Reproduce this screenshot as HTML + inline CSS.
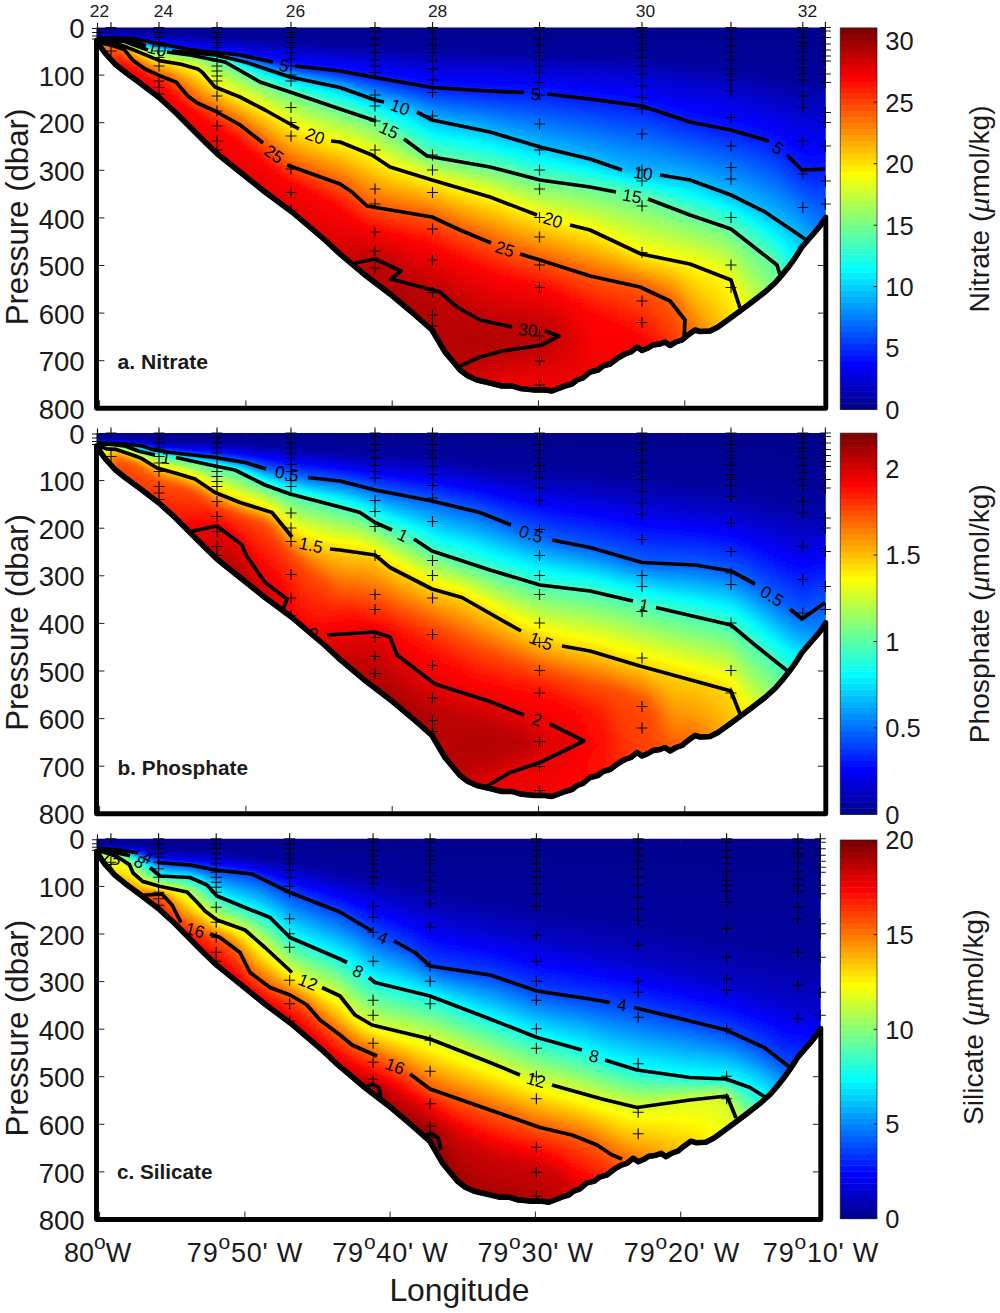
<!DOCTYPE html><html><head><meta charset="utf-8"><title>Nutrient sections</title><style>html,body{margin:0;padding:0;background:#fff}svg{display:block}</style></head><body><svg width="1000" height="1313" viewBox="0 0 1000 1313" font-family='"Liberation Sans", sans-serif' fill="#1a1a1a"><defs><filter id="bl" x="-3%" y="-3%" width="106%" height="106%"><feGaussianBlur stdDeviation="2.5 0"/></filter><linearGradient id="jet" x1="0" x2="0" y1="1" y2="0"><stop offset="0" stop-color="#00008f"/><stop offset=".109" stop-color="#0000ff"/><stop offset=".359" stop-color="#00ffff"/><stop offset=".609" stop-color="#ffff00"/><stop offset=".859" stop-color="#ff0000"/><stop offset="1" stop-color="#800000"/></linearGradient><linearGradient id="a0" gradientUnits="userSpaceOnUse" x1="0" x2="0" y1="27.5" y2="408.3"><stop offset="0" stop-color="#00008e"/><stop offset=".008" stop-color="#000096"/><stop offset=".013" stop-color="#0000a6"/><stop offset=".016" stop-color="#0000bb"/><stop offset=".018" stop-color="#0000e4"/><stop offset=".021" stop-color="#0026ff"/><stop offset=".024" stop-color="#0078ff"/><stop offset=".026" stop-color="#00d1ff"/><stop offset=".029" stop-color="#2effd1"/><stop offset=".032" stop-color="#88ff77"/><stop offset=".034" stop-color="#d2ff2d"/><stop offset=".037" stop-color="#ffff00"/><stop offset=".039" stop-color="#ffec00"/><stop offset=".042" stop-color="#ffe700"/><stop offset=".060" stop-color="#ffe700"/></linearGradient><linearGradient id="a1" gradientUnits="userSpaceOnUse" x1="0" x2="0" y1="27.5" y2="408.3"><stop offset="0" stop-color="#00008e"/><stop offset=".008" stop-color="#000096"/><stop offset=".013" stop-color="#0000a5"/><stop offset=".016" stop-color="#0000b9"/><stop offset=".018" stop-color="#0000de"/><stop offset=".021" stop-color="#0018ff"/><stop offset=".024" stop-color="#0061ff"/><stop offset=".026" stop-color="#00b4ff"/><stop offset=".029" stop-color="#12ffed"/><stop offset=".032" stop-color="#75ff8a"/><stop offset=".034" stop-color="#ccff33"/><stop offset=".037" stop-color="#fff800"/><stop offset=".039" stop-color="#ffde00"/><stop offset=".042" stop-color="#ffd600"/><stop offset=".060" stop-color="#ffd500"/></linearGradient><linearGradient id="a2" gradientUnits="userSpaceOnUse" x1="0" x2="0" y1="27.5" y2="408.3"><stop offset="0" stop-color="#00008e"/><stop offset=".008" stop-color="#000096"/><stop offset=".013" stop-color="#0000a4"/><stop offset=".016" stop-color="#0000b6"/><stop offset=".018" stop-color="#0000d3"/><stop offset=".021" stop-color="#0000fe"/><stop offset=".024" stop-color="#0036ff"/><stop offset=".026" stop-color="#007dff"/><stop offset=".029" stop-color="#00daff"/><stop offset=".032" stop-color="#4bffb4"/><stop offset=".034" stop-color="#b8ff47"/><stop offset=".037" stop-color="#fff700"/><stop offset=".039" stop-color="#ffcb00"/><stop offset=".042" stop-color="#ffb700"/><stop offset=".045" stop-color="#ffaf00"/><stop offset=".066" stop-color="#ffa800"/></linearGradient><linearGradient id="a3" gradientUnits="userSpaceOnUse" x1="0" x2="0" y1="27.5" y2="408.3"><stop offset="0" stop-color="#00008e"/><stop offset=".008" stop-color="#000096"/><stop offset=".013" stop-color="#0000a3"/><stop offset=".016" stop-color="#0000b2"/><stop offset=".018" stop-color="#0000c8"/><stop offset=".021" stop-color="#0000e6"/><stop offset=".024" stop-color="#000eff"/><stop offset=".026" stop-color="#0047ff"/><stop offset=".029" stop-color="#009fff"/><stop offset=".032" stop-color="#15ffea"/><stop offset=".034" stop-color="#8eff71"/><stop offset=".037" stop-color="#f0ff0f"/><stop offset=".039" stop-color="#ffcd00"/><stop offset=".042" stop-color="#ffa700"/><stop offset=".045" stop-color="#ff9100"/><stop offset=".050" stop-color="#ff7e00"/><stop offset=".068" stop-color="#ff6d00"/><stop offset=".089" stop-color="#ff6300"/></linearGradient><linearGradient id="a4" gradientUnits="userSpaceOnUse" x1="0" x2="0" y1="27.5" y2="408.3"><stop offset="0" stop-color="#00008e"/><stop offset=".008" stop-color="#000096"/><stop offset=".013" stop-color="#0000a2"/><stop offset=".018" stop-color="#0000c2"/><stop offset=".021" stop-color="#0000da"/><stop offset=".024" stop-color="#0000f9"/><stop offset=".026" stop-color="#0029ff"/><stop offset=".029" stop-color="#0077ff"/><stop offset=".032" stop-color="#00e2ff"/><stop offset=".034" stop-color="#59ffa6"/><stop offset=".037" stop-color="#beff41"/><stop offset=".039" stop-color="#fff500"/><stop offset=".042" stop-color="#ffc100"/><stop offset=".045" stop-color="#ff9c00"/><stop offset=".047" stop-color="#ff8200"/><stop offset=".050" stop-color="#ff7000"/><stop offset=".055" stop-color="#ff5b00"/><stop offset=".081" stop-color="#ff3600"/><stop offset=".108" stop-color="#ff2900"/></linearGradient><linearGradient id="a5" gradientUnits="userSpaceOnUse" x1="0" x2="0" y1="27.5" y2="408.3"><stop offset="0" stop-color="#00008e"/><stop offset=".008" stop-color="#000096"/><stop offset=".013" stop-color="#0000a1"/><stop offset=".018" stop-color="#0000bf"/><stop offset=".024" stop-color="#0000f1"/><stop offset=".026" stop-color="#001bff"/><stop offset=".029" stop-color="#005dff"/><stop offset=".032" stop-color="#00baff"/><stop offset=".034" stop-color="#23ffdc"/><stop offset=".037" stop-color="#80ff7f"/><stop offset=".039" stop-color="#c8ff37"/><stop offset=".042" stop-color="#fffe00"/><stop offset=".045" stop-color="#ffd200"/><stop offset=".050" stop-color="#ff8f00"/><stop offset=".055" stop-color="#ff6600"/><stop offset=".060" stop-color="#ff5100"/><stop offset=".076" stop-color="#ff3000"/><stop offset=".095" stop-color="#ff1400"/><stop offset=".108" stop-color="#ff0a00"/><stop offset=".123" stop-color="#ff0800"/></linearGradient><linearGradient id="a6" gradientUnits="userSpaceOnUse" x1="0" x2="0" y1="27.5" y2="408.3"><stop offset="0" stop-color="#00008e"/><stop offset=".013" stop-color="#0000a0"/><stop offset=".018" stop-color="#0000bc"/><stop offset=".024" stop-color="#0000eb"/><stop offset=".026" stop-color="#0010ff"/><stop offset=".029" stop-color="#0047ff"/><stop offset=".032" stop-color="#0093ff"/><stop offset=".034" stop-color="#00ebff"/><stop offset=".037" stop-color="#3dffc2"/><stop offset=".039" stop-color="#7fff80"/><stop offset=".042" stop-color="#b4ff4b"/><stop offset=".045" stop-color="#e1ff1e"/><stop offset=".047" stop-color="#fff500"/><stop offset=".053" stop-color="#ffb000"/><stop offset=".058" stop-color="#ff8200"/><stop offset=".066" stop-color="#ff5d00"/><stop offset=".076" stop-color="#ff3e00"/><stop offset=".092" stop-color="#ff1600"/><stop offset=".102" stop-color="#ff0600"/><stop offset=".110" stop-color="#fe0000"/><stop offset=".137" stop-color="#fa0000"/></linearGradient><linearGradient id="a7" gradientUnits="userSpaceOnUse" x1="0" x2="0" y1="27.5" y2="408.3"><stop offset="0" stop-color="#00008e"/><stop offset=".011" stop-color="#000099"/><stop offset=".016" stop-color="#0000a9"/><stop offset=".021" stop-color="#0000cc"/><stop offset=".026" stop-color="#0003ff"/><stop offset=".029" stop-color="#002fff"/><stop offset=".032" stop-color="#006aff"/><stop offset=".037" stop-color="#00f2ff"/><stop offset=".039" stop-color="#2fffd0"/><stop offset=".045" stop-color="#8eff71"/><stop offset=".053" stop-color="#fffe00"/><stop offset=".058" stop-color="#ffc500"/><stop offset=".066" stop-color="#ff8f00"/><stop offset=".087" stop-color="#ff3700"/><stop offset=".097" stop-color="#ff1500"/><stop offset=".110" stop-color="#fe0000"/><stop offset=".150" stop-color="#f70000"/></linearGradient><linearGradient id="a8" gradientUnits="userSpaceOnUse" x1="0" x2="0" y1="27.5" y2="408.3"><stop offset="0" stop-color="#00008e"/><stop offset=".011" stop-color="#000098"/><stop offset=".016" stop-color="#0000a6"/><stop offset=".021" stop-color="#0000c5"/><stop offset=".026" stop-color="#0000f4"/><stop offset=".029" stop-color="#0016ff"/><stop offset=".032" stop-color="#0040ff"/><stop offset=".039" stop-color="#00daff"/><stop offset=".042" stop-color="#0bfff4"/><stop offset=".047" stop-color="#61ff9e"/><stop offset=".053" stop-color="#adff52"/><stop offset=".058" stop-color="#edff12"/><stop offset=".060" stop-color="#fff700"/><stop offset=".066" stop-color="#ffcd00"/><stop offset=".074" stop-color="#ff9f00"/><stop offset=".095" stop-color="#ff3900"/><stop offset=".105" stop-color="#ff1300"/><stop offset=".116" stop-color="#ff0000"/><stop offset=".131" stop-color="#f80000"/><stop offset=".160" stop-color="#f60000"/></linearGradient><linearGradient id="a9" gradientUnits="userSpaceOnUse" x1="0" x2="0" y1="27.5" y2="408.3"><stop offset="0" stop-color="#00008e"/><stop offset=".011" stop-color="#000097"/><stop offset=".016" stop-color="#0000a2"/><stop offset=".021" stop-color="#0000bd"/><stop offset=".029" stop-color="#0000fd"/><stop offset=".032" stop-color="#001bff"/><stop offset=".034" stop-color="#003eff"/><stop offset=".045" stop-color="#00e3ff"/><stop offset=".047" stop-color="#0dfff2"/><stop offset=".055" stop-color="#82ff7d"/><stop offset=".060" stop-color="#c3ff3c"/><stop offset=".066" stop-color="#f6ff09"/><stop offset=".068" stop-color="#fff300"/><stop offset=".076" stop-color="#ffc200"/><stop offset=".100" stop-color="#ff4c00"/><stop offset=".108" stop-color="#ff2a00"/><stop offset=".116" stop-color="#ff1000"/><stop offset=".126" stop-color="#fe0000"/><stop offset=".171" stop-color="#f50000"/></linearGradient><linearGradient id="a10" gradientUnits="userSpaceOnUse" x1="0" x2="0" y1="27.5" y2="408.3"><stop offset="0" stop-color="#00008e"/><stop offset=".013" stop-color="#000099"/><stop offset=".018" stop-color="#0000a7"/><stop offset=".024" stop-color="#0000c3"/><stop offset=".032" stop-color="#0000fe"/><stop offset=".034" stop-color="#0017ff"/><stop offset=".039" stop-color="#0054ff"/><stop offset=".050" stop-color="#00eaff"/><stop offset=".053" stop-color="#14ffeb"/><stop offset=".058" stop-color="#65ff9a"/><stop offset=".063" stop-color="#a8ff57"/><stop offset=".068" stop-color="#d9ff26"/><stop offset=".074" stop-color="#fffd00"/><stop offset=".081" stop-color="#ffd000"/><stop offset=".113" stop-color="#ff3a00"/><stop offset=".121" stop-color="#ff1a00"/><stop offset=".126" stop-color="#ff0c00"/><stop offset=".134" stop-color="#ff0000"/><stop offset=".152" stop-color="#f70000"/><stop offset=".184" stop-color="#f40000"/></linearGradient><linearGradient id="a11" gradientUnits="userSpaceOnUse" x1="0" x2="0" y1="27.5" y2="408.3"><stop offset="0" stop-color="#00008e"/><stop offset=".013" stop-color="#000098"/><stop offset=".018" stop-color="#0000a2"/><stop offset=".026" stop-color="#0000c7"/><stop offset=".034" stop-color="#0000fc"/><stop offset=".039" stop-color="#002bff"/><stop offset=".045" stop-color="#0067ff"/><stop offset=".050" stop-color="#00aeff"/><stop offset=".055" stop-color="#02fffd"/><stop offset=".060" stop-color="#59ffa6"/><stop offset=".066" stop-color="#99ff66"/><stop offset=".071" stop-color="#c6ff39"/><stop offset=".079" stop-color="#fdff02"/><stop offset=".121" stop-color="#ff3c00"/><stop offset=".129" stop-color="#ff1d00"/><stop offset=".134" stop-color="#ff0f00"/><stop offset=".144" stop-color="#ff0000"/><stop offset=".165" stop-color="#f60000"/><stop offset=".197" stop-color="#f30000"/></linearGradient><linearGradient id="a12" gradientUnits="userSpaceOnUse" x1="0" x2="0" y1="27.5" y2="408.3"><stop offset="0" stop-color="#00008d"/><stop offset=".016" stop-color="#00009a"/><stop offset=".021" stop-color="#0000a6"/><stop offset=".029" stop-color="#0000cc"/><stop offset=".037" stop-color="#0000fc"/><stop offset=".042" stop-color="#0026ff"/><stop offset=".047" stop-color="#005eff"/><stop offset=".053" stop-color="#00a5ff"/><stop offset=".058" stop-color="#00fdff"/><stop offset=".060" stop-color="#2effd1"/><stop offset=".063" stop-color="#58ffa7"/><stop offset=".066" stop-color="#7aff85"/><stop offset=".068" stop-color="#93ff6c"/><stop offset=".076" stop-color="#cdff32"/><stop offset=".084" stop-color="#feff01"/><stop offset=".092" stop-color="#ffd900"/><stop offset=".129" stop-color="#ff3c00"/><stop offset=".142" stop-color="#ff1300"/><stop offset=".155" stop-color="#ff0000"/><stop offset=".176" stop-color="#f60000"/><stop offset=".207" stop-color="#f30000"/></linearGradient><linearGradient id="a13" gradientUnits="userSpaceOnUse" x1="0" x2="0" y1="27.5" y2="408.3"><stop offset="0" stop-color="#00008d"/><stop offset=".016" stop-color="#000099"/><stop offset=".021" stop-color="#0000a2"/><stop offset=".029" stop-color="#0000c4"/><stop offset=".039" stop-color="#0000fd"/><stop offset=".045" stop-color="#0024ff"/><stop offset=".050" stop-color="#005aff"/><stop offset=".055" stop-color="#00a1ff"/><stop offset=".060" stop-color="#01fffe"/><stop offset=".063" stop-color="#33ffcc"/><stop offset=".066" stop-color="#5dffa2"/><stop offset=".068" stop-color="#7cff83"/><stop offset=".074" stop-color="#a4ff5b"/><stop offset=".081" stop-color="#d8ff27"/><stop offset=".087" stop-color="#f7ff08"/><stop offset=".089" stop-color="#fff900"/><stop offset=".134" stop-color="#ff4600"/><stop offset=".142" stop-color="#ff2b00"/><stop offset=".152" stop-color="#ff1300"/><stop offset=".168" stop-color="#fe0000"/><stop offset=".189" stop-color="#f60000"/><stop offset=".221" stop-color="#f20000"/></linearGradient><linearGradient id="a14" gradientUnits="userSpaceOnUse" x1="0" x2="0" y1="27.5" y2="408.3"><stop offset="0" stop-color="#00008d"/><stop offset=".021" stop-color="#0000a0"/><stop offset=".026" stop-color="#0000b3"/><stop offset=".042" stop-color="#0000fe"/><stop offset=".047" stop-color="#0022ff"/><stop offset=".053" stop-color="#0057ff"/><stop offset=".058" stop-color="#00a1ff"/><stop offset=".060" stop-color="#00d2ff"/><stop offset=".063" stop-color="#09fff6"/><stop offset=".066" stop-color="#3cffc3"/><stop offset=".068" stop-color="#64ff9b"/><stop offset=".071" stop-color="#80ff7f"/><stop offset=".084" stop-color="#d6ff29"/><stop offset=".089" stop-color="#f5ff0a"/><stop offset=".092" stop-color="#fffb00"/><stop offset=".100" stop-color="#ffdb00"/><stop offset=".139" stop-color="#ff5000"/><stop offset=".152" stop-color="#ff2b00"/><stop offset=".163" stop-color="#ff1500"/><stop offset=".181" stop-color="#fe0000"/><stop offset=".205" stop-color="#f50000"/><stop offset=".236" stop-color="#f10000"/></linearGradient><linearGradient id="a15" gradientUnits="userSpaceOnUse" x1="0" x2="0" y1="27.5" y2="408.3"><stop offset="0" stop-color="#00008d"/><stop offset=".021" stop-color="#00009e"/><stop offset=".026" stop-color="#0000af"/><stop offset=".045" stop-color="#0000ff"/><stop offset=".050" stop-color="#0020ff"/><stop offset=".055" stop-color="#0056ff"/><stop offset=".058" stop-color="#007aff"/><stop offset=".060" stop-color="#00a7ff"/><stop offset=".063" stop-color="#00dcff"/><stop offset=".066" stop-color="#16ffe9"/><stop offset=".068" stop-color="#48ffb7"/><stop offset=".071" stop-color="#6cff93"/><stop offset=".074" stop-color="#83ff7c"/><stop offset=".087" stop-color="#d6ff29"/><stop offset=".095" stop-color="#fffd00"/><stop offset=".105" stop-color="#ffd700"/><stop offset=".142" stop-color="#ff6600"/><stop offset=".163" stop-color="#ff3100"/><stop offset=".179" stop-color="#ff1300"/><stop offset=".194" stop-color="#ff0000"/><stop offset=".215" stop-color="#f50000"/><stop offset=".249" stop-color="#f00000"/></linearGradient><linearGradient id="a16" gradientUnits="userSpaceOnUse" x1="0" x2="0" y1="27.5" y2="408.3"><stop offset="0" stop-color="#00008d"/><stop offset=".018" stop-color="#000099"/><stop offset=".024" stop-color="#0000a3"/><stop offset=".047" stop-color="#0001ff"/><stop offset=".053" stop-color="#0020ff"/><stop offset=".055" stop-color="#0038ff"/><stop offset=".058" stop-color="#0058ff"/><stop offset=".060" stop-color="#0081ff"/><stop offset=".066" stop-color="#00edff"/><stop offset=".068" stop-color="#26ffd9"/><stop offset=".071" stop-color="#52ffad"/><stop offset=".074" stop-color="#71ff8e"/><stop offset=".076" stop-color="#86ff79"/><stop offset=".089" stop-color="#d4ff2b"/><stop offset=".097" stop-color="#fdff02"/><stop offset=".108" stop-color="#ffde00"/><stop offset=".147" stop-color="#ff7700"/><stop offset=".179" stop-color="#ff2f00"/><stop offset=".197" stop-color="#ff0c00"/><stop offset=".207" stop-color="#fe0000"/><stop offset=".231" stop-color="#f40000"/><stop offset=".265" stop-color="#f00000"/></linearGradient><linearGradient id="a17" gradientUnits="userSpaceOnUse" x1="0" x2="0" y1="27.5" y2="408.3"><stop offset="0" stop-color="#00008d"/><stop offset=".018" stop-color="#000099"/><stop offset=".024" stop-color="#0000a1"/><stop offset=".050" stop-color="#0003ff"/><stop offset=".055" stop-color="#0021ff"/><stop offset=".058" stop-color="#003bff"/><stop offset=".060" stop-color="#0060ff"/><stop offset=".063" stop-color="#008fff"/><stop offset=".068" stop-color="#00ffff"/><stop offset=".071" stop-color="#33ffcc"/><stop offset=".074" stop-color="#58ffa7"/><stop offset=".076" stop-color="#73ff8c"/><stop offset=".081" stop-color="#95ff6a"/><stop offset=".092" stop-color="#cfff30"/><stop offset=".102" stop-color="#fffe00"/><stop offset=".121" stop-color="#ffce00"/><stop offset=".200" stop-color="#ff1e00"/><stop offset=".213" stop-color="#ff0600"/><stop offset=".218" stop-color="#ff0000"/><stop offset=".244" stop-color="#f40000"/><stop offset=".281" stop-color="#ef0000"/></linearGradient><linearGradient id="a18" gradientUnits="userSpaceOnUse" x1="0" x2="0" y1="27.5" y2="408.3"><stop offset="0" stop-color="#00008d"/><stop offset=".024" stop-color="#00009f"/><stop offset=".050" stop-color="#0000fa"/><stop offset=".053" stop-color="#0005ff"/><stop offset=".058" stop-color="#0025ff"/><stop offset=".060" stop-color="#0044ff"/><stop offset=".063" stop-color="#006eff"/><stop offset=".068" stop-color="#00d9ff"/><stop offset=".071" stop-color="#0efff1"/><stop offset=".074" stop-color="#39ffc6"/><stop offset=".076" stop-color="#5affa5"/><stop offset=".081" stop-color="#83ff7c"/><stop offset=".097" stop-color="#d3ff2c"/><stop offset=".108" stop-color="#fdff02"/><stop offset=".181" stop-color="#ff6500"/><stop offset=".213" stop-color="#ff1800"/><stop offset=".223" stop-color="#ff0600"/><stop offset=".228" stop-color="#ff0000"/><stop offset=".257" stop-color="#f30000"/><stop offset=".297" stop-color="#ee0000"/></linearGradient><linearGradient id="a19" gradientUnits="userSpaceOnUse" x1="0" x2="0" y1="27.5" y2="408.3"><stop offset="0" stop-color="#00008d"/><stop offset=".024" stop-color="#00009e"/><stop offset=".053" stop-color="#0000fd"/><stop offset=".055" stop-color="#0008ff"/><stop offset=".058" stop-color="#0016ff"/><stop offset=".060" stop-color="#002eff"/><stop offset=".063" stop-color="#0051ff"/><stop offset=".071" stop-color="#00e7ff"/><stop offset=".074" stop-color="#15ffea"/><stop offset=".076" stop-color="#3bffc4"/><stop offset=".079" stop-color="#58ffa7"/><stop offset=".084" stop-color="#7dff82"/><stop offset=".105" stop-color="#d8ff27"/><stop offset=".118" stop-color="#fffe00"/><stop offset=".189" stop-color="#ff6b00"/><stop offset=".221" stop-color="#ff1d00"/><stop offset=".234" stop-color="#ff0600"/><stop offset=".242" stop-color="#fd0000"/><stop offset=".276" stop-color="#f20000"/><stop offset=".312" stop-color="#ed0000"/></linearGradient><linearGradient id="a20" gradientUnits="userSpaceOnUse" x1="0" x2="0" y1="27.5" y2="408.3"><stop offset="0" stop-color="#00008d"/><stop offset=".021" stop-color="#00009a"/><stop offset=".026" stop-color="#0000a2"/><stop offset=".055" stop-color="#0002ff"/><stop offset=".060" stop-color="#001dff"/><stop offset=".063" stop-color="#0039ff"/><stop offset=".066" stop-color="#0062ff"/><stop offset=".074" stop-color="#00f1ff"/><stop offset=".076" stop-color="#19ffe6"/><stop offset=".081" stop-color="#54ffab"/><stop offset=".084" stop-color="#68ff97"/><stop offset=".089" stop-color="#81ff7e"/><stop offset=".113" stop-color="#d2ff2d"/><stop offset=".131" stop-color="#fffd00"/><stop offset=".197" stop-color="#ff6f00"/><stop offset=".228" stop-color="#ff2000"/><stop offset=".242" stop-color="#ff0900"/><stop offset=".252" stop-color="#fe0000"/><stop offset=".291" stop-color="#f10000"/><stop offset=".328" stop-color="#ec0000"/></linearGradient><linearGradient id="a21" gradientUnits="userSpaceOnUse" x1="0" x2="0" y1="27.5" y2="408.3"><stop offset="0" stop-color="#00008d"/><stop offset=".026" stop-color="#0000a0"/><stop offset=".055" stop-color="#0000fc"/><stop offset=".058" stop-color="#0006ff"/><stop offset=".060" stop-color="#0012ff"/><stop offset=".063" stop-color="#0026ff"/><stop offset=".066" stop-color="#0046ff"/><stop offset=".074" stop-color="#00ccff"/><stop offset=".076" stop-color="#00f4ff"/><stop offset=".079" stop-color="#18ffe7"/><stop offset=".084" stop-color="#4fffb0"/><stop offset=".087" stop-color="#61ff9e"/><stop offset=".092" stop-color="#78ff87"/><stop offset=".121" stop-color="#c9ff36"/><stop offset=".144" stop-color="#fffc00"/><stop offset=".234" stop-color="#ff2a00"/><stop offset=".252" stop-color="#ff0900"/><stop offset=".263" stop-color="#fe0000"/><stop offset=".305" stop-color="#f00000"/><stop offset=".344" stop-color="#ec0000"/></linearGradient><linearGradient id="a22" gradientUnits="userSpaceOnUse" x1="0" x2="0" y1="27.5" y2="408.3"><stop offset="0" stop-color="#00008d"/><stop offset=".026" stop-color="#00009e"/><stop offset=".058" stop-color="#0000ff"/><stop offset=".063" stop-color="#0018ff"/><stop offset=".066" stop-color="#002fff"/><stop offset=".068" stop-color="#0051ff"/><stop offset=".074" stop-color="#00a4ff"/><stop offset=".079" stop-color="#00f0ff"/><stop offset=".081" stop-color="#11ffee"/><stop offset=".087" stop-color="#46ffb9"/><stop offset=".089" stop-color="#58ffa7"/><stop offset=".095" stop-color="#6fff90"/><stop offset=".118" stop-color="#acff53"/><stop offset=".155" stop-color="#fffd00"/><stop offset=".234" stop-color="#ff3f00"/><stop offset=".249" stop-color="#ff1d00"/><stop offset=".263" stop-color="#ff0800"/><stop offset=".273" stop-color="#fe0000"/><stop offset=".320" stop-color="#ef0000"/><stop offset=".360" stop-color="#eb0000"/></linearGradient><linearGradient id="a23" gradientUnits="userSpaceOnUse" x1="0" x2="0" y1="27.5" y2="408.3"><stop offset="0" stop-color="#00008d"/><stop offset=".024" stop-color="#00009a"/><stop offset=".029" stop-color="#0000a2"/><stop offset=".060" stop-color="#0003ff"/><stop offset=".066" stop-color="#001dff"/><stop offset=".068" stop-color="#0035ff"/><stop offset=".079" stop-color="#00c4ff"/><stop offset=".081" stop-color="#00e6ff"/><stop offset=".084" stop-color="#06fff9"/><stop offset=".089" stop-color="#38ffc7"/><stop offset=".092" stop-color="#49ffb6"/><stop offset=".100" stop-color="#6cff93"/><stop offset=".113" stop-color="#8fff70"/><stop offset=".163" stop-color="#fffe00"/><stop offset=".239" stop-color="#ff4700"/><stop offset=".260" stop-color="#ff1c00"/><stop offset=".273" stop-color="#ff0800"/><stop offset=".284" stop-color="#fe0000"/><stop offset=".336" stop-color="#ee0000"/><stop offset=".373" stop-color="#ea0000"/></linearGradient><linearGradient id="a24" gradientUnits="userSpaceOnUse" x1="0" x2="0" y1="27.5" y2="408.3"><stop offset="0" stop-color="#00008d"/><stop offset=".029" stop-color="#00009f"/><stop offset=".060" stop-color="#0000fd"/><stop offset=".063" stop-color="#0006ff"/><stop offset=".068" stop-color="#0021ff"/><stop offset=".071" stop-color="#0039ff"/><stop offset=".084" stop-color="#00d8ff"/><stop offset=".087" stop-color="#00f3ff"/><stop offset=".089" stop-color="#0cfff3"/><stop offset=".097" stop-color="#42ffbd"/><stop offset=".108" stop-color="#6eff91"/><stop offset=".123" stop-color="#97ff68"/><stop offset=".171" stop-color="#fffc00"/><stop offset=".244" stop-color="#ff5000"/><stop offset=".268" stop-color="#ff2000"/><stop offset=".284" stop-color="#ff0800"/><stop offset=".294" stop-color="#fe0000"/><stop offset=".347" stop-color="#ed0000"/><stop offset=".383" stop-color="#e90000"/></linearGradient><linearGradient id="a25" gradientUnits="userSpaceOnUse" x1="0" x2="0" y1="27.5" y2="408.3"><stop offset="0" stop-color="#00008d"/><stop offset=".029" stop-color="#00009d"/><stop offset=".063" stop-color="#0000ff"/><stop offset=".068" stop-color="#0014ff"/><stop offset=".071" stop-color="#0024ff"/><stop offset=".076" stop-color="#0056ff"/><stop offset=".087" stop-color="#00c7ff"/><stop offset=".092" stop-color="#00f4ff"/><stop offset=".095" stop-color="#08fff7"/><stop offset=".105" stop-color="#46ffb9"/><stop offset=".116" stop-color="#6eff91"/><stop offset=".176" stop-color="#feff01"/><stop offset=".255" stop-color="#ff4e00"/><stop offset=".278" stop-color="#ff1f00"/><stop offset=".294" stop-color="#ff0800"/><stop offset=".305" stop-color="#fe0000"/><stop offset=".360" stop-color="#ec0000"/><stop offset=".397" stop-color="#e80000"/></linearGradient><linearGradient id="a26" gradientUnits="userSpaceOnUse" x1="0" x2="0" y1="27.5" y2="408.3"><stop offset="0" stop-color="#00008d"/><stop offset=".032" stop-color="#0000a0"/><stop offset=".066" stop-color="#0001ff"/><stop offset=".071" stop-color="#0015ff"/><stop offset=".074" stop-color="#0025ff"/><stop offset=".079" stop-color="#0051ff"/><stop offset=".089" stop-color="#00b7ff"/><stop offset=".095" stop-color="#00dfff"/><stop offset=".100" stop-color="#02fffd"/><stop offset=".110" stop-color="#3affc5"/><stop offset=".123" stop-color="#6cff93"/><stop offset=".184" stop-color="#ffff00"/><stop offset=".260" stop-color="#ff5900"/><stop offset=".289" stop-color="#ff2100"/><stop offset=".305" stop-color="#ff0a00"/><stop offset=".315" stop-color="#ff0000"/><stop offset=".370" stop-color="#ec0000"/><stop offset=".410" stop-color="#e80000"/></linearGradient><linearGradient id="a27" gradientUnits="userSpaceOnUse" x1="0" x2="0" y1="27.5" y2="408.3"><stop offset="0" stop-color="#00008d"/><stop offset=".032" stop-color="#00009e"/><stop offset=".068" stop-color="#0002ff"/><stop offset=".076" stop-color="#0023ff"/><stop offset=".081" stop-color="#004aff"/><stop offset=".095" stop-color="#00baff"/><stop offset=".105" stop-color="#00faff"/><stop offset=".108" stop-color="#09fff6"/><stop offset=".121" stop-color="#46ffb9"/><stop offset=".134" stop-color="#72ff8d"/><stop offset=".192" stop-color="#ffff00"/><stop offset=".276" stop-color="#ff5000"/><stop offset=".302" stop-color="#ff1f00"/><stop offset=".318" stop-color="#ff0900"/><stop offset=".328" stop-color="#fe0000"/><stop offset=".383" stop-color="#ec0000"/><stop offset=".423" stop-color="#e70000"/></linearGradient><linearGradient id="a28" gradientUnits="userSpaceOnUse" x1="0" x2="0" y1="27.5" y2="408.3"><stop offset="0" stop-color="#00008d"/><stop offset=".034" stop-color="#0000a0"/><stop offset=".071" stop-color="#0001ff"/><stop offset=".076" stop-color="#0013ff"/><stop offset=".081" stop-color="#002eff"/><stop offset=".100" stop-color="#00bbff"/><stop offset=".113" stop-color="#02fffd"/><stop offset=".129" stop-color="#46ffb9"/><stop offset=".142" stop-color="#71ff8e"/><stop offset=".200" stop-color="#feff01"/><stop offset=".297" stop-color="#ff3f00"/><stop offset=".318" stop-color="#ff1900"/><stop offset=".331" stop-color="#ff0800"/><stop offset=".341" stop-color="#fe0000"/><stop offset=".397" stop-color="#eb0000"/><stop offset=".436" stop-color="#e60000"/></linearGradient><linearGradient id="a29" gradientUnits="userSpaceOnUse" x1="0" x2="0" y1="27.5" y2="408.3"><stop offset="0" stop-color="#00008d"/><stop offset=".034" stop-color="#00009e"/><stop offset=".074" stop-color="#0001ff"/><stop offset=".079" stop-color="#0010ff"/><stop offset=".084" stop-color="#0028ff"/><stop offset=".100" stop-color="#009aff"/><stop offset=".108" stop-color="#00caff"/><stop offset=".118" stop-color="#00fbff"/><stop offset=".121" stop-color="#07fff8"/><stop offset=".137" stop-color="#48ffb7"/><stop offset=".150" stop-color="#73ff8c"/><stop offset=".207" stop-color="#feff01"/><stop offset=".318" stop-color="#ff2f00"/><stop offset=".344" stop-color="#ff0800"/><stop offset=".355" stop-color="#fe0000"/><stop offset=".410" stop-color="#ea0000"/><stop offset=".446" stop-color="#e50000"/></linearGradient><linearGradient id="a30" gradientUnits="userSpaceOnUse" x1="0" x2="0" y1="27.5" y2="408.3"><stop offset="0" stop-color="#00008d"/><stop offset=".037" stop-color="#0000a1"/><stop offset=".076" stop-color="#0000ff"/><stop offset=".087" stop-color="#0023ff"/><stop offset=".110" stop-color="#00bbff"/><stop offset=".121" stop-color="#00edff"/><stop offset=".126" stop-color="#04fffb"/><stop offset=".144" stop-color="#4fffb0"/><stop offset=".155" stop-color="#70ff8f"/><stop offset=".207" stop-color="#ecff13"/><stop offset=".218" stop-color="#fffc00"/><stop offset=".336" stop-color="#ff2600"/><stop offset=".357" stop-color="#ff0800"/><stop offset=".368" stop-color="#fe0000"/><stop offset=".423" stop-color="#e90000"/><stop offset=".460" stop-color="#e50000"/></linearGradient><linearGradient id="a31" gradientUnits="userSpaceOnUse" x1="0" x2="0" y1="27.5" y2="408.3"><stop offset="0" stop-color="#00008d"/><stop offset=".037" stop-color="#00009f"/><stop offset=".079" stop-color="#0000ff"/><stop offset=".087" stop-color="#0015ff"/><stop offset=".092" stop-color="#002bff"/><stop offset=".113" stop-color="#00aeff"/><stop offset=".123" stop-color="#00e1ff"/><stop offset=".131" stop-color="#03fffc"/><stop offset=".150" stop-color="#4effb1"/><stop offset=".160" stop-color="#6fff90"/><stop offset=".226" stop-color="#fffd00"/><stop offset=".355" stop-color="#ff1e00"/><stop offset=".373" stop-color="#ff0500"/><stop offset=".381" stop-color="#fe0000"/><stop offset=".436" stop-color="#e80000"/><stop offset=".473" stop-color="#e40000"/></linearGradient><linearGradient id="a32" gradientUnits="userSpaceOnUse" x1="0" x2="0" y1="27.5" y2="408.3"><stop offset="0" stop-color="#00008d"/><stop offset=".037" stop-color="#00009d"/><stop offset=".081" stop-color="#0000ff"/><stop offset=".089" stop-color="#0013ff"/><stop offset=".095" stop-color="#0027ff"/><stop offset=".118" stop-color="#00b0ff"/><stop offset=".129" stop-color="#00e1ff"/><stop offset=".137" stop-color="#03fffc"/><stop offset=".155" stop-color="#4dffb2"/><stop offset=".165" stop-color="#6eff91"/><stop offset=".234" stop-color="#ffff00"/><stop offset=".331" stop-color="#ff6100"/><stop offset=".370" stop-color="#ff1a00"/><stop offset=".386" stop-color="#ff0500"/><stop offset=".391" stop-color="#ff0000"/><stop offset=".449" stop-color="#e70000"/><stop offset=".483" stop-color="#e30000"/></linearGradient><linearGradient id="a33" gradientUnits="userSpaceOnUse" x1="0" x2="0" y1="27.5" y2="408.3"><stop offset="0" stop-color="#00008d"/><stop offset=".039" stop-color="#00009f"/><stop offset=".084" stop-color="#0000ff"/><stop offset=".092" stop-color="#0012ff"/><stop offset=".097" stop-color="#0025ff"/><stop offset=".123" stop-color="#00b2ff"/><stop offset=".137" stop-color="#00edff"/><stop offset=".142" stop-color="#04fffb"/><stop offset=".160" stop-color="#4effb1"/><stop offset=".171" stop-color="#6dff92"/><stop offset=".242" stop-color="#feff01"/><stop offset=".339" stop-color="#ff6800"/><stop offset=".383" stop-color="#ff1800"/><stop offset=".399" stop-color="#ff0200"/><stop offset=".460" stop-color="#e70000"/><stop offset=".494" stop-color="#e20000"/></linearGradient><linearGradient id="a34" gradientUnits="userSpaceOnUse" x1="0" x2="0" y1="27.5" y2="408.3"><stop offset="0" stop-color="#00008d"/><stop offset=".039" stop-color="#00009e"/><stop offset=".087" stop-color="#0000ff"/><stop offset=".100" stop-color="#0023ff"/><stop offset=".129" stop-color="#00b7ff"/><stop offset=".144" stop-color="#00faff"/><stop offset=".147" stop-color="#06fff9"/><stop offset=".165" stop-color="#4effb1"/><stop offset=".176" stop-color="#6dff92"/><stop offset=".239" stop-color="#e9ff16"/><stop offset=".252" stop-color="#fffd00"/><stop offset=".352" stop-color="#ff6300"/><stop offset=".394" stop-color="#ff1600"/><stop offset=".410" stop-color="#ff0100"/><stop offset=".470" stop-color="#e70000"/><stop offset=".507" stop-color="#e10000"/></linearGradient><linearGradient id="a35" gradientUnits="userSpaceOnUse" x1="0" x2="0" y1="27.5" y2="408.3"><stop offset="0" stop-color="#00008d"/><stop offset=".042" stop-color="#0000a0"/><stop offset=".089" stop-color="#0001ff"/><stop offset=".102" stop-color="#0023ff"/><stop offset=".134" stop-color="#00bdff"/><stop offset=".150" stop-color="#00fdff"/><stop offset=".152" stop-color="#09fff6"/><stop offset=".171" stop-color="#4fffb0"/><stop offset=".181" stop-color="#6cff93"/><stop offset=".260" stop-color="#fffd00"/><stop offset=".360" stop-color="#ff6300"/><stop offset=".402" stop-color="#ff1700"/><stop offset=".418" stop-color="#ff0100"/><stop offset=".483" stop-color="#e60000"/><stop offset=".520" stop-color="#e10000"/></linearGradient><linearGradient id="a36" gradientUnits="userSpaceOnUse" x1="0" x2="0" y1="27.5" y2="408.3"><stop offset="0" stop-color="#00008d"/><stop offset=".042" stop-color="#00009e"/><stop offset=".066" stop-color="#0000d0"/><stop offset=".092" stop-color="#0003ff"/><stop offset=".100" stop-color="#0013ff"/><stop offset=".105" stop-color="#0024ff"/><stop offset=".137" stop-color="#00baff"/><stop offset=".155" stop-color="#02fffd"/><stop offset=".176" stop-color="#4fffb0"/><stop offset=".186" stop-color="#6cff93"/><stop offset=".265" stop-color="#feff01"/><stop offset=".368" stop-color="#ff6000"/><stop offset=".412" stop-color="#ff1200"/><stop offset=".425" stop-color="#ff0200"/><stop offset=".494" stop-color="#e50000"/><stop offset=".533" stop-color="#e00000"/></linearGradient><linearGradient id="a37" gradientUnits="userSpaceOnUse" x1="0" x2="0" y1="27.5" y2="408.3"><stop offset="0" stop-color="#00008d"/><stop offset=".042" stop-color="#00009d"/><stop offset=".092" stop-color="#0000ff"/><stop offset=".102" stop-color="#0015ff"/><stop offset=".108" stop-color="#0027ff"/><stop offset=".139" stop-color="#00b7ff"/><stop offset=".158" stop-color="#00fcff"/><stop offset=".160" stop-color="#06fff9"/><stop offset=".181" stop-color="#50ffaf"/><stop offset=".192" stop-color="#6bff94"/><stop offset=".273" stop-color="#fffd00"/><stop offset=".418" stop-color="#ff1600"/><stop offset=".433" stop-color="#ff0200"/><stop offset=".507" stop-color="#e50000"/><stop offset=".546" stop-color="#df0000"/></linearGradient><linearGradient id="a38" gradientUnits="userSpaceOnUse" x1="0" x2="0" y1="27.5" y2="408.3"><stop offset="0" stop-color="#00008d"/><stop offset=".045" stop-color="#0000a0"/><stop offset=".095" stop-color="#0002ff"/><stop offset=".108" stop-color="#001fff"/><stop offset=".142" stop-color="#00b4ff"/><stop offset=".163" stop-color="#01fffe"/><stop offset=".184" stop-color="#48ffb7"/><stop offset=".197" stop-color="#6bff94"/><stop offset=".278" stop-color="#ffff00"/><stop offset=".423" stop-color="#ff1900"/><stop offset=".441" stop-color="#ff0200"/><stop offset=".520" stop-color="#e40000"/><stop offset=".559" stop-color="#de0000"/></linearGradient><linearGradient id="a39" gradientUnits="userSpaceOnUse" x1="0" x2="0" y1="27.5" y2="408.3"><stop offset="0" stop-color="#00008d"/><stop offset=".045" stop-color="#00009e"/><stop offset=".071" stop-color="#0000d2"/><stop offset=".097" stop-color="#0003ff"/><stop offset=".110" stop-color="#0022ff"/><stop offset=".147" stop-color="#00bcff"/><stop offset=".165" stop-color="#00fbff"/><stop offset=".168" stop-color="#04fffb"/><stop offset=".189" stop-color="#49ffb6"/><stop offset=".202" stop-color="#6bff94"/><stop offset=".284" stop-color="#feff01"/><stop offset=".425" stop-color="#ff2100"/><stop offset=".449" stop-color="#ff0300"/><stop offset=".533" stop-color="#e30000"/><stop offset=".572" stop-color="#dd0000"/></linearGradient><linearGradient id="a40" gradientUnits="userSpaceOnUse" x1="0" x2="0" y1="27.5" y2="408.3"><stop offset="0" stop-color="#00008d"/><stop offset=".045" stop-color="#00009d"/><stop offset=".097" stop-color="#0001ff"/><stop offset=".108" stop-color="#0015ff"/><stop offset=".113" stop-color="#0025ff"/><stop offset=".150" stop-color="#00baff"/><stop offset=".171" stop-color="#00feff"/><stop offset=".173" stop-color="#08fff7"/><stop offset=".194" stop-color="#49ffb6"/><stop offset=".207" stop-color="#6bff94"/><stop offset=".289" stop-color="#feff01"/><stop offset=".404" stop-color="#ff4b00"/><stop offset=".441" stop-color="#ff1500"/><stop offset=".457" stop-color="#ff0300"/><stop offset=".546" stop-color="#e10000"/><stop offset=".586" stop-color="#db0000"/></linearGradient><linearGradient id="a41" gradientUnits="userSpaceOnUse" x1="0" x2="0" y1="27.5" y2="408.3"><stop offset="0" stop-color="#00008d"/><stop offset=".047" stop-color="#00009f"/><stop offset=".100" stop-color="#0002ff"/><stop offset=".113" stop-color="#001eff"/><stop offset=".152" stop-color="#00b7ff"/><stop offset=".176" stop-color="#02fffd"/><stop offset=".210" stop-color="#65ff9a"/><stop offset=".294" stop-color="#ffff00"/><stop offset=".404" stop-color="#ff5400"/><stop offset=".449" stop-color="#ff1500"/><stop offset=".465" stop-color="#ff0300"/><stop offset=".562" stop-color="#dd0000"/><stop offset=".601" stop-color="#d70000"/></linearGradient><linearGradient id="a42" gradientUnits="userSpaceOnUse" x1="0" x2="0" y1="27.5" y2="408.3"><stop offset="0" stop-color="#00008d"/><stop offset=".047" stop-color="#00009e"/><stop offset=".100" stop-color="#0000fe"/><stop offset=".102" stop-color="#0004ff"/><stop offset=".116" stop-color="#0020ff"/><stop offset=".155" stop-color="#00b2ff"/><stop offset=".179" stop-color="#00fbff"/><stop offset=".181" stop-color="#04fffb"/><stop offset=".205" stop-color="#4affb5"/><stop offset=".218" stop-color="#6aff95"/><stop offset=".299" stop-color="#fffd00"/><stop offset=".410" stop-color="#ff5600"/><stop offset=".457" stop-color="#ff1600"/><stop offset=".475" stop-color="#ff0200"/><stop offset=".578" stop-color="#d70000"/><stop offset=".617" stop-color="#d10000"/></linearGradient><linearGradient id="a43" gradientUnits="userSpaceOnUse" x1="0" x2="0" y1="27.5" y2="408.3"><stop offset="0" stop-color="#00008d"/><stop offset=".047" stop-color="#00009d"/><stop offset=".102" stop-color="#0000ff"/><stop offset=".118" stop-color="#0020ff"/><stop offset=".160" stop-color="#00b5ff"/><stop offset=".184" stop-color="#00fcff"/><stop offset=".186" stop-color="#05fffa"/><stop offset=".210" stop-color="#4affb5"/><stop offset=".223" stop-color="#6aff95"/><stop offset=".305" stop-color="#fffc00"/><stop offset=".420" stop-color="#ff5400"/><stop offset=".467" stop-color="#ff1500"/><stop offset=".488" stop-color="#ff0000"/><stop offset=".591" stop-color="#d00000"/><stop offset=".630" stop-color="#c90000"/></linearGradient><linearGradient id="a44" gradientUnits="userSpaceOnUse" x1="0" x2="0" y1="27.5" y2="408.3"><stop offset="0" stop-color="#00008d"/><stop offset=".050" stop-color="#00009f"/><stop offset=".105" stop-color="#0001ff"/><stop offset=".121" stop-color="#0020ff"/><stop offset=".165" stop-color="#00b5ff"/><stop offset=".189" stop-color="#00fcff"/><stop offset=".192" stop-color="#05fffa"/><stop offset=".215" stop-color="#4affb5"/><stop offset=".228" stop-color="#6aff95"/><stop offset=".310" stop-color="#fffd00"/><stop offset=".425" stop-color="#ff5b00"/><stop offset=".478" stop-color="#ff1600"/><stop offset=".499" stop-color="#ff0000"/><stop offset=".607" stop-color="#c70000"/><stop offset=".643" stop-color="#c20000"/></linearGradient><linearGradient id="a45" gradientUnits="userSpaceOnUse" x1="0" x2="0" y1="27.5" y2="408.3"><stop offset="0" stop-color="#00008d"/><stop offset=".050" stop-color="#00009e"/><stop offset=".108" stop-color="#0001ff"/><stop offset=".126" stop-color="#0026ff"/><stop offset=".171" stop-color="#00b5ff"/><stop offset=".194" stop-color="#00fbff"/><stop offset=".197" stop-color="#04fffb"/><stop offset=".221" stop-color="#4affb5"/><stop offset=".234" stop-color="#6aff95"/><stop offset=".315" stop-color="#ffff00"/><stop offset=".486" stop-color="#ff1b00"/><stop offset=".509" stop-color="#ff0000"/><stop offset=".612" stop-color="#c10000"/><stop offset=".657" stop-color="#bc0000"/></linearGradient><linearGradient id="a46" gradientUnits="userSpaceOnUse" x1="0" x2="0" y1="27.5" y2="408.3"><stop offset="0" stop-color="#00008d"/><stop offset=".050" stop-color="#00009d"/><stop offset=".110" stop-color="#0001ff"/><stop offset=".129" stop-color="#0024ff"/><stop offset=".176" stop-color="#00b5ff"/><stop offset=".202" stop-color="#04fffb"/><stop offset=".226" stop-color="#4affb5"/><stop offset=".239" stop-color="#6aff95"/><stop offset=".323" stop-color="#fffc00"/><stop offset=".517" stop-color="#ff0100"/><stop offset=".612" stop-color="#be0000"/><stop offset=".670" stop-color="#b80000"/></linearGradient><linearGradient id="a47" gradientUnits="userSpaceOnUse" x1="0" x2="0" y1="27.5" y2="408.3"><stop offset="0" stop-color="#00008d"/><stop offset=".050" stop-color="#00009c"/><stop offset=".113" stop-color="#0002ff"/><stop offset=".131" stop-color="#0023ff"/><stop offset=".207" stop-color="#03fffc"/><stop offset=".231" stop-color="#49ffb6"/><stop offset=".244" stop-color="#69ff96"/><stop offset=".328" stop-color="#feff01"/><stop offset=".465" stop-color="#ff5400"/><stop offset=".525" stop-color="#ff0000"/><stop offset=".612" stop-color="#bc0000"/><stop offset=".683" stop-color="#b40000"/></linearGradient><linearGradient id="a48" gradientUnits="userSpaceOnUse" x1="0" x2="0" y1="27.5" y2="408.3"><stop offset="0" stop-color="#00008d"/><stop offset=".053" stop-color="#00009e"/><stop offset=".079" stop-color="#0000cb"/><stop offset=".116" stop-color="#0002ff"/><stop offset=".129" stop-color="#0016ff"/><stop offset=".137" stop-color="#0029ff"/><stop offset=".213" stop-color="#03fffc"/><stop offset=".236" stop-color="#47ffb8"/><stop offset=".249" stop-color="#66ff99"/><stop offset=".323" stop-color="#e8ff17"/><stop offset=".339" stop-color="#fffd00"/><stop offset=".467" stop-color="#ff5800"/><stop offset=".530" stop-color="#ff0000"/><stop offset=".612" stop-color="#bc0000"/><stop offset=".693" stop-color="#b10000"/></linearGradient><linearGradient id="a49" gradientUnits="userSpaceOnUse" x1="0" x2="0" y1="27.5" y2="408.3"><stop offset="0" stop-color="#00008d"/><stop offset=".053" stop-color="#00009d"/><stop offset=".079" stop-color="#0000c8"/><stop offset=".118" stop-color="#0002ff"/><stop offset=".131" stop-color="#0016ff"/><stop offset=".139" stop-color="#0028ff"/><stop offset=".218" stop-color="#01fffe"/><stop offset=".242" stop-color="#42ffbd"/><stop offset=".257" stop-color="#65ff9a"/><stop offset=".347" stop-color="#ffff00"/><stop offset=".533" stop-color="#ff0200"/><stop offset=".617" stop-color="#bc0000"/><stop offset=".706" stop-color="#ae0000"/></linearGradient><linearGradient id="a50" gradientUnits="userSpaceOnUse" x1="0" x2="0" y1="27.5" y2="408.3"><stop offset="0" stop-color="#00008d"/><stop offset=".055" stop-color="#00009e"/><stop offset=".081" stop-color="#0000ca"/><stop offset=".121" stop-color="#0002ff"/><stop offset=".139" stop-color="#0020ff"/><stop offset=".205" stop-color="#00cfff"/><stop offset=".223" stop-color="#00feff"/><stop offset=".226" stop-color="#05fffa"/><stop offset=".252" stop-color="#47ffb8"/><stop offset=".268" stop-color="#68ff97"/><stop offset=".357" stop-color="#fffd00"/><stop offset=".538" stop-color="#ff0100"/><stop offset=".622" stop-color="#bd0000"/><stop offset=".717" stop-color="#ab0000"/></linearGradient><linearGradient id="a51" gradientUnits="userSpaceOnUse" x1="0" x2="0" y1="27.5" y2="408.3"><stop offset="0" stop-color="#00008d"/><stop offset=".055" stop-color="#00009d"/><stop offset=".084" stop-color="#0000cb"/><stop offset=".123" stop-color="#0002ff"/><stop offset=".142" stop-color="#0020ff"/><stop offset=".202" stop-color="#00bcff"/><stop offset=".231" stop-color="#01fffe"/><stop offset=".276" stop-color="#64ff9b"/><stop offset=".365" stop-color="#fffd00"/><stop offset=".481" stop-color="#ff5300"/><stop offset=".544" stop-color="#ff0000"/><stop offset=".630" stop-color="#be0000"/><stop offset=".730" stop-color="#a90000"/></linearGradient><linearGradient id="a52" gradientUnits="userSpaceOnUse" x1="0" x2="0" y1="27.5" y2="408.3"><stop offset="0" stop-color="#00008d"/><stop offset=".055" stop-color="#00009c"/><stop offset=".087" stop-color="#0000cc"/><stop offset=".126" stop-color="#0003ff"/><stop offset=".144" stop-color="#001fff"/><stop offset=".207" stop-color="#00bdff"/><stop offset=".239" stop-color="#03fffc"/><stop offset=".281" stop-color="#5bffa4"/><stop offset=".370" stop-color="#fffe00"/><stop offset=".483" stop-color="#ff5400"/><stop offset=".546" stop-color="#ff0200"/><stop offset=".636" stop-color="#c20000"/><stop offset=".712" stop-color="#aa0000"/><stop offset=".743" stop-color="#a70000"/></linearGradient><linearGradient id="a53" gradientUnits="userSpaceOnUse" x1="0" x2="0" y1="27.5" y2="408.3"><stop offset="0" stop-color="#00008d"/><stop offset=".058" stop-color="#00009e"/><stop offset=".084" stop-color="#0000c6"/><stop offset=".126" stop-color="#0000fe"/><stop offset=".147" stop-color="#001fff"/><stop offset=".213" stop-color="#00beff"/><stop offset=".244" stop-color="#00feff"/><stop offset=".247" stop-color="#04fffb"/><stop offset=".376" stop-color="#ffff00"/><stop offset=".486" stop-color="#ff5400"/><stop offset=".551" stop-color="#ff0100"/><stop offset=".641" stop-color="#c70000"/><stop offset=".714" stop-color="#ac0000"/><stop offset=".756" stop-color="#a70000"/></linearGradient><linearGradient id="a54" gradientUnits="userSpaceOnUse" x1="0" x2="0" y1="27.5" y2="408.3"><stop offset="0" stop-color="#00008d"/><stop offset=".058" stop-color="#00009d"/><stop offset=".129" stop-color="#0000ff"/><stop offset=".150" stop-color="#001eff"/><stop offset=".218" stop-color="#00beff"/><stop offset=".252" stop-color="#00ffff"/><stop offset=".255" stop-color="#05fffa"/><stop offset=".318" stop-color="#7aff85"/><stop offset=".381" stop-color="#ffff00"/><stop offset=".488" stop-color="#ff5400"/><stop offset=".557" stop-color="#ff0000"/><stop offset=".675" stop-color="#bb0000"/><stop offset=".733" stop-color="#ac0000"/><stop offset=".769" stop-color="#a90000"/></linearGradient><linearGradient id="a55" gradientUnits="userSpaceOnUse" x1="0" x2="0" y1="27.5" y2="408.3"><stop offset="0" stop-color="#00008d"/><stop offset=".060" stop-color="#00009e"/><stop offset=".089" stop-color="#0000c9"/><stop offset=".131" stop-color="#0000ff"/><stop offset=".152" stop-color="#001eff"/><stop offset=".221" stop-color="#00b7ff"/><stop offset=".260" stop-color="#00feff"/><stop offset=".263" stop-color="#04fffb"/><stop offset=".323" stop-color="#70ff8f"/><stop offset=".386" stop-color="#ffff00"/><stop offset=".491" stop-color="#ff5400"/><stop offset=".562" stop-color="#ff0000"/><stop offset=".680" stop-color="#bb0000"/><stop offset=".783" stop-color="#ab0000"/></linearGradient><linearGradient id="a56" gradientUnits="userSpaceOnUse" x1="0" x2="0" y1="27.5" y2="408.3"><stop offset="0" stop-color="#00008d"/><stop offset=".060" stop-color="#00009d"/><stop offset=".134" stop-color="#0000ff"/><stop offset=".155" stop-color="#001dff"/><stop offset=".226" stop-color="#00b4ff"/><stop offset=".270" stop-color="#03fffc"/><stop offset=".331" stop-color="#6cff93"/><stop offset=".391" stop-color="#fffe00"/><stop offset=".494" stop-color="#ff5500"/><stop offset=".565" stop-color="#ff0100"/><stop offset=".683" stop-color="#bb0000"/><stop offset=".798" stop-color="#ad0000"/></linearGradient><linearGradient id="a57" gradientUnits="userSpaceOnUse" x1="0" x2="0" y1="27.5" y2="408.3"><stop offset="0" stop-color="#00008d"/><stop offset=".063" stop-color="#00009e"/><stop offset=".092" stop-color="#0000c8"/><stop offset=".137" stop-color="#0001ff"/><stop offset=".158" stop-color="#001dff"/><stop offset=".234" stop-color="#00b6ff"/><stop offset=".278" stop-color="#03fffc"/><stop offset=".336" stop-color="#66ff99"/><stop offset=".397" stop-color="#fffd00"/><stop offset=".496" stop-color="#ff5600"/><stop offset=".570" stop-color="#ff0100"/><stop offset=".688" stop-color="#bb0000"/><stop offset=".811" stop-color="#af0000"/></linearGradient><linearGradient id="a58" gradientUnits="userSpaceOnUse" x1="0" x2="0" y1="27.5" y2="408.3"><stop offset="0" stop-color="#00008d"/><stop offset=".063" stop-color="#00009d"/><stop offset=".095" stop-color="#0000ca"/><stop offset=".139" stop-color="#0002ff"/><stop offset=".160" stop-color="#001eff"/><stop offset=".239" stop-color="#00b5ff"/><stop offset=".284" stop-color="#02fffd"/><stop offset=".341" stop-color="#66ff99"/><stop offset=".394" stop-color="#f0ff0f"/><stop offset=".402" stop-color="#fffc00"/><stop offset=".499" stop-color="#ff5a00"/><stop offset=".578" stop-color="#ff0000"/><stop offset=".693" stop-color="#bc0000"/><stop offset=".830" stop-color="#b10000"/></linearGradient><linearGradient id="a59" gradientUnits="userSpaceOnUse" x1="0" x2="0" y1="27.5" y2="408.3"><stop offset="0" stop-color="#00008d"/><stop offset=".063" stop-color="#00009d"/><stop offset=".095" stop-color="#0000c9"/><stop offset=".139" stop-color="#0000ff"/><stop offset=".160" stop-color="#001bff"/><stop offset=".247" stop-color="#00bcff"/><stop offset=".286" stop-color="#00ffff"/><stop offset=".289" stop-color="#04fffb"/><stop offset=".344" stop-color="#64ff9b"/><stop offset=".399" stop-color="#f2ff0d"/><stop offset=".404" stop-color="#feff01"/><stop offset=".407" stop-color="#fffa00"/><stop offset=".507" stop-color="#ff5700"/><stop offset=".586" stop-color="#ff0000"/><stop offset=".701" stop-color="#bd0000"/><stop offset=".856" stop-color="#b40000"/></linearGradient><linearGradient id="a60" gradientUnits="userSpaceOnUse" x1="0" x2="0" y1="27.5" y2="408.3"><stop offset="0" stop-color="#00008d"/><stop offset=".063" stop-color="#00009d"/><stop offset=".095" stop-color="#0000c9"/><stop offset=".139" stop-color="#0000fe"/><stop offset=".163" stop-color="#001eff"/><stop offset=".249" stop-color="#00baff"/><stop offset=".291" stop-color="#03fffc"/><stop offset=".347" stop-color="#64ff9b"/><stop offset=".410" stop-color="#fffe00"/><stop offset=".512" stop-color="#ff5a00"/><stop offset=".593" stop-color="#ff0000"/><stop offset=".691" stop-color="#c60000"/><stop offset=".714" stop-color="#bd0000"/><stop offset=".882" stop-color="#b60000"/></linearGradient><linearGradient id="a61" gradientUnits="userSpaceOnUse" x1="0" x2="0" y1="27.5" y2="408.3"><stop offset="0" stop-color="#00008d"/><stop offset=".063" stop-color="#00009c"/><stop offset=".095" stop-color="#0000c8"/><stop offset=".142" stop-color="#0001ff"/><stop offset=".163" stop-color="#001cff"/><stop offset=".294" stop-color="#03fffc"/><stop offset=".349" stop-color="#63ff9c"/><stop offset=".415" stop-color="#fffd00"/><stop offset=".520" stop-color="#ff5900"/><stop offset=".601" stop-color="#ff0000"/><stop offset=".699" stop-color="#c80000"/><stop offset=".727" stop-color="#bd0000"/><stop offset=".814" stop-color="#b70000"/><stop offset=".901" stop-color="#b80000"/></linearGradient><linearGradient id="a62" gradientUnits="userSpaceOnUse" x1="0" x2="0" y1="27.5" y2="408.3"><stop offset="0" stop-color="#00008d"/><stop offset=".066" stop-color="#00009e"/><stop offset=".095" stop-color="#0000c7"/><stop offset=".142" stop-color="#0000ff"/><stop offset=".165" stop-color="#001fff"/><stop offset=".297" stop-color="#02fffd"/><stop offset=".352" stop-color="#63ff9c"/><stop offset=".412" stop-color="#f2ff0d"/><stop offset=".420" stop-color="#fffb00"/><stop offset=".528" stop-color="#ff5800"/><stop offset=".609" stop-color="#ff0000"/><stop offset=".712" stop-color="#c70000"/><stop offset=".741" stop-color="#bc0000"/><stop offset=".814" stop-color="#b50000"/><stop offset=".919" stop-color="#bd0000"/></linearGradient><linearGradient id="a63" gradientUnits="userSpaceOnUse" x1="0" x2="0" y1="27.5" y2="408.3"><stop offset="0" stop-color="#00008d"/><stop offset=".066" stop-color="#00009e"/><stop offset=".095" stop-color="#0000c7"/><stop offset=".142" stop-color="#0000ff"/><stop offset=".165" stop-color="#001dff"/><stop offset=".299" stop-color="#01fffe"/><stop offset=".355" stop-color="#63ff9c"/><stop offset=".423" stop-color="#ffff00"/><stop offset=".533" stop-color="#ff5a00"/><stop offset=".617" stop-color="#ff0000"/><stop offset=".725" stop-color="#c50000"/><stop offset=".756" stop-color="#ba0000"/><stop offset=".817" stop-color="#b30000"/><stop offset=".932" stop-color="#c50000"/></linearGradient><linearGradient id="a64" gradientUnits="userSpaceOnUse" x1="0" x2="0" y1="27.5" y2="408.3"><stop offset="0" stop-color="#00008d"/><stop offset=".066" stop-color="#00009e"/><stop offset=".097" stop-color="#0000c9"/><stop offset=".144" stop-color="#0002ff"/><stop offset=".168" stop-color="#001fff"/><stop offset=".302" stop-color="#00ffff"/><stop offset=".357" stop-color="#62ff9d"/><stop offset=".428" stop-color="#fffe00"/><stop offset=".541" stop-color="#ff5800"/><stop offset=".625" stop-color="#fe0000"/><stop offset=".741" stop-color="#c20000"/><stop offset=".775" stop-color="#b80000"/><stop offset=".819" stop-color="#b20000"/><stop offset=".872" stop-color="#bb0000"/><stop offset=".919" stop-color="#cc0000"/><stop offset=".943" stop-color="#ce0000"/></linearGradient><linearGradient id="a65" gradientUnits="userSpaceOnUse" x1="0" x2="0" y1="27.5" y2="408.3"><stop offset="0" stop-color="#00008d"/><stop offset=".066" stop-color="#00009d"/><stop offset=".097" stop-color="#0000c9"/><stop offset=".144" stop-color="#0001ff"/><stop offset=".168" stop-color="#001eff"/><stop offset=".265" stop-color="#00baff"/><stop offset=".305" stop-color="#00ffff"/><stop offset=".307" stop-color="#04fffb"/><stop offset=".360" stop-color="#62ff9d"/><stop offset=".433" stop-color="#fffc00"/><stop offset=".546" stop-color="#ff5a00"/><stop offset=".630" stop-color="#ff0000"/><stop offset=".756" stop-color="#be0000"/><stop offset=".811" stop-color="#b30000"/><stop offset=".864" stop-color="#ba0000"/><stop offset=".922" stop-color="#d40000"/><stop offset=".951" stop-color="#d60000"/></linearGradient><linearGradient id="a66" gradientUnits="userSpaceOnUse" x1="0" x2="0" y1="27.5" y2="408.3"><stop offset="0" stop-color="#00008d"/><stop offset=".066" stop-color="#00009d"/><stop offset=".097" stop-color="#0000c8"/><stop offset=".144" stop-color="#0000ff"/><stop offset=".171" stop-color="#0020ff"/><stop offset=".310" stop-color="#03fffc"/><stop offset=".362" stop-color="#61ff9e"/><stop offset=".431" stop-color="#f3ff0c"/><stop offset=".439" stop-color="#fffb00"/><stop offset=".554" stop-color="#ff5800"/><stop offset=".638" stop-color="#fe0000"/><stop offset=".764" stop-color="#bd0000"/><stop offset=".814" stop-color="#b40000"/><stop offset=".864" stop-color="#bc0000"/><stop offset=".927" stop-color="#db0000"/><stop offset=".953" stop-color="#dc0000"/></linearGradient><linearGradient id="a67" gradientUnits="userSpaceOnUse" x1="0" x2="0" y1="27.5" y2="408.3"><stop offset="0" stop-color="#00008d"/><stop offset=".066" stop-color="#00009d"/><stop offset=".097" stop-color="#0000c8"/><stop offset=".147" stop-color="#0002ff"/><stop offset=".171" stop-color="#001fff"/><stop offset=".263" stop-color="#00abff"/><stop offset=".312" stop-color="#02fffd"/><stop offset=".365" stop-color="#60ff9f"/><stop offset=".441" stop-color="#feff01"/><stop offset=".559" stop-color="#ff5900"/><stop offset=".643" stop-color="#ff0000"/><stop offset=".769" stop-color="#bd0000"/><stop offset=".814" stop-color="#b40000"/><stop offset=".859" stop-color="#bc0000"/><stop offset=".927" stop-color="#df0000"/><stop offset=".959" stop-color="#e10000"/></linearGradient><linearGradient id="a68" gradientUnits="userSpaceOnUse" x1="0" x2="0" y1="27.5" y2="408.3"><stop offset="0" stop-color="#00008d"/><stop offset=".066" stop-color="#00009d"/><stop offset=".097" stop-color="#0000c7"/><stop offset=".147" stop-color="#0001ff"/><stop offset=".171" stop-color="#001eff"/><stop offset=".268" stop-color="#00adff"/><stop offset=".315" stop-color="#00ffff"/><stop offset=".318" stop-color="#04fffb"/><stop offset=".368" stop-color="#5effa1"/><stop offset=".441" stop-color="#f4ff0b"/><stop offset=".449" stop-color="#fffb00"/><stop offset=".567" stop-color="#ff5700"/><stop offset=".649" stop-color="#ff0000"/><stop offset=".772" stop-color="#bd0000"/><stop offset=".814" stop-color="#b50000"/><stop offset=".856" stop-color="#bc0000"/><stop offset=".927" stop-color="#e20000"/><stop offset=".961" stop-color="#e40000"/></linearGradient><linearGradient id="a69" gradientUnits="userSpaceOnUse" x1="0" x2="0" y1="27.5" y2="408.3"><stop offset="0" stop-color="#00008d"/><stop offset=".066" stop-color="#00009d"/><stop offset=".097" stop-color="#0000c7"/><stop offset=".147" stop-color="#0001ff"/><stop offset=".171" stop-color="#001cff"/><stop offset=".276" stop-color="#00b3ff"/><stop offset=".320" stop-color="#01fffe"/><stop offset=".370" stop-color="#5cffa3"/><stop offset=".444" stop-color="#eeff11"/><stop offset=".454" stop-color="#fffc00"/><stop offset=".572" stop-color="#ff5800"/><stop offset=".654" stop-color="#ff0000"/><stop offset=".775" stop-color="#be0000"/><stop offset=".814" stop-color="#b60000"/><stop offset=".853" stop-color="#bd0000"/><stop offset=".922" stop-color="#e30000"/><stop offset=".966" stop-color="#e70000"/></linearGradient><linearGradient id="a70" gradientUnits="userSpaceOnUse" x1="0" x2="0" y1="27.5" y2="408.3"><stop offset="0" stop-color="#00008d"/><stop offset=".066" stop-color="#00009c"/><stop offset=".097" stop-color="#0000c6"/><stop offset=".147" stop-color="#0000ff"/><stop offset=".171" stop-color="#001bff"/><stop offset=".281" stop-color="#00b4ff"/><stop offset=".326" stop-color="#03fffc"/><stop offset=".460" stop-color="#fffd00"/><stop offset=".578" stop-color="#ff5900"/><stop offset=".659" stop-color="#ff0000"/><stop offset=".780" stop-color="#bd0000"/><stop offset=".814" stop-color="#b60000"/><stop offset=".848" stop-color="#bc0000"/><stop offset=".919" stop-color="#e30000"/><stop offset=".966" stop-color="#ea0000"/></linearGradient><linearGradient id="a71" gradientUnits="userSpaceOnUse" x1="0" x2="0" y1="27.5" y2="408.3"><stop offset="0" stop-color="#00008d"/><stop offset=".068" stop-color="#00009e"/><stop offset=".097" stop-color="#0000c6"/><stop offset=".147" stop-color="#0000fe"/><stop offset=".173" stop-color="#001eff"/><stop offset=".284" stop-color="#00b1ff"/><stop offset=".328" stop-color="#00ffff"/><stop offset=".331" stop-color="#04fffb"/><stop offset=".465" stop-color="#fffe00"/><stop offset=".586" stop-color="#ff5700"/><stop offset=".664" stop-color="#ff0000"/><stop offset=".783" stop-color="#bd0000"/><stop offset=".814" stop-color="#b70000"/><stop offset=".846" stop-color="#bc0000"/><stop offset=".914" stop-color="#e30000"/><stop offset=".966" stop-color="#ec0000"/></linearGradient><linearGradient id="a72" gradientUnits="userSpaceOnUse" x1="0" x2="0" y1="27.5" y2="408.3"><stop offset="0" stop-color="#00008d"/><stop offset=".068" stop-color="#00009e"/><stop offset=".100" stop-color="#0000c8"/><stop offset=".150" stop-color="#0001ff"/><stop offset=".291" stop-color="#00b6ff"/><stop offset=".334" stop-color="#01fffe"/><stop offset=".470" stop-color="#feff01"/><stop offset=".591" stop-color="#ff5700"/><stop offset=".667" stop-color="#ff0100"/><stop offset=".785" stop-color="#bd0000"/><stop offset=".814" stop-color="#b70000"/><stop offset=".846" stop-color="#bd0000"/><stop offset=".911" stop-color="#e30000"/><stop offset=".945" stop-color="#ee0000"/><stop offset=".972" stop-color="#ee0000"/></linearGradient><linearGradient id="a73" gradientUnits="userSpaceOnUse" x1="0" x2="0" y1="27.5" y2="408.3"><stop offset="0" stop-color="#00008d"/><stop offset=".068" stop-color="#00009d"/><stop offset=".100" stop-color="#0000c8"/><stop offset=".150" stop-color="#0001ff"/><stop offset=".294" stop-color="#00b3ff"/><stop offset=".339" stop-color="#03fffc"/><stop offset=".465" stop-color="#ebff14"/><stop offset=".478" stop-color="#fffc00"/><stop offset=".596" stop-color="#ff5700"/><stop offset=".672" stop-color="#ff0000"/><stop offset=".788" stop-color="#bd0000"/><stop offset=".814" stop-color="#b70000"/><stop offset=".843" stop-color="#bd0000"/><stop offset=".906" stop-color="#e30000"/><stop offset=".948" stop-color="#ef0000"/><stop offset=".974" stop-color="#f00000"/></linearGradient><linearGradient id="a74" gradientUnits="userSpaceOnUse" x1="0" x2="0" y1="27.5" y2="408.3"><stop offset="0" stop-color="#00008d"/><stop offset=".068" stop-color="#00009d"/><stop offset=".100" stop-color="#0000c7"/><stop offset=".150" stop-color="#0000ff"/><stop offset=".299" stop-color="#00b4ff"/><stop offset=".341" stop-color="#00feff"/><stop offset=".344" stop-color="#04fffb"/><stop offset=".402" stop-color="#70ff8f"/><stop offset=".483" stop-color="#fffd00"/><stop offset=".601" stop-color="#ff5700"/><stop offset=".678" stop-color="#fe0000"/><stop offset=".788" stop-color="#be0000"/><stop offset=".814" stop-color="#b80000"/><stop offset=".840" stop-color="#bd0000"/><stop offset=".903" stop-color="#e30000"/><stop offset=".948" stop-color="#f00000"/><stop offset=".977" stop-color="#f00000"/></linearGradient><linearGradient id="a75" gradientUnits="userSpaceOnUse" x1="0" x2="0" y1="27.5" y2="408.3"><stop offset="0" stop-color="#00008d"/><stop offset=".068" stop-color="#00009d"/><stop offset=".100" stop-color="#0000c7"/><stop offset=".152" stop-color="#0002ff"/><stop offset=".305" stop-color="#00b6ff"/><stop offset=".347" stop-color="#01fffe"/><stop offset=".402" stop-color="#69ff96"/><stop offset=".488" stop-color="#fffe00"/><stop offset=".607" stop-color="#ff5600"/><stop offset=".680" stop-color="#ff0100"/><stop offset=".790" stop-color="#bd0000"/><stop offset=".814" stop-color="#b80000"/><stop offset=".838" stop-color="#bd0000"/><stop offset=".901" stop-color="#e30000"/><stop offset=".951" stop-color="#f00000"/><stop offset=".977" stop-color="#f10000"/></linearGradient><linearGradient id="a76" gradientUnits="userSpaceOnUse" x1="0" x2="0" y1="27.5" y2="408.3"><stop offset="0" stop-color="#00008d"/><stop offset=".068" stop-color="#00009d"/><stop offset=".102" stop-color="#0000c9"/><stop offset=".152" stop-color="#0000ff"/><stop offset=".310" stop-color="#00b7ff"/><stop offset=".349" stop-color="#00feff"/><stop offset=".352" stop-color="#04fffb"/><stop offset=".404" stop-color="#68ff97"/><stop offset=".494" stop-color="#fffd00"/><stop offset=".612" stop-color="#ff5600"/><stop offset=".685" stop-color="#ff0000"/><stop offset=".790" stop-color="#bf0000"/><stop offset=".811" stop-color="#b90000"/><stop offset=".835" stop-color="#be0000"/><stop offset=".895" stop-color="#e20000"/><stop offset=".951" stop-color="#f10000"/><stop offset=".977" stop-color="#f10000"/></linearGradient><linearGradient id="a77" gradientUnits="userSpaceOnUse" x1="0" x2="0" y1="27.5" y2="408.3"><stop offset="0" stop-color="#00008d"/><stop offset=".071" stop-color="#00009e"/><stop offset=".102" stop-color="#0000c8"/><stop offset=".152" stop-color="#0000fe"/><stop offset=".312" stop-color="#00b5ff"/><stop offset=".355" stop-color="#02fffd"/><stop offset=".407" stop-color="#68ff97"/><stop offset=".499" stop-color="#fffd00"/><stop offset=".617" stop-color="#ff5500"/><stop offset=".691" stop-color="#ff0000"/><stop offset=".793" stop-color="#c10000"/><stop offset=".811" stop-color="#bb0000"/><stop offset=".832" stop-color="#c10000"/><stop offset=".893" stop-color="#e30000"/><stop offset=".951" stop-color="#f10000"/><stop offset=".977" stop-color="#f20000"/></linearGradient><linearGradient id="a78" gradientUnits="userSpaceOnUse" x1="0" x2="0" y1="27.5" y2="408.3"><stop offset="0" stop-color="#00008d"/><stop offset=".071" stop-color="#00009d"/><stop offset=".102" stop-color="#0000c6"/><stop offset=".155" stop-color="#0000ff"/><stop offset=".318" stop-color="#00b7ff"/><stop offset=".357" stop-color="#01fffe"/><stop offset=".407" stop-color="#63ff9c"/><stop offset=".502" stop-color="#feff01"/><stop offset=".622" stop-color="#ff5500"/><stop offset=".696" stop-color="#ff0100"/><stop offset=".783" stop-color="#ce0000"/><stop offset=".811" stop-color="#c20000"/><stop offset=".890" stop-color="#e30000"/><stop offset=".948" stop-color="#f10000"/><stop offset=".977" stop-color="#f20000"/></linearGradient><linearGradient id="a79" gradientUnits="userSpaceOnUse" x1="0" x2="0" y1="27.5" y2="408.3"><stop offset="0" stop-color="#00008d"/><stop offset=".071" stop-color="#00009d"/><stop offset=".105" stop-color="#0000c8"/><stop offset=".158" stop-color="#0002ff"/><stop offset=".320" stop-color="#00b6ff"/><stop offset=".331" stop-color="#00c5ff"/><stop offset=".360" stop-color="#00ffff"/><stop offset=".410" stop-color="#64ff9b"/><stop offset=".507" stop-color="#ffff00"/><stop offset=".628" stop-color="#ff5500"/><stop offset=".704" stop-color="#ff0000"/><stop offset=".777" stop-color="#d90000"/><stop offset=".811" stop-color="#ce0000"/><stop offset=".935" stop-color="#f00000"/><stop offset=".972" stop-color="#f20000"/></linearGradient><linearGradient id="a80" gradientUnits="userSpaceOnUse" x1="0" x2="0" y1="27.5" y2="408.3"><stop offset="0" stop-color="#00008d"/><stop offset=".071" stop-color="#00009c"/><stop offset=".105" stop-color="#0000c7"/><stop offset=".158" stop-color="#0000ff"/><stop offset=".326" stop-color="#00b8ff"/><stop offset=".362" stop-color="#00feff"/><stop offset=".365" stop-color="#04fffb"/><stop offset=".412" stop-color="#65ff9a"/><stop offset=".512" stop-color="#fffe00"/><stop offset=".633" stop-color="#ff5500"/><stop offset=".712" stop-color="#ff0100"/><stop offset=".783" stop-color="#e00000"/><stop offset=".819" stop-color="#d80000"/><stop offset=".935" stop-color="#f10000"/><stop offset=".966" stop-color="#f30000"/></linearGradient><linearGradient id="a81" gradientUnits="userSpaceOnUse" x1="0" x2="0" y1="27.5" y2="408.3"><stop offset="0" stop-color="#00008d"/><stop offset=".074" stop-color="#00009e"/><stop offset=".108" stop-color="#0000c9"/><stop offset=".160" stop-color="#0001ff"/><stop offset=".328" stop-color="#00b6ff"/><stop offset=".368" stop-color="#03fffc"/><stop offset=".415" stop-color="#65ff9a"/><stop offset=".517" stop-color="#fffc00"/><stop offset=".638" stop-color="#ff5400"/><stop offset=".722" stop-color="#ff0000"/><stop offset=".785" stop-color="#e50000"/><stop offset=".822" stop-color="#de0000"/><stop offset=".961" stop-color="#f30000"/></linearGradient><linearGradient id="a82" gradientUnits="userSpaceOnUse" x1="0" x2="0" y1="27.5" y2="408.3"><stop offset="0" stop-color="#00008d"/><stop offset=".074" stop-color="#00009d"/><stop offset=".108" stop-color="#0000c7"/><stop offset=".160" stop-color="#0000fe"/><stop offset=".334" stop-color="#00b8ff"/><stop offset=".370" stop-color="#02fffd"/><stop offset=".418" stop-color="#66ff99"/><stop offset=".520" stop-color="#ffff00"/><stop offset=".643" stop-color="#ff5400"/><stop offset=".730" stop-color="#ff0100"/><stop offset=".822" stop-color="#e50000"/><stop offset=".948" stop-color="#f30000"/></linearGradient><linearGradient id="a83" gradientUnits="userSpaceOnUse" x1="0" x2="0" y1="27.5" y2="408.3"><stop offset="0" stop-color="#00008d"/><stop offset=".074" stop-color="#00009d"/><stop offset=".108" stop-color="#0000c6"/><stop offset=".163" stop-color="#0000ff"/><stop offset=".336" stop-color="#00b7ff"/><stop offset=".347" stop-color="#00c7ff"/><stop offset=".373" stop-color="#01fffe"/><stop offset=".420" stop-color="#66ff99"/><stop offset=".525" stop-color="#fffd00"/><stop offset=".649" stop-color="#ff5400"/><stop offset=".741" stop-color="#ff0100"/><stop offset=".819" stop-color="#ee0000"/><stop offset=".943" stop-color="#f30000"/></linearGradient><linearGradient id="a84" gradientUnits="userSpaceOnUse" x1="0" x2="0" y1="27.5" y2="408.3"><stop offset="0" stop-color="#00008d"/><stop offset=".076" stop-color="#00009e"/><stop offset=".110" stop-color="#0000c8"/><stop offset=".165" stop-color="#0001ff"/><stop offset=".339" stop-color="#00b5ff"/><stop offset=".349" stop-color="#00c4ff"/><stop offset=".376" stop-color="#00fdff"/><stop offset=".378" stop-color="#04fffb"/><stop offset=".423" stop-color="#66ff99"/><stop offset=".530" stop-color="#fffd00"/><stop offset=".651" stop-color="#ff5600"/><stop offset=".743" stop-color="#ff0500"/><stop offset=".754" stop-color="#ff0000"/><stop offset=".819" stop-color="#f60000"/><stop offset=".930" stop-color="#f30000"/></linearGradient><linearGradient id="a85" gradientUnits="userSpaceOnUse" x1="0" x2="0" y1="27.5" y2="408.3"><stop offset="0" stop-color="#00008d"/><stop offset=".076" stop-color="#00009d"/><stop offset=".110" stop-color="#0000c7"/><stop offset=".165" stop-color="#0000fe"/><stop offset=".344" stop-color="#00b6ff"/><stop offset=".357" stop-color="#00cbff"/><stop offset=".381" stop-color="#01fffe"/><stop offset=".425" stop-color="#66ff99"/><stop offset=".536" stop-color="#fffe00"/><stop offset=".657" stop-color="#ff5500"/><stop offset=".748" stop-color="#ff0800"/><stop offset=".764" stop-color="#ff0000"/><stop offset=".924" stop-color="#f30000"/></linearGradient><linearGradient id="a86" gradientUnits="userSpaceOnUse" x1="0" x2="0" y1="27.5" y2="408.3"><stop offset="0" stop-color="#00008d"/><stop offset=".076" stop-color="#00009d"/><stop offset=".113" stop-color="#0000c8"/><stop offset=".168" stop-color="#0000ff"/><stop offset=".349" stop-color="#00b6ff"/><stop offset=".360" stop-color="#00c6ff"/><stop offset=".386" stop-color="#03fffc"/><stop offset=".428" stop-color="#65ff9a"/><stop offset=".544" stop-color="#fffd00"/><stop offset=".659" stop-color="#ff5600"/><stop offset=".754" stop-color="#ff0900"/><stop offset=".772" stop-color="#ff0000"/><stop offset=".914" stop-color="#f30000"/></linearGradient><linearGradient id="a87" gradientUnits="userSpaceOnUse" x1="0" x2="0" y1="27.5" y2="408.3"><stop offset="0" stop-color="#00008d"/><stop offset=".076" stop-color="#00009c"/><stop offset=".113" stop-color="#0000c7"/><stop offset=".171" stop-color="#0001ff"/><stop offset=".355" stop-color="#00b6ff"/><stop offset=".368" stop-color="#00cbff"/><stop offset=".389" stop-color="#00feff"/><stop offset=".391" stop-color="#06fff9"/><stop offset=".423" stop-color="#54ffab"/><stop offset=".433" stop-color="#68ff97"/><stop offset=".549" stop-color="#ffff00"/><stop offset=".664" stop-color="#ff5400"/><stop offset=".759" stop-color="#ff0a00"/><stop offset=".780" stop-color="#ff0000"/><stop offset=".909" stop-color="#f30000"/></linearGradient><linearGradient id="a88" gradientUnits="userSpaceOnUse" x1="0" x2="0" y1="27.5" y2="408.3"><stop offset="0" stop-color="#00008d"/><stop offset=".079" stop-color="#00009e"/><stop offset=".113" stop-color="#0000c6"/><stop offset=".171" stop-color="#0000fe"/><stop offset=".360" stop-color="#00b6ff"/><stop offset=".373" stop-color="#00ccff"/><stop offset=".394" stop-color="#01fffe"/><stop offset=".425" stop-color="#52ffad"/><stop offset=".436" stop-color="#67ff98"/><stop offset=".557" stop-color="#fffe00"/><stop offset=".667" stop-color="#ff5500"/><stop offset=".759" stop-color="#ff0f00"/><stop offset=".785" stop-color="#ff0000"/><stop offset=".901" stop-color="#f30000"/></linearGradient><linearGradient id="a89" gradientUnits="userSpaceOnUse" x1="0" x2="0" y1="27.5" y2="408.3"><stop offset="0" stop-color="#00008d"/><stop offset=".079" stop-color="#00009d"/><stop offset=".116" stop-color="#0000c8"/><stop offset=".173" stop-color="#0000ff"/><stop offset=".365" stop-color="#00b7ff"/><stop offset=".376" stop-color="#00c8ff"/><stop offset=".397" stop-color="#00fdff"/><stop offset=".399" stop-color="#05fffa"/><stop offset=".428" stop-color="#50ffaf"/><stop offset=".439" stop-color="#66ff99"/><stop offset=".565" stop-color="#fffd00"/><stop offset=".664" stop-color="#ff5e00"/><stop offset=".678" stop-color="#ff4f00"/><stop offset=".788" stop-color="#ff0100"/><stop offset=".890" stop-color="#f40000"/></linearGradient><linearGradient id="a90" gradientUnits="userSpaceOnUse" x1="0" x2="0" y1="27.5" y2="408.3"><stop offset="0" stop-color="#00008d"/><stop offset=".079" stop-color="#00009d"/><stop offset=".116" stop-color="#0000c6"/><stop offset=".176" stop-color="#0001ff"/><stop offset=".370" stop-color="#00b9ff"/><stop offset=".378" stop-color="#00c5ff"/><stop offset=".402" stop-color="#03fffc"/><stop offset=".431" stop-color="#4effb1"/><stop offset=".441" stop-color="#64ff9b"/><stop offset=".570" stop-color="#feff01"/><stop offset=".588" stop-color="#ffe500"/><stop offset=".667" stop-color="#ff6000"/><stop offset=".680" stop-color="#ff5000"/><stop offset=".793" stop-color="#ff0200"/><stop offset=".880" stop-color="#f60000"/></linearGradient><linearGradient id="a91" gradientUnits="userSpaceOnUse" x1="0" x2="0" y1="27.5" y2="408.3"><stop offset="0" stop-color="#00008d"/><stop offset=".081" stop-color="#00009e"/><stop offset=".118" stop-color="#0000c8"/><stop offset=".179" stop-color="#0001ff"/><stop offset=".373" stop-color="#00b8ff"/><stop offset=".381" stop-color="#00c5ff"/><stop offset=".404" stop-color="#02fffd"/><stop offset=".436" stop-color="#53ffac"/><stop offset=".446" stop-color="#67ff98"/><stop offset=".578" stop-color="#ffff00"/><stop offset=".596" stop-color="#ffe300"/><stop offset=".670" stop-color="#ff6200"/><stop offset=".683" stop-color="#ff5100"/><stop offset=".798" stop-color="#ff0300"/><stop offset=".874" stop-color="#f80000"/></linearGradient><linearGradient id="a92" gradientUnits="userSpaceOnUse" x1="0" x2="0" y1="27.5" y2="408.3"><stop offset="0" stop-color="#00008d"/><stop offset=".081" stop-color="#00009d"/><stop offset=".118" stop-color="#0000c6"/><stop offset=".179" stop-color="#0000fe"/><stop offset=".376" stop-color="#00b9ff"/><stop offset=".383" stop-color="#00c6ff"/><stop offset=".407" stop-color="#02fffd"/><stop offset=".439" stop-color="#51ffae"/><stop offset=".449" stop-color="#65ff9a"/><stop offset=".583" stop-color="#feff01"/><stop offset=".599" stop-color="#ffe900"/><stop offset=".675" stop-color="#ff6100"/><stop offset=".688" stop-color="#ff5100"/><stop offset=".804" stop-color="#ff0500"/><stop offset=".819" stop-color="#ff0000"/><stop offset=".867" stop-color="#fb0000"/></linearGradient><linearGradient id="a93" gradientUnits="userSpaceOnUse" x1="0" x2="0" y1="27.5" y2="408.3"><stop offset="0" stop-color="#00008d"/><stop offset=".081" stop-color="#00009c"/><stop offset=".121" stop-color="#0000c7"/><stop offset=".184" stop-color="#0001ff"/><stop offset=".378" stop-color="#00b9ff"/><stop offset=".386" stop-color="#00c7ff"/><stop offset=".410" stop-color="#02fffd"/><stop offset=".441" stop-color="#4fffb0"/><stop offset=".452" stop-color="#63ff9c"/><stop offset=".588" stop-color="#feff01"/><stop offset=".601" stop-color="#ffee00"/><stop offset=".678" stop-color="#ff6600"/><stop offset=".693" stop-color="#ff5200"/><stop offset=".811" stop-color="#ff0800"/><stop offset=".838" stop-color="#ff0000"/><stop offset=".869" stop-color="#fe0000"/></linearGradient><linearGradient id="a94" gradientUnits="userSpaceOnUse" x1="0" x2="0" y1="27.5" y2="408.3"><stop offset="0" stop-color="#00008d"/><stop offset=".084" stop-color="#00009d"/><stop offset=".123" stop-color="#0000c7"/><stop offset=".186" stop-color="#0000ff"/><stop offset=".378" stop-color="#00b7ff"/><stop offset=".389" stop-color="#00c8ff"/><stop offset=".412" stop-color="#01fffe"/><stop offset=".446" stop-color="#51ffae"/><stop offset=".457" stop-color="#64ff9b"/><stop offset=".593" stop-color="#ffff00"/><stop offset=".683" stop-color="#ff6800"/><stop offset=".699" stop-color="#ff5300"/><stop offset=".822" stop-color="#ff0c00"/><stop offset=".861" stop-color="#ff0600"/></linearGradient><linearGradient id="a95" gradientUnits="userSpaceOnUse" x1="0" x2="0" y1="27.5" y2="408.3"><stop offset="0" stop-color="#00008d"/><stop offset=".087" stop-color="#00009e"/><stop offset=".126" stop-color="#0000c7"/><stop offset=".192" stop-color="#0001ff"/><stop offset=".381" stop-color="#00b7ff"/><stop offset=".391" stop-color="#00c8ff"/><stop offset=".415" stop-color="#00feff"/><stop offset=".418" stop-color="#05fffa"/><stop offset=".452" stop-color="#51ffae"/><stop offset=".465" stop-color="#67ff98"/><stop offset=".596" stop-color="#feff01"/><stop offset=".609" stop-color="#ffed00"/><stop offset=".691" stop-color="#ff6600"/><stop offset=".706" stop-color="#ff5300"/><stop offset=".827" stop-color="#ff1400"/><stop offset=".856" stop-color="#ff1200"/></linearGradient><linearGradient id="a96" gradientUnits="userSpaceOnUse" x1="0" x2="0" y1="27.5" y2="408.3"><stop offset="0" stop-color="#00008d"/><stop offset=".087" stop-color="#00009c"/><stop offset=".129" stop-color="#0000c7"/><stop offset=".194" stop-color="#0000ff"/><stop offset=".231" stop-color="#001fff"/><stop offset=".383" stop-color="#00b8ff"/><stop offset=".391" stop-color="#00c3ff"/><stop offset=".420" stop-color="#02fffd"/><stop offset=".454" stop-color="#4bffb4"/><stop offset=".470" stop-color="#67ff98"/><stop offset=".601" stop-color="#fffe00"/><stop offset=".696" stop-color="#ff6a00"/><stop offset=".712" stop-color="#ff5600"/><stop offset=".825" stop-color="#ff2200"/><stop offset=".853" stop-color="#ff1f00"/></linearGradient><linearGradient id="a97" gradientUnits="userSpaceOnUse" x1="0" x2="0" y1="27.5" y2="408.3"><stop offset="0" stop-color="#00008d"/><stop offset=".089" stop-color="#00009d"/><stop offset=".131" stop-color="#0000c7"/><stop offset=".200" stop-color="#0000ff"/><stop offset=".236" stop-color="#001fff"/><stop offset=".386" stop-color="#00b8ff"/><stop offset=".397" stop-color="#00c8ff"/><stop offset=".423" stop-color="#00feff"/><stop offset=".425" stop-color="#05fffa"/><stop offset=".462" stop-color="#50ffaf"/><stop offset=".475" stop-color="#66ff99"/><stop offset=".604" stop-color="#ffff00"/><stop offset=".701" stop-color="#ff6f00"/><stop offset=".720" stop-color="#ff5a00"/><stop offset=".748" stop-color="#ff4a00"/><stop offset=".822" stop-color="#ff3000"/><stop offset=".856" stop-color="#ff2e00"/></linearGradient><linearGradient id="a98" gradientUnits="userSpaceOnUse" x1="0" x2="0" y1="27.5" y2="408.3"><stop offset="0" stop-color="#00008d"/><stop offset=".092" stop-color="#00009d"/><stop offset=".134" stop-color="#0000c7"/><stop offset=".205" stop-color="#0001ff"/><stop offset=".242" stop-color="#0020ff"/><stop offset=".389" stop-color="#00b7ff"/><stop offset=".428" stop-color="#02fffd"/><stop offset=".481" stop-color="#65ff9a"/><stop offset=".607" stop-color="#feff01"/><stop offset=".709" stop-color="#ff7600"/><stop offset=".733" stop-color="#ff5e00"/><stop offset=".780" stop-color="#ff4900"/><stop offset=".825" stop-color="#ff3e00"/><stop offset=".853" stop-color="#ff3d00"/></linearGradient><linearGradient id="a99" gradientUnits="userSpaceOnUse" x1="0" x2="0" y1="27.5" y2="408.3"><stop offset="0" stop-color="#00008d"/><stop offset=".092" stop-color="#00009c"/><stop offset=".137" stop-color="#0000c7"/><stop offset=".210" stop-color="#0001ff"/><stop offset=".247" stop-color="#0020ff"/><stop offset=".391" stop-color="#00b7ff"/><stop offset=".431" stop-color="#00feff"/><stop offset=".433" stop-color="#04fffb"/><stop offset=".486" stop-color="#64ff9b"/><stop offset=".612" stop-color="#fffd00"/><stop offset=".714" stop-color="#ff8500"/><stop offset=".746" stop-color="#ff6700"/><stop offset=".801" stop-color="#ff5000"/><stop offset=".846" stop-color="#ff4c00"/></linearGradient><linearGradient id="a100" gradientUnits="userSpaceOnUse" x1="0" x2="0" y1="27.5" y2="408.3"><stop offset="0" stop-color="#00008d"/><stop offset=".095" stop-color="#00009d"/><stop offset=".139" stop-color="#0000c7"/><stop offset=".213" stop-color="#0000ff"/><stop offset=".249" stop-color="#001eff"/><stop offset=".394" stop-color="#00b7ff"/><stop offset=".436" stop-color="#01fffe"/><stop offset=".491" stop-color="#63ff9c"/><stop offset=".614" stop-color="#ffff00"/><stop offset=".754" stop-color="#ff7800"/><stop offset=".798" stop-color="#ff6000"/><stop offset=".835" stop-color="#ff5c00"/></linearGradient><linearGradient id="a101" gradientUnits="userSpaceOnUse" x1="0" x2="0" y1="27.5" y2="408.3"><stop offset="0" stop-color="#00008d"/><stop offset=".097" stop-color="#00009d"/><stop offset=".142" stop-color="#0000c7"/><stop offset=".218" stop-color="#0001ff"/><stop offset=".255" stop-color="#001fff"/><stop offset=".397" stop-color="#00b5ff"/><stop offset=".441" stop-color="#01fffe"/><stop offset=".499" stop-color="#67ff98"/><stop offset=".620" stop-color="#fffe00"/><stop offset=".764" stop-color="#ff8500"/><stop offset=".798" stop-color="#ff6f00"/><stop offset=".825" stop-color="#ff6d00"/></linearGradient><linearGradient id="a102" gradientUnits="userSpaceOnUse" x1="0" x2="0" y1="27.5" y2="408.3"><stop offset="0" stop-color="#00008d"/><stop offset=".100" stop-color="#00009d"/><stop offset=".144" stop-color="#0000c7"/><stop offset=".221" stop-color="#0001ff"/><stop offset=".257" stop-color="#001eff"/><stop offset=".399" stop-color="#00b3ff"/><stop offset=".415" stop-color="#00c8ff"/><stop offset=".444" stop-color="#00fbff"/><stop offset=".504" stop-color="#66ff99"/><stop offset=".625" stop-color="#ffff00"/><stop offset=".790" stop-color="#ff8400"/><stop offset=".822" stop-color="#ff7e00"/></linearGradient><linearGradient id="a103" gradientUnits="userSpaceOnUse" x1="0" x2="0" y1="27.5" y2="408.3"><stop offset="0" stop-color="#00008d"/><stop offset=".100" stop-color="#00009c"/><stop offset=".147" stop-color="#0000c7"/><stop offset=".223" stop-color="#0000ff"/><stop offset=".260" stop-color="#001dff"/><stop offset=".404" stop-color="#00b2ff"/><stop offset=".420" stop-color="#00c8ff"/><stop offset=".449" stop-color="#00fbff"/><stop offset=".452" stop-color="#01fffe"/><stop offset=".509" stop-color="#66ff99"/><stop offset=".630" stop-color="#feff01"/><stop offset=".790" stop-color="#ff9400"/><stop offset=".822" stop-color="#ff9000"/></linearGradient><linearGradient id="a104" gradientUnits="userSpaceOnUse" x1="0" x2="0" y1="27.5" y2="408.3"><stop offset="0" stop-color="#00008d"/><stop offset=".102" stop-color="#00009d"/><stop offset=".150" stop-color="#0000c7"/><stop offset=".226" stop-color="#0000ff"/><stop offset=".263" stop-color="#001cff"/><stop offset=".412" stop-color="#00b5ff"/><stop offset=".428" stop-color="#00cbff"/><stop offset=".457" stop-color="#00ffff"/><stop offset=".515" stop-color="#66ff99"/><stop offset=".636" stop-color="#fdff02"/><stop offset=".785" stop-color="#ffa700"/><stop offset=".822" stop-color="#ffa200"/></linearGradient><linearGradient id="a105" gradientUnits="userSpaceOnUse" x1="0" x2="0" y1="27.5" y2="408.3"><stop offset="0" stop-color="#00008d"/><stop offset=".105" stop-color="#00009d"/><stop offset=".152" stop-color="#0000c7"/><stop offset=".228" stop-color="#0000ff"/><stop offset=".265" stop-color="#001cff"/><stop offset=".418" stop-color="#00b5ff"/><stop offset=".433" stop-color="#00caff"/><stop offset=".462" stop-color="#00feff"/><stop offset=".520" stop-color="#66ff99"/><stop offset=".643" stop-color="#ffff00"/><stop offset=".662" stop-color="#fff100"/><stop offset=".775" stop-color="#ffba00"/><stop offset=".814" stop-color="#ffb300"/></linearGradient><linearGradient id="a106" gradientUnits="userSpaceOnUse" x1="0" x2="0" y1="27.5" y2="408.3"><stop offset="0" stop-color="#00008d"/><stop offset=".105" stop-color="#00009c"/><stop offset=".155" stop-color="#0000c7"/><stop offset=".231" stop-color="#0000ff"/><stop offset=".268" stop-color="#001bff"/><stop offset=".423" stop-color="#00b4ff"/><stop offset=".439" stop-color="#00c9ff"/><stop offset=".467" stop-color="#00fdff"/><stop offset=".525" stop-color="#65ff9a"/><stop offset=".651" stop-color="#feff01"/><stop offset=".762" stop-color="#ffcd00"/><stop offset=".804" stop-color="#ffc500"/></linearGradient><linearGradient id="a107" gradientUnits="userSpaceOnUse" x1="0" x2="0" y1="27.5" y2="408.3"><stop offset="0" stop-color="#00008d"/><stop offset=".108" stop-color="#00009d"/><stop offset=".158" stop-color="#0000c6"/><stop offset=".236" stop-color="#0001ff"/><stop offset=".273" stop-color="#001dff"/><stop offset=".428" stop-color="#00b3ff"/><stop offset=".444" stop-color="#00c8ff"/><stop offset=".473" stop-color="#00fbff"/><stop offset=".475" stop-color="#01fffe"/><stop offset=".536" stop-color="#69ff96"/><stop offset=".659" stop-color="#f8ff07"/><stop offset=".672" stop-color="#fffe00"/><stop offset=".743" stop-color="#ffdf00"/><stop offset=".790" stop-color="#ffd700"/></linearGradient><linearGradient id="a108" gradientUnits="userSpaceOnUse" x1="0" x2="0" y1="27.5" y2="408.3"><stop offset="0" stop-color="#00008d"/><stop offset=".110" stop-color="#00009d"/><stop offset=".239" stop-color="#0000ff"/><stop offset=".278" stop-color="#001eff"/><stop offset=".433" stop-color="#00b2ff"/><stop offset=".452" stop-color="#00caff"/><stop offset=".481" stop-color="#00fcff"/><stop offset=".546" stop-color="#6aff95"/><stop offset=".662" stop-color="#e4ff1b"/><stop offset=".701" stop-color="#feff01"/><stop offset=".741" stop-color="#ffee00"/><stop offset=".780" stop-color="#ffe900"/></linearGradient><linearGradient id="a109" gradientUnits="userSpaceOnUse" x1="0" x2="0" y1="27.5" y2="408.3"><stop offset="0" stop-color="#00008d"/><stop offset=".113" stop-color="#00009d"/><stop offset=".244" stop-color="#0001ff"/><stop offset=".281" stop-color="#001dff"/><stop offset=".441" stop-color="#00b3ff"/><stop offset=".460" stop-color="#00caff"/><stop offset=".491" stop-color="#00ffff"/><stop offset=".533" stop-color="#47ffb8"/><stop offset=".554" stop-color="#65ff9a"/><stop offset=".651" stop-color="#c1ff3e"/><stop offset=".725" stop-color="#f9ff06"/><stop offset=".743" stop-color="#ffff00"/><stop offset=".769" stop-color="#fffd00"/></linearGradient><linearGradient id="a110" gradientUnits="userSpaceOnUse" x1="0" x2="0" y1="27.5" y2="408.3"><stop offset="0" stop-color="#00008d"/><stop offset=".118" stop-color="#00009d"/><stop offset=".249" stop-color="#0001ff"/><stop offset=".286" stop-color="#001dff"/><stop offset=".449" stop-color="#00b3ff"/><stop offset=".467" stop-color="#00caff"/><stop offset=".499" stop-color="#00fcff"/><stop offset=".551" stop-color="#52ffad"/><stop offset=".580" stop-color="#72ff8d"/><stop offset=".712" stop-color="#ddff22"/><stop offset=".733" stop-color="#e8ff17"/><stop offset=".756" stop-color="#eaff15"/></linearGradient><linearGradient id="a111" gradientUnits="userSpaceOnUse" x1="0" x2="0" y1="27.5" y2="408.3"><stop offset="0" stop-color="#00008d"/><stop offset=".121" stop-color="#00009d"/><stop offset=".252" stop-color="#0000ff"/><stop offset=".291" stop-color="#001eff"/><stop offset=".457" stop-color="#00b3ff"/><stop offset=".475" stop-color="#00c9ff"/><stop offset=".509" stop-color="#00feff"/><stop offset=".562" stop-color="#4fffb0"/><stop offset=".588" stop-color="#6dff92"/><stop offset=".706" stop-color="#c7ff38"/><stop offset=".725" stop-color="#d0ff2f"/><stop offset=".746" stop-color="#d2ff2d"/></linearGradient><linearGradient id="a112" gradientUnits="userSpaceOnUse" x1="0" x2="0" y1="27.5" y2="408.3"><stop offset="0" stop-color="#00008d"/><stop offset=".123" stop-color="#00009d"/><stop offset=".257" stop-color="#0000ff"/><stop offset=".297" stop-color="#001eff"/><stop offset=".465" stop-color="#00b3ff"/><stop offset=".483" stop-color="#00c8ff"/><stop offset=".520" stop-color="#00ffff"/><stop offset=".572" stop-color="#4effb1"/><stop offset=".599" stop-color="#6bff94"/><stop offset=".696" stop-color="#b0ff4f"/><stop offset=".733" stop-color="#baff45"/></linearGradient><linearGradient id="a113" gradientUnits="userSpaceOnUse" x1="0" x2="0" y1="27.5" y2="408.3"><stop offset="0" stop-color="#00008d"/><stop offset=".129" stop-color="#00009e"/><stop offset=".263" stop-color="#0000ff"/><stop offset=".305" stop-color="#0020ff"/><stop offset=".473" stop-color="#00b2ff"/><stop offset=".494" stop-color="#00caff"/><stop offset=".530" stop-color="#00ffff"/><stop offset=".583" stop-color="#4bffb4"/><stop offset=".609" stop-color="#68ff97"/><stop offset=".683" stop-color="#97ff68"/><stop offset=".720" stop-color="#a1ff5e"/></linearGradient><linearGradient id="a114" gradientUnits="userSpaceOnUse" x1="0" x2="0" y1="27.5" y2="408.3"><stop offset="0" stop-color="#00008d"/><stop offset=".131" stop-color="#00009d"/><stop offset=".270" stop-color="#0001ff"/><stop offset=".320" stop-color="#0027ff"/><stop offset=".481" stop-color="#00b1ff"/><stop offset=".502" stop-color="#00c8ff"/><stop offset=".541" stop-color="#00feff"/><stop offset=".596" stop-color="#4affb5"/><stop offset=".617" stop-color="#61ff9e"/><stop offset=".670" stop-color="#7fff80"/><stop offset=".706" stop-color="#88ff77"/></linearGradient><linearGradient id="a115" gradientUnits="userSpaceOnUse" x1="0" x2="0" y1="27.5" y2="408.3"><stop offset="0" stop-color="#00008d"/><stop offset=".134" stop-color="#00009d"/><stop offset=".278" stop-color="#0001ff"/><stop offset=".331" stop-color="#0027ff"/><stop offset=".488" stop-color="#00afff"/><stop offset=".554" stop-color="#00feff"/><stop offset=".607" stop-color="#42ffbd"/><stop offset=".625" stop-color="#54ffab"/><stop offset=".654" stop-color="#65ff9a"/><stop offset=".691" stop-color="#6cff93"/></linearGradient><linearGradient id="a116" gradientUnits="userSpaceOnUse" x1="0" x2="0" y1="27.5" y2="408.3"><stop offset="0" stop-color="#00008d"/><stop offset=".137" stop-color="#00009d"/><stop offset=".286" stop-color="#0000ff"/><stop offset=".341" stop-color="#0026ff"/><stop offset=".494" stop-color="#00a9ff"/><stop offset=".570" stop-color="#00feff"/><stop offset=".628" stop-color="#3effc1"/><stop offset=".649" stop-color="#49ffb6"/><stop offset=".672" stop-color="#4cffb3"/></linearGradient><linearGradient id="a117" gradientUnits="userSpaceOnUse" x1="0" x2="0" y1="27.5" y2="408.3"><stop offset="0" stop-color="#00008d"/><stop offset=".139" stop-color="#00009d"/><stop offset=".299" stop-color="#0001ff"/><stop offset=".341" stop-color="#001cff"/><stop offset=".378" stop-color="#003aff"/><stop offset=".512" stop-color="#00b0ff"/><stop offset=".588" stop-color="#00ffff"/><stop offset=".622" stop-color="#1effe1"/><stop offset=".654" stop-color="#28ffd7"/></linearGradient><linearGradient id="a118" gradientUnits="userSpaceOnUse" x1="0" x2="0" y1="27.5" y2="408.3"><stop offset="0" stop-color="#00008d"/><stop offset=".144" stop-color="#00009d"/><stop offset=".210" stop-color="#0000c8"/><stop offset=".310" stop-color="#0001ff"/><stop offset=".373" stop-color="#002aff"/><stop offset=".586" stop-color="#00e9ff"/><stop offset=".612" stop-color="#00faff"/><stop offset=".633" stop-color="#01fffe"/></linearGradient><linearGradient id="a119" gradientUnits="userSpaceOnUse" x1="0" x2="0" y1="27.5" y2="408.3"><stop offset="0" stop-color="#00008d"/><stop offset=".147" stop-color="#00009d"/><stop offset=".210" stop-color="#0000c6"/><stop offset=".318" stop-color="#0000ff"/><stop offset=".373" stop-color="#0020ff"/><stop offset=".557" stop-color="#00c1ff"/><stop offset=".607" stop-color="#00d9ff"/></linearGradient><linearGradient id="a120" gradientUnits="userSpaceOnUse" x1="0" x2="0" y1="27.5" y2="408.3"><stop offset="0" stop-color="#00008d"/><stop offset=".147" stop-color="#00009d"/><stop offset=".213" stop-color="#0000c6"/><stop offset=".323" stop-color="#0000ff"/><stop offset=".376" stop-color="#001dff"/><stop offset=".546" stop-color="#00a9ff"/><stop offset=".588" stop-color="#00b7ff"/></linearGradient><linearGradient id="a121" gradientUnits="userSpaceOnUse" x1="0" x2="0" y1="27.5" y2="408.3"><stop offset="0" stop-color="#00008d"/><stop offset=".147" stop-color="#00009c"/><stop offset=".213" stop-color="#0000c6"/><stop offset=".326" stop-color="#0000ff"/><stop offset=".376" stop-color="#001bff"/><stop offset=".525" stop-color="#0089ff"/><stop offset=".549" stop-color="#0095ff"/><stop offset=".570" stop-color="#0099ff"/></linearGradient><linearGradient id="a122" gradientUnits="userSpaceOnUse" x1="0" x2="0" y1="27.5" y2="408.3"><stop offset="0" stop-color="#00008d"/><stop offset=".147" stop-color="#00009c"/><stop offset=".213" stop-color="#0000c6"/><stop offset=".323" stop-color="#0000fe"/><stop offset=".376" stop-color="#001bff"/><stop offset=".504" stop-color="#006fff"/><stop offset=".551" stop-color="#007fff"/></linearGradient><linearGradient id="a123" gradientUnits="userSpaceOnUse" x1="0" x2="0" y1="27.5" y2="408.3"><stop offset="0" stop-color="#00008d"/><stop offset=".147" stop-color="#00009c"/><stop offset=".213" stop-color="#0000c6"/><stop offset=".323" stop-color="#0000ff"/><stop offset=".499" stop-color="#0063ff"/><stop offset=".528" stop-color="#006bff"/></linearGradient><linearGradient id="a124" gradientUnits="userSpaceOnUse" x1="0" x2="0" y1="27.5" y2="408.3"><stop offset="0" stop-color="#00008d"/><stop offset=".147" stop-color="#00009c"/><stop offset=".213" stop-color="#0000c6"/><stop offset=".323" stop-color="#0000ff"/><stop offset=".496" stop-color="#005dff"/><stop offset=".525" stop-color="#0061ff"/></linearGradient><linearGradient id="a125" gradientUnits="userSpaceOnUse" x1="0" x2="0" y1="27.5" y2="408.3"><stop offset="0" stop-color="#00008d"/><stop offset=".147" stop-color="#00009c"/><stop offset=".213" stop-color="#0000c6"/><stop offset=".323" stop-color="#0000ff"/><stop offset=".496" stop-color="#005bff"/><stop offset=".525" stop-color="#005eff"/></linearGradient><clipPath id="cpa"><polygon points="96.5,27.5 825.8,27.5 825.8,217.5 820,226 815,232 808,240 802,247 795,258 790,265 782,275 775,283 765,292 752,302 740,311 725,322 718,327 710,331 700,331.5 695,330 688,335 682,340 676,342 670,345.5 665,342 660,344 653,345 648,348 642,350.5 637,347 631,352 625,354 618,358 610,364 603,366 598,370 590,372 583,378 577,380 572,384 565,386 560,388 552,391 545,390 535,390 520,388.5 512,386 502,386 490,383 477,380 468,376 460,370 445,352 432,330 415,315 390,294 365,275 340,254 325,240 292,212 265,192 240,172 217.5,154 205,142 190,127 175,112 159,97.5 140,83 125,72 115,64 105,53 100,46 96.5,40"/></clipPath><linearGradient id="b0" gradientUnits="userSpaceOnUse" x1="0" x2="0" y1="433" y2="813.8"><stop offset="0" stop-color="#00008e"/><stop offset=".011" stop-color="#00009f"/><stop offset=".013" stop-color="#0000ad"/><stop offset=".016" stop-color="#0000c5"/><stop offset=".018" stop-color="#0000eb"/><stop offset=".021" stop-color="#001eff"/><stop offset=".029" stop-color="#00ccff"/><stop offset=".032" stop-color="#05fffa"/><stop offset=".034" stop-color="#32ffcd"/><stop offset=".037" stop-color="#4effb1"/><stop offset=".039" stop-color="#5affa5"/><stop offset=".060" stop-color="#5fffa0"/></linearGradient><linearGradient id="b1" gradientUnits="userSpaceOnUse" x1="0" x2="0" y1="433" y2="813.8"><stop offset="0" stop-color="#00008e"/><stop offset=".011" stop-color="#00009f"/><stop offset=".013" stop-color="#0000ac"/><stop offset=".016" stop-color="#0000c4"/><stop offset=".018" stop-color="#0000e9"/><stop offset=".021" stop-color="#0019ff"/><stop offset=".024" stop-color="#0050ff"/><stop offset=".029" stop-color="#00d0ff"/><stop offset=".032" stop-color="#0ffff0"/><stop offset=".034" stop-color="#41ffbe"/><stop offset=".037" stop-color="#61ff9e"/><stop offset=".039" stop-color="#72ff8d"/><stop offset=".045" stop-color="#7bff84"/><stop offset=".060" stop-color="#7cff83"/></linearGradient><linearGradient id="b2" gradientUnits="userSpaceOnUse" x1="0" x2="0" y1="433" y2="813.8"><stop offset="0" stop-color="#00008e"/><stop offset=".008" stop-color="#000098"/><stop offset=".013" stop-color="#0000ab"/><stop offset=".016" stop-color="#0000c2"/><stop offset=".018" stop-color="#0000e3"/><stop offset=".021" stop-color="#0010ff"/><stop offset=".024" stop-color="#0046ff"/><stop offset=".026" stop-color="#008aff"/><stop offset=".029" stop-color="#00d9ff"/><stop offset=".032" stop-color="#26ffd9"/><stop offset=".034" stop-color="#62ff9d"/><stop offset=".037" stop-color="#8bff74"/><stop offset=".039" stop-color="#a5ff5a"/><stop offset=".042" stop-color="#b2ff4d"/><stop offset=".045" stop-color="#b8ff47"/><stop offset=".066" stop-color="#c6ff39"/></linearGradient><linearGradient id="b3" gradientUnits="userSpaceOnUse" x1="0" x2="0" y1="433" y2="813.8"><stop offset="0" stop-color="#00008e"/><stop offset=".008" stop-color="#000097"/><stop offset=".013" stop-color="#0000aa"/><stop offset=".016" stop-color="#0000bf"/><stop offset=".021" stop-color="#0007ff"/><stop offset=".024" stop-color="#003bff"/><stop offset=".026" stop-color="#0085ff"/><stop offset=".029" stop-color="#00e0ff"/><stop offset=".032" stop-color="#3affc5"/><stop offset=".034" stop-color="#7fff80"/><stop offset=".037" stop-color="#b2ff4d"/><stop offset=".039" stop-color="#d6ff29"/><stop offset=".042" stop-color="#edff12"/><stop offset=".045" stop-color="#fbff04"/><stop offset=".047" stop-color="#fffc00"/><stop offset=".068" stop-color="#ffd300"/><stop offset=".089" stop-color="#ffcd00"/></linearGradient><linearGradient id="b4" gradientUnits="userSpaceOnUse" x1="0" x2="0" y1="433" y2="813.8"><stop offset="0" stop-color="#00008e"/><stop offset=".008" stop-color="#000097"/><stop offset=".013" stop-color="#0000a8"/><stop offset=".016" stop-color="#0000bc"/><stop offset=".018" stop-color="#0000d8"/><stop offset=".021" stop-color="#0000fe"/><stop offset=".024" stop-color="#0031ff"/><stop offset=".026" stop-color="#0079ff"/><stop offset=".029" stop-color="#00d6ff"/><stop offset=".032" stop-color="#34ffcb"/><stop offset=".034" stop-color="#7eff81"/><stop offset=".037" stop-color="#b6ff49"/><stop offset=".039" stop-color="#e2ff1d"/><stop offset=".042" stop-color="#fffb00"/><stop offset=".045" stop-color="#ffe400"/><stop offset=".050" stop-color="#ffc900"/><stop offset=".068" stop-color="#ff8600"/><stop offset=".079" stop-color="#ff7b00"/><stop offset=".108" stop-color="#ff7900"/></linearGradient><linearGradient id="b5" gradientUnits="userSpaceOnUse" x1="0" x2="0" y1="433" y2="813.8"><stop offset="0" stop-color="#00008e"/><stop offset=".008" stop-color="#000097"/><stop offset=".013" stop-color="#0000a7"/><stop offset=".016" stop-color="#0000b8"/><stop offset=".018" stop-color="#0000d3"/><stop offset=".021" stop-color="#0000f6"/><stop offset=".024" stop-color="#0026ff"/><stop offset=".026" stop-color="#0066ff"/><stop offset=".029" stop-color="#00baff"/><stop offset=".032" stop-color="#14ffeb"/><stop offset=".034" stop-color="#5effa1"/><stop offset=".037" stop-color="#98ff67"/><stop offset=".039" stop-color="#c7ff38"/><stop offset=".042" stop-color="#efff10"/><stop offset=".045" stop-color="#fff000"/><stop offset=".050" stop-color="#ffc600"/><stop offset=".058" stop-color="#ff9a00"/><stop offset=".068" stop-color="#ff6a00"/><stop offset=".074" stop-color="#ff5c00"/><stop offset=".084" stop-color="#ff5400"/><stop offset=".123" stop-color="#ff5100"/></linearGradient><linearGradient id="b6" gradientUnits="userSpaceOnUse" x1="0" x2="0" y1="433" y2="813.8"><stop offset="0" stop-color="#00008e"/><stop offset=".008" stop-color="#000096"/><stop offset=".013" stop-color="#0000a4"/><stop offset=".016" stop-color="#0000b4"/><stop offset=".018" stop-color="#0000cc"/><stop offset=".021" stop-color="#0000ec"/><stop offset=".024" stop-color="#0016ff"/><stop offset=".026" stop-color="#004bff"/><stop offset=".029" stop-color="#0091ff"/><stop offset=".032" stop-color="#00dfff"/><stop offset=".034" stop-color="#28ffd7"/><stop offset=".037" stop-color="#63ff9c"/><stop offset=".039" stop-color="#94ff6b"/><stop offset=".045" stop-color="#e1ff1e"/><stop offset=".047" stop-color="#fffe00"/><stop offset=".053" stop-color="#ffce00"/><stop offset=".060" stop-color="#ff9b00"/><stop offset=".068" stop-color="#ff7200"/><stop offset=".076" stop-color="#ff5700"/><stop offset=".089" stop-color="#ff4900"/><stop offset=".137" stop-color="#ff4300"/></linearGradient><linearGradient id="b7" gradientUnits="userSpaceOnUse" x1="0" x2="0" y1="433" y2="813.8"><stop offset="0" stop-color="#00008e"/><stop offset=".011" stop-color="#00009a"/><stop offset=".016" stop-color="#0000ad"/><stop offset=".018" stop-color="#0000c1"/><stop offset=".021" stop-color="#0000dc"/><stop offset=".024" stop-color="#0000ff"/><stop offset=".026" stop-color="#002cff"/><stop offset=".029" stop-color="#0063ff"/><stop offset=".034" stop-color="#00e3ff"/><stop offset=".037" stop-color="#1dffe2"/><stop offset=".039" stop-color="#4effb1"/><stop offset=".045" stop-color="#a0ff5f"/><stop offset=".050" stop-color="#e4ff1b"/><stop offset=".053" stop-color="#fffd00"/><stop offset=".058" stop-color="#ffcd00"/><stop offset=".066" stop-color="#ff9a00"/><stop offset=".076" stop-color="#ff6900"/><stop offset=".084" stop-color="#ff5300"/><stop offset=".100" stop-color="#ff4500"/><stop offset=".150" stop-color="#ff3e00"/></linearGradient><linearGradient id="b8" gradientUnits="userSpaceOnUse" x1="0" x2="0" y1="433" y2="813.8"><stop offset="0" stop-color="#00008e"/><stop offset=".011" stop-color="#000098"/><stop offset=".016" stop-color="#0000a6"/><stop offset=".021" stop-color="#0000ca"/><stop offset=".024" stop-color="#0000e6"/><stop offset=".026" stop-color="#000bff"/><stop offset=".029" stop-color="#0037ff"/><stop offset=".037" stop-color="#00d1ff"/><stop offset=".039" stop-color="#01fffe"/><stop offset=".045" stop-color="#55ffaa"/><stop offset=".050" stop-color="#a0ff5f"/><stop offset=".058" stop-color="#feff01"/><stop offset=".066" stop-color="#ffbf00"/><stop offset=".074" stop-color="#ff9200"/><stop offset=".084" stop-color="#ff6600"/><stop offset=".092" stop-color="#ff5200"/><stop offset=".113" stop-color="#ff4200"/><stop offset=".160" stop-color="#ff3a00"/></linearGradient><linearGradient id="b9" gradientUnits="userSpaceOnUse" x1="0" x2="0" y1="433" y2="813.8"><stop offset="0" stop-color="#00008e"/><stop offset=".016" stop-color="#0000a0"/><stop offset=".021" stop-color="#0000b9"/><stop offset=".024" stop-color="#0000cf"/><stop offset=".026" stop-color="#0000ed"/><stop offset=".029" stop-color="#0011ff"/><stop offset=".042" stop-color="#00e2ff"/><stop offset=".045" stop-color="#0cfff3"/><stop offset=".053" stop-color="#7fff80"/><stop offset=".058" stop-color="#c1ff3e"/><stop offset=".063" stop-color="#f7ff08"/><stop offset=".066" stop-color="#fff000"/><stop offset=".074" stop-color="#ffba00"/><stop offset=".081" stop-color="#ff9100"/><stop offset=".092" stop-color="#ff6800"/><stop offset=".100" stop-color="#ff5500"/><stop offset=".108" stop-color="#ff4a00"/><stop offset=".121" stop-color="#ff4100"/><stop offset=".171" stop-color="#ff3700"/></linearGradient><linearGradient id="b10" gradientUnits="userSpaceOnUse" x1="0" x2="0" y1="433" y2="813.8"><stop offset="0" stop-color="#00008e"/><stop offset=".013" stop-color="#000098"/><stop offset=".018" stop-color="#0000a3"/><stop offset=".024" stop-color="#0000be"/><stop offset=".029" stop-color="#0000ef"/><stop offset=".032" stop-color="#0010ff"/><stop offset=".039" stop-color="#007bff"/><stop offset=".047" stop-color="#00efff"/><stop offset=".050" stop-color="#19ffe6"/><stop offset=".055" stop-color="#64ff9b"/><stop offset=".060" stop-color="#a2ff5d"/><stop offset=".066" stop-color="#d4ff2b"/><stop offset=".071" stop-color="#ffff00"/><stop offset=".079" stop-color="#ffcb00"/><stop offset=".089" stop-color="#ff9500"/><stop offset=".100" stop-color="#ff6e00"/><stop offset=".110" stop-color="#ff5400"/><stop offset=".121" stop-color="#ff4600"/><stop offset=".134" stop-color="#ff3e00"/><stop offset=".184" stop-color="#ff3200"/></linearGradient><linearGradient id="b11" gradientUnits="userSpaceOnUse" x1="0" x2="0" y1="433" y2="813.8"><stop offset="0" stop-color="#00008d"/><stop offset=".016" stop-color="#00009a"/><stop offset=".021" stop-color="#0000a6"/><stop offset=".026" stop-color="#0000c1"/><stop offset=".032" stop-color="#0000ee"/><stop offset=".034" stop-color="#000bff"/><stop offset=".042" stop-color="#0068ff"/><stop offset=".050" stop-color="#00dcff"/><stop offset=".053" stop-color="#07fff8"/><stop offset=".058" stop-color="#52ffad"/><stop offset=".063" stop-color="#89ff76"/><stop offset=".074" stop-color="#deff21"/><stop offset=".079" stop-color="#fffc00"/><stop offset=".087" stop-color="#ffcc00"/><stop offset=".097" stop-color="#ff9a00"/><stop offset=".110" stop-color="#ff6b00"/><stop offset=".121" stop-color="#ff5200"/><stop offset=".131" stop-color="#ff4400"/><stop offset=".150" stop-color="#ff3900"/><stop offset=".197" stop-color="#ff2d00"/></linearGradient><linearGradient id="b12" gradientUnits="userSpaceOnUse" x1="0" x2="0" y1="433" y2="813.8"><stop offset="0" stop-color="#00008d"/><stop offset=".016" stop-color="#000098"/><stop offset=".021" stop-color="#0000a1"/><stop offset=".029" stop-color="#0000c5"/><stop offset=".034" stop-color="#0000ef"/><stop offset=".037" stop-color="#0009ff"/><stop offset=".042" stop-color="#0040ff"/><stop offset=".047" stop-color="#0082ff"/><stop offset=".055" stop-color="#01fffe"/><stop offset=".060" stop-color="#4bffb4"/><stop offset=".066" stop-color="#7bff84"/><stop offset=".084" stop-color="#faff05"/><stop offset=".087" stop-color="#fff400"/><stop offset=".097" stop-color="#ffbb00"/><stop offset=".108" stop-color="#ff9100"/><stop offset=".121" stop-color="#ff6400"/><stop offset=".131" stop-color="#ff4b00"/><stop offset=".139" stop-color="#ff4200"/><stop offset=".173" stop-color="#ff2e00"/><stop offset=".207" stop-color="#ff2600"/></linearGradient><linearGradient id="b13" gradientUnits="userSpaceOnUse" x1="0" x2="0" y1="433" y2="813.8"><stop offset="0" stop-color="#00008d"/><stop offset=".018" stop-color="#00009a"/><stop offset=".024" stop-color="#0000a6"/><stop offset=".032" stop-color="#0000cc"/><stop offset=".037" stop-color="#0000f6"/><stop offset=".039" stop-color="#000eff"/><stop offset=".047" stop-color="#005dff"/><stop offset=".050" stop-color="#0080ff"/><stop offset=".058" stop-color="#04fffb"/><stop offset=".060" stop-color="#2cffd3"/><stop offset=".063" stop-color="#4bffb4"/><stop offset=".066" stop-color="#63ff9c"/><stop offset=".089" stop-color="#fbff04"/><stop offset=".100" stop-color="#ffca00"/><stop offset=".110" stop-color="#ff9f00"/><stop offset=".126" stop-color="#ff6500"/><stop offset=".137" stop-color="#ff4a00"/><stop offset=".184" stop-color="#ff2800"/><stop offset=".221" stop-color="#ff1e00"/></linearGradient><linearGradient id="b14" gradientUnits="userSpaceOnUse" x1="0" x2="0" y1="433" y2="813.8"><stop offset="0" stop-color="#00008d"/><stop offset=".018" stop-color="#00009a"/><stop offset=".024" stop-color="#0000a4"/><stop offset=".032" stop-color="#0000c7"/><stop offset=".039" stop-color="#0002ff"/><stop offset=".045" stop-color="#002dff"/><stop offset=".050" stop-color="#0061ff"/><stop offset=".053" stop-color="#0085ff"/><stop offset=".058" stop-color="#00dfff"/><stop offset=".060" stop-color="#0cfff3"/><stop offset=".063" stop-color="#31ffce"/><stop offset=".068" stop-color="#63ff9c"/><stop offset=".095" stop-color="#fffd00"/><stop offset=".105" stop-color="#ffc800"/><stop offset=".123" stop-color="#ff7f00"/><stop offset=".134" stop-color="#ff5900"/><stop offset=".142" stop-color="#ff4700"/><stop offset=".200" stop-color="#ff2000"/><stop offset=".236" stop-color="#ff1600"/></linearGradient><linearGradient id="b15" gradientUnits="userSpaceOnUse" x1="0" x2="0" y1="433" y2="813.8"><stop offset="0" stop-color="#00008d"/><stop offset=".018" stop-color="#00009a"/><stop offset=".024" stop-color="#0000a3"/><stop offset=".032" stop-color="#0000c4"/><stop offset=".039" stop-color="#0000f9"/><stop offset=".042" stop-color="#000dff"/><stop offset=".050" stop-color="#004cff"/><stop offset=".053" stop-color="#0069ff"/><stop offset=".055" stop-color="#008eff"/><stop offset=".060" stop-color="#00e7ff"/><stop offset=".063" stop-color="#12ffed"/><stop offset=".066" stop-color="#34ffcb"/><stop offset=".071" stop-color="#62ff9d"/><stop offset=".097" stop-color="#f9ff06"/><stop offset=".100" stop-color="#fff700"/><stop offset=".110" stop-color="#ffc500"/><stop offset=".131" stop-color="#ff7000"/><stop offset=".139" stop-color="#ff5500"/><stop offset=".144" stop-color="#ff4900"/><stop offset=".210" stop-color="#ff1a00"/><stop offset=".249" stop-color="#ff0e00"/></linearGradient><linearGradient id="b16" gradientUnits="userSpaceOnUse" x1="0" x2="0" y1="433" y2="813.8"><stop offset="0" stop-color="#00008d"/><stop offset=".018" stop-color="#000099"/><stop offset=".024" stop-color="#0000a3"/><stop offset=".032" stop-color="#0000c2"/><stop offset=".039" stop-color="#0000f3"/><stop offset=".042" stop-color="#0006ff"/><stop offset=".053" stop-color="#0054ff"/><stop offset=".055" stop-color="#0072ff"/><stop offset=".058" stop-color="#0097ff"/><stop offset=".063" stop-color="#00ebff"/><stop offset=".066" stop-color="#12ffed"/><stop offset=".068" stop-color="#31ffce"/><stop offset=".074" stop-color="#5effa1"/><stop offset=".102" stop-color="#fdff02"/><stop offset=".116" stop-color="#ffc200"/><stop offset=".137" stop-color="#ff6c00"/><stop offset=".144" stop-color="#ff5100"/><stop offset=".150" stop-color="#ff4700"/><stop offset=".226" stop-color="#ff0f00"/><stop offset=".265" stop-color="#ff0200"/></linearGradient><linearGradient id="b17" gradientUnits="userSpaceOnUse" x1="0" x2="0" y1="433" y2="813.8"><stop offset="0" stop-color="#00008d"/><stop offset=".018" stop-color="#000099"/><stop offset=".024" stop-color="#0000a2"/><stop offset=".032" stop-color="#0000c1"/><stop offset=".042" stop-color="#0000ff"/><stop offset=".050" stop-color="#0032ff"/><stop offset=".055" stop-color="#005dff"/><stop offset=".058" stop-color="#007aff"/><stop offset=".066" stop-color="#00eaff"/><stop offset=".068" stop-color="#0efff1"/><stop offset=".074" stop-color="#45ffba"/><stop offset=".079" stop-color="#69ff96"/><stop offset=".108" stop-color="#fffe00"/><stop offset=".118" stop-color="#ffcc00"/><stop offset=".142" stop-color="#ff6900"/><stop offset=".147" stop-color="#ff5700"/><stop offset=".155" stop-color="#ff4700"/><stop offset=".242" stop-color="#ff0000"/><stop offset=".257" stop-color="#f70000"/><stop offset=".281" stop-color="#f40000"/></linearGradient><linearGradient id="b18" gradientUnits="userSpaceOnUse" x1="0" x2="0" y1="433" y2="813.8"><stop offset="0" stop-color="#00008d"/><stop offset=".018" stop-color="#000099"/><stop offset=".024" stop-color="#0000a1"/><stop offset=".032" stop-color="#0000bf"/><stop offset=".042" stop-color="#0000fa"/><stop offset=".045" stop-color="#000aff"/><stop offset=".053" stop-color="#003aff"/><stop offset=".058" stop-color="#0064ff"/><stop offset=".060" stop-color="#0081ff"/><stop offset=".068" stop-color="#00e9ff"/><stop offset=".071" stop-color="#0afff5"/><stop offset=".076" stop-color="#3fffc0"/><stop offset=".081" stop-color="#63ff9c"/><stop offset=".113" stop-color="#feff01"/><stop offset=".147" stop-color="#ff6d00"/><stop offset=".155" stop-color="#ff5500"/><stop offset=".165" stop-color="#ff4200"/><stop offset=".236" stop-color="#ff0000"/><stop offset=".260" stop-color="#ed0000"/><stop offset=".297" stop-color="#e70000"/></linearGradient><linearGradient id="b19" gradientUnits="userSpaceOnUse" x1="0" x2="0" y1="433" y2="813.8"><stop offset="0" stop-color="#00008d"/><stop offset=".018" stop-color="#000099"/><stop offset=".024" stop-color="#0000a1"/><stop offset=".032" stop-color="#0000be"/><stop offset=".042" stop-color="#0000f5"/><stop offset=".045" stop-color="#0005ff"/><stop offset=".058" stop-color="#0054ff"/><stop offset=".063" stop-color="#0087ff"/><stop offset=".071" stop-color="#00e7ff"/><stop offset=".074" stop-color="#07fff8"/><stop offset=".079" stop-color="#3affc5"/><stop offset=".084" stop-color="#5dffa2"/><stop offset=".121" stop-color="#fffd00"/><stop offset=".155" stop-color="#ff7000"/><stop offset=".165" stop-color="#ff5200"/><stop offset=".179" stop-color="#ff3b00"/><stop offset=".234" stop-color="#ff0000"/><stop offset=".260" stop-color="#e90000"/><stop offset=".313" stop-color="#db0000"/></linearGradient><linearGradient id="b20" gradientUnits="userSpaceOnUse" x1="0" x2="0" y1="433" y2="813.8"><stop offset="0" stop-color="#00008d"/><stop offset=".024" stop-color="#0000a0"/><stop offset=".032" stop-color="#0000bc"/><stop offset=".045" stop-color="#0000ff"/><stop offset=".055" stop-color="#0038ff"/><stop offset=".060" stop-color="#005aff"/><stop offset=".066" stop-color="#008cff"/><stop offset=".076" stop-color="#03fffc"/><stop offset=".081" stop-color="#34ffcb"/><stop offset=".087" stop-color="#56ffa9"/><stop offset=".129" stop-color="#ffff00"/><stop offset=".168" stop-color="#ff6500"/><stop offset=".179" stop-color="#ff4900"/><stop offset=".194" stop-color="#ff3000"/><stop offset=".234" stop-color="#fe0000"/><stop offset=".260" stop-color="#e60000"/><stop offset=".299" stop-color="#d60000"/><stop offset=".328" stop-color="#d20000"/></linearGradient><linearGradient id="b21" gradientUnits="userSpaceOnUse" x1="0" x2="0" y1="433" y2="813.8"><stop offset="0" stop-color="#00008d"/><stop offset=".024" stop-color="#00009f"/><stop offset=".032" stop-color="#0000ba"/><stop offset=".045" stop-color="#0000fa"/><stop offset=".047" stop-color="#0008ff"/><stop offset=".058" stop-color="#003eff"/><stop offset=".063" stop-color="#005fff"/><stop offset=".068" stop-color="#008fff"/><stop offset=".079" stop-color="#00feff"/><stop offset=".081" stop-color="#19ffe6"/><stop offset=".087" stop-color="#41ffbe"/><stop offset=".092" stop-color="#5cffa3"/><stop offset=".137" stop-color="#fdff02"/><stop offset=".139" stop-color="#fff800"/><stop offset=".173" stop-color="#ff7200"/><stop offset=".184" stop-color="#ff5000"/><stop offset=".197" stop-color="#ff3500"/><stop offset=".234" stop-color="#ff0100"/><stop offset=".249" stop-color="#ec0000"/><stop offset=".270" stop-color="#e10000"/><stop offset=".313" stop-color="#ce0000"/><stop offset=".344" stop-color="#c80000"/></linearGradient><linearGradient id="b22" gradientUnits="userSpaceOnUse" x1="0" x2="0" y1="433" y2="813.8"><stop offset="0" stop-color="#00008d"/><stop offset=".024" stop-color="#00009e"/><stop offset=".032" stop-color="#0000b7"/><stop offset=".047" stop-color="#0001ff"/><stop offset=".060" stop-color="#0041ff"/><stop offset=".066" stop-color="#0062ff"/><stop offset=".071" stop-color="#0090ff"/><stop offset=".081" stop-color="#00faff"/><stop offset=".084" stop-color="#14ffeb"/><stop offset=".089" stop-color="#3dffc2"/><stop offset=".095" stop-color="#57ffa8"/><stop offset=".144" stop-color="#feff01"/><stop offset=".158" stop-color="#ffd300"/><stop offset=".181" stop-color="#ff7200"/><stop offset=".192" stop-color="#ff4e00"/><stop offset=".205" stop-color="#ff3300"/><stop offset=".239" stop-color="#ff0000"/><stop offset=".257" stop-color="#ea0000"/><stop offset=".299" stop-color="#d20000"/><stop offset=".334" stop-color="#c30000"/><stop offset=".360" stop-color="#bf0000"/></linearGradient><linearGradient id="b23" gradientUnits="userSpaceOnUse" x1="0" x2="0" y1="433" y2="813.8"><stop offset="0" stop-color="#00008d"/><stop offset=".021" stop-color="#00009a"/><stop offset=".026" stop-color="#0000a2"/><stop offset=".034" stop-color="#0000bd"/><stop offset=".047" stop-color="#0000f8"/><stop offset=".050" stop-color="#0005ff"/><stop offset=".063" stop-color="#0043ff"/><stop offset=".068" stop-color="#0064ff"/><stop offset=".074" stop-color="#0090ff"/><stop offset=".084" stop-color="#00f6ff"/><stop offset=".087" stop-color="#10ffef"/><stop offset=".092" stop-color="#38ffc7"/><stop offset=".100" stop-color="#5cffa3"/><stop offset=".152" stop-color="#fffc00"/><stop offset=".165" stop-color="#ffd000"/><stop offset=".189" stop-color="#ff6f00"/><stop offset=".200" stop-color="#ff4c00"/><stop offset=".213" stop-color="#ff3100"/><stop offset=".244" stop-color="#ff0300"/><stop offset=".273" stop-color="#e50000"/><stop offset=".326" stop-color="#c50000"/><stop offset=".349" stop-color="#ba0000"/><stop offset=".373" stop-color="#b60000"/></linearGradient><linearGradient id="b24" gradientUnits="userSpaceOnUse" x1="0" x2="0" y1="433" y2="813.8"><stop offset="0" stop-color="#00008d"/><stop offset=".026" stop-color="#00009f"/><stop offset=".037" stop-color="#0000c1"/><stop offset=".050" stop-color="#0000fb"/><stop offset=".053" stop-color="#0008ff"/><stop offset=".063" stop-color="#0037ff"/><stop offset=".071" stop-color="#0064ff"/><stop offset=".076" stop-color="#008eff"/><stop offset=".087" stop-color="#00f0ff"/><stop offset=".089" stop-color="#09fff6"/><stop offset=".095" stop-color="#31ffce"/><stop offset=".102" stop-color="#56ffa9"/><stop offset=".158" stop-color="#ffff00"/><stop offset=".171" stop-color="#ffd500"/><stop offset=".197" stop-color="#ff6a00"/><stop offset=".207" stop-color="#ff4900"/><stop offset=".221" stop-color="#ff3100"/><stop offset=".255" stop-color="#ff0200"/><stop offset=".284" stop-color="#e40000"/><stop offset=".341" stop-color="#bd0000"/><stop offset=".362" stop-color="#b30000"/><stop offset=".383" stop-color="#b00000"/></linearGradient><linearGradient id="b25" gradientUnits="userSpaceOnUse" x1="0" x2="0" y1="433" y2="813.8"><stop offset="0" stop-color="#00008d"/><stop offset=".021" stop-color="#000098"/><stop offset=".029" stop-color="#0000a2"/><stop offset=".039" stop-color="#0000c5"/><stop offset=".053" stop-color="#0000fd"/><stop offset=".071" stop-color="#0052ff"/><stop offset=".076" stop-color="#0076ff"/><stop offset=".092" stop-color="#00fbff"/><stop offset=".095" stop-color="#10ffef"/><stop offset=".102" stop-color="#3effc1"/><stop offset=".110" stop-color="#5effa1"/><stop offset=".163" stop-color="#fcff03"/><stop offset=".165" stop-color="#fffa00"/><stop offset=".179" stop-color="#ffcf00"/><stop offset=".202" stop-color="#ff6f00"/><stop offset=".213" stop-color="#ff4d00"/><stop offset=".226" stop-color="#ff3500"/><stop offset=".268" stop-color="#ff0000"/><stop offset=".294" stop-color="#e60000"/><stop offset=".355" stop-color="#bb0000"/><stop offset=".376" stop-color="#b10000"/><stop offset=".397" stop-color="#ae0000"/></linearGradient><linearGradient id="b26" gradientUnits="userSpaceOnUse" x1="0" x2="0" y1="433" y2="813.8"><stop offset="0" stop-color="#00008d"/><stop offset=".029" stop-color="#0000a0"/><stop offset=".039" stop-color="#0000bf"/><stop offset=".055" stop-color="#0000ff"/><stop offset=".074" stop-color="#0051ff"/><stop offset=".081" stop-color="#0084ff"/><stop offset=".097" stop-color="#00faff"/><stop offset=".100" stop-color="#0cfff3"/><stop offset=".108" stop-color="#38ffc7"/><stop offset=".118" stop-color="#62ff9d"/><stop offset=".171" stop-color="#fffc00"/><stop offset=".186" stop-color="#ffc700"/><stop offset=".210" stop-color="#ff6800"/><stop offset=".221" stop-color="#ff4800"/><stop offset=".231" stop-color="#ff3800"/><stop offset=".273" stop-color="#ff0a00"/><stop offset=".284" stop-color="#fe0000"/><stop offset=".373" stop-color="#bc0000"/><stop offset=".410" stop-color="#b20000"/></linearGradient><linearGradient id="b27" gradientUnits="userSpaceOnUse" x1="0" x2="0" y1="433" y2="813.8"><stop offset="0" stop-color="#00008d"/><stop offset=".024" stop-color="#000099"/><stop offset=".032" stop-color="#0000a2"/><stop offset=".042" stop-color="#0000c2"/><stop offset=".058" stop-color="#0001ff"/><stop offset=".079" stop-color="#005aff"/><stop offset=".105" stop-color="#03fffc"/><stop offset=".113" stop-color="#2effd1"/><stop offset=".123" stop-color="#5affa5"/><stop offset=".176" stop-color="#fffe00"/><stop offset=".192" stop-color="#ffc800"/><stop offset=".218" stop-color="#ff6000"/><stop offset=".226" stop-color="#ff4a00"/><stop offset=".236" stop-color="#ff3b00"/><stop offset=".302" stop-color="#ff0000"/><stop offset=".383" stop-color="#c40000"/><stop offset=".423" stop-color="#ba0000"/></linearGradient><linearGradient id="b28" gradientUnits="userSpaceOnUse" x1="0" x2="0" y1="433" y2="813.8"><stop offset="0" stop-color="#00008d"/><stop offset=".032" stop-color="#0000a0"/><stop offset=".042" stop-color="#0000bd"/><stop offset=".060" stop-color="#0000ff"/><stop offset=".084" stop-color="#005eff"/><stop offset=".110" stop-color="#00f9ff"/><stop offset=".113" stop-color="#09fff6"/><stop offset=".121" stop-color="#31ffce"/><stop offset=".131" stop-color="#5cffa3"/><stop offset=".181" stop-color="#ffff00"/><stop offset=".194" stop-color="#ffd100"/><stop offset=".223" stop-color="#ff6000"/><stop offset=".231" stop-color="#ff4b00"/><stop offset=".239" stop-color="#ff4000"/><stop offset=".323" stop-color="#fe0000"/><stop offset=".399" stop-color="#cb0000"/><stop offset=".436" stop-color="#c20000"/></linearGradient><linearGradient id="b29" gradientUnits="userSpaceOnUse" x1="0" x2="0" y1="433" y2="813.8"><stop offset="0" stop-color="#00008d"/><stop offset=".026" stop-color="#000099"/><stop offset=".034" stop-color="#0000a2"/><stop offset=".045" stop-color="#0000c0"/><stop offset=".063" stop-color="#0000ff"/><stop offset=".089" stop-color="#0061ff"/><stop offset=".118" stop-color="#00ffff"/><stop offset=".129" stop-color="#35ffca"/><stop offset=".139" stop-color="#5fffa0"/><stop offset=".186" stop-color="#feff01"/><stop offset=".200" stop-color="#ffd100"/><stop offset=".228" stop-color="#ff6200"/><stop offset=".236" stop-color="#ff4d00"/><stop offset=".244" stop-color="#ff4300"/><stop offset=".341" stop-color="#ff0000"/><stop offset=".410" stop-color="#d30000"/><stop offset=".446" stop-color="#cb0000"/></linearGradient><linearGradient id="b30" gradientUnits="userSpaceOnUse" x1="0" x2="0" y1="433" y2="813.8"><stop offset="0" stop-color="#00008d"/><stop offset=".034" stop-color="#0000a0"/><stop offset=".047" stop-color="#0000c3"/><stop offset=".066" stop-color="#0000fe"/><stop offset=".084" stop-color="#003cff"/><stop offset=".095" stop-color="#0064ff"/><stop offset=".123" stop-color="#00fbff"/><stop offset=".126" stop-color="#09fff6"/><stop offset=".137" stop-color="#3bffc4"/><stop offset=".147" stop-color="#64ff9b"/><stop offset=".192" stop-color="#fbff04"/><stop offset=".194" stop-color="#fffa00"/><stop offset=".236" stop-color="#ff6100"/><stop offset=".244" stop-color="#ff5000"/><stop offset=".257" stop-color="#ff4200"/><stop offset=".357" stop-color="#ff0000"/><stop offset=".420" stop-color="#da0000"/><stop offset=".460" stop-color="#d40000"/></linearGradient><linearGradient id="b31" gradientUnits="userSpaceOnUse" x1="0" x2="0" y1="433" y2="813.8"><stop offset="0" stop-color="#00008d"/><stop offset=".034" stop-color="#00009e"/><stop offset=".047" stop-color="#0000be"/><stop offset=".068" stop-color="#0000fe"/><stop offset=".097" stop-color="#005eff"/><stop offset=".129" stop-color="#00f9ff"/><stop offset=".131" stop-color="#07fff8"/><stop offset=".142" stop-color="#39ffc6"/><stop offset=".152" stop-color="#61ff9e"/><stop offset=".202" stop-color="#fffb00"/><stop offset=".242" stop-color="#ff7500"/><stop offset=".257" stop-color="#ff5500"/><stop offset=".276" stop-color="#ff3f00"/><stop offset=".373" stop-color="#ff0000"/><stop offset=".428" stop-color="#e10000"/><stop offset=".473" stop-color="#dd0000"/></linearGradient><linearGradient id="b32" gradientUnits="userSpaceOnUse" x1="0" x2="0" y1="433" y2="813.8"><stop offset="0" stop-color="#00008d"/><stop offset=".037" stop-color="#0000a0"/><stop offset=".050" stop-color="#0000c1"/><stop offset=".071" stop-color="#0000ff"/><stop offset=".100" stop-color="#005aff"/><stop offset=".134" stop-color="#00faff"/><stop offset=".137" stop-color="#08fff7"/><stop offset=".147" stop-color="#37ffc8"/><stop offset=".158" stop-color="#5effa1"/><stop offset=".213" stop-color="#ffff00"/><stop offset=".244" stop-color="#ff9e00"/><stop offset=".260" stop-color="#ff7500"/><stop offset=".278" stop-color="#ff5200"/><stop offset=".297" stop-color="#ff3c00"/><stop offset=".389" stop-color="#ff0100"/><stop offset=".433" stop-color="#e90000"/><stop offset=".483" stop-color="#e50000"/></linearGradient><linearGradient id="b33" gradientUnits="userSpaceOnUse" x1="0" x2="0" y1="433" y2="813.8"><stop offset="0" stop-color="#00008d"/><stop offset=".037" stop-color="#00009e"/><stop offset=".050" stop-color="#0000bc"/><stop offset=".074" stop-color="#0001ff"/><stop offset=".102" stop-color="#0058ff"/><stop offset=".139" stop-color="#00fcff"/><stop offset=".142" stop-color="#09fff6"/><stop offset=".152" stop-color="#37ffc8"/><stop offset=".163" stop-color="#5affa5"/><stop offset=".228" stop-color="#fffc00"/><stop offset=".281" stop-color="#ff7100"/><stop offset=".297" stop-color="#ff5200"/><stop offset=".315" stop-color="#ff3b00"/><stop offset=".412" stop-color="#ff0000"/><stop offset=".441" stop-color="#f30000"/><stop offset=".494" stop-color="#ed0000"/></linearGradient><linearGradient id="b34" gradientUnits="userSpaceOnUse" x1="0" x2="0" y1="433" y2="813.8"><stop offset="0" stop-color="#00008d"/><stop offset=".039" stop-color="#0000a0"/><stop offset=".076" stop-color="#0002ff"/><stop offset=".108" stop-color="#005fff"/><stop offset=".144" stop-color="#00ffff"/><stop offset=".158" stop-color="#37ffc8"/><stop offset=".165" stop-color="#50ffaf"/><stop offset=".242" stop-color="#ffff00"/><stop offset=".297" stop-color="#ff7300"/><stop offset=".313" stop-color="#ff5400"/><stop offset=".326" stop-color="#ff4300"/><stop offset=".352" stop-color="#ff3000"/><stop offset=".436" stop-color="#ff0500"/><stop offset=".452" stop-color="#fe0000"/><stop offset=".507" stop-color="#f30000"/></linearGradient><linearGradient id="b35" gradientUnits="userSpaceOnUse" x1="0" x2="0" y1="433" y2="813.8"><stop offset="0" stop-color="#00008d"/><stop offset=".039" stop-color="#00009e"/><stop offset=".053" stop-color="#0000bb"/><stop offset=".079" stop-color="#0003ff"/><stop offset=".110" stop-color="#005dff"/><stop offset=".147" stop-color="#00f8ff"/><stop offset=".150" stop-color="#05fffa"/><stop offset=".163" stop-color="#3affc5"/><stop offset=".171" stop-color="#51ffae"/><stop offset=".252" stop-color="#feff01"/><stop offset=".313" stop-color="#ff7000"/><stop offset=".326" stop-color="#ff5800"/><stop offset=".339" stop-color="#ff4800"/><stop offset=".373" stop-color="#ff3100"/><stop offset=".478" stop-color="#ff0100"/><stop offset=".520" stop-color="#f70000"/></linearGradient><linearGradient id="b36" gradientUnits="userSpaceOnUse" x1="0" x2="0" y1="433" y2="813.8"><stop offset="0" stop-color="#00008d"/><stop offset=".042" stop-color="#0000a0"/><stop offset=".058" stop-color="#0000c4"/><stop offset=".079" stop-color="#0000fc"/><stop offset=".081" stop-color="#0004ff"/><stop offset=".113" stop-color="#005cff"/><stop offset=".152" stop-color="#00feff"/><stop offset=".155" stop-color="#0afff5"/><stop offset=".165" stop-color="#34ffcb"/><stop offset=".176" stop-color="#52ffad"/><stop offset=".260" stop-color="#fffe00"/><stop offset=".323" stop-color="#ff7500"/><stop offset=".339" stop-color="#ff5b00"/><stop offset=".355" stop-color="#ff4900"/><stop offset=".381" stop-color="#ff3700"/><stop offset=".494" stop-color="#ff0100"/><stop offset=".533" stop-color="#f80000"/></linearGradient><linearGradient id="b37" gradientUnits="userSpaceOnUse" x1="0" x2="0" y1="433" y2="813.8"><stop offset="0" stop-color="#00008d"/><stop offset=".042" stop-color="#00009e"/><stop offset=".058" stop-color="#0000c0"/><stop offset=".081" stop-color="#0000fd"/><stop offset=".116" stop-color="#005bff"/><stop offset=".155" stop-color="#00faff"/><stop offset=".158" stop-color="#06fff9"/><stop offset=".171" stop-color="#39ffc6"/><stop offset=".179" stop-color="#4fffb0"/><stop offset=".265" stop-color="#ffff00"/><stop offset=".334" stop-color="#ff7900"/><stop offset=".352" stop-color="#ff5c00"/><stop offset=".370" stop-color="#ff4800"/><stop offset=".502" stop-color="#ff0100"/><stop offset=".546" stop-color="#f50000"/></linearGradient><linearGradient id="b38" gradientUnits="userSpaceOnUse" x1="0" x2="0" y1="433" y2="813.8"><stop offset="0" stop-color="#00008d"/><stop offset=".045" stop-color="#0000a0"/><stop offset=".060" stop-color="#0000c2"/><stop offset=".084" stop-color="#0000ff"/><stop offset=".118" stop-color="#005cff"/><stop offset=".160" stop-color="#02fffd"/><stop offset=".173" stop-color="#34ffcb"/><stop offset=".184" stop-color="#51ffae"/><stop offset=".270" stop-color="#fffe00"/><stop offset=".297" stop-color="#ffca00"/><stop offset=".339" stop-color="#ff8300"/><stop offset=".362" stop-color="#ff5f00"/><stop offset=".381" stop-color="#ff4900"/><stop offset=".507" stop-color="#ff0000"/><stop offset=".533" stop-color="#f30000"/><stop offset=".559" stop-color="#ef0000"/></linearGradient><linearGradient id="b39" gradientUnits="userSpaceOnUse" x1="0" x2="0" y1="433" y2="813.8"><stop offset="0" stop-color="#00008d"/><stop offset=".045" stop-color="#00009f"/><stop offset=".063" stop-color="#0000c4"/><stop offset=".087" stop-color="#0003ff"/><stop offset=".121" stop-color="#005fff"/><stop offset=".163" stop-color="#00feff"/><stop offset=".165" stop-color="#09fff6"/><stop offset=".179" stop-color="#39ffc6"/><stop offset=".186" stop-color="#4effb1"/><stop offset=".276" stop-color="#fffd00"/><stop offset=".310" stop-color="#ffbe00"/><stop offset=".370" stop-color="#ff6300"/><stop offset=".394" stop-color="#ff4800"/><stop offset=".507" stop-color="#ff0100"/><stop offset=".544" stop-color="#ec0000"/><stop offset=".572" stop-color="#e80000"/></linearGradient><linearGradient id="b40" gradientUnits="userSpaceOnUse" x1="0" x2="0" y1="433" y2="813.8"><stop offset="0" stop-color="#00008d"/><stop offset=".047" stop-color="#0000a1"/><stop offset=".066" stop-color="#0000c7"/><stop offset=".087" stop-color="#0000fd"/><stop offset=".121" stop-color="#0059ff"/><stop offset=".165" stop-color="#00fbff"/><stop offset=".168" stop-color="#06fff9"/><stop offset=".181" stop-color="#34ffcb"/><stop offset=".192" stop-color="#50ffaf"/><stop offset=".278" stop-color="#feff01"/><stop offset=".310" stop-color="#ffc600"/><stop offset=".381" stop-color="#ff6300"/><stop offset=".407" stop-color="#ff4600"/><stop offset=".507" stop-color="#ff0000"/><stop offset=".551" stop-color="#e50000"/><stop offset=".586" stop-color="#de0000"/></linearGradient><linearGradient id="b41" gradientUnits="userSpaceOnUse" x1="0" x2="0" y1="433" y2="813.8"><stop offset="0" stop-color="#00008d"/><stop offset=".047" stop-color="#00009f"/><stop offset=".066" stop-color="#0000c3"/><stop offset=".089" stop-color="#0000ff"/><stop offset=".123" stop-color="#005bff"/><stop offset=".171" stop-color="#02fffd"/><stop offset=".184" stop-color="#30ffcf"/><stop offset=".194" stop-color="#4dffb2"/><stop offset=".284" stop-color="#fffd00"/><stop offset=".310" stop-color="#ffcc00"/><stop offset=".394" stop-color="#ff5f00"/><stop offset=".473" stop-color="#ff1800"/><stop offset=".504" stop-color="#ff0000"/><stop offset=".559" stop-color="#de0000"/><stop offset=".601" stop-color="#d40000"/></linearGradient><linearGradient id="b42" gradientUnits="userSpaceOnUse" x1="0" x2="0" y1="433" y2="813.8"><stop offset="0" stop-color="#00008d"/><stop offset=".047" stop-color="#00009d"/><stop offset=".068" stop-color="#0000c5"/><stop offset=".092" stop-color="#0002ff"/><stop offset=".126" stop-color="#005cff"/><stop offset=".173" stop-color="#00feff"/><stop offset=".176" stop-color="#08fff7"/><stop offset=".189" stop-color="#34ffcb"/><stop offset=".200" stop-color="#50ffaf"/><stop offset=".286" stop-color="#fffd00"/><stop offset=".305" stop-color="#ffd800"/><stop offset=".315" stop-color="#ffc900"/><stop offset=".410" stop-color="#ff5700"/><stop offset=".481" stop-color="#ff0f00"/><stop offset=".502" stop-color="#ff0000"/><stop offset=".572" stop-color="#d40000"/><stop offset=".617" stop-color="#c90000"/></linearGradient><linearGradient id="b43" gradientUnits="userSpaceOnUse" x1="0" x2="0" y1="433" y2="813.8"><stop offset="0" stop-color="#00008d"/><stop offset=".050" stop-color="#00009f"/><stop offset=".068" stop-color="#0000c1"/><stop offset=".095" stop-color="#0003ff"/><stop offset=".131" stop-color="#0063ff"/><stop offset=".179" stop-color="#03fffc"/><stop offset=".202" stop-color="#4cffb3"/><stop offset=".289" stop-color="#fffd00"/><stop offset=".315" stop-color="#ffcc00"/><stop offset=".483" stop-color="#ff0b00"/><stop offset=".499" stop-color="#ff0000"/><stop offset=".588" stop-color="#ca0000"/><stop offset=".630" stop-color="#c10000"/></linearGradient><linearGradient id="b44" gradientUnits="userSpaceOnUse" x1="0" x2="0" y1="433" y2="813.8"><stop offset="0" stop-color="#00008d"/><stop offset=".050" stop-color="#00009e"/><stop offset=".071" stop-color="#0000c3"/><stop offset=".097" stop-color="#0004ff"/><stop offset=".134" stop-color="#0060ff"/><stop offset=".181" stop-color="#00fdff"/><stop offset=".184" stop-color="#06fff9"/><stop offset=".207" stop-color="#4effb1"/><stop offset=".291" stop-color="#fffd00"/><stop offset=".318" stop-color="#ffcc00"/><stop offset=".475" stop-color="#ff1200"/><stop offset=".488" stop-color="#ff0700"/><stop offset=".499" stop-color="#fe0000"/><stop offset=".604" stop-color="#c10000"/><stop offset=".643" stop-color="#ba0000"/></linearGradient><linearGradient id="b45" gradientUnits="userSpaceOnUse" x1="0" x2="0" y1="433" y2="813.8"><stop offset="0" stop-color="#00008d"/><stop offset=".053" stop-color="#00009f"/><stop offset=".074" stop-color="#0000c5"/><stop offset=".097" stop-color="#0000fc"/><stop offset=".137" stop-color="#005cff"/><stop offset=".186" stop-color="#00feff"/><stop offset=".189" stop-color="#07fff8"/><stop offset=".213" stop-color="#4dffb2"/><stop offset=".294" stop-color="#fffe00"/><stop offset=".310" stop-color="#ffdc00"/><stop offset=".320" stop-color="#ffcb00"/><stop offset=".478" stop-color="#ff1200"/><stop offset=".499" stop-color="#ff0000"/><stop offset=".528" stop-color="#ea0000"/><stop offset=".609" stop-color="#bf0000"/><stop offset=".657" stop-color="#b60000"/></linearGradient><linearGradient id="b46" gradientUnits="userSpaceOnUse" x1="0" x2="0" y1="433" y2="813.8"><stop offset="0" stop-color="#00008d"/><stop offset=".053" stop-color="#00009e"/><stop offset=".074" stop-color="#0000c2"/><stop offset=".100" stop-color="#0000fc"/><stop offset=".139" stop-color="#0058ff"/><stop offset=".192" stop-color="#00fcff"/><stop offset=".194" stop-color="#05fffa"/><stop offset=".218" stop-color="#48ffb7"/><stop offset=".297" stop-color="#feff01"/><stop offset=".313" stop-color="#ffdc00"/><stop offset=".323" stop-color="#ffcb00"/><stop offset=".481" stop-color="#ff1300"/><stop offset=".499" stop-color="#ff0200"/><stop offset=".528" stop-color="#e90000"/><stop offset=".614" stop-color="#be0000"/><stop offset=".670" stop-color="#b20000"/></linearGradient><linearGradient id="b47" gradientUnits="userSpaceOnUse" x1="0" x2="0" y1="433" y2="813.8"><stop offset="0" stop-color="#00008d"/><stop offset=".055" stop-color="#00009f"/><stop offset=".076" stop-color="#0000c4"/><stop offset=".102" stop-color="#0000fd"/><stop offset=".144" stop-color="#005cff"/><stop offset=".200" stop-color="#00feff"/><stop offset=".202" stop-color="#07fff8"/><stop offset=".226" stop-color="#47ffb8"/><stop offset=".302" stop-color="#fffd00"/><stop offset=".318" stop-color="#ffd900"/><stop offset=".328" stop-color="#ffc900"/><stop offset=".502" stop-color="#ff0100"/><stop offset=".528" stop-color="#e90000"/><stop offset=".617" stop-color="#be0000"/><stop offset=".654" stop-color="#b20000"/><stop offset=".683" stop-color="#af0000"/></linearGradient><linearGradient id="b48" gradientUnits="userSpaceOnUse" x1="0" x2="0" y1="433" y2="813.8"><stop offset="0" stop-color="#00008d"/><stop offset=".055" stop-color="#00009e"/><stop offset=".079" stop-color="#0000c6"/><stop offset=".105" stop-color="#0000fd"/><stop offset=".147" stop-color="#0059ff"/><stop offset=".207" stop-color="#00ffff"/><stop offset=".210" stop-color="#07fff8"/><stop offset=".307" stop-color="#ffff00"/><stop offset=".323" stop-color="#ffdb00"/><stop offset=".341" stop-color="#ffc000"/><stop offset=".507" stop-color="#fe0000"/><stop offset=".530" stop-color="#e90000"/><stop offset=".620" stop-color="#bf0000"/><stop offset=".662" stop-color="#af0000"/><stop offset=".693" stop-color="#ab0000"/></linearGradient><linearGradient id="b49" gradientUnits="userSpaceOnUse" x1="0" x2="0" y1="433" y2="813.8"><stop offset="0" stop-color="#00008d"/><stop offset=".055" stop-color="#00009d"/><stop offset=".079" stop-color="#0000c3"/><stop offset=".108" stop-color="#0000fe"/><stop offset=".152" stop-color="#005dff"/><stop offset=".215" stop-color="#02fffd"/><stop offset=".315" stop-color="#feff01"/><stop offset=".318" stop-color="#fffa00"/><stop offset=".334" stop-color="#ffda00"/><stop offset=".355" stop-color="#ffbb00"/><stop offset=".452" stop-color="#ff4200"/><stop offset=".509" stop-color="#ff0100"/><stop offset=".533" stop-color="#ea0000"/><stop offset=".620" stop-color="#c20000"/><stop offset=".675" stop-color="#ac0000"/><stop offset=".706" stop-color="#a80000"/></linearGradient><linearGradient id="b50" gradientUnits="userSpaceOnUse" x1="0" x2="0" y1="433" y2="813.8"><stop offset="0" stop-color="#00008d"/><stop offset=".058" stop-color="#00009f"/><stop offset=".081" stop-color="#0000c5"/><stop offset=".110" stop-color="#0000ff"/><stop offset=".155" stop-color="#005bff"/><stop offset=".221" stop-color="#00ffff"/><stop offset=".223" stop-color="#06fff9"/><stop offset=".318" stop-color="#ecff13"/><stop offset=".326" stop-color="#feff01"/><stop offset=".328" stop-color="#fffa00"/><stop offset=".347" stop-color="#ffd500"/><stop offset=".368" stop-color="#ffb600"/><stop offset=".454" stop-color="#ff4600"/><stop offset=".517" stop-color="#ff0000"/><stop offset=".533" stop-color="#f00000"/><stop offset=".565" stop-color="#e00000"/><stop offset=".683" stop-color="#ab0000"/><stop offset=".717" stop-color="#a40000"/></linearGradient><linearGradient id="b51" gradientUnits="userSpaceOnUse" x1="0" x2="0" y1="433" y2="813.8"><stop offset="0" stop-color="#00008d"/><stop offset=".058" stop-color="#00009e"/><stop offset=".081" stop-color="#0000c3"/><stop offset=".113" stop-color="#0001ff"/><stop offset=".158" stop-color="#005aff"/><stop offset=".226" stop-color="#00fdff"/><stop offset=".228" stop-color="#05fffa"/><stop offset=".336" stop-color="#ffff00"/><stop offset=".357" stop-color="#ffd400"/><stop offset=".381" stop-color="#ffb100"/><stop offset=".460" stop-color="#ff4900"/><stop offset=".525" stop-color="#ff0100"/><stop offset=".693" stop-color="#aa0000"/><stop offset=".730" stop-color="#a10000"/></linearGradient><linearGradient id="b52" gradientUnits="userSpaceOnUse" x1="0" x2="0" y1="433" y2="813.8"><stop offset="0" stop-color="#00008d"/><stop offset=".060" stop-color="#00009f"/><stop offset=".084" stop-color="#0000c5"/><stop offset=".116" stop-color="#0002ff"/><stop offset=".163" stop-color="#005fff"/><stop offset=".231" stop-color="#00fdff"/><stop offset=".234" stop-color="#04fffb"/><stop offset=".341" stop-color="#f8ff07"/><stop offset=".347" stop-color="#fffb00"/><stop offset=".376" stop-color="#ffc500"/><stop offset=".460" stop-color="#ff5200"/><stop offset=".515" stop-color="#ff1400"/><stop offset=".536" stop-color="#ff0200"/><stop offset=".709" stop-color="#a70000"/><stop offset=".743" stop-color="#a00000"/></linearGradient><linearGradient id="b53" gradientUnits="userSpaceOnUse" x1="0" x2="0" y1="433" y2="813.8"><stop offset="0" stop-color="#00008d"/><stop offset=".060" stop-color="#00009e"/><stop offset=".084" stop-color="#0000c2"/><stop offset=".116" stop-color="#0000fd"/><stop offset=".165" stop-color="#005eff"/><stop offset=".239" stop-color="#03fffc"/><stop offset=".352" stop-color="#fdff02"/><stop offset=".355" stop-color="#fffb00"/><stop offset=".383" stop-color="#ffc500"/><stop offset=".465" stop-color="#ff5500"/><stop offset=".515" stop-color="#ff1d00"/><stop offset=".538" stop-color="#ff0800"/><stop offset=".554" stop-color="#ff0000"/><stop offset=".720" stop-color="#a70000"/><stop offset=".756" stop-color="#a00000"/></linearGradient><linearGradient id="b54" gradientUnits="userSpaceOnUse" x1="0" x2="0" y1="433" y2="813.8"><stop offset="0" stop-color="#00008d"/><stop offset=".060" stop-color="#00009d"/><stop offset=".087" stop-color="#0000c4"/><stop offset=".118" stop-color="#0000ff"/><stop offset=".168" stop-color="#005dff"/><stop offset=".244" stop-color="#01fffe"/><stop offset=".362" stop-color="#fffb00"/><stop offset=".391" stop-color="#ffc500"/><stop offset=".475" stop-color="#ff5000"/><stop offset=".523" stop-color="#ff1d00"/><stop offset=".546" stop-color="#ff0a00"/><stop offset=".565" stop-color="#ff0000"/><stop offset=".599" stop-color="#ef0000"/><stop offset=".727" stop-color="#aa0000"/><stop offset=".769" stop-color="#a20000"/></linearGradient><linearGradient id="b55" gradientUnits="userSpaceOnUse" x1="0" x2="0" y1="433" y2="813.8"><stop offset="0" stop-color="#00008d"/><stop offset=".063" stop-color="#00009f"/><stop offset=".087" stop-color="#0000c2"/><stop offset=".121" stop-color="#0001ff"/><stop offset=".171" stop-color="#005cff"/><stop offset=".249" stop-color="#00fdff"/><stop offset=".252" stop-color="#04fffb"/><stop offset=".370" stop-color="#fffc00"/><stop offset=".399" stop-color="#ffc500"/><stop offset=".481" stop-color="#ff5300"/><stop offset=".528" stop-color="#ff2000"/><stop offset=".554" stop-color="#ff0a00"/><stop offset=".575" stop-color="#ff0000"/><stop offset=".609" stop-color="#f00000"/><stop offset=".727" stop-color="#b10000"/><stop offset=".783" stop-color="#a50000"/></linearGradient><linearGradient id="b56" gradientUnits="userSpaceOnUse" x1="0" x2="0" y1="433" y2="813.8"><stop offset="0" stop-color="#00008d"/><stop offset=".063" stop-color="#00009e"/><stop offset=".089" stop-color="#0000c4"/><stop offset=".123" stop-color="#0002ff"/><stop offset=".173" stop-color="#005bff"/><stop offset=".257" stop-color="#00feff"/><stop offset=".260" stop-color="#04fffb"/><stop offset=".302" stop-color="#58ffa7"/><stop offset=".378" stop-color="#fffd00"/><stop offset=".407" stop-color="#ffc500"/><stop offset=".488" stop-color="#ff5200"/><stop offset=".533" stop-color="#ff2300"/><stop offset=".562" stop-color="#ff0b00"/><stop offset=".586" stop-color="#ff0000"/><stop offset=".622" stop-color="#ef0000"/><stop offset=".725" stop-color="#b70000"/><stop offset=".764" stop-color="#ab0000"/><stop offset=".798" stop-color="#a90000"/></linearGradient><linearGradient id="b57" gradientUnits="userSpaceOnUse" x1="0" x2="0" y1="433" y2="813.8"><stop offset="0" stop-color="#00008d"/><stop offset=".063" stop-color="#00009d"/><stop offset=".089" stop-color="#0000c2"/><stop offset=".126" stop-color="#0002ff"/><stop offset=".265" stop-color="#00ffff"/><stop offset=".268" stop-color="#05fffa"/><stop offset=".310" stop-color="#55ffaa"/><stop offset=".386" stop-color="#fffd00"/><stop offset=".412" stop-color="#ffc800"/><stop offset=".496" stop-color="#ff5200"/><stop offset=".541" stop-color="#ff2300"/><stop offset=".570" stop-color="#ff0b00"/><stop offset=".596" stop-color="#fe0000"/><stop offset=".636" stop-color="#ee0000"/><stop offset=".727" stop-color="#ba0000"/><stop offset=".811" stop-color="#ac0000"/></linearGradient><linearGradient id="b58" gradientUnits="userSpaceOnUse" x1="0" x2="0" y1="433" y2="813.8"><stop offset="0" stop-color="#00008d"/><stop offset=".066" stop-color="#00009e"/><stop offset=".092" stop-color="#0000c3"/><stop offset=".129" stop-color="#0002ff"/><stop offset=".273" stop-color="#02fffd"/><stop offset=".315" stop-color="#4fffb0"/><stop offset=".391" stop-color="#feff01"/><stop offset=".418" stop-color="#ffca00"/><stop offset=".502" stop-color="#ff5400"/><stop offset=".530" stop-color="#ff3500"/><stop offset=".578" stop-color="#ff0c00"/><stop offset=".604" stop-color="#ff0000"/><stop offset=".646" stop-color="#ee0000"/><stop offset=".733" stop-color="#bb0000"/><stop offset=".830" stop-color="#b00000"/></linearGradient><linearGradient id="b59" gradientUnits="userSpaceOnUse" x1="0" x2="0" y1="433" y2="813.8"><stop offset="0" stop-color="#00008d"/><stop offset=".068" stop-color="#00009f"/><stop offset=".095" stop-color="#0000c3"/><stop offset=".131" stop-color="#0002ff"/><stop offset=".278" stop-color="#01fffe"/><stop offset=".320" stop-color="#4dffb2"/><stop offset=".397" stop-color="#feff01"/><stop offset=".399" stop-color="#fffa00"/><stop offset=".423" stop-color="#ffca00"/><stop offset=".509" stop-color="#ff5300"/><stop offset=".559" stop-color="#ff2100"/><stop offset=".588" stop-color="#ff0b00"/><stop offset=".612" stop-color="#ff0000"/><stop offset=".657" stop-color="#ed0000"/><stop offset=".735" stop-color="#bd0000"/><stop offset=".856" stop-color="#b30000"/></linearGradient><linearGradient id="b60" gradientUnits="userSpaceOnUse" x1="0" x2="0" y1="433" y2="813.8"><stop offset="0" stop-color="#00008d"/><stop offset=".068" stop-color="#00009d"/><stop offset=".097" stop-color="#0000c3"/><stop offset=".134" stop-color="#0001ff"/><stop offset=".284" stop-color="#01fffe"/><stop offset=".326" stop-color="#4cffb3"/><stop offset=".402" stop-color="#ffff00"/><stop offset=".428" stop-color="#ffc900"/><stop offset=".517" stop-color="#ff5300"/><stop offset=".570" stop-color="#ff1f00"/><stop offset=".599" stop-color="#ff0a00"/><stop offset=".622" stop-color="#fe0000"/><stop offset=".662" stop-color="#ee0000"/><stop offset=".741" stop-color="#bd0000"/><stop offset=".882" stop-color="#b60000"/></linearGradient><linearGradient id="b61" gradientUnits="userSpaceOnUse" x1="0" x2="0" y1="433" y2="813.8"><stop offset="0" stop-color="#00008d"/><stop offset=".071" stop-color="#00009e"/><stop offset=".100" stop-color="#0000c4"/><stop offset=".137" stop-color="#0001ff"/><stop offset=".289" stop-color="#02fffd"/><stop offset=".331" stop-color="#4dffb2"/><stop offset=".407" stop-color="#fffe00"/><stop offset=".431" stop-color="#ffcd00"/><stop offset=".525" stop-color="#ff5200"/><stop offset=".580" stop-color="#ff1e00"/><stop offset=".609" stop-color="#ff0900"/><stop offset=".628" stop-color="#ff0000"/><stop offset=".667" stop-color="#ee0000"/><stop offset=".746" stop-color="#bd0000"/><stop offset=".825" stop-color="#b70000"/><stop offset=".901" stop-color="#ba0000"/></linearGradient><linearGradient id="b62" gradientUnits="userSpaceOnUse" x1="0" x2="0" y1="433" y2="813.8"><stop offset="0" stop-color="#00008d"/><stop offset=".074" stop-color="#00009e"/><stop offset=".102" stop-color="#0000c4"/><stop offset=".139" stop-color="#0000ff"/><stop offset=".294" stop-color="#03fffc"/><stop offset=".336" stop-color="#4dffb2"/><stop offset=".412" stop-color="#fffe00"/><stop offset=".428" stop-color="#ffda00"/><stop offset=".439" stop-color="#ffc900"/><stop offset=".533" stop-color="#ff5200"/><stop offset=".593" stop-color="#ff1a00"/><stop offset=".622" stop-color="#ff0600"/><stop offset=".636" stop-color="#ff0000"/><stop offset=".672" stop-color="#ee0000"/><stop offset=".754" stop-color="#bd0000"/><stop offset=".825" stop-color="#b40000"/><stop offset=".919" stop-color="#c00000"/></linearGradient><linearGradient id="b63" gradientUnits="userSpaceOnUse" x1="0" x2="0" y1="433" y2="813.8"><stop offset="0" stop-color="#00008d"/><stop offset=".074" stop-color="#00009d"/><stop offset=".105" stop-color="#0000c4"/><stop offset=".142" stop-color="#0000fe"/><stop offset=".297" stop-color="#00feff"/><stop offset=".299" stop-color="#04fffb"/><stop offset=".339" stop-color="#48ffb7"/><stop offset=".418" stop-color="#feff01"/><stop offset=".420" stop-color="#fffa00"/><stop offset=".433" stop-color="#ffdd00"/><stop offset=".446" stop-color="#ffc800"/><stop offset=".544" stop-color="#ff4e00"/><stop offset=".607" stop-color="#ff1600"/><stop offset=".641" stop-color="#ff0100"/><stop offset=".683" stop-color="#eb0000"/><stop offset=".751" stop-color="#bf0000"/><stop offset=".814" stop-color="#b10000"/><stop offset=".932" stop-color="#c80000"/></linearGradient><linearGradient id="b64" gradientUnits="userSpaceOnUse" x1="0" x2="0" y1="433" y2="813.8"><stop offset="0" stop-color="#00008d"/><stop offset=".076" stop-color="#00009e"/><stop offset=".108" stop-color="#0000c4"/><stop offset=".144" stop-color="#0000fd"/><stop offset=".302" stop-color="#00ffff"/><stop offset=".344" stop-color="#48ffb7"/><stop offset=".425" stop-color="#ffff00"/><stop offset=".454" stop-color="#ffc800"/><stop offset=".551" stop-color="#ff4e00"/><stop offset=".614" stop-color="#ff1600"/><stop offset=".649" stop-color="#ff0100"/><stop offset=".759" stop-color="#be0000"/><stop offset=".817" stop-color="#ae0000"/><stop offset=".872" stop-color="#bb0000"/><stop offset=".919" stop-color="#cf0000"/><stop offset=".943" stop-color="#d10000"/></linearGradient><linearGradient id="b65" gradientUnits="userSpaceOnUse" x1="0" x2="0" y1="433" y2="813.8"><stop offset="0" stop-color="#00008d"/><stop offset=".079" stop-color="#00009e"/><stop offset=".110" stop-color="#0000c4"/><stop offset=".150" stop-color="#0002ff"/><stop offset=".307" stop-color="#01fffe"/><stop offset=".349" stop-color="#48ffb7"/><stop offset=".433" stop-color="#ffff00"/><stop offset=".465" stop-color="#ffc600"/><stop offset=".559" stop-color="#ff4d00"/><stop offset=".622" stop-color="#ff1600"/><stop offset=".657" stop-color="#ff0000"/><stop offset=".762" stop-color="#be0000"/><stop offset=".817" stop-color="#af0000"/><stop offset=".867" stop-color="#bb0000"/><stop offset=".924" stop-color="#d90000"/><stop offset=".951" stop-color="#da0000"/></linearGradient><linearGradient id="b66" gradientUnits="userSpaceOnUse" x1="0" x2="0" y1="433" y2="813.8"><stop offset="0" stop-color="#00008d"/><stop offset=".081" stop-color="#00009f"/><stop offset=".113" stop-color="#0000c4"/><stop offset=".152" stop-color="#0000ff"/><stop offset=".215" stop-color="#0061ff"/><stop offset=".313" stop-color="#01fffe"/><stop offset=".355" stop-color="#48ffb7"/><stop offset=".441" stop-color="#feff01"/><stop offset=".473" stop-color="#ffc700"/><stop offset=".567" stop-color="#ff4c00"/><stop offset=".633" stop-color="#ff1300"/><stop offset=".662" stop-color="#ff0000"/><stop offset=".767" stop-color="#be0000"/><stop offset=".814" stop-color="#b10000"/><stop offset=".864" stop-color="#bd0000"/><stop offset=".924" stop-color="#e00000"/><stop offset=".953" stop-color="#e20000"/></linearGradient><linearGradient id="b67" gradientUnits="userSpaceOnUse" x1="0" x2="0" y1="433" y2="813.8"><stop offset="0" stop-color="#00008d"/><stop offset=".081" stop-color="#00009d"/><stop offset=".116" stop-color="#0000c4"/><stop offset=".155" stop-color="#0000fd"/><stop offset=".221" stop-color="#0060ff"/><stop offset=".318" stop-color="#01fffe"/><stop offset=".360" stop-color="#48ffb7"/><stop offset=".449" stop-color="#feff01"/><stop offset=".452" stop-color="#fffb00"/><stop offset=".481" stop-color="#ffc800"/><stop offset=".572" stop-color="#ff4d00"/><stop offset=".641" stop-color="#ff1000"/><stop offset=".667" stop-color="#ff0000"/><stop offset=".769" stop-color="#bf0000"/><stop offset=".814" stop-color="#b20000"/><stop offset=".859" stop-color="#bd0000"/><stop offset=".922" stop-color="#e50000"/><stop offset=".959" stop-color="#e80000"/></linearGradient><linearGradient id="b68" gradientUnits="userSpaceOnUse" x1="0" x2="0" y1="433" y2="813.8"><stop offset="0" stop-color="#00008d"/><stop offset=".084" stop-color="#00009e"/><stop offset=".118" stop-color="#0000c4"/><stop offset=".160" stop-color="#0000ff"/><stop offset=".228" stop-color="#0063ff"/><stop offset=".323" stop-color="#01fffe"/><stop offset=".365" stop-color="#48ffb7"/><stop offset=".460" stop-color="#fffc00"/><stop offset=".488" stop-color="#ffc900"/><stop offset=".580" stop-color="#ff4b00"/><stop offset=".646" stop-color="#ff0f00"/><stop offset=".670" stop-color="#ff0100"/><stop offset=".712" stop-color="#e90000"/><stop offset=".775" stop-color="#bf0000"/><stop offset=".814" stop-color="#b30000"/><stop offset=".853" stop-color="#bd0000"/><stop offset=".916" stop-color="#e80000"/><stop offset=".961" stop-color="#ec0000"/></linearGradient><linearGradient id="b69" gradientUnits="userSpaceOnUse" x1="0" x2="0" y1="433" y2="813.8"><stop offset="0" stop-color="#00008d"/><stop offset=".087" stop-color="#00009e"/><stop offset=".121" stop-color="#0000c4"/><stop offset=".165" stop-color="#0002ff"/><stop offset=".234" stop-color="#0061ff"/><stop offset=".328" stop-color="#01fffe"/><stop offset=".368" stop-color="#44ffbb"/><stop offset=".467" stop-color="#fffc00"/><stop offset=".499" stop-color="#ffc600"/><stop offset=".586" stop-color="#ff4c00"/><stop offset=".649" stop-color="#ff1000"/><stop offset=".675" stop-color="#ff0100"/><stop offset=".720" stop-color="#e80000"/><stop offset=".780" stop-color="#be0000"/><stop offset=".814" stop-color="#b40000"/><stop offset=".848" stop-color="#be0000"/><stop offset=".909" stop-color="#e90000"/><stop offset=".966" stop-color="#ee0000"/></linearGradient><linearGradient id="b70" gradientUnits="userSpaceOnUse" x1="0" x2="0" y1="433" y2="813.8"><stop offset="0" stop-color="#00008d"/><stop offset=".087" stop-color="#00009d"/><stop offset=".123" stop-color="#0000c4"/><stop offset=".168" stop-color="#0000ff"/><stop offset=".239" stop-color="#0060ff"/><stop offset=".334" stop-color="#01fffe"/><stop offset=".475" stop-color="#fffd00"/><stop offset=".507" stop-color="#ffc700"/><stop offset=".591" stop-color="#ff4c00"/><stop offset=".664" stop-color="#ff0800"/><stop offset=".680" stop-color="#ff0000"/><stop offset=".706" stop-color="#f20000"/><stop offset=".783" stop-color="#c00000"/><stop offset=".814" stop-color="#b60000"/><stop offset=".846" stop-color="#bf0000"/><stop offset=".901" stop-color="#e90000"/><stop offset=".966" stop-color="#f00000"/></linearGradient><linearGradient id="b71" gradientUnits="userSpaceOnUse" x1="0" x2="0" y1="433" y2="813.8"><stop offset="0" stop-color="#00008d"/><stop offset=".089" stop-color="#00009d"/><stop offset=".126" stop-color="#0000c4"/><stop offset=".173" stop-color="#0002ff"/><stop offset=".244" stop-color="#005fff"/><stop offset=".339" stop-color="#01fffe"/><stop offset=".483" stop-color="#fffd00"/><stop offset=".515" stop-color="#ffc800"/><stop offset=".596" stop-color="#ff4d00"/><stop offset=".667" stop-color="#ff0900"/><stop offset=".685" stop-color="#ff0000"/><stop offset=".720" stop-color="#ef0000"/><stop offset=".788" stop-color="#c00000"/><stop offset=".814" stop-color="#b70000"/><stop offset=".840" stop-color="#c00000"/><stop offset=".893" stop-color="#e90000"/><stop offset=".966" stop-color="#f10000"/></linearGradient><linearGradient id="b72" gradientUnits="userSpaceOnUse" x1="0" x2="0" y1="433" y2="813.8"><stop offset="0" stop-color="#00008d"/><stop offset=".092" stop-color="#00009e"/><stop offset=".129" stop-color="#0000c4"/><stop offset=".176" stop-color="#0000ff"/><stop offset=".249" stop-color="#005eff"/><stop offset=".344" stop-color="#01fffe"/><stop offset=".491" stop-color="#fffd00"/><stop offset=".601" stop-color="#ff4e00"/><stop offset=".654" stop-color="#ff1500"/><stop offset=".670" stop-color="#ff0900"/><stop offset=".691" stop-color="#fe0000"/><stop offset=".725" stop-color="#ef0000"/><stop offset=".793" stop-color="#c10000"/><stop offset=".814" stop-color="#b90000"/><stop offset=".835" stop-color="#c00000"/><stop offset=".888" stop-color="#ea0000"/><stop offset=".972" stop-color="#f30000"/></linearGradient><linearGradient id="b73" gradientUnits="userSpaceOnUse" x1="0" x2="0" y1="433" y2="813.8"><stop offset="0" stop-color="#00008d"/><stop offset=".092" stop-color="#00009d"/><stop offset=".131" stop-color="#0000c4"/><stop offset=".181" stop-color="#0002ff"/><stop offset=".255" stop-color="#005dff"/><stop offset=".349" stop-color="#02fffd"/><stop offset=".496" stop-color="#feff01"/><stop offset=".607" stop-color="#ff4f00"/><stop offset=".657" stop-color="#ff1700"/><stop offset=".672" stop-color="#ff0a00"/><stop offset=".693" stop-color="#ff0000"/><stop offset=".733" stop-color="#ee0000"/><stop offset=".814" stop-color="#bc0000"/><stop offset=".830" stop-color="#c10000"/><stop offset=".882" stop-color="#ea0000"/><stop offset=".974" stop-color="#f50000"/></linearGradient><linearGradient id="b74" gradientUnits="userSpaceOnUse" x1="0" x2="0" y1="433" y2="813.8"><stop offset="0" stop-color="#00008d"/><stop offset=".095" stop-color="#00009d"/><stop offset=".134" stop-color="#0000c4"/><stop offset=".184" stop-color="#0000ff"/><stop offset=".263" stop-color="#0060ff"/><stop offset=".355" stop-color="#02fffd"/><stop offset=".504" stop-color="#fffd00"/><stop offset=".612" stop-color="#ff4f00"/><stop offset=".675" stop-color="#ff0a00"/><stop offset=".699" stop-color="#ff0000"/><stop offset=".730" stop-color="#f20000"/><stop offset=".814" stop-color="#c40000"/><stop offset=".827" stop-color="#c80000"/><stop offset=".880" stop-color="#eb0000"/><stop offset=".977" stop-color="#f60000"/></linearGradient><linearGradient id="b75" gradientUnits="userSpaceOnUse" x1="0" x2="0" y1="433" y2="813.8"><stop offset="0" stop-color="#00008d"/><stop offset=".097" stop-color="#00009e"/><stop offset=".137" stop-color="#0000c4"/><stop offset=".189" stop-color="#0002ff"/><stop offset=".268" stop-color="#0060ff"/><stop offset=".360" stop-color="#03fffc"/><stop offset=".402" stop-color="#4effb1"/><stop offset=".509" stop-color="#fffd00"/><stop offset=".620" stop-color="#ff4c00"/><stop offset=".667" stop-color="#ff1400"/><stop offset=".680" stop-color="#ff0a00"/><stop offset=".704" stop-color="#ff0000"/><stop offset=".814" stop-color="#cf0000"/><stop offset=".877" stop-color="#ec0000"/><stop offset=".977" stop-color="#f80000"/></linearGradient><linearGradient id="b76" gradientUnits="userSpaceOnUse" x1="0" x2="0" y1="433" y2="813.8"><stop offset="0" stop-color="#00008d"/><stop offset=".097" stop-color="#00009d"/><stop offset=".139" stop-color="#0000c4"/><stop offset=".192" stop-color="#0000ff"/><stop offset=".273" stop-color="#005fff"/><stop offset=".362" stop-color="#01fffe"/><stop offset=".404" stop-color="#4cffb3"/><stop offset=".515" stop-color="#fffd00"/><stop offset=".625" stop-color="#ff4b00"/><stop offset=".670" stop-color="#ff1600"/><stop offset=".685" stop-color="#ff0a00"/><stop offset=".709" stop-color="#ff0000"/><stop offset=".811" stop-color="#d90000"/><stop offset=".874" stop-color="#ed0000"/><stop offset=".977" stop-color="#fa0000"/></linearGradient><linearGradient id="b77" gradientUnits="userSpaceOnUse" x1="0" x2="0" y1="433" y2="813.8"><stop offset="0" stop-color="#00008d"/><stop offset=".100" stop-color="#00009d"/><stop offset=".142" stop-color="#0000c4"/><stop offset=".194" stop-color="#0000ff"/><stop offset=".278" stop-color="#005fff"/><stop offset=".365" stop-color="#00ffff"/><stop offset=".368" stop-color="#04fffb"/><stop offset=".407" stop-color="#4cffb3"/><stop offset=".520" stop-color="#fffd00"/><stop offset=".630" stop-color="#ff4a00"/><stop offset=".675" stop-color="#ff1600"/><stop offset=".691" stop-color="#ff0a00"/><stop offset=".714" stop-color="#ff0000"/><stop offset=".809" stop-color="#df0000"/><stop offset=".877" stop-color="#ef0000"/><stop offset=".977" stop-color="#fb0000"/></linearGradient><linearGradient id="b78" gradientUnits="userSpaceOnUse" x1="0" x2="0" y1="433" y2="813.8"><stop offset="0" stop-color="#00008d"/><stop offset=".102" stop-color="#00009e"/><stop offset=".144" stop-color="#0000c5"/><stop offset=".197" stop-color="#0000fe"/><stop offset=".281" stop-color="#005cff"/><stop offset=".368" stop-color="#00feff"/><stop offset=".370" stop-color="#04fffb"/><stop offset=".407" stop-color="#49ffb6"/><stop offset=".525" stop-color="#fffc00"/><stop offset=".636" stop-color="#ff4900"/><stop offset=".678" stop-color="#ff1a00"/><stop offset=".696" stop-color="#ff0a00"/><stop offset=".722" stop-color="#fe0000"/><stop offset=".809" stop-color="#e10000"/><stop offset=".940" stop-color="#fc0000"/><stop offset=".977" stop-color="#fd0000"/></linearGradient><linearGradient id="b79" gradientUnits="userSpaceOnUse" x1="0" x2="0" y1="433" y2="813.8"><stop offset="0" stop-color="#00008d"/><stop offset=".102" stop-color="#00009d"/><stop offset=".144" stop-color="#0000c3"/><stop offset=".202" stop-color="#0002ff"/><stop offset=".286" stop-color="#005fff"/><stop offset=".370" stop-color="#00ffff"/><stop offset=".373" stop-color="#05fffa"/><stop offset=".410" stop-color="#4affb5"/><stop offset=".528" stop-color="#ffff00"/><stop offset=".638" stop-color="#ff4b00"/><stop offset=".701" stop-color="#ff0b00"/><stop offset=".727" stop-color="#ff0000"/><stop offset=".809" stop-color="#e30000"/><stop offset=".938" stop-color="#fe0000"/><stop offset=".972" stop-color="#ff0000"/></linearGradient><linearGradient id="b80" gradientUnits="userSpaceOnUse" x1="0" x2="0" y1="433" y2="813.8"><stop offset="0" stop-color="#00008d"/><stop offset=".105" stop-color="#00009e"/><stop offset=".205" stop-color="#0002ff"/><stop offset=".289" stop-color="#005eff"/><stop offset=".373" stop-color="#00ffff"/><stop offset=".412" stop-color="#4bffb4"/><stop offset=".533" stop-color="#fffd00"/><stop offset=".643" stop-color="#ff4a00"/><stop offset=".706" stop-color="#ff0c00"/><stop offset=".735" stop-color="#fe0000"/><stop offset=".809" stop-color="#e60000"/><stop offset=".927" stop-color="#ff0000"/><stop offset=".966" stop-color="#ff0200"/></linearGradient><linearGradient id="b81" gradientUnits="userSpaceOnUse" x1="0" x2="0" y1="433" y2="813.8"><stop offset="0" stop-color="#00008d"/><stop offset=".105" stop-color="#00009d"/><stop offset=".150" stop-color="#0000c4"/><stop offset=".207" stop-color="#0002ff"/><stop offset=".291" stop-color="#005dff"/><stop offset=".376" stop-color="#01fffe"/><stop offset=".412" stop-color="#48ffb7"/><stop offset=".536" stop-color="#fffe00"/><stop offset=".646" stop-color="#ff4c00"/><stop offset=".712" stop-color="#ff0d00"/><stop offset=".743" stop-color="#ff0000"/><stop offset=".809" stop-color="#e90000"/><stop offset=".914" stop-color="#ff0000"/><stop offset=".961" stop-color="#ff0400"/></linearGradient><linearGradient id="b82" gradientUnits="userSpaceOnUse" x1="0" x2="0" y1="433" y2="813.8"><stop offset="0" stop-color="#00008d"/><stop offset=".108" stop-color="#00009d"/><stop offset=".152" stop-color="#0000c4"/><stop offset=".207" stop-color="#0000fe"/><stop offset=".294" stop-color="#005cff"/><stop offset=".378" stop-color="#02fffd"/><stop offset=".415" stop-color="#49ffb6"/><stop offset=".538" stop-color="#fffe00"/><stop offset=".651" stop-color="#ff4b00"/><stop offset=".720" stop-color="#ff0e00"/><stop offset=".756" stop-color="#ff0000"/><stop offset=".809" stop-color="#f00000"/><stop offset=".893" stop-color="#ff0000"/><stop offset=".948" stop-color="#ff0600"/></linearGradient><linearGradient id="b83" gradientUnits="userSpaceOnUse" x1="0" x2="0" y1="433" y2="813.8"><stop offset="0" stop-color="#00008d"/><stop offset=".110" stop-color="#00009e"/><stop offset=".155" stop-color="#0000c5"/><stop offset=".210" stop-color="#0000fe"/><stop offset=".297" stop-color="#005bff"/><stop offset=".381" stop-color="#02fffd"/><stop offset=".418" stop-color="#4affb5"/><stop offset=".541" stop-color="#fffe00"/><stop offset=".657" stop-color="#ff4900"/><stop offset=".725" stop-color="#ff1100"/><stop offset=".785" stop-color="#ff0000"/><stop offset=".809" stop-color="#fb0000"/><stop offset=".943" stop-color="#ff0800"/></linearGradient><linearGradient id="b84" gradientUnits="userSpaceOnUse" x1="0" x2="0" y1="433" y2="813.8"><stop offset="0" stop-color="#00008d"/><stop offset=".110" stop-color="#00009d"/><stop offset=".158" stop-color="#0000c5"/><stop offset=".215" stop-color="#0002ff"/><stop offset=".302" stop-color="#005eff"/><stop offset=".383" stop-color="#02fffd"/><stop offset=".420" stop-color="#4affb5"/><stop offset=".544" stop-color="#ffff00"/><stop offset=".659" stop-color="#ff4c00"/><stop offset=".730" stop-color="#ff1400"/><stop offset=".751" stop-color="#ff0c00"/><stop offset=".809" stop-color="#ff0500"/><stop offset=".930" stop-color="#ff0a00"/></linearGradient><linearGradient id="b85" gradientUnits="userSpaceOnUse" x1="0" x2="0" y1="433" y2="813.8"><stop offset="0" stop-color="#00008d"/><stop offset=".113" stop-color="#00009e"/><stop offset=".160" stop-color="#0000c5"/><stop offset=".218" stop-color="#0001ff"/><stop offset=".305" stop-color="#005cff"/><stop offset=".386" stop-color="#00ffff"/><stop offset=".423" stop-color="#49ffb6"/><stop offset=".549" stop-color="#fffd00"/><stop offset=".664" stop-color="#ff4b00"/><stop offset=".730" stop-color="#ff1c00"/><stop offset=".756" stop-color="#ff1000"/><stop offset=".817" stop-color="#ff0600"/><stop offset=".924" stop-color="#ff0e00"/></linearGradient><linearGradient id="b86" gradientUnits="userSpaceOnUse" x1="0" x2="0" y1="433" y2="813.8"><stop offset="0" stop-color="#00008d"/><stop offset=".113" stop-color="#00009d"/><stop offset=".160" stop-color="#0000c3"/><stop offset=".221" stop-color="#0001ff"/><stop offset=".310" stop-color="#005dff"/><stop offset=".391" stop-color="#03fffc"/><stop offset=".428" stop-color="#4bffb4"/><stop offset=".551" stop-color="#feff01"/><stop offset=".662" stop-color="#ff5500"/><stop offset=".680" stop-color="#ff4200"/><stop offset=".751" stop-color="#ff1900"/><stop offset=".801" stop-color="#ff0b00"/><stop offset=".822" stop-color="#ff0800"/><stop offset=".914" stop-color="#ff1200"/></linearGradient><linearGradient id="b87" gradientUnits="userSpaceOnUse" x1="0" x2="0" y1="433" y2="813.8"><stop offset="0" stop-color="#00008d"/><stop offset=".116" stop-color="#00009d"/><stop offset=".163" stop-color="#0000c4"/><stop offset=".223" stop-color="#0001ff"/><stop offset=".315" stop-color="#005fff"/><stop offset=".394" stop-color="#01fffe"/><stop offset=".431" stop-color="#4affb5"/><stop offset=".557" stop-color="#ffff00"/><stop offset=".664" stop-color="#ff5800"/><stop offset=".680" stop-color="#ff4600"/><stop offset=".754" stop-color="#ff2400"/><stop offset=".804" stop-color="#ff1400"/><stop offset=".909" stop-color="#ff1800"/></linearGradient><linearGradient id="b88" gradientUnits="userSpaceOnUse" x1="0" x2="0" y1="433" y2="813.8"><stop offset="0" stop-color="#00008d"/><stop offset=".116" stop-color="#00009d"/><stop offset=".165" stop-color="#0000c4"/><stop offset=".226" stop-color="#0000ff"/><stop offset=".318" stop-color="#005cff"/><stop offset=".399" stop-color="#03fffc"/><stop offset=".436" stop-color="#4cffb3"/><stop offset=".562" stop-color="#fffe00"/><stop offset=".670" stop-color="#ff5800"/><stop offset=".683" stop-color="#ff4800"/><stop offset=".804" stop-color="#ff2200"/><stop offset=".901" stop-color="#ff1e00"/></linearGradient><linearGradient id="b89" gradientUnits="userSpaceOnUse" x1="0" x2="0" y1="433" y2="813.8"><stop offset="0" stop-color="#00008d"/><stop offset=".118" stop-color="#00009d"/><stop offset=".168" stop-color="#0000c5"/><stop offset=".228" stop-color="#0000ff"/><stop offset=".323" stop-color="#005dff"/><stop offset=".402" stop-color="#01fffe"/><stop offset=".439" stop-color="#4affb5"/><stop offset=".565" stop-color="#feff01"/><stop offset=".599" stop-color="#ffcf00"/><stop offset=".675" stop-color="#ff5800"/><stop offset=".688" stop-color="#ff4900"/><stop offset=".809" stop-color="#ff2c00"/><stop offset=".890" stop-color="#ff2400"/></linearGradient><linearGradient id="b90" gradientUnits="userSpaceOnUse" x1="0" x2="0" y1="433" y2="813.8"><stop offset="0" stop-color="#00008d"/><stop offset=".121" stop-color="#00009e"/><stop offset=".171" stop-color="#0000c5"/><stop offset=".231" stop-color="#0000fe"/><stop offset=".328" stop-color="#005eff"/><stop offset=".407" stop-color="#03fffc"/><stop offset=".441" stop-color="#49ffb6"/><stop offset=".570" stop-color="#ffff00"/><stop offset=".680" stop-color="#ff5800"/><stop offset=".693" stop-color="#ff4900"/><stop offset=".838" stop-color="#ff2e00"/><stop offset=".880" stop-color="#ff2b00"/></linearGradient><linearGradient id="b91" gradientUnits="userSpaceOnUse" x1="0" x2="0" y1="433" y2="813.8"><stop offset="0" stop-color="#00008d"/><stop offset=".121" stop-color="#00009d"/><stop offset=".171" stop-color="#0000c3"/><stop offset=".236" stop-color="#0001ff"/><stop offset=".331" stop-color="#005cff"/><stop offset=".410" stop-color="#00ffff"/><stop offset=".446" stop-color="#4bffb4"/><stop offset=".575" stop-color="#fffe00"/><stop offset=".696" stop-color="#ff4c00"/><stop offset=".730" stop-color="#ff4300"/><stop offset=".874" stop-color="#ff3100"/></linearGradient><linearGradient id="b92" gradientUnits="userSpaceOnUse" x1="0" x2="0" y1="433" y2="813.8"><stop offset="0" stop-color="#00008d"/><stop offset=".123" stop-color="#00009d"/><stop offset=".173" stop-color="#0000c4"/><stop offset=".239" stop-color="#0001ff"/><stop offset=".336" stop-color="#005dff"/><stop offset=".415" stop-color="#03fffc"/><stop offset=".452" stop-color="#4cffb3"/><stop offset=".580" stop-color="#fffd00"/><stop offset=".688" stop-color="#ff5f00"/><stop offset=".701" stop-color="#ff5000"/><stop offset=".733" stop-color="#ff4500"/><stop offset=".867" stop-color="#ff3800"/></linearGradient><linearGradient id="b93" gradientUnits="userSpaceOnUse" x1="0" x2="0" y1="433" y2="813.8"><stop offset="0" stop-color="#00008d"/><stop offset=".123" stop-color="#00009d"/><stop offset=".176" stop-color="#0000c4"/><stop offset=".242" stop-color="#0001ff"/><stop offset=".339" stop-color="#005dff"/><stop offset=".418" stop-color="#00ffff"/><stop offset=".454" stop-color="#4affb5"/><stop offset=".583" stop-color="#feff01"/><stop offset=".693" stop-color="#ff6500"/><stop offset=".714" stop-color="#ff5000"/><stop offset=".746" stop-color="#ff4600"/><stop offset=".869" stop-color="#ff3d00"/></linearGradient><linearGradient id="b94" gradientUnits="userSpaceOnUse" x1="0" x2="0" y1="433" y2="813.8"><stop offset="0" stop-color="#00008d"/><stop offset=".126" stop-color="#00009d"/><stop offset=".179" stop-color="#0000c4"/><stop offset=".242" stop-color="#0000fe"/><stop offset=".341" stop-color="#005eff"/><stop offset=".420" stop-color="#00feff"/><stop offset=".423" stop-color="#04fffb"/><stop offset=".460" stop-color="#4bffb4"/><stop offset=".588" stop-color="#ffff00"/><stop offset=".693" stop-color="#ff7500"/><stop offset=".725" stop-color="#ff5500"/><stop offset=".754" stop-color="#ff4a00"/><stop offset=".861" stop-color="#ff4100"/></linearGradient><linearGradient id="b95" gradientUnits="userSpaceOnUse" x1="0" x2="0" y1="433" y2="813.8"><stop offset="0" stop-color="#00008d"/><stop offset=".126" stop-color="#00009c"/><stop offset=".181" stop-color="#0000c5"/><stop offset=".244" stop-color="#0000ff"/><stop offset=".341" stop-color="#005cff"/><stop offset=".425" stop-color="#03fffc"/><stop offset=".462" stop-color="#49ffb6"/><stop offset=".593" stop-color="#fffd00"/><stop offset=".633" stop-color="#ffc800"/><stop offset=".735" stop-color="#ff5f00"/><stop offset=".775" stop-color="#ff5000"/><stop offset=".856" stop-color="#ff4500"/></linearGradient><linearGradient id="b96" gradientUnits="userSpaceOnUse" x1="0" x2="0" y1="433" y2="813.8"><stop offset="0" stop-color="#00008d"/><stop offset=".129" stop-color="#00009d"/><stop offset=".184" stop-color="#0000c5"/><stop offset=".247" stop-color="#0001ff"/><stop offset=".341" stop-color="#005bff"/><stop offset=".428" stop-color="#02fffd"/><stop offset=".467" stop-color="#4bffb4"/><stop offset=".596" stop-color="#feff01"/><stop offset=".636" stop-color="#ffcc00"/><stop offset=".741" stop-color="#ff7200"/><stop offset=".825" stop-color="#ff4c00"/><stop offset=".853" stop-color="#ff4a00"/></linearGradient><linearGradient id="b97" gradientUnits="userSpaceOnUse" x1="0" x2="0" y1="433" y2="813.8"><stop offset="0" stop-color="#00008d"/><stop offset=".131" stop-color="#00009e"/><stop offset=".186" stop-color="#0000c6"/><stop offset=".247" stop-color="#0000ff"/><stop offset=".344" stop-color="#005eff"/><stop offset=".431" stop-color="#01fffe"/><stop offset=".470" stop-color="#49ffb6"/><stop offset=".601" stop-color="#fffe00"/><stop offset=".638" stop-color="#ffcf00"/><stop offset=".743" stop-color="#ff8200"/><stop offset=".825" stop-color="#ff5300"/><stop offset=".856" stop-color="#ff5100"/></linearGradient><linearGradient id="b98" gradientUnits="userSpaceOnUse" x1="0" x2="0" y1="433" y2="813.8"><stop offset="0" stop-color="#00008d"/><stop offset=".131" stop-color="#00009d"/><stop offset=".186" stop-color="#0000c4"/><stop offset=".249" stop-color="#0001ff"/><stop offset=".344" stop-color="#005cff"/><stop offset=".433" stop-color="#01fffe"/><stop offset=".473" stop-color="#48ffb7"/><stop offset=".604" stop-color="#feff01"/><stop offset=".636" stop-color="#ffd600"/><stop offset=".651" stop-color="#ffc900"/><stop offset=".817" stop-color="#ff5e00"/><stop offset=".853" stop-color="#ff5800"/></linearGradient><linearGradient id="b99" gradientUnits="userSpaceOnUse" x1="0" x2="0" y1="433" y2="813.8"><stop offset="0" stop-color="#00008d"/><stop offset=".134" stop-color="#00009d"/><stop offset=".189" stop-color="#0000c4"/><stop offset=".249" stop-color="#0000fe"/><stop offset=".344" stop-color="#005bff"/><stop offset=".436" stop-color="#01fffe"/><stop offset=".478" stop-color="#4affb5"/><stop offset=".609" stop-color="#ffff00"/><stop offset=".638" stop-color="#ffd800"/><stop offset=".651" stop-color="#ffcc00"/><stop offset=".806" stop-color="#ff6800"/><stop offset=".825" stop-color="#ff6000"/><stop offset=".846" stop-color="#ff5f00"/></linearGradient><linearGradient id="b100" gradientUnits="userSpaceOnUse" x1="0" x2="0" y1="433" y2="813.8"><stop offset="0" stop-color="#00008d"/><stop offset=".134" stop-color="#00009d"/><stop offset=".192" stop-color="#0000c5"/><stop offset=".252" stop-color="#0000ff"/><stop offset=".347" stop-color="#005eff"/><stop offset=".439" stop-color="#00ffff"/><stop offset=".481" stop-color="#48ffb7"/><stop offset=".614" stop-color="#fffd00"/><stop offset=".641" stop-color="#ffda00"/><stop offset=".657" stop-color="#ffcc00"/><stop offset=".798" stop-color="#ff6f00"/><stop offset=".835" stop-color="#ff6600"/></linearGradient><linearGradient id="b101" gradientUnits="userSpaceOnUse" x1="0" x2="0" y1="433" y2="813.8"><stop offset="0" stop-color="#00008d"/><stop offset=".137" stop-color="#00009d"/><stop offset=".194" stop-color="#0000c5"/><stop offset=".255" stop-color="#0001ff"/><stop offset=".347" stop-color="#005cff"/><stop offset=".441" stop-color="#00ffff"/><stop offset=".444" stop-color="#04fffb"/><stop offset=".486" stop-color="#4bffb4"/><stop offset=".617" stop-color="#feff01"/><stop offset=".646" stop-color="#ffd900"/><stop offset=".659" stop-color="#ffcd00"/><stop offset=".796" stop-color="#ff7300"/><stop offset=".825" stop-color="#ff6e00"/></linearGradient><linearGradient id="b102" gradientUnits="userSpaceOnUse" x1="0" x2="0" y1="433" y2="813.8"><stop offset="0" stop-color="#00008d"/><stop offset=".137" stop-color="#00009c"/><stop offset=".197" stop-color="#0000c6"/><stop offset=".255" stop-color="#0000fe"/><stop offset=".349" stop-color="#005dff"/><stop offset=".446" stop-color="#03fffc"/><stop offset=".488" stop-color="#49ffb6"/><stop offset=".622" stop-color="#fffe00"/><stop offset=".651" stop-color="#ffd800"/><stop offset=".664" stop-color="#ffcc00"/><stop offset=".793" stop-color="#ff7b00"/><stop offset=".822" stop-color="#ff7700"/></linearGradient><linearGradient id="b103" gradientUnits="userSpaceOnUse" x1="0" x2="0" y1="433" y2="813.8"><stop offset="0" stop-color="#00008d"/><stop offset=".139" stop-color="#00009d"/><stop offset=".197" stop-color="#0000c4"/><stop offset=".257" stop-color="#0000ff"/><stop offset=".352" stop-color="#005eff"/><stop offset=".446" stop-color="#00fdff"/><stop offset=".494" stop-color="#4bffb4"/><stop offset=".625" stop-color="#feff01"/><stop offset=".654" stop-color="#ffda00"/><stop offset=".667" stop-color="#ffce00"/><stop offset=".793" stop-color="#ff8500"/><stop offset=".822" stop-color="#ff8200"/></linearGradient><linearGradient id="b104" gradientUnits="userSpaceOnUse" x1="0" x2="0" y1="433" y2="813.8"><stop offset="0" stop-color="#00008d"/><stop offset=".142" stop-color="#00009d"/><stop offset=".200" stop-color="#0000c4"/><stop offset=".260" stop-color="#0000ff"/><stop offset=".355" stop-color="#005eff"/><stop offset=".449" stop-color="#00fbff"/><stop offset=".496" stop-color="#4affb5"/><stop offset=".630" stop-color="#ffff00"/><stop offset=".659" stop-color="#ffd900"/><stop offset=".672" stop-color="#ffce00"/><stop offset=".788" stop-color="#ff9300"/><stop offset=".822" stop-color="#ff8f00"/></linearGradient><linearGradient id="b105" gradientUnits="userSpaceOnUse" x1="0" x2="0" y1="433" y2="813.8"><stop offset="0" stop-color="#00008d"/><stop offset=".142" stop-color="#00009d"/><stop offset=".202" stop-color="#0000c5"/><stop offset=".263" stop-color="#0000ff"/><stop offset=".357" stop-color="#005eff"/><stop offset=".454" stop-color="#00feff"/><stop offset=".499" stop-color="#48ffb7"/><stop offset=".636" stop-color="#fffe00"/><stop offset=".662" stop-color="#ffdb00"/><stop offset=".675" stop-color="#ffd000"/><stop offset=".780" stop-color="#ffa100"/><stop offset=".814" stop-color="#ff9d00"/></linearGradient><linearGradient id="b106" gradientUnits="userSpaceOnUse" x1="0" x2="0" y1="433" y2="813.8"><stop offset="0" stop-color="#00008d"/><stop offset=".144" stop-color="#00009d"/><stop offset=".205" stop-color="#0000c5"/><stop offset=".265" stop-color="#0000ff"/><stop offset=".360" stop-color="#005eff"/><stop offset=".457" stop-color="#00fdff"/><stop offset=".504" stop-color="#4affb5"/><stop offset=".641" stop-color="#fffe00"/><stop offset=".667" stop-color="#ffdc00"/><stop offset=".680" stop-color="#ffd200"/><stop offset=".767" stop-color="#ffb000"/><stop offset=".804" stop-color="#ffab00"/></linearGradient><linearGradient id="b107" gradientUnits="userSpaceOnUse" x1="0" x2="0" y1="433" y2="813.8"><stop offset="0" stop-color="#00008d"/><stop offset=".147" stop-color="#00009e"/><stop offset=".207" stop-color="#0000c5"/><stop offset=".268" stop-color="#0000ff"/><stop offset=".362" stop-color="#005cff"/><stop offset=".462" stop-color="#00fdff"/><stop offset=".515" stop-color="#50ffaf"/><stop offset=".649" stop-color="#fdff02"/><stop offset=".675" stop-color="#ffe100"/><stop offset=".701" stop-color="#ffd100"/><stop offset=".751" stop-color="#ffbf00"/><stop offset=".790" stop-color="#ffb900"/></linearGradient><linearGradient id="b108" gradientUnits="userSpaceOnUse" x1="0" x2="0" y1="433" y2="813.8"><stop offset="0" stop-color="#00008d"/><stop offset=".150" stop-color="#00009e"/><stop offset=".210" stop-color="#0000c4"/><stop offset=".273" stop-color="#0001ff"/><stop offset=".368" stop-color="#005cff"/><stop offset=".470" stop-color="#00fdff"/><stop offset=".528" stop-color="#55ffaa"/><stop offset=".667" stop-color="#feff01"/><stop offset=".699" stop-color="#ffe400"/><stop offset=".727" stop-color="#ffd200"/><stop offset=".780" stop-color="#ffc900"/></linearGradient><linearGradient id="b109" gradientUnits="userSpaceOnUse" x1="0" x2="0" y1="433" y2="813.8"><stop offset="0" stop-color="#00008d"/><stop offset=".152" stop-color="#00009e"/><stop offset=".215" stop-color="#0000c5"/><stop offset=".278" stop-color="#0000ff"/><stop offset=".376" stop-color="#005dff"/><stop offset=".481" stop-color="#00feff"/><stop offset=".541" stop-color="#56ffa9"/><stop offset=".693" stop-color="#feff01"/><stop offset=".733" stop-color="#ffe100"/><stop offset=".769" stop-color="#ffdc00"/></linearGradient><linearGradient id="b110" gradientUnits="userSpaceOnUse" x1="0" x2="0" y1="433" y2="813.8"><stop offset="0" stop-color="#00008d"/><stop offset=".155" stop-color="#00009d"/><stop offset=".221" stop-color="#0000c5"/><stop offset=".284" stop-color="#0000fe"/><stop offset=".383" stop-color="#005dff"/><stop offset=".491" stop-color="#00fcff"/><stop offset=".551" stop-color="#52ffad"/><stop offset=".704" stop-color="#f1ff0e"/><stop offset=".720" stop-color="#ffff00"/><stop offset=".735" stop-color="#fff700"/><stop offset=".756" stop-color="#fff500"/></linearGradient><linearGradient id="b111" gradientUnits="userSpaceOnUse" x1="0" x2="0" y1="433" y2="813.8"><stop offset="0" stop-color="#00008d"/><stop offset=".160" stop-color="#00009e"/><stop offset=".226" stop-color="#0000c5"/><stop offset=".291" stop-color="#0000ff"/><stop offset=".394" stop-color="#005fff"/><stop offset=".504" stop-color="#00feff"/><stop offset=".562" stop-color="#4effb1"/><stop offset=".691" stop-color="#d0ff2f"/><stop offset=".720" stop-color="#e8ff17"/><stop offset=".746" stop-color="#edff12"/></linearGradient><linearGradient id="b112" gradientUnits="userSpaceOnUse" x1="0" x2="0" y1="433" y2="813.8"><stop offset="0" stop-color="#00008d"/><stop offset=".163" stop-color="#00009d"/><stop offset=".228" stop-color="#0000c4"/><stop offset=".299" stop-color="#0001ff"/><stop offset=".404" stop-color="#005fff"/><stop offset=".515" stop-color="#00fcff"/><stop offset=".575" stop-color="#4effb1"/><stop offset=".675" stop-color="#b0ff4f"/><stop offset=".706" stop-color="#c9ff36"/><stop offset=".733" stop-color="#d0ff2f"/></linearGradient><linearGradient id="b113" gradientUnits="userSpaceOnUse" x1="0" x2="0" y1="433" y2="813.8"><stop offset="0" stop-color="#00008d"/><stop offset=".165" stop-color="#00009d"/><stop offset=".236" stop-color="#0000c6"/><stop offset=".305" stop-color="#0000fe"/><stop offset=".415" stop-color="#005fff"/><stop offset=".528" stop-color="#00fdff"/><stop offset=".575" stop-color="#3fffc0"/><stop offset=".612" stop-color="#65ff9a"/><stop offset=".685" stop-color="#a7ff58"/><stop offset=".720" stop-color="#b2ff4d"/></linearGradient><linearGradient id="b114" gradientUnits="userSpaceOnUse" x1="0" x2="0" y1="433" y2="813.8"><stop offset="0" stop-color="#00008d"/><stop offset=".171" stop-color="#00009e"/><stop offset=".242" stop-color="#0000c6"/><stop offset=".313" stop-color="#0000ff"/><stop offset=".425" stop-color="#005fff"/><stop offset=".541" stop-color="#00ffff"/><stop offset=".586" stop-color="#3dffc2"/><stop offset=".614" stop-color="#5affa5"/><stop offset=".672" stop-color="#8aff75"/><stop offset=".706" stop-color="#94ff6b"/></linearGradient><linearGradient id="b115" gradientUnits="userSpaceOnUse" x1="0" x2="0" y1="433" y2="813.8"><stop offset="0" stop-color="#00008d"/><stop offset=".173" stop-color="#00009d"/><stop offset=".244" stop-color="#0000c4"/><stop offset=".320" stop-color="#0000ff"/><stop offset=".436" stop-color="#005eff"/><stop offset=".554" stop-color="#01fffe"/><stop offset=".593" stop-color="#36ffc9"/><stop offset=".617" stop-color="#50ffaf"/><stop offset=".659" stop-color="#6dff92"/><stop offset=".691" stop-color="#77ff88"/></linearGradient><linearGradient id="b116" gradientUnits="userSpaceOnUse" x1="0" x2="0" y1="433" y2="813.8"><stop offset="0" stop-color="#00008d"/><stop offset=".176" stop-color="#00009d"/><stop offset=".249" stop-color="#0000c4"/><stop offset=".328" stop-color="#0000ff"/><stop offset=".449" stop-color="#0060ff"/><stop offset=".567" stop-color="#01fffe"/><stop offset=".601" stop-color="#2fffd0"/><stop offset=".620" stop-color="#43ffbc"/><stop offset=".646" stop-color="#51ffae"/><stop offset=".672" stop-color="#58ffa7"/></linearGradient><linearGradient id="b117" gradientUnits="userSpaceOnUse" x1="0" x2="0" y1="433" y2="813.8"><stop offset="0" stop-color="#00008d"/><stop offset=".181" stop-color="#00009d"/><stop offset=".255" stop-color="#0000c4"/><stop offset=".336" stop-color="#0001ff"/><stop offset=".460" stop-color="#005fff"/><stop offset=".578" stop-color="#00feff"/><stop offset=".617" stop-color="#2cffd3"/><stop offset=".654" stop-color="#37ffc8"/></linearGradient><linearGradient id="b118" gradientUnits="userSpaceOnUse" x1="0" x2="0" y1="433" y2="813.8"><stop offset="0" stop-color="#00008d"/><stop offset=".184" stop-color="#00009d"/><stop offset=".260" stop-color="#0000c5"/><stop offset=".341" stop-color="#0000fe"/><stop offset=".470" stop-color="#005fff"/><stop offset=".567" stop-color="#00e2ff"/><stop offset=".591" stop-color="#00fdff"/><stop offset=".614" stop-color="#10ffef"/><stop offset=".633" stop-color="#15ffea"/></linearGradient><linearGradient id="b119" gradientUnits="userSpaceOnUse" x1="0" x2="0" y1="433" y2="813.8"><stop offset="0" stop-color="#00008d"/><stop offset=".184" stop-color="#00009c"/><stop offset=".263" stop-color="#0000c5"/><stop offset=".347" stop-color="#0000ff"/><stop offset=".475" stop-color="#005cff"/><stop offset=".565" stop-color="#00d2ff"/><stop offset=".586" stop-color="#00e5ff"/><stop offset=".607" stop-color="#00eeff"/></linearGradient><linearGradient id="b120" gradientUnits="userSpaceOnUse" x1="0" x2="0" y1="433" y2="813.8"><stop offset="0" stop-color="#00008d"/><stop offset=".184" stop-color="#00009d"/><stop offset=".263" stop-color="#0000c5"/><stop offset=".347" stop-color="#0001ff"/><stop offset=".475" stop-color="#005cff"/><stop offset=".551" stop-color="#00b8ff"/><stop offset=".570" stop-color="#00c6ff"/><stop offset=".588" stop-color="#00ccff"/></linearGradient><linearGradient id="b121" gradientUnits="userSpaceOnUse" x1="0" x2="0" y1="433" y2="813.8"><stop offset="0" stop-color="#00008d"/><stop offset=".184" stop-color="#00009d"/><stop offset=".260" stop-color="#0000c5"/><stop offset=".341" stop-color="#0000ff"/><stop offset=".470" stop-color="#005dff"/><stop offset=".538" stop-color="#00a0ff"/><stop offset=".570" stop-color="#00aeff"/></linearGradient><linearGradient id="b122" gradientUnits="userSpaceOnUse" x1="0" x2="0" y1="433" y2="813.8"><stop offset="0" stop-color="#00008d"/><stop offset=".179" stop-color="#00009d"/><stop offset=".255" stop-color="#0000c4"/><stop offset=".336" stop-color="#0000ff"/><stop offset=".512" stop-color="#0083ff"/><stop offset=".551" stop-color="#0095ff"/></linearGradient><linearGradient id="b123" gradientUnits="userSpaceOnUse" x1="0" x2="0" y1="433" y2="813.8"><stop offset="0" stop-color="#00008d"/><stop offset=".179" stop-color="#00009d"/><stop offset=".252" stop-color="#0000c4"/><stop offset=".334" stop-color="#0000ff"/><stop offset=".499" stop-color="#0078ff"/><stop offset=".528" stop-color="#0081ff"/></linearGradient><linearGradient id="b124" gradientUnits="userSpaceOnUse" x1="0" x2="0" y1="433" y2="813.8"><stop offset="0" stop-color="#00008d"/><stop offset=".176" stop-color="#00009d"/><stop offset=".252" stop-color="#0000c5"/><stop offset=".334" stop-color="#0000ff"/><stop offset=".496" stop-color="#0074ff"/><stop offset=".525" stop-color="#0079ff"/></linearGradient><linearGradient id="b125" gradientUnits="userSpaceOnUse" x1="0" x2="0" y1="433" y2="813.8"><stop offset="0" stop-color="#00008d"/><stop offset=".176" stop-color="#00009d"/><stop offset=".249" stop-color="#0000c4"/><stop offset=".334" stop-color="#0000ff"/><stop offset=".496" stop-color="#0073ff"/><stop offset=".525" stop-color="#0076ff"/></linearGradient><clipPath id="cpb"><polygon points="96.5,433 825.8,433 825.8,623 820,631.5 815,637.5 808,645.5 802,652.5 795,663.5 790,670.5 782,680.5 775,688.5 765,697.5 752,707.5 740,716.5 725,727.5 718,732.5 710,736.5 700,737 695,735.5 688,740.5 682,745.5 676,747.5 670,751 665,747.5 660,749.5 653,750.5 648,753.5 642,756 637,752.5 631,757.5 625,759.5 618,763.5 610,769.5 603,771.5 598,775.5 590,777.5 583,783.5 577,785.5 572,789.5 565,791.5 560,793.5 552,796.5 545,795.5 535,795.5 520,794 512,791.5 502,791.5 490,788.5 477,785.5 468,781.5 460,775.5 445,757.5 432,735.5 415,720.5 390,699.5 365,680.5 340,659.5 325,645.5 292,617.5 265,597.5 240,577.5 217.5,559.5 205,547.5 190,532.5 175,517.5 159,503 140,488.5 125,477.5 115,469.5 105,458.5 100,451.5 96.5,445.5"/></clipPath><linearGradient id="c0" gradientUnits="userSpaceOnUse" x1="0" x2="0" y1="838.8" y2="1219.5"><stop offset="0" stop-color="#00008e"/><stop offset=".008" stop-color="#000097"/><stop offset=".013" stop-color="#0000a9"/><stop offset=".016" stop-color="#0000be"/><stop offset=".018" stop-color="#0000de"/><stop offset=".021" stop-color="#000bff"/><stop offset=".032" stop-color="#00dfff"/><stop offset=".034" stop-color="#07fff8"/><stop offset=".037" stop-color="#1dffe2"/><stop offset=".039" stop-color="#25ffda"/><stop offset=".060" stop-color="#26ffd9"/></linearGradient><linearGradient id="c1" gradientUnits="userSpaceOnUse" x1="0" x2="0" y1="838.8" y2="1219.5"><stop offset="0" stop-color="#00008e"/><stop offset=".008" stop-color="#000097"/><stop offset=".013" stop-color="#0000a8"/><stop offset=".016" stop-color="#0000bc"/><stop offset=".021" stop-color="#0007ff"/><stop offset=".024" stop-color="#003aff"/><stop offset=".032" stop-color="#00f3ff"/><stop offset=".034" stop-color="#21ffde"/><stop offset=".037" stop-color="#38ffc7"/><stop offset=".039" stop-color="#3fffc0"/><stop offset=".060" stop-color="#40ffbf"/></linearGradient><linearGradient id="c2" gradientUnits="userSpaceOnUse" x1="0" x2="0" y1="838.8" y2="1219.5"><stop offset="0" stop-color="#00008e"/><stop offset=".008" stop-color="#000097"/><stop offset=".013" stop-color="#0000a6"/><stop offset=".016" stop-color="#0000b9"/><stop offset=".018" stop-color="#0000d5"/><stop offset=".021" stop-color="#0000fc"/><stop offset=".024" stop-color="#002fff"/><stop offset=".026" stop-color="#0070ff"/><stop offset=".029" stop-color="#00bdff"/><stop offset=".032" stop-color="#0afff5"/><stop offset=".034" stop-color="#43ffbc"/><stop offset=".037" stop-color="#63ff9c"/><stop offset=".039" stop-color="#70ff8f"/><stop offset=".066" stop-color="#7dff82"/></linearGradient><linearGradient id="c3" gradientUnits="userSpaceOnUse" x1="0" x2="0" y1="838.8" y2="1219.5"><stop offset="0" stop-color="#00008e"/><stop offset=".008" stop-color="#000096"/><stop offset=".013" stop-color="#0000a4"/><stop offset=".016" stop-color="#0000b3"/><stop offset=".018" stop-color="#0000cc"/><stop offset=".021" stop-color="#0000ef"/><stop offset=".024" stop-color="#001eff"/><stop offset=".026" stop-color="#005cff"/><stop offset=".032" stop-color="#00fdff"/><stop offset=".034" stop-color="#45ffba"/><stop offset=".037" stop-color="#75ff8a"/><stop offset=".039" stop-color="#92ff6d"/><stop offset=".042" stop-color="#a3ff5c"/><stop offset=".047" stop-color="#b2ff4d"/><stop offset=".060" stop-color="#c2ff3d"/><stop offset=".089" stop-color="#d7ff28"/></linearGradient><linearGradient id="c4" gradientUnits="userSpaceOnUse" x1="0" x2="0" y1="838.8" y2="1219.5"><stop offset="0" stop-color="#00008e"/><stop offset=".008" stop-color="#000096"/><stop offset=".013" stop-color="#0000a1"/><stop offset=".016" stop-color="#0000ae"/><stop offset=".018" stop-color="#0000c3"/><stop offset=".021" stop-color="#0000e1"/><stop offset=".024" stop-color="#000aff"/><stop offset=".026" stop-color="#003eff"/><stop offset=".029" stop-color="#0081ff"/><stop offset=".032" stop-color="#00ccff"/><stop offset=".034" stop-color="#15ffea"/><stop offset=".037" stop-color="#52ffad"/><stop offset=".039" stop-color="#80ff7f"/><stop offset=".042" stop-color="#a1ff5e"/><stop offset=".045" stop-color="#b7ff48"/><stop offset=".050" stop-color="#d1ff2e"/><stop offset=".058" stop-color="#e5ff1a"/><stop offset=".071" stop-color="#fdff02"/><stop offset=".089" stop-color="#ffe900"/><stop offset=".108" stop-color="#ffdf00"/></linearGradient><linearGradient id="c5" gradientUnits="userSpaceOnUse" x1="0" x2="0" y1="838.8" y2="1219.5"><stop offset="0" stop-color="#00008e"/><stop offset=".011" stop-color="#000099"/><stop offset=".016" stop-color="#0000a9"/><stop offset=".018" stop-color="#0000bb"/><stop offset=".021" stop-color="#0000d4"/><stop offset=".024" stop-color="#0000f6"/><stop offset=".026" stop-color="#0021ff"/><stop offset=".029" stop-color="#0056ff"/><stop offset=".034" stop-color="#00d1ff"/><stop offset=".037" stop-color="#0ffff0"/><stop offset=".039" stop-color="#44ffbb"/><stop offset=".042" stop-color="#70ff8f"/><stop offset=".045" stop-color="#91ff6e"/><stop offset=".047" stop-color="#abff54"/><stop offset=".053" stop-color="#cdff32"/><stop offset=".063" stop-color="#f2ff0d"/><stop offset=".068" stop-color="#ffff00"/><stop offset=".087" stop-color="#ffd800"/><stop offset=".100" stop-color="#ffc400"/><stop offset=".123" stop-color="#ffb600"/></linearGradient><linearGradient id="c6" gradientUnits="userSpaceOnUse" x1="0" x2="0" y1="838.8" y2="1219.5"><stop offset="0" stop-color="#00008e"/><stop offset=".011" stop-color="#000098"/><stop offset=".016" stop-color="#0000a5"/><stop offset=".021" stop-color="#0000c8"/><stop offset=".024" stop-color="#0000e4"/><stop offset=".026" stop-color="#0008ff"/><stop offset=".032" stop-color="#0060ff"/><stop offset=".039" stop-color="#00fdff"/><stop offset=".045" stop-color="#50ffaf"/><stop offset=".047" stop-color="#6fff90"/><stop offset=".053" stop-color="#9dff62"/><stop offset=".058" stop-color="#beff41"/><stop offset=".063" stop-color="#d5ff2a"/><stop offset=".076" stop-color="#feff01"/><stop offset=".097" stop-color="#ffcc00"/><stop offset=".110" stop-color="#ffb300"/><stop offset=".123" stop-color="#ffa500"/><stop offset=".137" stop-color="#ffa000"/></linearGradient><linearGradient id="c7" gradientUnits="userSpaceOnUse" x1="0" x2="0" y1="838.8" y2="1219.5"><stop offset="0" stop-color="#00008e"/><stop offset=".011" stop-color="#000097"/><stop offset=".016" stop-color="#0000a1"/><stop offset=".021" stop-color="#0000bc"/><stop offset=".026" stop-color="#0000ee"/><stop offset=".029" stop-color="#000fff"/><stop offset=".032" stop-color="#0035ff"/><stop offset=".042" stop-color="#00e2ff"/><stop offset=".045" stop-color="#07fff8"/><stop offset=".047" stop-color="#26ffd9"/><stop offset=".053" stop-color="#59ffa6"/><stop offset=".060" stop-color="#90ff6f"/><stop offset=".071" stop-color="#c0ff3f"/><stop offset=".089" stop-color="#fdff02"/><stop offset=".110" stop-color="#ffc300"/><stop offset=".123" stop-color="#ffa400"/><stop offset=".137" stop-color="#ff9200"/><stop offset=".150" stop-color="#ff8c00"/></linearGradient><linearGradient id="c8" gradientUnits="userSpaceOnUse" x1="0" x2="0" y1="838.8" y2="1219.5"><stop offset="0" stop-color="#00008e"/><stop offset=".013" stop-color="#000098"/><stop offset=".018" stop-color="#0000a4"/><stop offset=".024" stop-color="#0000c0"/><stop offset=".029" stop-color="#0000ee"/><stop offset=".032" stop-color="#000cff"/><stop offset=".045" stop-color="#00bbff"/><stop offset=".050" stop-color="#00f3ff"/><stop offset=".053" stop-color="#0cfff3"/><stop offset=".060" stop-color="#47ffb8"/><stop offset=".068" stop-color="#73ff8c"/><stop offset=".081" stop-color="#acff53"/><stop offset=".102" stop-color="#fcff03"/><stop offset=".126" stop-color="#ffab00"/><stop offset=".137" stop-color="#ff8c00"/><stop offset=".147" stop-color="#ff7a00"/><stop offset=".160" stop-color="#ff7400"/></linearGradient><linearGradient id="c9" gradientUnits="userSpaceOnUse" x1="0" x2="0" y1="838.8" y2="1219.5"><stop offset="0" stop-color="#00008d"/><stop offset=".016" stop-color="#00009a"/><stop offset=".021" stop-color="#0000a5"/><stop offset=".026" stop-color="#0000bd"/><stop offset=".029" stop-color="#0000cf"/><stop offset=".034" stop-color="#0000ff"/><stop offset=".045" stop-color="#0070ff"/><stop offset=".053" stop-color="#00bcff"/><stop offset=".060" stop-color="#00fdff"/><stop offset=".063" stop-color="#10ffef"/><stop offset=".076" stop-color="#59ffa6"/><stop offset=".113" stop-color="#fcff03"/><stop offset=".137" stop-color="#ff9100"/><stop offset=".147" stop-color="#ff6b00"/><stop offset=".158" stop-color="#ff5b00"/><stop offset=".173" stop-color="#ff5600"/></linearGradient><linearGradient id="c10" gradientUnits="userSpaceOnUse" x1="0" x2="0" y1="838.8" y2="1219.5"><stop offset="0" stop-color="#00008d"/><stop offset=".016" stop-color="#000097"/><stop offset=".024" stop-color="#0000a4"/><stop offset=".032" stop-color="#0000c7"/><stop offset=".039" stop-color="#0003ff"/><stop offset=".060" stop-color="#00b4ff"/><stop offset=".071" stop-color="#01fffe"/><stop offset=".081" stop-color="#3cffc3"/><stop offset=".121" stop-color="#fffd00"/><stop offset=".142" stop-color="#ff7c00"/><stop offset=".150" stop-color="#ff5900"/><stop offset=".163" stop-color="#ff4200"/><stop offset=".184" stop-color="#ff3900"/></linearGradient><linearGradient id="c11" gradientUnits="userSpaceOnUse" x1="0" x2="0" y1="838.8" y2="1219.5"><stop offset="0" stop-color="#00008d"/><stop offset=".018" stop-color="#000098"/><stop offset=".026" stop-color="#0000a3"/><stop offset=".034" stop-color="#0000c0"/><stop offset=".045" stop-color="#0001ff"/><stop offset=".071" stop-color="#00c2ff"/><stop offset=".079" stop-color="#00f5ff"/><stop offset=".081" stop-color="#05fffa"/><stop offset=".113" stop-color="#b4ff4b"/><stop offset=".123" stop-color="#f6ff09"/><stop offset=".126" stop-color="#fff600"/><stop offset=".144" stop-color="#ff7000"/><stop offset=".152" stop-color="#ff4f00"/><stop offset=".171" stop-color="#ff2e00"/><stop offset=".197" stop-color="#ff2300"/></linearGradient><linearGradient id="c12" gradientUnits="userSpaceOnUse" x1="0" x2="0" y1="838.8" y2="1219.5"><stop offset="0" stop-color="#00008d"/><stop offset=".021" stop-color="#000098"/><stop offset=".029" stop-color="#0000a2"/><stop offset=".039" stop-color="#0000c7"/><stop offset=".050" stop-color="#0004ff"/><stop offset=".076" stop-color="#00b2ff"/><stop offset=".089" stop-color="#03fffc"/><stop offset=".113" stop-color="#94ff6b"/><stop offset=".126" stop-color="#efff10"/><stop offset=".129" stop-color="#fffb00"/><stop offset=".144" stop-color="#ff7f00"/><stop offset=".152" stop-color="#ff5b00"/><stop offset=".163" stop-color="#ff4100"/><stop offset=".176" stop-color="#ff2a00"/><stop offset=".189" stop-color="#ff1d00"/><stop offset=".208" stop-color="#ff1700"/></linearGradient><linearGradient id="c13" gradientUnits="userSpaceOnUse" x1="0" x2="0" y1="838.8" y2="1219.5"><stop offset="0" stop-color="#00008d"/><stop offset=".024" stop-color="#000099"/><stop offset=".032" stop-color="#0000a4"/><stop offset=".042" stop-color="#0000c8"/><stop offset=".053" stop-color="#0002ff"/><stop offset=".087" stop-color="#00d3ff"/><stop offset=".095" stop-color="#04fffb"/><stop offset=".118" stop-color="#9eff61"/><stop offset=".131" stop-color="#fdff02"/><stop offset=".147" stop-color="#ff9200"/><stop offset=".155" stop-color="#ff7200"/><stop offset=".163" stop-color="#ff5a00"/><stop offset=".176" stop-color="#ff3d00"/><stop offset=".192" stop-color="#ff2400"/><stop offset=".208" stop-color="#ff1600"/><stop offset=".223" stop-color="#ff0f00"/></linearGradient><linearGradient id="c14" gradientUnits="userSpaceOnUse" x1="0" x2="0" y1="838.8" y2="1219.5"><stop offset="0" stop-color="#00008d"/><stop offset=".024" stop-color="#000099"/><stop offset=".032" stop-color="#0000a2"/><stop offset=".042" stop-color="#0000c2"/><stop offset=".053" stop-color="#0000f9"/><stop offset=".055" stop-color="#0009ff"/><stop offset=".095" stop-color="#00f3ff"/><stop offset=".097" stop-color="#04fffb"/><stop offset=".134" stop-color="#f2ff0d"/><stop offset=".137" stop-color="#fffc00"/><stop offset=".147" stop-color="#ffc200"/><stop offset=".155" stop-color="#ffa100"/><stop offset=".165" stop-color="#ff7d00"/><stop offset=".176" stop-color="#ff6100"/><stop offset=".208" stop-color="#ff2400"/><stop offset=".223" stop-color="#ff1200"/><stop offset=".236" stop-color="#ff0a00"/></linearGradient><linearGradient id="c15" gradientUnits="userSpaceOnUse" x1="0" x2="0" y1="838.8" y2="1219.5"><stop offset="0" stop-color="#00008d"/><stop offset=".032" stop-color="#0000a0"/><stop offset=".042" stop-color="#0000c0"/><stop offset=".055" stop-color="#0003ff"/><stop offset=".068" stop-color="#004dff"/><stop offset=".097" stop-color="#00fcff"/><stop offset=".100" stop-color="#0dfff2"/><stop offset=".131" stop-color="#caff35"/><stop offset=".142" stop-color="#fcff03"/><stop offset=".168" stop-color="#ffa500"/><stop offset=".200" stop-color="#ff5500"/><stop offset=".231" stop-color="#ff1500"/><stop offset=".242" stop-color="#ff0900"/><stop offset=".252" stop-color="#ff0300"/></linearGradient><linearGradient id="c16" gradientUnits="userSpaceOnUse" x1="0" x2="0" y1="838.8" y2="1219.5"><stop offset="0" stop-color="#00008d"/><stop offset=".032" stop-color="#0000a0"/><stop offset=".045" stop-color="#0000c8"/><stop offset=".055" stop-color="#0000fd"/><stop offset=".068" stop-color="#0046ff"/><stop offset=".097" stop-color="#00f4ff"/><stop offset=".100" stop-color="#05fffa"/><stop offset=".134" stop-color="#bfff40"/><stop offset=".142" stop-color="#e0ff1f"/><stop offset=".152" stop-color="#fffd00"/><stop offset=".179" stop-color="#ffb300"/><stop offset=".239" stop-color="#ff1900"/><stop offset=".255" stop-color="#ff0300"/><stop offset=".268" stop-color="#fc0000"/></linearGradient><linearGradient id="c17" gradientUnits="userSpaceOnUse" x1="0" x2="0" y1="838.8" y2="1219.5"><stop offset="0" stop-color="#00008d"/><stop offset=".032" stop-color="#00009f"/><stop offset=".045" stop-color="#0000c5"/><stop offset=".055" stop-color="#0000f8"/><stop offset=".058" stop-color="#0006ff"/><stop offset=".071" stop-color="#004cff"/><stop offset=".100" stop-color="#00f6ff"/><stop offset=".102" stop-color="#06fff9"/><stop offset=".137" stop-color="#abff54"/><stop offset=".147" stop-color="#d1ff2e"/><stop offset=".163" stop-color="#ffff00"/><stop offset=".250" stop-color="#ff1700"/><stop offset=".265" stop-color="#ff0000"/><stop offset=".284" stop-color="#f50000"/></linearGradient><linearGradient id="c18" gradientUnits="userSpaceOnUse" x1="0" x2="0" y1="838.8" y2="1219.5"><stop offset="0" stop-color="#00008d"/><stop offset=".032" stop-color="#00009e"/><stop offset=".045" stop-color="#0000c3"/><stop offset=".058" stop-color="#0000ff"/><stop offset=".074" stop-color="#004eff"/><stop offset=".105" stop-color="#00fdff"/><stop offset=".108" stop-color="#0bfff4"/><stop offset=".121" stop-color="#44ffbb"/><stop offset=".142" stop-color="#97ff68"/><stop offset=".176" stop-color="#ffff00"/><stop offset=".242" stop-color="#ff4100"/><stop offset=".257" stop-color="#ff1b00"/><stop offset=".273" stop-color="#ff0100"/><stop offset=".299" stop-color="#f00000"/></linearGradient><linearGradient id="c19" gradientUnits="userSpaceOnUse" x1="0" x2="0" y1="838.8" y2="1219.5"><stop offset="0" stop-color="#00008d"/><stop offset=".026" stop-color="#000099"/><stop offset=".034" stop-color="#0000a2"/><stop offset=".045" stop-color="#0000c1"/><stop offset=".060" stop-color="#0004ff"/><stop offset=".076" stop-color="#004cff"/><stop offset=".108" stop-color="#00ebff"/><stop offset=".113" stop-color="#04fffb"/><stop offset=".147" stop-color="#7eff81"/><stop offset=".189" stop-color="#fdff02"/><stop offset=".244" stop-color="#ff5000"/><stop offset=".265" stop-color="#ff1f00"/><stop offset=".284" stop-color="#ff0000"/><stop offset=".299" stop-color="#f00000"/><stop offset=".315" stop-color="#eb0000"/></linearGradient><linearGradient id="c20" gradientUnits="userSpaceOnUse" x1="0" x2="0" y1="838.8" y2="1219.5"><stop offset="0" stop-color="#00008d"/><stop offset=".026" stop-color="#000099"/><stop offset=".034" stop-color="#0000a2"/><stop offset=".047" stop-color="#0000c8"/><stop offset=".060" stop-color="#0000fc"/><stop offset=".074" stop-color="#0032ff"/><stop offset=".116" stop-color="#00ebff"/><stop offset=".121" stop-color="#00ffff"/><stop offset=".123" stop-color="#09fff6"/><stop offset=".202" stop-color="#ffff00"/><stop offset=".244" stop-color="#ff6600"/><stop offset=".252" stop-color="#ff4e00"/><stop offset=".263" stop-color="#ff3700"/><stop offset=".294" stop-color="#ff0100"/><stop offset=".313" stop-color="#ee0000"/><stop offset=".331" stop-color="#e90000"/></linearGradient><linearGradient id="c21" gradientUnits="userSpaceOnUse" x1="0" x2="0" y1="838.8" y2="1219.5"><stop offset="0" stop-color="#00008d"/><stop offset=".034" stop-color="#0000a0"/><stop offset=".047" stop-color="#0000c4"/><stop offset=".063" stop-color="#0000ff"/><stop offset=".116" stop-color="#00c7ff"/><stop offset=".131" stop-color="#00fcff"/><stop offset=".134" stop-color="#05fffa"/><stop offset=".192" stop-color="#b6ff49"/><stop offset=".213" stop-color="#feff01"/><stop offset=".250" stop-color="#ff6b00"/><stop offset=".265" stop-color="#ff4300"/><stop offset=".307" stop-color="#ff0000"/><stop offset=".326" stop-color="#ed0000"/><stop offset=".347" stop-color="#e70000"/></linearGradient><linearGradient id="c22" gradientUnits="userSpaceOnUse" x1="0" x2="0" y1="838.8" y2="1219.5"><stop offset="0" stop-color="#00008d"/><stop offset=".034" stop-color="#00009f"/><stop offset=".047" stop-color="#0000c0"/><stop offset=".066" stop-color="#0002ff"/><stop offset=".092" stop-color="#005fff"/><stop offset=".129" stop-color="#00d4ff"/><stop offset=".144" stop-color="#03fffc"/><stop offset=".197" stop-color="#a7ff58"/><stop offset=".221" stop-color="#fcff03"/><stop offset=".223" stop-color="#fff700"/><stop offset=".255" stop-color="#ff7200"/><stop offset=".263" stop-color="#ff5b00"/><stop offset=".273" stop-color="#ff4500"/><stop offset=".318" stop-color="#ff0200"/><stop offset=".339" stop-color="#ed0000"/><stop offset=".360" stop-color="#e60000"/></linearGradient><linearGradient id="c23" gradientUnits="userSpaceOnUse" x1="0" x2="0" y1="838.8" y2="1219.5"><stop offset="0" stop-color="#00008d"/><stop offset=".037" stop-color="#0000a0"/><stop offset=".050" stop-color="#0000c1"/><stop offset=".068" stop-color="#0003ff"/><stop offset=".089" stop-color="#004eff"/><stop offset=".152" stop-color="#01fffe"/><stop offset=".205" stop-color="#a8ff57"/><stop offset=".229" stop-color="#fffe00"/><stop offset=".260" stop-color="#ff7f00"/><stop offset=".271" stop-color="#ff6000"/><stop offset=".284" stop-color="#ff4500"/><stop offset=".331" stop-color="#ff0100"/><stop offset=".352" stop-color="#ec0000"/><stop offset=".373" stop-color="#e60000"/></linearGradient><linearGradient id="c24" gradientUnits="userSpaceOnUse" x1="0" x2="0" y1="838.8" y2="1219.5"><stop offset="0" stop-color="#00008d"/><stop offset=".032" stop-color="#000099"/><stop offset=".039" stop-color="#0000a1"/><stop offset=".055" stop-color="#0000c9"/><stop offset=".068" stop-color="#0000f9"/><stop offset=".071" stop-color="#0004ff"/><stop offset=".092" stop-color="#004fff"/><stop offset=".160" stop-color="#03fffc"/><stop offset=".181" stop-color="#44ffbb"/><stop offset=".215" stop-color="#b6ff49"/><stop offset=".234" stop-color="#faff05"/><stop offset=".236" stop-color="#fffa00"/><stop offset=".271" stop-color="#ff7e00"/><stop offset=".281" stop-color="#ff6200"/><stop offset=".294" stop-color="#ff4800"/><stop offset=".344" stop-color="#ff0000"/><stop offset=".365" stop-color="#eb0000"/><stop offset=".386" stop-color="#e50000"/></linearGradient><linearGradient id="c25" gradientUnits="userSpaceOnUse" x1="0" x2="0" y1="838.8" y2="1219.5"><stop offset="0" stop-color="#00008d"/><stop offset=".034" stop-color="#00009a"/><stop offset=".042" stop-color="#0000a2"/><stop offset=".058" stop-color="#0000c9"/><stop offset=".071" stop-color="#0000fa"/><stop offset=".074" stop-color="#0005ff"/><stop offset=".092" stop-color="#0049ff"/><stop offset=".165" stop-color="#01fffe"/><stop offset=".184" stop-color="#38ffc7"/><stop offset=".242" stop-color="#fdff02"/><stop offset=".281" stop-color="#ff8300"/><stop offset=".294" stop-color="#ff6400"/><stop offset=".310" stop-color="#ff4900"/><stop offset=".357" stop-color="#ff0200"/><stop offset=".378" stop-color="#ec0000"/><stop offset=".399" stop-color="#e50000"/></linearGradient><linearGradient id="c26" gradientUnits="userSpaceOnUse" x1="0" x2="0" y1="838.8" y2="1219.5"><stop offset="0" stop-color="#00008d"/><stop offset=".042" stop-color="#00009f"/><stop offset=".060" stop-color="#0000c8"/><stop offset=".074" stop-color="#0000fa"/><stop offset=".076" stop-color="#0006ff"/><stop offset=".087" stop-color="#0031ff"/><stop offset=".095" stop-color="#004aff"/><stop offset=".171" stop-color="#00fdff"/><stop offset=".173" stop-color="#05fffa"/><stop offset=".189" stop-color="#34ffcb"/><stop offset=".239" stop-color="#d9ff26"/><stop offset=".252" stop-color="#fffd00"/><stop offset=".281" stop-color="#ffac00"/><stop offset=".299" stop-color="#ff8000"/><stop offset=".365" stop-color="#ff0e00"/><stop offset=".376" stop-color="#fd0000"/><stop offset=".394" stop-color="#ea0000"/><stop offset=".412" stop-color="#e40000"/></linearGradient><linearGradient id="c27" gradientUnits="userSpaceOnUse" x1="0" x2="0" y1="838.8" y2="1219.5"><stop offset="0" stop-color="#00008d"/><stop offset=".045" stop-color="#00009f"/><stop offset=".063" stop-color="#0000c7"/><stop offset=".076" stop-color="#0000fa"/><stop offset=".079" stop-color="#0006ff"/><stop offset=".089" stop-color="#0031ff"/><stop offset=".097" stop-color="#0049ff"/><stop offset=".179" stop-color="#03fffc"/><stop offset=".244" stop-color="#cbff34"/><stop offset=".263" stop-color="#fcff03"/><stop offset=".265" stop-color="#fffb00"/><stop offset=".313" stop-color="#ff9000"/><stop offset=".389" stop-color="#ff0000"/><stop offset=".407" stop-color="#e90000"/><stop offset=".426" stop-color="#e30000"/></linearGradient><linearGradient id="c28" gradientUnits="userSpaceOnUse" x1="0" x2="0" y1="838.8" y2="1219.5"><stop offset="0" stop-color="#00008d"/><stop offset=".047" stop-color="#0000a0"/><stop offset=".066" stop-color="#0000c7"/><stop offset=".081" stop-color="#0003ff"/><stop offset=".095" stop-color="#0034ff"/><stop offset=".105" stop-color="#0050ff"/><stop offset=".184" stop-color="#00ffff"/><stop offset=".186" stop-color="#06fff9"/><stop offset=".250" stop-color="#b9ff46"/><stop offset=".278" stop-color="#ffff00"/><stop offset=".399" stop-color="#ff0400"/><stop offset=".418" stop-color="#ea0000"/><stop offset=".436" stop-color="#e30000"/></linearGradient><linearGradient id="c29" gradientUnits="userSpaceOnUse" x1="0" x2="0" y1="838.8" y2="1219.5"><stop offset="0" stop-color="#00008d"/><stop offset=".050" stop-color="#0000a0"/><stop offset=".068" stop-color="#0000c6"/><stop offset=".084" stop-color="#0000fc"/><stop offset=".110" stop-color="#004eff"/><stop offset=".192" stop-color="#02fffd"/><stop offset=".260" stop-color="#b4ff4b"/><stop offset=".294" stop-color="#fffd00"/><stop offset=".412" stop-color="#ff0100"/><stop offset=".431" stop-color="#e90000"/><stop offset=".449" stop-color="#e20000"/></linearGradient><linearGradient id="c30" gradientUnits="userSpaceOnUse" x1="0" x2="0" y1="838.8" y2="1219.5"><stop offset="0" stop-color="#00008d"/><stop offset=".045" stop-color="#00009a"/><stop offset=".053" stop-color="#0000a1"/><stop offset=".071" stop-color="#0000c4"/><stop offset=".089" stop-color="#0000fd"/><stop offset=".118" stop-color="#004fff"/><stop offset=".200" stop-color="#03fffc"/><stop offset=".271" stop-color="#adff52"/><stop offset=".307" stop-color="#ffff00"/><stop offset=".423" stop-color="#ff0200"/><stop offset=".441" stop-color="#e90000"/><stop offset=".462" stop-color="#e10000"/></linearGradient><linearGradient id="c31" gradientUnits="userSpaceOnUse" x1="0" x2="0" y1="838.8" y2="1219.5"><stop offset="0" stop-color="#00008d"/><stop offset=".053" stop-color="#00009e"/><stop offset=".074" stop-color="#0000c3"/><stop offset=".095" stop-color="#0000fd"/><stop offset=".126" stop-color="#0050ff"/><stop offset=".210" stop-color="#03fffc"/><stop offset=".320" stop-color="#fdff02"/><stop offset=".399" stop-color="#ff4800"/><stop offset=".433" stop-color="#ff0200"/><stop offset=".452" stop-color="#e80000"/><stop offset=".473" stop-color="#e10000"/></linearGradient><linearGradient id="c32" gradientUnits="userSpaceOnUse" x1="0" x2="0" y1="838.8" y2="1219.5"><stop offset="0" stop-color="#00008d"/><stop offset=".055" stop-color="#00009f"/><stop offset=".076" stop-color="#0000c2"/><stop offset=".100" stop-color="#0000fd"/><stop offset=".137" stop-color="#0056ff"/><stop offset=".221" stop-color="#00feff"/><stop offset=".223" stop-color="#04fffb"/><stop offset=".334" stop-color="#fdff02"/><stop offset=".402" stop-color="#ff5400"/><stop offset=".444" stop-color="#ff0100"/><stop offset=".465" stop-color="#e60000"/><stop offset=".486" stop-color="#e00000"/></linearGradient><linearGradient id="c33" gradientUnits="userSpaceOnUse" x1="0" x2="0" y1="838.8" y2="1219.5"><stop offset="0" stop-color="#00008d"/><stop offset=".058" stop-color="#00009f"/><stop offset=".079" stop-color="#0000c1"/><stop offset=".105" stop-color="#0000fd"/><stop offset=".142" stop-color="#0050ff"/><stop offset=".236" stop-color="#03fffc"/><stop offset=".268" stop-color="#45ffba"/><stop offset=".347" stop-color="#feff01"/><stop offset=".407" stop-color="#ff5800"/><stop offset=".449" stop-color="#ff0900"/><stop offset=".454" stop-color="#ff0000"/><stop offset=".475" stop-color="#e60000"/><stop offset=".496" stop-color="#e00000"/></linearGradient><linearGradient id="c34" gradientUnits="userSpaceOnUse" x1="0" x2="0" y1="838.8" y2="1219.5"><stop offset="0" stop-color="#00008d"/><stop offset=".060" stop-color="#00009f"/><stop offset=".084" stop-color="#0000c5"/><stop offset=".110" stop-color="#0000fd"/><stop offset=".150" stop-color="#0050ff"/><stop offset=".247" stop-color="#00feff"/><stop offset=".250" stop-color="#04fffb"/><stop offset=".278" stop-color="#41ffbe"/><stop offset=".334" stop-color="#bfff40"/><stop offset=".357" stop-color="#fcff03"/><stop offset=".360" stop-color="#fffb00"/><stop offset=".412" stop-color="#ff5e00"/><stop offset=".449" stop-color="#ff1a00"/><stop offset=".465" stop-color="#ff0000"/><stop offset=".486" stop-color="#e70000"/><stop offset=".510" stop-color="#df0000"/></linearGradient><linearGradient id="c35" gradientUnits="userSpaceOnUse" x1="0" x2="0" y1="838.8" y2="1219.5"><stop offset="0" stop-color="#00008d"/><stop offset=".063" stop-color="#00009f"/><stop offset=".087" stop-color="#0000c3"/><stop offset=".116" stop-color="#0000fd"/><stop offset=".152" stop-color="#0048ff"/><stop offset=".257" stop-color="#00ffff"/><stop offset=".276" stop-color="#25ffda"/><stop offset=".339" stop-color="#b3ff4c"/><stop offset=".368" stop-color="#feff01"/><stop offset=".415" stop-color="#ff6e00"/><stop offset=".428" stop-color="#ff4f00"/><stop offset=".444" stop-color="#ff3400"/><stop offset=".478" stop-color="#fd0000"/><stop offset=".499" stop-color="#e60000"/><stop offset=".523" stop-color="#de0000"/></linearGradient><linearGradient id="c36" gradientUnits="userSpaceOnUse" x1="0" x2="0" y1="838.8" y2="1219.5"><stop offset="0" stop-color="#00008d"/><stop offset=".066" stop-color="#00009f"/><stop offset=".092" stop-color="#0000c5"/><stop offset=".121" stop-color="#0000fe"/><stop offset=".160" stop-color="#004bff"/><stop offset=".265" stop-color="#00ffff"/><stop offset=".347" stop-color="#b1ff4e"/><stop offset=".376" stop-color="#fcff03"/><stop offset=".378" stop-color="#fffa00"/><stop offset=".426" stop-color="#ff6c00"/><stop offset=".439" stop-color="#ff5000"/><stop offset=".460" stop-color="#ff2d00"/><stop offset=".489" stop-color="#ff0100"/><stop offset=".512" stop-color="#e50000"/><stop offset=".536" stop-color="#dd0000"/></linearGradient><linearGradient id="c37" gradientUnits="userSpaceOnUse" x1="0" x2="0" y1="838.8" y2="1219.5"><stop offset="0" stop-color="#00008d"/><stop offset=".068" stop-color="#00009f"/><stop offset=".097" stop-color="#0000c7"/><stop offset=".126" stop-color="#0000fe"/><stop offset=".165" stop-color="#0049ff"/><stop offset=".273" stop-color="#02fffd"/><stop offset=".357" stop-color="#b7ff48"/><stop offset=".386" stop-color="#fffc00"/><stop offset=".436" stop-color="#ff7100"/><stop offset=".457" stop-color="#ff4700"/><stop offset=".489" stop-color="#ff1400"/><stop offset=".502" stop-color="#ff0100"/><stop offset=".525" stop-color="#e40000"/><stop offset=".549" stop-color="#db0000"/></linearGradient><linearGradient id="c38" gradientUnits="userSpaceOnUse" x1="0" x2="0" y1="838.8" y2="1219.5"><stop offset="0" stop-color="#00008d"/><stop offset=".071" stop-color="#00009e"/><stop offset=".100" stop-color="#0000c5"/><stop offset=".131" stop-color="#0000fe"/><stop offset=".176" stop-color="#0051ff"/><stop offset=".278" stop-color="#00feff"/><stop offset=".281" stop-color="#04fffb"/><stop offset=".365" stop-color="#b8ff47"/><stop offset=".394" stop-color="#ffff00"/><stop offset=".433" stop-color="#ff9800"/><stop offset=".452" stop-color="#ff6e00"/><stop offset=".475" stop-color="#ff4100"/><stop offset=".515" stop-color="#ff0100"/><stop offset=".538" stop-color="#e30000"/><stop offset=".562" stop-color="#d90000"/></linearGradient><linearGradient id="c39" gradientUnits="userSpaceOnUse" x1="0" x2="0" y1="838.8" y2="1219.5"><stop offset="0" stop-color="#00008d"/><stop offset=".074" stop-color="#00009e"/><stop offset=".105" stop-color="#0000c6"/><stop offset=".137" stop-color="#0000ff"/><stop offset=".286" stop-color="#01fffe"/><stop offset=".313" stop-color="#36ffc9"/><stop offset=".405" stop-color="#fffc00"/><stop offset=".468" stop-color="#ff6b00"/><stop offset=".528" stop-color="#ff0100"/><stop offset=".552" stop-color="#e20000"/><stop offset=".575" stop-color="#d80000"/></linearGradient><linearGradient id="c40" gradientUnits="userSpaceOnUse" x1="0" x2="0" y1="838.8" y2="1219.5"><stop offset="0" stop-color="#00008d"/><stop offset=".076" stop-color="#00009e"/><stop offset=".108" stop-color="#0000c4"/><stop offset=".142" stop-color="#0000ff"/><stop offset=".294" stop-color="#03fffc"/><stop offset=".412" stop-color="#ffff00"/><stop offset=".483" stop-color="#ff6500"/><stop offset=".541" stop-color="#ff0000"/><stop offset=".565" stop-color="#e10000"/><stop offset=".591" stop-color="#d50000"/></linearGradient><linearGradient id="c41" gradientUnits="userSpaceOnUse" x1="0" x2="0" y1="838.8" y2="1219.5"><stop offset="0" stop-color="#00008d"/><stop offset=".079" stop-color="#00009e"/><stop offset=".113" stop-color="#0000c6"/><stop offset=".147" stop-color="#0000ff"/><stop offset=".299" stop-color="#00ffff"/><stop offset=".423" stop-color="#fffd00"/><stop offset=".496" stop-color="#ff6300"/><stop offset=".552" stop-color="#ff0400"/><stop offset=".581" stop-color="#de0000"/><stop offset=".604" stop-color="#d30000"/></linearGradient><linearGradient id="c42" gradientUnits="userSpaceOnUse" x1="0" x2="0" y1="838.8" y2="1219.5"><stop offset="0" stop-color="#00008d"/><stop offset=".084" stop-color="#00009f"/><stop offset=".116" stop-color="#0000c4"/><stop offset=".152" stop-color="#0000ff"/><stop offset=".307" stop-color="#01fffe"/><stop offset=".433" stop-color="#ffff00"/><stop offset=".510" stop-color="#ff6200"/><stop offset=".565" stop-color="#ff0300"/><stop offset=".594" stop-color="#dc0000"/><stop offset=".620" stop-color="#d00000"/></linearGradient><linearGradient id="c43" gradientUnits="userSpaceOnUse" x1="0" x2="0" y1="838.8" y2="1219.5"><stop offset="0" stop-color="#00008d"/><stop offset=".087" stop-color="#00009f"/><stop offset=".121" stop-color="#0000c5"/><stop offset=".158" stop-color="#0000fe"/><stop offset=".210" stop-color="#0051ff"/><stop offset=".315" stop-color="#01fffe"/><stop offset=".449" stop-color="#fffc00"/><stop offset=".525" stop-color="#ff5c00"/><stop offset=".578" stop-color="#ff0000"/><stop offset=".607" stop-color="#d70000"/><stop offset=".633" stop-color="#cb0000"/></linearGradient><linearGradient id="c44" gradientUnits="userSpaceOnUse" x1="0" x2="0" y1="838.8" y2="1219.5"><stop offset="0" stop-color="#00008d"/><stop offset=".089" stop-color="#00009f"/><stop offset=".123" stop-color="#0000c3"/><stop offset=".165" stop-color="#0001ff"/><stop offset=".215" stop-color="#004cff"/><stop offset=".323" stop-color="#00feff"/><stop offset=".326" stop-color="#04fffb"/><stop offset=".465" stop-color="#fffd00"/><stop offset=".538" stop-color="#ff5900"/><stop offset=".586" stop-color="#ff0300"/><stop offset=".620" stop-color="#cf0000"/><stop offset=".646" stop-color="#c20000"/></linearGradient><linearGradient id="c45" gradientUnits="userSpaceOnUse" x1="0" x2="0" y1="838.8" y2="1219.5"><stop offset="0" stop-color="#00008d"/><stop offset=".092" stop-color="#00009e"/><stop offset=".129" stop-color="#0000c5"/><stop offset=".171" stop-color="#0000fe"/><stop offset=".223" stop-color="#004aff"/><stop offset=".334" stop-color="#00ffff"/><stop offset=".336" stop-color="#04fffb"/><stop offset=".447" stop-color="#c1ff3e"/><stop offset=".478" stop-color="#fffe00"/><stop offset=".546" stop-color="#ff5b00"/><stop offset=".594" stop-color="#ff0400"/><stop offset=".633" stop-color="#c40000"/><stop offset=".646" stop-color="#b80000"/><stop offset=".659" stop-color="#b60000"/></linearGradient><linearGradient id="c46" gradientUnits="userSpaceOnUse" x1="0" x2="0" y1="838.8" y2="1219.5"><stop offset="0" stop-color="#00008d"/><stop offset=".095" stop-color="#00009e"/><stop offset=".131" stop-color="#0000c3"/><stop offset=".179" stop-color="#0001ff"/><stop offset=".234" stop-color="#004cff"/><stop offset=".344" stop-color="#00feff"/><stop offset=".347" stop-color="#04fffb"/><stop offset=".460" stop-color="#c3ff3c"/><stop offset=".489" stop-color="#ffff00"/><stop offset=".554" stop-color="#ff5a00"/><stop offset=".602" stop-color="#ff0200"/><stop offset=".649" stop-color="#ad0000"/><stop offset=".672" stop-color="#ab0000"/></linearGradient><linearGradient id="c47" gradientUnits="userSpaceOnUse" x1="0" x2="0" y1="838.8" y2="1219.5"><stop offset="0" stop-color="#00008d"/><stop offset=".097" stop-color="#00009e"/><stop offset=".137" stop-color="#0000c4"/><stop offset=".184" stop-color="#0000fe"/><stop offset=".242" stop-color="#004aff"/><stop offset=".357" stop-color="#04fffb"/><stop offset=".468" stop-color="#c0ff3f"/><stop offset=".496" stop-color="#feff01"/><stop offset=".499" stop-color="#fffa00"/><stop offset=".559" stop-color="#ff5f00"/><stop offset=".609" stop-color="#ff0100"/><stop offset=".636" stop-color="#cf0000"/><stop offset=".646" stop-color="#ae0000"/><stop offset=".651" stop-color="#a30000"/><stop offset=".686" stop-color="#a10000"/></linearGradient><linearGradient id="c48" gradientUnits="userSpaceOnUse" x1="0" x2="0" y1="838.8" y2="1219.5"><stop offset="0" stop-color="#00008d"/><stop offset=".100" stop-color="#00009e"/><stop offset=".142" stop-color="#0000c5"/><stop offset=".192" stop-color="#0001ff"/><stop offset=".250" stop-color="#0049ff"/><stop offset=".365" stop-color="#01fffe"/><stop offset=".478" stop-color="#c6ff39"/><stop offset=".504" stop-color="#fffd00"/><stop offset=".565" stop-color="#ff6300"/><stop offset=".617" stop-color="#fe0000"/><stop offset=".638" stop-color="#d60000"/><stop offset=".649" stop-color="#af0000"/><stop offset=".654" stop-color="#a40000"/><stop offset=".699" stop-color="#9c0000"/></linearGradient><linearGradient id="c49" gradientUnits="userSpaceOnUse" x1="0" x2="0" y1="838.8" y2="1219.5"><stop offset="0" stop-color="#00008d"/><stop offset=".105" stop-color="#00009f"/><stop offset=".147" stop-color="#0000c5"/><stop offset=".197" stop-color="#0000fe"/><stop offset=".257" stop-color="#0049ff"/><stop offset=".373" stop-color="#02fffd"/><stop offset=".486" stop-color="#cbff34"/><stop offset=".510" stop-color="#fffe00"/><stop offset=".573" stop-color="#ff6200"/><stop offset=".625" stop-color="#fe0000"/><stop offset=".638" stop-color="#e50000"/><stop offset=".651" stop-color="#bd0000"/><stop offset=".657" stop-color="#b50000"/><stop offset=".678" stop-color="#a50000"/><stop offset=".709" stop-color="#9b0000"/></linearGradient><linearGradient id="c50" gradientUnits="userSpaceOnUse" x1="0" x2="0" y1="838.8" y2="1219.5"><stop offset="0" stop-color="#00008d"/><stop offset=".108" stop-color="#00009e"/><stop offset=".152" stop-color="#0000c4"/><stop offset=".205" stop-color="#0001ff"/><stop offset=".265" stop-color="#004aff"/><stop offset=".378" stop-color="#02fffd"/><stop offset=".489" stop-color="#c8ff37"/><stop offset=".515" stop-color="#fffd00"/><stop offset=".581" stop-color="#ff6200"/><stop offset=".633" stop-color="#ff0000"/><stop offset=".654" stop-color="#d20000"/><stop offset=".672" stop-color="#b80000"/><stop offset=".699" stop-color="#a10000"/><stop offset=".722" stop-color="#9c0000"/></linearGradient><linearGradient id="c51" gradientUnits="userSpaceOnUse" x1="0" x2="0" y1="838.8" y2="1219.5"><stop offset="0" stop-color="#00008d"/><stop offset=".113" stop-color="#00009e"/><stop offset=".160" stop-color="#0000c7"/><stop offset=".210" stop-color="#0000ff"/><stop offset=".271" stop-color="#0047ff"/><stop offset=".381" stop-color="#00ffff"/><stop offset=".384" stop-color="#04fffb"/><stop offset=".494" stop-color="#caff35"/><stop offset=".520" stop-color="#fffc00"/><stop offset=".588" stop-color="#ff6300"/><stop offset=".641" stop-color="#ff0200"/><stop offset=".670" stop-color="#ce0000"/><stop offset=".693" stop-color="#b10000"/><stop offset=".712" stop-color="#a30000"/><stop offset=".735" stop-color="#9d0000"/></linearGradient><linearGradient id="c52" gradientUnits="userSpaceOnUse" x1="0" x2="0" y1="838.8" y2="1219.5"><stop offset="0" stop-color="#00008d"/><stop offset=".116" stop-color="#00009e"/><stop offset=".163" stop-color="#0000c4"/><stop offset=".218" stop-color="#0001ff"/><stop offset=".281" stop-color="#004bff"/><stop offset=".386" stop-color="#01fffe"/><stop offset=".499" stop-color="#cdff32"/><stop offset=".523" stop-color="#feff01"/><stop offset=".525" stop-color="#fffb00"/><stop offset=".596" stop-color="#ff6400"/><stop offset=".651" stop-color="#fe0000"/><stop offset=".678" stop-color="#d20000"/><stop offset=".701" stop-color="#b50000"/><stop offset=".725" stop-color="#a30000"/><stop offset=".749" stop-color="#9d0000"/></linearGradient><linearGradient id="c53" gradientUnits="userSpaceOnUse" x1="0" x2="0" y1="838.8" y2="1219.5"><stop offset="0" stop-color="#00008d"/><stop offset=".121" stop-color="#00009e"/><stop offset=".171" stop-color="#0000c6"/><stop offset=".226" stop-color="#0002ff"/><stop offset=".289" stop-color="#004bff"/><stop offset=".391" stop-color="#03fffc"/><stop offset=".502" stop-color="#cbff34"/><stop offset=".528" stop-color="#ffff00"/><stop offset=".604" stop-color="#ff6500"/><stop offset=".659" stop-color="#ff0200"/><stop offset=".688" stop-color="#d10000"/><stop offset=".714" stop-color="#b30000"/><stop offset=".738" stop-color="#a00000"/><stop offset=".762" stop-color="#9b0000"/></linearGradient><linearGradient id="c54" gradientUnits="userSpaceOnUse" x1="0" x2="0" y1="838.8" y2="1219.5"><stop offset="0" stop-color="#00008d"/><stop offset=".123" stop-color="#00009d"/><stop offset=".176" stop-color="#0000c5"/><stop offset=".231" stop-color="#0000fe"/><stop offset=".297" stop-color="#0049ff"/><stop offset=".394" stop-color="#00ffff"/><stop offset=".533" stop-color="#fffe00"/><stop offset=".609" stop-color="#ff6c00"/><stop offset=".670" stop-color="#ff0100"/><stop offset=".699" stop-color="#d00000"/><stop offset=".728" stop-color="#af0000"/><stop offset=".751" stop-color="#9c0000"/><stop offset=".775" stop-color="#960000"/></linearGradient><linearGradient id="c55" gradientUnits="userSpaceOnUse" x1="0" x2="0" y1="838.8" y2="1219.5"><stop offset="0" stop-color="#00008d"/><stop offset=".129" stop-color="#00009e"/><stop offset=".181" stop-color="#0000c5"/><stop offset=".239" stop-color="#0000fe"/><stop offset=".289" stop-color="#0032ff"/><stop offset=".310" stop-color="#004fff"/><stop offset=".399" stop-color="#02fffd"/><stop offset=".538" stop-color="#fffe00"/><stop offset=".680" stop-color="#ff0000"/><stop offset=".709" stop-color="#cf0000"/><stop offset=".741" stop-color="#aa0000"/><stop offset=".764" stop-color="#960000"/><stop offset=".788" stop-color="#900000"/></linearGradient><linearGradient id="c56" gradientUnits="userSpaceOnUse" x1="0" x2="0" y1="838.8" y2="1219.5"><stop offset="0" stop-color="#00008d"/><stop offset=".131" stop-color="#00009d"/><stop offset=".186" stop-color="#0000c4"/><stop offset=".250" stop-color="#0001ff"/><stop offset=".299" stop-color="#0032ff"/><stop offset=".320" stop-color="#004dff"/><stop offset=".336" stop-color="#006bff"/><stop offset=".402" stop-color="#00fdff"/><stop offset=".405" stop-color="#04fffb"/><stop offset=".544" stop-color="#fffe00"/><stop offset=".691" stop-color="#fe0000"/><stop offset=".720" stop-color="#cd0000"/><stop offset=".762" stop-color="#9b0000"/><stop offset=".780" stop-color="#8e0000"/><stop offset=".804" stop-color="#8b0000"/></linearGradient><linearGradient id="c57" gradientUnits="userSpaceOnUse" x1="0" x2="0" y1="838.8" y2="1219.5"><stop offset="0" stop-color="#00008d"/><stop offset=".137" stop-color="#00009e"/><stop offset=".192" stop-color="#0000c4"/><stop offset=".257" stop-color="#0001ff"/><stop offset=".310" stop-color="#0032ff"/><stop offset=".331" stop-color="#004dff"/><stop offset=".407" stop-color="#00feff"/><stop offset=".410" stop-color="#05fffa"/><stop offset=".520" stop-color="#cfff30"/><stop offset=".549" stop-color="#ffff00"/><stop offset=".649" stop-color="#ff5d00"/><stop offset=".701" stop-color="#fd0000"/><stop offset=".730" stop-color="#cd0000"/><stop offset=".775" stop-color="#930000"/><stop offset=".788" stop-color="#8c0000"/><stop offset=".817" stop-color="#890000"/></linearGradient><linearGradient id="c58" gradientUnits="userSpaceOnUse" x1="0" x2="0" y1="838.8" y2="1219.5"><stop offset="0" stop-color="#00008d"/><stop offset=".139" stop-color="#00009d"/><stop offset=".200" stop-color="#0000c6"/><stop offset=".263" stop-color="#0000ff"/><stop offset=".318" stop-color="#0032ff"/><stop offset=".336" stop-color="#0048ff"/><stop offset=".412" stop-color="#00feff"/><stop offset=".415" stop-color="#05fffa"/><stop offset=".525" stop-color="#cfff30"/><stop offset=".557" stop-color="#fffc00"/><stop offset=".657" stop-color="#ff5e00"/><stop offset=".709" stop-color="#ff0100"/><stop offset=".749" stop-color="#c00000"/><stop offset=".778" stop-color="#9b0000"/><stop offset=".799" stop-color="#900000"/><stop offset=".841" stop-color="#8a0000"/></linearGradient><linearGradient id="c59" gradientUnits="userSpaceOnUse" x1="0" x2="0" y1="838.8" y2="1219.5"><stop offset="0" stop-color="#00008d"/><stop offset=".142" stop-color="#00009d"/><stop offset=".202" stop-color="#0000c5"/><stop offset=".268" stop-color="#0001ff"/><stop offset=".339" stop-color="#0045ff"/><stop offset=".415" stop-color="#00f8ff"/><stop offset=".420" stop-color="#05fffa"/><stop offset=".528" stop-color="#c9ff36"/><stop offset=".562" stop-color="#fffd00"/><stop offset=".720" stop-color="#ff0000"/><stop offset=".757" stop-color="#c60000"/><stop offset=".783" stop-color="#a90000"/><stop offset=".814" stop-color="#9a0000"/><stop offset=".867" stop-color="#8d0000"/></linearGradient><linearGradient id="c60" gradientUnits="userSpaceOnUse" x1="0" x2="0" y1="838.8" y2="1219.5"><stop offset="0" stop-color="#00008d"/><stop offset=".144" stop-color="#00009d"/><stop offset=".208" stop-color="#0000c6"/><stop offset=".271" stop-color="#0000ff"/><stop offset=".341" stop-color="#0044ff"/><stop offset=".420" stop-color="#00f7ff"/><stop offset=".426" stop-color="#04fffb"/><stop offset=".533" stop-color="#c8ff37"/><stop offset=".567" stop-color="#fffe00"/><stop offset=".730" stop-color="#fe0000"/><stop offset=".762" stop-color="#d00000"/><stop offset=".785" stop-color="#ba0000"/><stop offset=".854" stop-color="#9a0000"/><stop offset=".890" stop-color="#930000"/></linearGradient><linearGradient id="c61" gradientUnits="userSpaceOnUse" x1="0" x2="0" y1="838.8" y2="1219.5"><stop offset="0" stop-color="#00008d"/><stop offset=".147" stop-color="#00009d"/><stop offset=".210" stop-color="#0000c5"/><stop offset=".273" stop-color="#0000ff"/><stop offset=".344" stop-color="#0044ff"/><stop offset=".431" stop-color="#02fffd"/><stop offset=".538" stop-color="#c6ff39"/><stop offset=".573" stop-color="#feff01"/><stop offset=".680" stop-color="#ff5500"/><stop offset=".741" stop-color="#fe0000"/><stop offset=".770" stop-color="#d70000"/><stop offset=".793" stop-color="#c30000"/><stop offset=".867" stop-color="#a00000"/><stop offset=".909" stop-color="#980000"/></linearGradient><linearGradient id="c62" gradientUnits="userSpaceOnUse" x1="0" x2="0" y1="838.8" y2="1219.5"><stop offset="0" stop-color="#00008d"/><stop offset=".150" stop-color="#00009d"/><stop offset=".213" stop-color="#0000c4"/><stop offset=".278" stop-color="#0002ff"/><stop offset=".347" stop-color="#0044ff"/><stop offset=".436" stop-color="#01fffe"/><stop offset=".549" stop-color="#ceff31"/><stop offset=".581" stop-color="#fffd00"/><stop offset=".683" stop-color="#ff5a00"/><stop offset=".749" stop-color="#ff0100"/><stop offset=".780" stop-color="#d80000"/><stop offset=".801" stop-color="#c70000"/><stop offset=".883" stop-color="#a40000"/><stop offset=".927" stop-color="#9d0000"/></linearGradient><linearGradient id="c63" gradientUnits="userSpaceOnUse" x1="0" x2="0" y1="838.8" y2="1219.5"><stop offset="0" stop-color="#00008d"/><stop offset=".152" stop-color="#00009d"/><stop offset=".218" stop-color="#0000c5"/><stop offset=".281" stop-color="#0001ff"/><stop offset=".349" stop-color="#0045ff"/><stop offset=".441" stop-color="#00ffff"/><stop offset=".554" stop-color="#ccff33"/><stop offset=".586" stop-color="#fffe00"/><stop offset=".688" stop-color="#ff5b00"/><stop offset=".757" stop-color="#ff0100"/><stop offset=".791" stop-color="#d60000"/><stop offset=".806" stop-color="#ca0000"/><stop offset=".898" stop-color="#a60000"/><stop offset=".938" stop-color="#a00000"/></linearGradient><linearGradient id="c64" gradientUnits="userSpaceOnUse" x1="0" x2="0" y1="838.8" y2="1219.5"><stop offset="0" stop-color="#00008d"/><stop offset=".155" stop-color="#00009d"/><stop offset=".221" stop-color="#0000c4"/><stop offset=".284" stop-color="#0001ff"/><stop offset=".349" stop-color="#0041ff"/><stop offset=".447" stop-color="#00feff"/><stop offset=".449" stop-color="#04fffb"/><stop offset=".591" stop-color="#ffff00"/><stop offset=".693" stop-color="#ff5b00"/><stop offset=".764" stop-color="#ff0000"/><stop offset=".796" stop-color="#d80000"/><stop offset=".812" stop-color="#cc0000"/><stop offset=".911" stop-color="#a60000"/><stop offset=".946" stop-color="#a20000"/></linearGradient><linearGradient id="c65" gradientUnits="userSpaceOnUse" x1="0" x2="0" y1="838.8" y2="1219.5"><stop offset="0" stop-color="#00008d"/><stop offset=".160" stop-color="#00009e"/><stop offset=".226" stop-color="#0000c6"/><stop offset=".286" stop-color="#0000ff"/><stop offset=".352" stop-color="#0041ff"/><stop offset=".454" stop-color="#03fffc"/><stop offset=".567" stop-color="#ceff31"/><stop offset=".599" stop-color="#fffc00"/><stop offset=".699" stop-color="#ff5c00"/><stop offset=".772" stop-color="#fe0000"/><stop offset=".804" stop-color="#d80000"/><stop offset=".820" stop-color="#cc0000"/><stop offset=".919" stop-color="#a60000"/><stop offset=".951" stop-color="#a30000"/></linearGradient><linearGradient id="c66" gradientUnits="userSpaceOnUse" x1="0" x2="0" y1="838.8" y2="1219.5"><stop offset="0" stop-color="#00008d"/><stop offset=".163" stop-color="#00009e"/><stop offset=".229" stop-color="#0000c5"/><stop offset=".289" stop-color="#0000ff"/><stop offset=".355" stop-color="#0041ff"/><stop offset=".460" stop-color="#02fffd"/><stop offset=".573" stop-color="#ccff33"/><stop offset=".604" stop-color="#fffe00"/><stop offset=".704" stop-color="#ff5c00"/><stop offset=".778" stop-color="#ff0000"/><stop offset=".812" stop-color="#d70000"/><stop offset=".827" stop-color="#cb0000"/><stop offset=".925" stop-color="#a70000"/><stop offset=".956" stop-color="#a50000"/></linearGradient><linearGradient id="c67" gradientUnits="userSpaceOnUse" x1="0" x2="0" y1="838.8" y2="1219.5"><stop offset="0" stop-color="#00008d"/><stop offset=".165" stop-color="#00009e"/><stop offset=".234" stop-color="#0000c6"/><stop offset=".294" stop-color="#0001ff"/><stop offset=".360" stop-color="#0044ff"/><stop offset=".465" stop-color="#01fffe"/><stop offset=".609" stop-color="#ffff00"/><stop offset=".709" stop-color="#ff5d00"/><stop offset=".785" stop-color="#fe0000"/><stop offset=".817" stop-color="#d80000"/><stop offset=".833" stop-color="#cc0000"/><stop offset=".930" stop-color="#a80000"/><stop offset=".959" stop-color="#a60000"/></linearGradient><linearGradient id="c68" gradientUnits="userSpaceOnUse" x1="0" x2="0" y1="838.8" y2="1219.5"><stop offset="0" stop-color="#00008d"/><stop offset=".168" stop-color="#00009e"/><stop offset=".236" stop-color="#0000c5"/><stop offset=".297" stop-color="#0000ff"/><stop offset=".362" stop-color="#0042ff"/><stop offset=".470" stop-color="#00feff"/><stop offset=".473" stop-color="#04fffb"/><stop offset=".588" stop-color="#d1ff2e"/><stop offset=".617" stop-color="#fffc00"/><stop offset=".714" stop-color="#ff5d00"/><stop offset=".791" stop-color="#ff0000"/><stop offset=".825" stop-color="#d70000"/><stop offset=".841" stop-color="#cb0000"/><stop offset=".932" stop-color="#a90000"/><stop offset=".964" stop-color="#a70000"/></linearGradient><linearGradient id="c69" gradientUnits="userSpaceOnUse" x1="0" x2="0" y1="838.8" y2="1219.5"><stop offset="0" stop-color="#00008d"/><stop offset=".171" stop-color="#00009e"/><stop offset=".239" stop-color="#0000c4"/><stop offset=".302" stop-color="#0001ff"/><stop offset=".370" stop-color="#0047ff"/><stop offset=".478" stop-color="#03fffc"/><stop offset=".623" stop-color="#fffe00"/><stop offset=".720" stop-color="#ff5e00"/><stop offset=".796" stop-color="#ff0100"/><stop offset=".843" stop-color="#cc0000"/><stop offset=".938" stop-color="#a90000"/><stop offset=".967" stop-color="#a80000"/></linearGradient><linearGradient id="c70" gradientUnits="userSpaceOnUse" x1="0" x2="0" y1="838.8" y2="1219.5"><stop offset="0" stop-color="#00008d"/><stop offset=".173" stop-color="#00009d"/><stop offset=".244" stop-color="#0000c5"/><stop offset=".305" stop-color="#0000fe"/><stop offset=".376" stop-color="#0047ff"/><stop offset=".483" stop-color="#01fffe"/><stop offset=".602" stop-color="#d2ff2d"/><stop offset=".630" stop-color="#fffc00"/><stop offset=".725" stop-color="#ff5e00"/><stop offset=".801" stop-color="#ff0000"/><stop offset=".846" stop-color="#cd0000"/><stop offset=".938" stop-color="#ab0000"/><stop offset=".967" stop-color="#a90000"/></linearGradient><linearGradient id="c71" gradientUnits="userSpaceOnUse" x1="0" x2="0" y1="838.8" y2="1219.5"><stop offset="0" stop-color="#00008d"/><stop offset=".176" stop-color="#00009d"/><stop offset=".247" stop-color="#0000c4"/><stop offset=".310" stop-color="#0000ff"/><stop offset=".381" stop-color="#0047ff"/><stop offset=".489" stop-color="#00feff"/><stop offset=".491" stop-color="#04fffb"/><stop offset=".636" stop-color="#fffd00"/><stop offset=".733" stop-color="#ff5b00"/><stop offset=".806" stop-color="#fe0000"/><stop offset=".841" stop-color="#d40000"/><stop offset=".851" stop-color="#cc0000"/><stop offset=".940" stop-color="#ac0000"/><stop offset=".969" stop-color="#aa0000"/></linearGradient><linearGradient id="c72" gradientUnits="userSpaceOnUse" x1="0" x2="0" y1="838.8" y2="1219.5"><stop offset="0" stop-color="#00008d"/><stop offset=".179" stop-color="#00009d"/><stop offset=".252" stop-color="#0000c6"/><stop offset=".315" stop-color="#0001ff"/><stop offset=".386" stop-color="#0046ff"/><stop offset=".496" stop-color="#02fffd"/><stop offset=".641" stop-color="#fffe00"/><stop offset=".738" stop-color="#ff5b00"/><stop offset=".809" stop-color="#ff0100"/><stop offset=".854" stop-color="#cd0000"/><stop offset=".943" stop-color="#ad0000"/><stop offset=".975" stop-color="#ac0000"/></linearGradient><linearGradient id="c73" gradientUnits="userSpaceOnUse" x1="0" x2="0" y1="838.8" y2="1219.5"><stop offset="0" stop-color="#00008d"/><stop offset=".181" stop-color="#00009d"/><stop offset=".255" stop-color="#0000c5"/><stop offset=".320" stop-color="#0001ff"/><stop offset=".391" stop-color="#0046ff"/><stop offset=".502" stop-color="#01fffe"/><stop offset=".646" stop-color="#ffff00"/><stop offset=".743" stop-color="#ff5b00"/><stop offset=".814" stop-color="#fe0000"/><stop offset=".856" stop-color="#cd0000"/><stop offset=".946" stop-color="#ae0000"/><stop offset=".975" stop-color="#ad0000"/></linearGradient><linearGradient id="c74" gradientUnits="userSpaceOnUse" x1="0" x2="0" y1="838.8" y2="1219.5"><stop offset="0" stop-color="#00008d"/><stop offset=".184" stop-color="#00009d"/><stop offset=".260" stop-color="#0000c6"/><stop offset=".323" stop-color="#0000ff"/><stop offset=".397" stop-color="#0046ff"/><stop offset=".507" stop-color="#00ffff"/><stop offset=".510" stop-color="#04fffb"/><stop offset=".651" stop-color="#ffff00"/><stop offset=".749" stop-color="#ff5b00"/><stop offset=".817" stop-color="#ff0100"/><stop offset=".859" stop-color="#ce0000"/><stop offset=".948" stop-color="#af0000"/><stop offset=".977" stop-color="#ae0000"/></linearGradient><linearGradient id="c75" gradientUnits="userSpaceOnUse" x1="0" x2="0" y1="838.8" y2="1219.5"><stop offset="0" stop-color="#00008d"/><stop offset=".186" stop-color="#00009d"/><stop offset=".263" stop-color="#0000c5"/><stop offset=".328" stop-color="#0001ff"/><stop offset=".399" stop-color="#0043ff"/><stop offset=".512" stop-color="#00feff"/><stop offset=".515" stop-color="#04fffb"/><stop offset=".657" stop-color="#ffff00"/><stop offset=".754" stop-color="#ff5b00"/><stop offset=".822" stop-color="#ff0000"/><stop offset=".854" stop-color="#d60000"/><stop offset=".864" stop-color="#cd0000"/><stop offset=".948" stop-color="#b10000"/><stop offset=".977" stop-color="#b00000"/></linearGradient><linearGradient id="c76" gradientUnits="userSpaceOnUse" x1="0" x2="0" y1="838.8" y2="1219.5"><stop offset="0" stop-color="#00008d"/><stop offset=".189" stop-color="#00009d"/><stop offset=".265" stop-color="#0000c4"/><stop offset=".331" stop-color="#0000ff"/><stop offset=".402" stop-color="#0042ff"/><stop offset=".517" stop-color="#00ffff"/><stop offset=".520" stop-color="#04fffb"/><stop offset=".662" stop-color="#fffe00"/><stop offset=".759" stop-color="#ff5a00"/><stop offset=".827" stop-color="#ff0000"/><stop offset=".856" stop-color="#d90000"/><stop offset=".872" stop-color="#cd0000"/><stop offset=".948" stop-color="#b40000"/><stop offset=".977" stop-color="#b30000"/></linearGradient><linearGradient id="c77" gradientUnits="userSpaceOnUse" x1="0" x2="0" y1="838.8" y2="1219.5"><stop offset="0" stop-color="#00008d"/><stop offset=".192" stop-color="#00009d"/><stop offset=".271" stop-color="#0000c5"/><stop offset=".334" stop-color="#0000fe"/><stop offset=".405" stop-color="#0042ff"/><stop offset=".523" stop-color="#01fffe"/><stop offset=".667" stop-color="#fffd00"/><stop offset=".764" stop-color="#ff5800"/><stop offset=".833" stop-color="#ff0100"/><stop offset=".864" stop-color="#d90000"/><stop offset=".880" stop-color="#cd0000"/><stop offset=".948" stop-color="#b80000"/><stop offset=".980" stop-color="#b70000"/></linearGradient><linearGradient id="c78" gradientUnits="userSpaceOnUse" x1="0" x2="0" y1="838.8" y2="1219.5"><stop offset="0" stop-color="#00008d"/><stop offset=".194" stop-color="#00009d"/><stop offset=".273" stop-color="#0000c5"/><stop offset=".336" stop-color="#0000fe"/><stop offset=".407" stop-color="#0042ff"/><stop offset=".528" stop-color="#03fffc"/><stop offset=".649" stop-color="#daff25"/><stop offset=".672" stop-color="#fffc00"/><stop offset=".767" stop-color="#ff5a00"/><stop offset=".841" stop-color="#ff0000"/><stop offset=".872" stop-color="#da0000"/><stop offset=".888" stop-color="#ce0000"/><stop offset=".943" stop-color="#be0000"/><stop offset=".975" stop-color="#bc0000"/></linearGradient><linearGradient id="c79" gradientUnits="userSpaceOnUse" x1="0" x2="0" y1="838.8" y2="1219.5"><stop offset="0" stop-color="#00008d"/><stop offset=".194" stop-color="#00009d"/><stop offset=".276" stop-color="#0000c4"/><stop offset=".341" stop-color="#0001ff"/><stop offset=".410" stop-color="#0042ff"/><stop offset=".531" stop-color="#00ffff"/><stop offset=".533" stop-color="#04fffb"/><stop offset=".675" stop-color="#ffff00"/><stop offset=".770" stop-color="#ff5c00"/><stop offset=".848" stop-color="#ff0000"/><stop offset=".880" stop-color="#db0000"/><stop offset=".896" stop-color="#d00000"/><stop offset=".935" stop-color="#c40000"/><stop offset=".967" stop-color="#c20000"/></linearGradient><linearGradient id="c80" gradientUnits="userSpaceOnUse" x1="0" x2="0" y1="838.8" y2="1219.5"><stop offset="0" stop-color="#00008d"/><stop offset=".197" stop-color="#00009d"/><stop offset=".281" stop-color="#0000c6"/><stop offset=".344" stop-color="#0001ff"/><stop offset=".412" stop-color="#0042ff"/><stop offset=".536" stop-color="#01fffe"/><stop offset=".680" stop-color="#fffd00"/><stop offset=".775" stop-color="#ff5a00"/><stop offset=".856" stop-color="#ff0100"/><stop offset=".890" stop-color="#dd0000"/><stop offset=".909" stop-color="#d10000"/><stop offset=".932" stop-color="#c90000"/><stop offset=".964" stop-color="#c70000"/></linearGradient><linearGradient id="c81" gradientUnits="userSpaceOnUse" x1="0" x2="0" y1="838.8" y2="1219.5"><stop offset="0" stop-color="#00008d"/><stop offset=".200" stop-color="#00009d"/><stop offset=".284" stop-color="#0000c5"/><stop offset=".347" stop-color="#0001ff"/><stop offset=".415" stop-color="#0043ff"/><stop offset=".541" stop-color="#03fffc"/><stop offset=".683" stop-color="#feff01"/><stop offset=".780" stop-color="#ff5a00"/><stop offset=".867" stop-color="#ff0100"/><stop offset=".917" stop-color="#d40000"/><stop offset=".954" stop-color="#cf0000"/></linearGradient><linearGradient id="c82" gradientUnits="userSpaceOnUse" x1="0" x2="0" y1="838.8" y2="1219.5"><stop offset="0" stop-color="#00008d"/><stop offset=".202" stop-color="#00009d"/><stop offset=".286" stop-color="#0000c5"/><stop offset=".349" stop-color="#0000ff"/><stop offset=".418" stop-color="#0043ff"/><stop offset=".544" stop-color="#00ffff"/><stop offset=".546" stop-color="#04fffb"/><stop offset=".688" stop-color="#ffff00"/><stop offset=".778" stop-color="#ff6600"/><stop offset=".799" stop-color="#ff4c00"/><stop offset=".877" stop-color="#ff0000"/><stop offset=".917" stop-color="#dd0000"/><stop offset=".946" stop-color="#da0000"/></linearGradient><linearGradient id="c83" gradientUnits="userSpaceOnUse" x1="0" x2="0" y1="838.8" y2="1219.5"><stop offset="0" stop-color="#00008d"/><stop offset=".205" stop-color="#00009d"/><stop offset=".289" stop-color="#0000c4"/><stop offset=".352" stop-color="#0000ff"/><stop offset=".420" stop-color="#0043ff"/><stop offset=".549" stop-color="#00ffff"/><stop offset=".552" stop-color="#04fffb"/><stop offset=".693" stop-color="#fffe00"/><stop offset=".780" stop-color="#ff6c00"/><stop offset=".799" stop-color="#ff5300"/><stop offset=".885" stop-color="#ff0000"/><stop offset=".909" stop-color="#ed0000"/><stop offset=".935" stop-color="#e80000"/></linearGradient><linearGradient id="c84" gradientUnits="userSpaceOnUse" x1="0" x2="0" y1="838.8" y2="1219.5"><stop offset="0" stop-color="#00008d"/><stop offset=".208" stop-color="#00009d"/><stop offset=".294" stop-color="#0000c6"/><stop offset=".355" stop-color="#0000ff"/><stop offset=".423" stop-color="#0043ff"/><stop offset=".557" stop-color="#03fffc"/><stop offset=".675" stop-color="#d9ff26"/><stop offset=".699" stop-color="#fffd00"/><stop offset=".785" stop-color="#ff6e00"/><stop offset=".804" stop-color="#ff5400"/><stop offset=".896" stop-color="#ff0000"/><stop offset=".927" stop-color="#f80000"/></linearGradient><linearGradient id="c85" gradientUnits="userSpaceOnUse" x1="0" x2="0" y1="838.8" y2="1219.5"><stop offset="0" stop-color="#00008d"/><stop offset=".210" stop-color="#00009d"/><stop offset=".297" stop-color="#0000c5"/><stop offset=".357" stop-color="#0000fe"/><stop offset=".426" stop-color="#0043ff"/><stop offset=".562" stop-color="#01fffe"/><stop offset=".583" stop-color="#23ffdc"/><stop offset=".680" stop-color="#daff25"/><stop offset=".704" stop-color="#fffd00"/><stop offset=".791" stop-color="#ff7100"/><stop offset=".809" stop-color="#ff5700"/><stop offset=".888" stop-color="#ff1100"/><stop offset=".919" stop-color="#ff0900"/></linearGradient><linearGradient id="c86" gradientUnits="userSpaceOnUse" x1="0" x2="0" y1="838.8" y2="1219.5"><stop offset="0" stop-color="#00008d"/><stop offset=".213" stop-color="#00009d"/><stop offset=".299" stop-color="#0000c5"/><stop offset=".360" stop-color="#0000fe"/><stop offset=".428" stop-color="#0043ff"/><stop offset=".570" stop-color="#03fffc"/><stop offset=".588" stop-color="#22ffdd"/><stop offset=".683" stop-color="#d7ff28"/><stop offset=".707" stop-color="#fdff02"/><stop offset=".817" stop-color="#ff5900"/><stop offset=".880" stop-color="#ff2200"/><stop offset=".911" stop-color="#ff1b00"/></linearGradient><linearGradient id="c87" gradientUnits="userSpaceOnUse" x1="0" x2="0" y1="838.8" y2="1219.5"><stop offset="0" stop-color="#00008d"/><stop offset=".215" stop-color="#00009d"/><stop offset=".302" stop-color="#0000c4"/><stop offset=".365" stop-color="#0001ff"/><stop offset=".431" stop-color="#0042ff"/><stop offset=".575" stop-color="#03fffc"/><stop offset=".594" stop-color="#21ffde"/><stop offset=".686" stop-color="#d5ff2a"/><stop offset=".712" stop-color="#feff01"/><stop offset=".827" stop-color="#ff5800"/><stop offset=".872" stop-color="#ff3400"/><stop offset=".904" stop-color="#ff2d00"/></linearGradient><linearGradient id="c88" gradientUnits="userSpaceOnUse" x1="0" x2="0" y1="838.8" y2="1219.5"><stop offset="0" stop-color="#00008d"/><stop offset=".218" stop-color="#00009d"/><stop offset=".307" stop-color="#0000c5"/><stop offset=".368" stop-color="#0000ff"/><stop offset=".433" stop-color="#0042ff"/><stop offset=".581" stop-color="#03fffc"/><stop offset=".599" stop-color="#21ffde"/><stop offset=".688" stop-color="#d2ff2d"/><stop offset=".717" stop-color="#feff01"/><stop offset=".833" stop-color="#ff5d00"/><stop offset=".864" stop-color="#ff4600"/><stop offset=".893" stop-color="#ff4000"/></linearGradient><linearGradient id="c89" gradientUnits="userSpaceOnUse" x1="0" x2="0" y1="838.8" y2="1219.5"><stop offset="0" stop-color="#00008d"/><stop offset=".221" stop-color="#00009d"/><stop offset=".310" stop-color="#0000c5"/><stop offset=".370" stop-color="#0000ff"/><stop offset=".439" stop-color="#0044ff"/><stop offset=".583" stop-color="#00ffff"/><stop offset=".602" stop-color="#1dffe2"/><stop offset=".693" stop-color="#d5ff2a"/><stop offset=".722" stop-color="#ffff00"/><stop offset=".838" stop-color="#ff6300"/><stop offset=".856" stop-color="#ff5500"/><stop offset=".883" stop-color="#ff5100"/></linearGradient><linearGradient id="c90" gradientUnits="userSpaceOnUse" x1="0" x2="0" y1="838.8" y2="1219.5"><stop offset="0" stop-color="#00008d"/><stop offset=".221" stop-color="#00009d"/><stop offset=".313" stop-color="#0000c4"/><stop offset=".373" stop-color="#0000fe"/><stop offset=".441" stop-color="#0043ff"/><stop offset=".588" stop-color="#00ffff"/><stop offset=".607" stop-color="#1effe1"/><stop offset=".696" stop-color="#d3ff2c"/><stop offset=".728" stop-color="#ffff00"/><stop offset=".841" stop-color="#ff6b00"/><stop offset=".854" stop-color="#ff6100"/><stop offset=".877" stop-color="#ff5f00"/></linearGradient><linearGradient id="c91" gradientUnits="userSpaceOnUse" x1="0" x2="0" y1="838.8" y2="1219.5"><stop offset="0" stop-color="#00008d"/><stop offset=".223" stop-color="#00009d"/><stop offset=".318" stop-color="#0000c6"/><stop offset=".378" stop-color="#0001ff"/><stop offset=".444" stop-color="#0042ff"/><stop offset=".591" stop-color="#00fdff"/><stop offset=".609" stop-color="#1affe5"/><stop offset=".701" stop-color="#d7ff28"/><stop offset=".730" stop-color="#feff01"/><stop offset=".841" stop-color="#ff7300"/><stop offset=".867" stop-color="#ff6b00"/></linearGradient><linearGradient id="c92" gradientUnits="userSpaceOnUse" x1="0" x2="0" y1="838.8" y2="1219.5"><stop offset="0" stop-color="#00008d"/><stop offset=".226" stop-color="#00009d"/><stop offset=".320" stop-color="#0000c5"/><stop offset=".381" stop-color="#0000ff"/><stop offset=".449" stop-color="#0044ff"/><stop offset=".596" stop-color="#00ffff"/><stop offset=".612" stop-color="#18ffe7"/><stop offset=".701" stop-color="#d5ff2a"/><stop offset=".733" stop-color="#feff01"/><stop offset=".838" stop-color="#ff7d00"/><stop offset=".848" stop-color="#ff7700"/><stop offset=".872" stop-color="#ff7600"/></linearGradient><linearGradient id="c93" gradientUnits="userSpaceOnUse" x1="0" x2="0" y1="838.8" y2="1219.5"><stop offset="0" stop-color="#00008d"/><stop offset=".229" stop-color="#00009d"/><stop offset=".323" stop-color="#0000c4"/><stop offset=".384" stop-color="#0000fe"/><stop offset=".452" stop-color="#0043ff"/><stop offset=".599" stop-color="#00feff"/><stop offset=".615" stop-color="#18ffe7"/><stop offset=".701" stop-color="#d6ff29"/><stop offset=".733" stop-color="#fdff02"/><stop offset=".833" stop-color="#ff8a00"/><stop offset=".846" stop-color="#ff8100"/><stop offset=".867" stop-color="#ff8000"/></linearGradient><linearGradient id="c94" gradientUnits="userSpaceOnUse" x1="0" x2="0" y1="838.8" y2="1219.5"><stop offset="0" stop-color="#00008d"/><stop offset=".231" stop-color="#00009d"/><stop offset=".328" stop-color="#0000c5"/><stop offset=".389" stop-color="#0000ff"/><stop offset=".457" stop-color="#0045ff"/><stop offset=".602" stop-color="#00feff"/><stop offset=".617" stop-color="#19ffe6"/><stop offset=".699" stop-color="#d4ff2b"/><stop offset=".733" stop-color="#feff01"/><stop offset=".830" stop-color="#ff9200"/><stop offset=".859" stop-color="#ff8b00"/></linearGradient><linearGradient id="c95" gradientUnits="userSpaceOnUse" x1="0" x2="0" y1="838.8" y2="1219.5"><stop offset="0" stop-color="#00008d"/><stop offset=".234" stop-color="#00009d"/><stop offset=".331" stop-color="#0000c5"/><stop offset=".391" stop-color="#0000fe"/><stop offset=".460" stop-color="#0043ff"/><stop offset=".604" stop-color="#00ffff"/><stop offset=".620" stop-color="#1affe5"/><stop offset=".696" stop-color="#d2ff2d"/><stop offset=".733" stop-color="#feff01"/><stop offset=".827" stop-color="#ff9b00"/><stop offset=".856" stop-color="#ff9600"/></linearGradient><linearGradient id="c96" gradientUnits="userSpaceOnUse" x1="0" x2="0" y1="838.8" y2="1219.5"><stop offset="0" stop-color="#00008d"/><stop offset=".236" stop-color="#00009d"/><stop offset=".336" stop-color="#0000c5"/><stop offset=".397" stop-color="#0000ff"/><stop offset=".465" stop-color="#0045ff"/><stop offset=".607" stop-color="#00ffff"/><stop offset=".623" stop-color="#1cffe3"/><stop offset=".691" stop-color="#cbff34"/><stop offset=".704" stop-color="#e0ff1f"/><stop offset=".735" stop-color="#fffe00"/><stop offset=".825" stop-color="#ffa600"/><stop offset=".854" stop-color="#ffa000"/></linearGradient><linearGradient id="c97" gradientUnits="userSpaceOnUse" x1="0" x2="0" y1="838.8" y2="1219.5"><stop offset="0" stop-color="#00008d"/><stop offset=".242" stop-color="#00009d"/><stop offset=".339" stop-color="#0000c5"/><stop offset=".399" stop-color="#0000fe"/><stop offset=".468" stop-color="#0044ff"/><stop offset=".609" stop-color="#00ffff"/><stop offset=".625" stop-color="#1effe1"/><stop offset=".691" stop-color="#d0ff2f"/><stop offset=".701" stop-color="#dfff20"/><stop offset=".735" stop-color="#ffff00"/><stop offset=".825" stop-color="#ffaf00"/><stop offset=".856" stop-color="#ffab00"/></linearGradient><linearGradient id="c98" gradientUnits="userSpaceOnUse" x1="0" x2="0" y1="838.8" y2="1219.5"><stop offset="0" stop-color="#00008d"/><stop offset=".244" stop-color="#00009d"/><stop offset=".344" stop-color="#0000c6"/><stop offset=".405" stop-color="#0001ff"/><stop offset=".473" stop-color="#0046ff"/><stop offset=".609" stop-color="#00fcff"/><stop offset=".617" stop-color="#08fff7"/><stop offset=".625" stop-color="#19ffe6"/><stop offset=".686" stop-color="#c7ff38"/><stop offset=".696" stop-color="#dcff23"/><stop offset=".738" stop-color="#fffd00"/><stop offset=".817" stop-color="#ffbc00"/><stop offset=".848" stop-color="#ffb500"/></linearGradient><linearGradient id="c99" gradientUnits="userSpaceOnUse" x1="0" x2="0" y1="838.8" y2="1219.5"><stop offset="0" stop-color="#00008d"/><stop offset=".247" stop-color="#00009d"/><stop offset=".347" stop-color="#0000c5"/><stop offset=".407" stop-color="#0000fe"/><stop offset=".475" stop-color="#0044ff"/><stop offset=".612" stop-color="#00fdff"/><stop offset=".620" stop-color="#09fff6"/><stop offset=".628" stop-color="#1bffe4"/><stop offset=".683" stop-color="#c5ff3a"/><stop offset=".693" stop-color="#dbff24"/><stop offset=".738" stop-color="#fffe00"/><stop offset=".806" stop-color="#ffc800"/><stop offset=".841" stop-color="#ffc000"/></linearGradient><linearGradient id="c100" gradientUnits="userSpaceOnUse" x1="0" x2="0" y1="838.8" y2="1219.5"><stop offset="0" stop-color="#00008d"/><stop offset=".250" stop-color="#00009d"/><stop offset=".349" stop-color="#0000c4"/><stop offset=".412" stop-color="#0001ff"/><stop offset=".478" stop-color="#0043ff"/><stop offset=".615" stop-color="#00fdff"/><stop offset=".628" stop-color="#16ffe9"/><stop offset=".680" stop-color="#c2ff3d"/><stop offset=".691" stop-color="#daff25"/><stop offset=".738" stop-color="#ffff00"/><stop offset=".799" stop-color="#ffd100"/><stop offset=".827" stop-color="#ffcb00"/></linearGradient><linearGradient id="c101" gradientUnits="userSpaceOnUse" x1="0" x2="0" y1="838.8" y2="1219.5"><stop offset="0" stop-color="#00008d"/><stop offset=".252" stop-color="#00009d"/><stop offset=".355" stop-color="#0000c5"/><stop offset=".415" stop-color="#0000ff"/><stop offset=".483" stop-color="#0045ff"/><stop offset=".617" stop-color="#00ffff"/><stop offset=".630" stop-color="#1affe5"/><stop offset=".680" stop-color="#c7ff38"/><stop offset=".688" stop-color="#d9ff26"/><stop offset=".741" stop-color="#ffff00"/><stop offset=".796" stop-color="#ffd900"/><stop offset=".820" stop-color="#ffd600"/></linearGradient><linearGradient id="c102" gradientUnits="userSpaceOnUse" x1="0" x2="0" y1="838.8" y2="1219.5"><stop offset="0" stop-color="#00008d"/><stop offset=".255" stop-color="#00009d"/><stop offset=".357" stop-color="#0000c4"/><stop offset=".420" stop-color="#0001ff"/><stop offset=".486" stop-color="#0043ff"/><stop offset=".617" stop-color="#00fdff"/><stop offset=".625" stop-color="#0afff5"/><stop offset=".630" stop-color="#17ffe8"/><stop offset=".678" stop-color="#c3ff3c"/><stop offset=".686" stop-color="#d8ff27"/><stop offset=".746" stop-color="#feff01"/><stop offset=".796" stop-color="#ffe200"/><stop offset=".822" stop-color="#ffe100"/></linearGradient><linearGradient id="c103" gradientUnits="userSpaceOnUse" x1="0" x2="0" y1="838.8" y2="1219.5"><stop offset="0" stop-color="#00008d"/><stop offset=".257" stop-color="#00009d"/><stop offset=".362" stop-color="#0000c5"/><stop offset=".423" stop-color="#0000ff"/><stop offset=".491" stop-color="#0045ff"/><stop offset=".620" stop-color="#00ffff"/><stop offset=".630" stop-color="#15ffea"/><stop offset=".678" stop-color="#c8ff37"/><stop offset=".686" stop-color="#daff25"/><stop offset=".757" stop-color="#ffff00"/><stop offset=".796" stop-color="#ffec00"/><stop offset=".822" stop-color="#ffec00"/></linearGradient><linearGradient id="c104" gradientUnits="userSpaceOnUse" x1="0" x2="0" y1="838.8" y2="1219.5"><stop offset="0" stop-color="#00008d"/><stop offset=".260" stop-color="#00009d"/><stop offset=".365" stop-color="#0000c4"/><stop offset=".428" stop-color="#0001ff"/><stop offset=".494" stop-color="#0043ff"/><stop offset=".620" stop-color="#00feff"/><stop offset=".628" stop-color="#0dfff2"/><stop offset=".633" stop-color="#1dffe2"/><stop offset=".675" stop-color="#c4ff3b"/><stop offset=".683" stop-color="#d8ff27"/><stop offset=".770" stop-color="#ffff00"/><stop offset=".814" stop-color="#fff600"/></linearGradient><linearGradient id="c105" gradientUnits="userSpaceOnUse" x1="0" x2="0" y1="838.8" y2="1219.5"><stop offset="0" stop-color="#00008d"/><stop offset=".263" stop-color="#00009d"/><stop offset=".370" stop-color="#0000c5"/><stop offset=".431" stop-color="#0000ff"/><stop offset=".499" stop-color="#0045ff"/><stop offset=".620" stop-color="#00fcff"/><stop offset=".628" stop-color="#0bfff4"/><stop offset=".633" stop-color="#1affe5"/><stop offset=".672" stop-color="#bcff43"/><stop offset=".680" stop-color="#d4ff2b"/><stop offset=".699" stop-color="#dfff20"/><stop offset=".764" stop-color="#f6ff09"/><stop offset=".806" stop-color="#fdff02"/></linearGradient><linearGradient id="c106" gradientUnits="userSpaceOnUse" x1="0" x2="0" y1="838.8" y2="1219.5"><stop offset="0" stop-color="#00008d"/><stop offset=".265" stop-color="#00009d"/><stop offset=".373" stop-color="#0000c4"/><stop offset=".436" stop-color="#0001ff"/><stop offset=".504" stop-color="#0046ff"/><stop offset=".623" stop-color="#00feff"/><stop offset=".633" stop-color="#16ffe9"/><stop offset=".672" stop-color="#b3ff4c"/><stop offset=".680" stop-color="#c9ff36"/><stop offset=".696" stop-color="#d6ff29"/><stop offset=".722" stop-color="#e2ff1d"/><stop offset=".793" stop-color="#f1ff0e"/></linearGradient><linearGradient id="c107" gradientUnits="userSpaceOnUse" x1="0" x2="0" y1="838.8" y2="1219.5"><stop offset="0" stop-color="#00008d"/><stop offset=".268" stop-color="#00009d"/><stop offset=".378" stop-color="#0000c5"/><stop offset=".439" stop-color="#0000fe"/><stop offset=".510" stop-color="#0046ff"/><stop offset=".625" stop-color="#00fdff"/><stop offset=".636" stop-color="#16ffe9"/><stop offset=".675" stop-color="#9eff61"/><stop offset=".686" stop-color="#b4ff4b"/><stop offset=".707" stop-color="#ccff33"/><stop offset=".728" stop-color="#daff25"/><stop offset=".783" stop-color="#e4ff1b"/></linearGradient><linearGradient id="c108" gradientUnits="userSpaceOnUse" x1="0" x2="0" y1="838.8" y2="1219.5"><stop offset="0" stop-color="#00008d"/><stop offset=".271" stop-color="#00009d"/><stop offset=".381" stop-color="#0000c4"/><stop offset=".447" stop-color="#0001ff"/><stop offset=".517" stop-color="#0049ff"/><stop offset=".630" stop-color="#00feff"/><stop offset=".641" stop-color="#17ffe8"/><stop offset=".678" stop-color="#7bff84"/><stop offset=".707" stop-color="#aeff51"/><stop offset=".735" stop-color="#ccff33"/><stop offset=".772" stop-color="#d1ff2e"/></linearGradient><linearGradient id="c109" gradientUnits="userSpaceOnUse" x1="0" x2="0" y1="838.8" y2="1219.5"><stop offset="0" stop-color="#00008d"/><stop offset=".276" stop-color="#00009d"/><stop offset=".386" stop-color="#0000c4"/><stop offset=".452" stop-color="#0000ff"/><stop offset=".523" stop-color="#0046ff"/><stop offset=".636" stop-color="#00feff"/><stop offset=".686" stop-color="#67ff98"/><stop offset=".717" stop-color="#9eff61"/><stop offset=".735" stop-color="#b1ff4e"/><stop offset=".759" stop-color="#b4ff4b"/></linearGradient><linearGradient id="c110" gradientUnits="userSpaceOnUse" x1="0" x2="0" y1="838.8" y2="1219.5"><stop offset="0" stop-color="#00008d"/><stop offset=".278" stop-color="#00009d"/><stop offset=".391" stop-color="#0000c5"/><stop offset=".457" stop-color="#0000ff"/><stop offset=".531" stop-color="#0047ff"/><stop offset=".644" stop-color="#01fffe"/><stop offset=".712" stop-color="#7aff85"/><stop offset=".728" stop-color="#8aff75"/><stop offset=".749" stop-color="#8eff71"/></linearGradient><linearGradient id="c111" gradientUnits="userSpaceOnUse" x1="0" x2="0" y1="838.8" y2="1219.5"><stop offset="0" stop-color="#00008d"/><stop offset=".281" stop-color="#00009d"/><stop offset=".397" stop-color="#0000c5"/><stop offset=".462" stop-color="#0000fe"/><stop offset=".536" stop-color="#0045ff"/><stop offset=".651" stop-color="#01fffe"/><stop offset=".704" stop-color="#54ffab"/><stop offset=".720" stop-color="#61ff9e"/><stop offset=".735" stop-color="#65ff9a"/></linearGradient><linearGradient id="c112" gradientUnits="userSpaceOnUse" x1="0" x2="0" y1="838.8" y2="1219.5"><stop offset="0" stop-color="#00008d"/><stop offset=".284" stop-color="#00009d"/><stop offset=".402" stop-color="#0000c5"/><stop offset=".470" stop-color="#0001ff"/><stop offset=".544" stop-color="#0045ff"/><stop offset=".659" stop-color="#00fdff"/><stop offset=".696" stop-color="#2fffd0"/><stop offset=".722" stop-color="#3affc5"/></linearGradient><linearGradient id="c113" gradientUnits="userSpaceOnUse" x1="0" x2="0" y1="838.8" y2="1219.5"><stop offset="0" stop-color="#00008d"/><stop offset=".289" stop-color="#00009d"/><stop offset=".407" stop-color="#0000c5"/><stop offset=".475" stop-color="#0000fe"/><stop offset=".552" stop-color="#0045ff"/><stop offset=".651" stop-color="#00dfff"/><stop offset=".675" stop-color="#00ffff"/><stop offset=".693" stop-color="#0dfff2"/><stop offset=".709" stop-color="#11ffee"/></linearGradient><linearGradient id="c114" gradientUnits="userSpaceOnUse" x1="0" x2="0" y1="838.8" y2="1219.5"><stop offset="0" stop-color="#00008d"/><stop offset=".292" stop-color="#00009d"/><stop offset=".410" stop-color="#0000c4"/><stop offset=".483" stop-color="#0000ff"/><stop offset=".562" stop-color="#0045ff"/><stop offset=".638" stop-color="#00b8ff"/><stop offset=".659" stop-color="#00d3ff"/><stop offset=".675" stop-color="#00e1ff"/><stop offset=".696" stop-color="#00e6ff"/></linearGradient><linearGradient id="c115" gradientUnits="userSpaceOnUse" x1="0" x2="0" y1="838.8" y2="1219.5"><stop offset="0" stop-color="#00008d"/><stop offset=".294" stop-color="#00009d"/><stop offset=".415" stop-color="#0000c4"/><stop offset=".491" stop-color="#0000ff"/><stop offset=".570" stop-color="#0041ff"/><stop offset=".588" stop-color="#0059ff"/><stop offset=".625" stop-color="#0094ff"/><stop offset=".644" stop-color="#00aaff"/><stop offset=".659" stop-color="#00b7ff"/><stop offset=".678" stop-color="#00bdff"/></linearGradient><linearGradient id="c116" gradientUnits="userSpaceOnUse" x1="0" x2="0" y1="838.8" y2="1219.5"><stop offset="0" stop-color="#00008d"/><stop offset=".299" stop-color="#00009d"/><stop offset=".420" stop-color="#0000c4"/><stop offset=".499" stop-color="#0000ff"/><stop offset=".578" stop-color="#003fff"/><stop offset=".628" stop-color="#0083ff"/><stop offset=".657" stop-color="#0093ff"/></linearGradient><linearGradient id="c117" gradientUnits="userSpaceOnUse" x1="0" x2="0" y1="838.8" y2="1219.5"><stop offset="0" stop-color="#00008d"/><stop offset=".302" stop-color="#00009d"/><stop offset=".426" stop-color="#0000c5"/><stop offset=".502" stop-color="#0000fd"/><stop offset=".588" stop-color="#0041ff"/><stop offset=".617" stop-color="#0063ff"/><stop offset=".636" stop-color="#006cff"/></linearGradient><linearGradient id="c118" gradientUnits="userSpaceOnUse" x1="0" x2="0" y1="838.8" y2="1219.5"><stop offset="0" stop-color="#00008d"/><stop offset=".305" stop-color="#00009d"/><stop offset=".431" stop-color="#0000c5"/><stop offset=".504" stop-color="#0000fe"/><stop offset=".562" stop-color="#002bff"/><stop offset=".612" stop-color="#0049ff"/></linearGradient><linearGradient id="c119" gradientUnits="userSpaceOnUse" x1="0" x2="0" y1="838.8" y2="1219.5"><stop offset="0" stop-color="#00008d"/><stop offset=".307" stop-color="#00009d"/><stop offset=".436" stop-color="#0000c5"/><stop offset=".507" stop-color="#0000ff"/><stop offset=".557" stop-color="#0024ff"/><stop offset=".591" stop-color="#002fff"/></linearGradient><linearGradient id="c120" gradientUnits="userSpaceOnUse" x1="0" x2="0" y1="838.8" y2="1219.5"><stop offset="0" stop-color="#00008d"/><stop offset=".307" stop-color="#00009c"/><stop offset=".436" stop-color="#0000c4"/><stop offset=".510" stop-color="#0000ff"/><stop offset=".544" stop-color="#0017ff"/><stop offset=".573" stop-color="#001eff"/></linearGradient><linearGradient id="c121" gradientUnits="userSpaceOnUse" x1="0" x2="0" y1="838.8" y2="1219.5"><stop offset="0" stop-color="#00008d"/><stop offset=".307" stop-color="#00009c"/><stop offset=".439" stop-color="#0000c5"/><stop offset=".512" stop-color="#0000ff"/><stop offset=".554" stop-color="#000fff"/></linearGradient><linearGradient id="c122" gradientUnits="userSpaceOnUse" x1="0" x2="0" y1="838.8" y2="1219.5"><stop offset="0" stop-color="#00008d"/><stop offset=".307" stop-color="#00009c"/><stop offset=".436" stop-color="#0000c4"/><stop offset=".502" stop-color="#0000f7"/><stop offset=".533" stop-color="#0002ff"/></linearGradient><linearGradient id="c123" gradientUnits="userSpaceOnUse" x1="0" x2="0" y1="838.8" y2="1219.5"><stop offset="0" stop-color="#00008d"/><stop offset=".307" stop-color="#00009c"/><stop offset=".436" stop-color="#0000c4"/><stop offset=".499" stop-color="#0000f6"/><stop offset=".525" stop-color="#0000fa"/></linearGradient><linearGradient id="c124" gradientUnits="userSpaceOnUse" x1="0" x2="0" y1="838.8" y2="1219.5"><stop offset="0" stop-color="#00008d"/><stop offset=".307" stop-color="#00009c"/><stop offset=".436" stop-color="#0000c4"/><stop offset=".499" stop-color="#0000f6"/><stop offset=".525" stop-color="#0000f8"/></linearGradient><clipPath id="cpc"><polygon points="96.5,838.8 820.8,838.8 820.7,1028.7 814.9,1037.2 810,1043.2 803,1051.2 797.1,1058.2 790.1,1069.2 785.1,1076.2 777.2,1086.2 770.3,1094.2 760.3,1103.2 747.4,1113.2 735.5,1122.2 720.6,1133.2 713.6,1138.2 705.7,1142.2 695.8,1142.7 690.8,1141.2 683.9,1146.2 677.9,1151.2 671.9,1153.2 666,1156.7 661,1153.2 656.1,1155.2 649.1,1156.2 644.1,1159.2 638.2,1161.7 633.2,1158.2 627.3,1163.2 621.3,1165.2 614.3,1169.2 606.4,1175.2 599.5,1177.2 594.5,1181.2 586.5,1183.2 579.6,1189.2 573.6,1191.2 568.7,1195.2 561.7,1197.2 556.8,1199.2 548.8,1202.2 541.9,1201.2 531.9,1201.2 517,1199.7 509.1,1197.2 499.2,1197.2 487.2,1194.2 474.3,1191.2 465.4,1187.2 457.5,1181.2 442.6,1163.2 429.7,1141.2 412.8,1126.2 387.9,1105.2 363.1,1086.2 338.3,1065.2 323.4,1051.2 290.6,1023.2 263.8,1003.2 239,983.2 216.7,965.2 204.2,953.2 189.3,938.2 174.5,923.2 158.6,908.7 139.7,894.2 124.8,883.2 114.9,875.2 104.9,864.2 100,857.2 96.5,851.2"/></clipPath></defs><g clip-path="url(#cpa)"><g filter="url(#bl)"><rect x="84.2" y="26.5" width="6.6" height="23.4" fill="url(#a0)"/><rect x="90.2" y="26.5" width="6.6" height="23.4" fill="url(#a1)"/><rect x="96.2" y="26.5" width="6.6" height="25.9" fill="url(#a2)"/><rect x="102.2" y="26.5" width="6.6" height="34.8" fill="url(#a3)"/><rect x="108.2" y="26.5" width="6.6" height="41.5" fill="url(#a4)"/><rect x="114.2" y="26.5" width="6.6" height="47.7" fill="url(#a5)"/><rect x="120.2" y="26.5" width="6.6" height="52.5" fill="url(#a6)"/><rect x="126.2" y="26.5" width="6.6" height="57.1" fill="url(#a7)"/><rect x="132.2" y="26.5" width="6.6" height="61.5" fill="url(#a8)"/><rect x="138.2" y="26.5" width="6.6" height="65.9" fill="url(#a9)"/><rect x="144.2" y="26.5" width="6.6" height="70.5" fill="url(#a10)"/><rect x="150.2" y="26.5" width="6.6" height="75" fill="url(#a11)"/><rect x="156.2" y="26.5" width="6.6" height="79.6" fill="url(#a12)"/><rect x="162.2" y="26.5" width="6.6" height="85" fill="url(#a13)"/><rect x="168.2" y="26.5" width="6.6" height="90.4" fill="url(#a14)"/><rect x="174.2" y="26.5" width="6.6" height="96" fill="url(#a15)"/><rect x="180.2" y="26.5" width="6.6" height="102" fill="url(#a16)"/><rect x="186.2" y="26.5" width="6.6" height="108" fill="url(#a17)"/><rect x="192.2" y="26.5" width="6.6" height="114" fill="url(#a18)"/><rect x="198.2" y="26.5" width="6.6" height="120" fill="url(#a19)"/><rect x="204.2" y="26.5" width="6.6" height="125.9" fill="url(#a20)"/><rect x="210.2" y="26.5" width="6.6" height="131.7" fill="url(#a21)"/><rect x="216.2" y="26.5" width="6.6" height="137.3" fill="url(#a22)"/><rect x="222.2" y="26.5" width="6.6" height="142.1" fill="url(#a23)"/><rect x="228.2" y="26.5" width="6.6" height="146.9" fill="url(#a24)"/><rect x="234.2" y="26.5" width="6.6" height="151.7" fill="url(#a25)"/><rect x="240.2" y="26.5" width="6.6" height="156.5" fill="url(#a26)"/><rect x="246.2" y="26.5" width="6.6" height="161.3" fill="url(#a27)"/><rect x="252.2" y="26.5" width="6.6" height="166.1" fill="url(#a28)"/><rect x="258.2" y="26.5" width="6.6" height="170.9" fill="url(#a29)"/><rect x="264.2" y="26.5" width="6.6" height="175.6" fill="url(#a30)"/><rect x="270.2" y="26.5" width="6.6" height="180.1" fill="url(#a31)"/><rect x="276.2" y="26.5" width="6.6" height="184.5" fill="url(#a32)"/><rect x="282.2" y="26.5" width="6.6" height="188.9" fill="url(#a33)"/><rect x="288.2" y="26.5" width="6.6" height="193.4" fill="url(#a34)"/><rect x="294.2" y="26.5" width="6.6" height="198.3" fill="url(#a35)"/><rect x="300.2" y="26.5" width="6.6" height="203.4" fill="url(#a36)"/><rect x="306.2" y="26.5" width="6.6" height="208.5" fill="url(#a37)"/><rect x="312.2" y="26.5" width="6.6" height="213.6" fill="url(#a38)"/><rect x="318.2" y="26.5" width="6.6" height="218.7" fill="url(#a39)"/><rect x="324.2" y="26.5" width="6.6" height="223.9" fill="url(#a40)"/><rect x="330.2" y="26.5" width="6.6" height="229.5" fill="url(#a41)"/><rect x="336.2" y="26.5" width="6.6" height="235.1" fill="url(#a42)"/><rect x="342.2" y="26.5" width="6.6" height="240.3" fill="url(#a43)"/><rect x="348.2" y="26.5" width="6.6" height="245.3" fill="url(#a44)"/><rect x="354.2" y="26.5" width="6.6" height="250.4" fill="url(#a45)"/><rect x="360.2" y="26.5" width="6.6" height="255.4" fill="url(#a46)"/><rect x="366.2" y="26.5" width="6.6" height="260.2" fill="url(#a47)"/><rect x="372.2" y="26.5" width="6.6" height="264.7" fill="url(#a48)"/><rect x="378.2" y="26.5" width="6.6" height="269.3" fill="url(#a49)"/><rect x="384.2" y="26.5" width="6.6" height="273.8" fill="url(#a50)"/><rect x="390.2" y="26.5" width="6.6" height="278.6" fill="url(#a51)"/><rect x="396.2" y="26.5" width="6.6" height="283.6" fill="url(#a52)"/><rect x="402.2" y="26.5" width="6.6" height="288.7" fill="url(#a53)"/><rect x="408.2" y="26.5" width="6.6" height="293.7" fill="url(#a54)"/><rect x="414.2" y="26.5" width="6.6" height="298.8" fill="url(#a55)"/><rect x="420.2" y="26.5" width="6.6" height="304.1" fill="url(#a56)"/><rect x="426.2" y="26.5" width="6.6" height="309.4" fill="url(#a57)"/><rect x="432.2" y="26.5" width="6.6" height="316.7" fill="url(#a58)"/><rect x="438.2" y="26.5" width="6.6" height="326.9" fill="url(#a59)"/><rect x="444.2" y="26.5" width="6.6" height="336.3" fill="url(#a60)"/><rect x="450.2" y="26.5" width="6.6" height="343.5" fill="url(#a61)"/><rect x="456.2" y="26.5" width="6.6" height="350.7" fill="url(#a62)"/><rect x="462.2" y="26.5" width="6.6" height="355.9" fill="url(#a63)"/><rect x="468.2" y="26.5" width="6.6" height="359.6" fill="url(#a64)"/><rect x="474.2" y="26.5" width="6.6" height="362.3" fill="url(#a65)"/><rect x="480.2" y="26.5" width="6.6" height="363.8" fill="url(#a66)"/><rect x="486.2" y="26.5" width="6.6" height="365.2" fill="url(#a67)"/><rect x="492.2" y="26.5" width="6.6" height="366.6" fill="url(#a68)"/><rect x="498.2" y="26.5" width="6.6" height="368.1" fill="url(#a69)"/><rect x="504.2" y="26.5" width="6.6" height="368.5" fill="url(#a70)"/><rect x="510.2" y="26.5" width="6.6" height="368.7" fill="url(#a71)"/><rect x="516.2" y="26.5" width="6.6" height="370.5" fill="url(#a72)"/><rect x="522.2" y="26.5" width="6.6" height="371.4" fill="url(#a73)"/><rect x="528.2" y="26.5" width="6.6" height="372.1" fill="url(#a74)"/><rect x="534.2" y="26.5" width="6.6" height="372.5" fill="url(#a75)"/><rect x="540.2" y="26.5" width="6.6" height="372.5" fill="url(#a76)"/><rect x="546.2" y="26.5" width="6.6" height="373" fill="url(#a77)"/><rect x="552.2" y="26.5" width="6.6" height="372.6" fill="url(#a78)"/><rect x="558.2" y="26.5" width="6.6" height="370.3" fill="url(#a79)"/><rect x="564.2" y="26.5" width="6.6" height="368.1" fill="url(#a80)"/><rect x="570.2" y="26.5" width="6.6" height="366.1" fill="url(#a81)"/><rect x="576.2" y="26.5" width="6.6" height="362" fill="url(#a82)"/><rect x="582.2" y="26.5" width="6.6" height="359.2" fill="url(#a83)"/><rect x="588.2" y="26.5" width="6.6" height="354.4" fill="url(#a84)"/><rect x="594.2" y="26.5" width="6.6" height="352.9" fill="url(#a85)"/><rect x="600.2" y="26.5" width="6.6" height="348.9" fill="url(#a86)"/><rect x="606.2" y="26.5" width="6.6" height="346.9" fill="url(#a87)"/><rect x="612.2" y="26.5" width="6.6" height="343.1" fill="url(#a88)"/><rect x="618.2" y="26.5" width="6.6" height="339.1" fill="url(#a89)"/><rect x="624.2" y="26.5" width="6.6" height="336" fill="url(#a90)"/><rect x="630.2" y="26.5" width="6.6" height="333.2" fill="url(#a91)"/><rect x="636.2" y="26.5" width="6.6" height="330.6" fill="url(#a92)"/><rect x="642.2" y="26.5" width="6.6" height="332" fill="url(#a93)"/><rect x="648.2" y="26.5" width="6.6" height="329" fill="url(#a94)"/><rect x="654.2" y="26.5" width="6.6" height="327" fill="url(#a95)"/><rect x="660.2" y="26.5" width="6.6" height="325.5" fill="url(#a96)"/><rect x="666.2" y="26.5" width="6.6" height="326.9" fill="url(#a97)"/><rect x="672.2" y="26.5" width="6.6" height="325.4" fill="url(#a98)"/><rect x="678.2" y="26.5" width="6.6" height="323" fill="url(#a99)"/><rect x="684.2" y="26.5" width="6.6" height="318.8" fill="url(#a100)"/><rect x="690.2" y="26.5" width="6.6" height="314.3" fill="url(#a101)"/><rect x="696.2" y="26.5" width="6.6" height="313.6" fill="url(#a102)"/><rect x="702.2" y="26.5" width="6.6" height="313.8" fill="url(#a103)"/><rect x="708.2" y="26.5" width="6.6" height="313.2" fill="url(#a104)"/><rect x="714.2" y="26.5" width="6.6" height="310.2" fill="url(#a105)"/><rect x="720.2" y="26.5" width="6.6" height="306.3" fill="url(#a106)"/><rect x="726.2" y="26.5" width="6.6" height="301.9" fill="url(#a107)"/><rect x="732.2" y="26.5" width="6.6" height="297.5" fill="url(#a108)"/><rect x="738.2" y="26.5" width="6.6" height="293.1" fill="url(#a109)"/><rect x="744.2" y="26.5" width="6.6" height="288.6" fill="url(#a110)"/><rect x="750.2" y="26.5" width="6.6" height="284.1" fill="url(#a111)"/><rect x="756.2" y="26.5" width="6.6" height="279.5" fill="url(#a112)"/><rect x="762.2" y="26.5" width="6.6" height="274.9" fill="url(#a113)"/><rect x="768.2" y="26.5" width="6.6" height="269.6" fill="url(#a114)"/><rect x="774.2" y="26.5" width="6.6" height="263.8" fill="url(#a115)"/><rect x="780.2" y="26.5" width="6.6" height="256.9" fill="url(#a116)"/><rect x="786.2" y="26.5" width="6.6" height="249.4" fill="url(#a117)"/><rect x="792.2" y="26.5" width="6.6" height="241.2" fill="url(#a118)"/><rect x="798.2" y="26.5" width="6.6" height="231.9" fill="url(#a119)"/><rect x="804.2" y="26.5" width="6.6" height="224.2" fill="url(#a120)"/><rect x="810.2" y="26.5" width="6.6" height="217.4" fill="url(#a121)"/><rect x="816.2" y="26.5" width="6.6" height="210.3" fill="url(#a122)"/><rect x="822.2" y="26.5" width="6.6" height="201.9" fill="url(#a123)"/><rect x="828.2" y="26.5" width="6.6" height="200.7" fill="url(#a124)"/><rect x="834.2" y="26.5" width="6.6" height="200.7" fill="url(#a125)"/></g></g><polyline points="98,38 120,38.2 135,38.8 150,42 169,45.5 190,49.5 240,55 273,62" fill="none" stroke="#000" stroke-width="3.7" stroke-linejoin="round" stroke-linecap="butt" /><polyline points="295,66 340,71 375,77.5 432,87.5 480,90.5 524,92.5" fill="none" stroke="#000" stroke-width="3.7" stroke-linejoin="round" stroke-linecap="butt" /><polyline points="547,94 590,99 642,106 690,122 731,130 769,141" fill="none" stroke="#000" stroke-width="3.7" stroke-linejoin="round" stroke-linecap="butt" /><polyline points="787,155 802,170 825,169" fill="none" stroke="#000" stroke-width="3.7" stroke-linejoin="round" stroke-linecap="butt" /><polyline points="98,38.8 125,40 140,43.5 146,46" fill="none" stroke="#000" stroke-width="3.7" stroke-linejoin="round" stroke-linecap="butt" /><polyline points="172,51 215,55 245,62 290,77 340,87.5 375,100 384,102" fill="none" stroke="#000" stroke-width="3.7" stroke-linejoin="round" stroke-linecap="butt" /><polyline points="417,112 432,120 490,132 540,147 590,159 622,170" fill="none" stroke="#000" stroke-width="3.7" stroke-linejoin="round" stroke-linecap="butt" /><polyline points="660,175 690,180 731,195 765,212 805,239" fill="none" stroke="#000" stroke-width="3.7" stroke-linejoin="round" stroke-linecap="butt" /><polyline points="98,39.6 125,41.5 135,45.5 148,50" fill="none" stroke="#000" stroke-width="3.7" stroke-linejoin="round" stroke-linecap="butt" /><polyline points="167,52 190,55 225,62 260,82 290,92 340,109 376,121" fill="none" stroke="#000" stroke-width="3.7" stroke-linejoin="round" stroke-linecap="butt" /><polyline points="404,139 427,156 490,167 540,180 590,187 616,192" fill="none" stroke="#000" stroke-width="3.7" stroke-linejoin="round" stroke-linecap="butt" /><polyline points="648,199 690,215 731,229 777,265 780,275" fill="none" stroke="#000" stroke-width="3.7" stroke-linejoin="round" stroke-linecap="butt" /><polyline points="98,40.3 112,42 124.6,46.2 145,54.6 159.4,60.6 181,64.2 197.8,69 202,72 215,87 240,97 265,110 299,129" fill="none" stroke="#000" stroke-width="3.7" stroke-linejoin="round" stroke-linecap="butt" /><polyline points="331,141 340,142 372,155 390,167 432,180 490,197 537,215" fill="none" stroke="#000" stroke-width="3.7" stroke-linejoin="round" stroke-linecap="butt" /><polyline points="570,225 590,230 641,254 690,264 731,280 740,308" fill="none" stroke="#000" stroke-width="3.7" stroke-linejoin="round" stroke-linecap="butt" /><polyline points="98,41 100.6,42.6 115,46.2 124.6,49.8 133,60.6 145,69 159.4,75.6 176.2,82.2 188.2,96.6 197.8,103.2 215,111 240,125 263,143" fill="none" stroke="#000" stroke-width="3.7" stroke-linejoin="round" stroke-linecap="butt" /><polyline points="287,165 340,184 352,192 367,206 432,217 460,230 491,243" fill="none" stroke="#000" stroke-width="3.7" stroke-linejoin="round" stroke-linecap="butt" /><polyline points="520,254 540,260 590,276 640,287 670,301 685,320 684,338" fill="none" stroke="#000" stroke-width="3.7" stroke-linejoin="round" stroke-linecap="butt" /><polyline points="355,263 375,259 401,271 391,279 440,292 457,307 480,320 512,327" fill="none" stroke="#000" stroke-width="3.7" stroke-linejoin="round" stroke-linecap="butt" /><polyline points="545,331 559,336 542,345 502,351 480,357 460,366" fill="none" stroke="#000" stroke-width="3.7" stroke-linejoin="round" stroke-linecap="butt" /><path d="M92 28.5h11M97.5 23v11M92 32.5h11M97.5 27v11M92 36h11M97.5 30.5v11M92 39h11M97.5 33.5v11M105.5 27.5h11M111 22v11M105.5 51h11M111 45.5v11M153.5 27.5h11M159 22v11M153.5 32.5h11M159 27v11M153.5 37.5h11M159 32v11M153.5 42.5h11M159 37v11M153.5 46h11M159 40.5v11M153.5 51h11M159 45.5v11M153.5 57.5h11M159 52v11M153.5 66h11M159 60.5v11M153.5 81h11M159 75.5v11M153.5 87.5h11M159 82v11M153.5 94h11M159 88.5v11M211.5 27.5h11M217 22v11M211.5 32.5h11M217 27v11M211.5 37.5h11M217 32v11M211.5 42.5h11M217 37v11M211.5 47.5h11M217 42v11M211.5 52.5h11M217 47v11M211.5 61h11M217 55.5v11M211.5 66h11M217 60.5v11M211.5 71h11M217 65.5v11M211.5 76h11M217 70.5v11M211.5 81h11M217 75.5v11M211.5 96h11M217 90.5v11M211.5 111h11M217 105.5v11M211.5 126h11M217 120.5v11M211.5 141h11M217 135.5v11M211.5 150h11M217 144.5v11M285.5 27.5h11M291 22v11M285.5 32.5h11M291 27v11M285.5 37.5h11M291 32v11M285.5 42.5h11M291 37v11M285.5 47.5h11M291 42v11M285.5 52.5h11M291 47v11M285.5 59h11M291 53.5v11M285.5 66h11M291 60.5v11M285.5 75h11M291 69.5v11M285.5 81h11M291 75.5v11M285.5 107.5h11M291 102v11M285.5 122.5h11M291 117v11M285.5 136h11M291 130.5v11M285.5 169h11M291 163.5v11M285.5 192.5h11M291 187v11M285.5 210h11M291 204.5v11M369.5 27.5h11M375 22v11M369.5 31h11M375 25.5v11M369.5 39h11M375 33.5v11M369.5 45h11M375 39.5v11M369.5 52.5h11M375 47v11M369.5 60h11M375 54.5v11M369.5 66h11M375 60.5v11M369.5 72.5h11M375 67v11M369.5 95h11M375 89.5v11M369.5 106h11M375 100.5v11M369.5 121h11M375 115.5v11M369.5 150h11M375 144.5v11M369.5 189h11M375 183.5v11M369.5 204h11M375 198.5v11M369.5 232h11M375 226.5v11M369.5 251h11M375 245.5v11M369.5 268h11M375 262.5v11M427 27.5h11M432.5 22v11M427 31h11M432.5 25.5v11M427 39h11M432.5 33.5v11M427 45h11M432.5 39.5v11M427 52.5h11M432.5 47v11M427 61h11M432.5 55.5v11M427 69h11M432.5 63.5v11M427 80h11M432.5 74.5v11M427 92.5h11M432.5 87v11M427 116h11M432.5 110.5v11M427 155h11M432.5 149.5v11M427 170h11M432.5 164.5v11M427 192.5h11M432.5 187v11M427 229h11M432.5 223.5v11M427 260h11M432.5 254.5v11M427 292.5h11M432.5 287v11M427 315h11M432.5 309.5v11M427 326h11M432.5 320.5v11M534 27.5h11M539.5 22v11M534 31h11M539.5 25.5v11M534 39h11M539.5 33.5v11M534 45h11M539.5 39.5v11M534 52.5h11M539.5 47v11M534 60h11M539.5 54.5v11M534 66h11M539.5 60.5v11M534 72.5h11M539.5 67v11M534 82.5h11M539.5 77v11M534 95h11M539.5 89.5v11M534 124h11M539.5 118.5v11M534 150h11M539.5 144.5v11M534 170h11M539.5 164.5v11M534 189h11M539.5 183.5v11M534 217.5h11M539.5 212v11M534 237h11M539.5 231.5v11M534 265h11M539.5 259.5v11M534 287.5h11M539.5 282v11M534 336h11M539.5 330.5v11M534 361h11M539.5 355.5v11M534 385h11M539.5 379.5v11M636.5 27.5h11M642 22v11M636.5 31h11M642 25.5v11M636.5 37.5h11M642 32v11M636.5 44h11M642 38.5v11M636.5 50h11M642 44.5v11M636.5 57.5h11M642 52v11M636.5 66h11M642 60.5v11M636.5 74h11M642 68.5v11M636.5 86h11M642 80.5v11M636.5 97.5h11M642 92v11M636.5 109h11M642 103.5v11M636.5 134h11M642 128.5v11M636.5 170h11M642 164.5v11M636.5 181h11M642 175.5v11M636.5 206h11M642 200.5v11M636.5 252.5h11M642 247v11M636.5 301h11M642 295.5v11M636.5 322.5h11M642 317v11M725.5 27.5h11M731 22v11M725.5 31h11M731 25.5v11M725.5 39h11M731 33.5v11M725.5 46h11M731 40.5v11M725.5 52.5h11M731 47v11M725.5 60h11M731 54.5v11M725.5 69h11M731 63.5v11M725.5 74h11M731 68.5v11M725.5 80h11M731 74.5v11M725.5 91h11M731 85.5v11M725.5 117.5h11M731 112v11M725.5 146h11M731 140.5v11M725.5 167.5h11M731 162v11M725.5 179h11M731 173.5v11M725.5 217.5h11M731 212v11M725.5 265h11M731 259.5v11M725.5 287.5h11M731 282v11M797.3 27.5h11M802.8 22v11M797.3 31h11M802.8 25.5v11M797.3 37.5h11M802.8 32v11M797.3 42.5h11M802.8 37v11M797.3 46h11M802.8 40.5v11M797.3 52.5h11M802.8 47v11M797.3 60h11M802.8 54.5v11M797.3 67.5h11M802.8 62v11M797.3 74h11M802.8 68.5v11M797.3 80h11M802.8 74.5v11M797.3 96h11M802.8 90.5v11M797.3 107.5h11M802.8 102v11M797.3 141h11M802.8 135.5v11M797.3 174h11M802.8 168.5v11M797.3 207.5h11M802.8 202v11M819.9 27.5h11M825.4 22v11M819.9 31h11M825.4 25.5v11M819.9 37.5h11M825.4 32v11M819.9 44h11M825.4 38.5v11M819.9 50h11M825.4 44.5v11M819.9 56h11M825.4 50.5v11M819.9 61h11M825.4 55.5v11M819.9 74h11M825.4 68.5v11M819.9 82.5h11M825.4 77v11M819.9 112.5h11M825.4 107v11M819.9 122.5h11M825.4 117v11M819.9 146h11M825.4 140.5v11M819.9 181h11M825.4 175.5v11M819.9 204h11M825.4 198.5v11" stroke="#000" stroke-width="1.15" stroke-opacity=".92" fill="none"/><text x="284" y="65.5" transform="rotate(14 284 65.5)" font-size="17.2" fill="#000" text-anchor="middle" dy=".355em">5</text><text x="535.5" y="94" transform="rotate(4 535.5 94)" font-size="17.2" fill="#000" text-anchor="middle" dy=".355em">5</text><text x="778" y="148" transform="rotate(38 778 148)" font-size="17.2" fill="#000" text-anchor="middle" dy=".355em">5</text><text x="157" y="49" transform="rotate(14 157 49)" font-size="17.2" fill="#000" text-anchor="middle" dy=".355em">10</text><text x="400" y="107" transform="rotate(20 400 107)" font-size="17.2" fill="#000" text-anchor="middle" dy=".355em">10</text><text x="643" y="173" transform="rotate(8 643 173)" font-size="17.2" fill="#000" text-anchor="middle" dy=".355em">10</text><text x="389" y="130" transform="rotate(25 389 130)" font-size="17.2" fill="#000" text-anchor="middle" dy=".355em">15</text><text x="632" y="196" transform="rotate(10 632 196)" font-size="17.2" fill="#000" text-anchor="middle" dy=".355em">15</text><text x="315" y="136" transform="rotate(20 315 136)" font-size="17.2" fill="#000" text-anchor="middle" dy=".355em">20</text><text x="553" y="220" transform="rotate(18 553 220)" font-size="17.2" fill="#000" text-anchor="middle" dy=".355em">20</text><text x="274" y="154" transform="rotate(35 274 154)" font-size="17.2" fill="#000" text-anchor="middle" dy=".355em">25</text><text x="505" y="249" transform="rotate(18 505 249)" font-size="17.2" fill="#000" text-anchor="middle" dy=".355em">25</text><text x="528" y="330" transform="rotate(6 528 330)" font-size="17.2" fill="#000" text-anchor="middle" dy=".355em">30</text><polygon points="825.8,217.5 820,226 815,232 808,240 802,247 795,258 790,265 782,275 775,283 765,292 752,302 740,311 725,322 718,327 710,331 700,331.5 695,330 688,335 682,340 676,342 670,345.5 665,342 660,344 653,345 648,348 642,350.5 637,347 631,352 625,354 618,358 610,364 603,366 598,370 590,372 583,378 577,380 572,384 565,386 560,388 552,391 545,390 535,390 520,388.5 512,386 502,386 490,383 477,380 468,376 460,370 445,352 432,330 415,315 390,294 365,275 340,254 325,240 292,212 265,192 240,172 217.5,154 205,142 190,127 175,112 159,97.5 140,83 125,72 115,64 105,53 100,46 96.5,40 96.5,408.3 825.8,408.3 825.8,217" fill="#fff" stroke="#000" stroke-width="4.9" stroke-linejoin="round"/><polyline points="96.5,40 100,46 105,53 115,64 125,72 140,83 159,97.5 175,112 190,127 205,142 217.5,154 240,172 265,192 292,212 325,240 340,254 365,275 390,294 415,315 432,330 445,352 460,370 468,376 477,380 490,383 502,386 512,386 520,388.5 535,390 545,390 552,391 560,388 565,386 572,384 577,380 583,378 590,372 598,370 603,366 610,364 618,358 625,354 631,352 637,347 642,350.5 648,348 653,345 660,344 665,342 670,345.5 676,342 682,340 688,335 695,330 700,331.5 710,331 718,327 725,322 740,311 752,302 765,292 775,283 782,275 790,265 795,258 802,247 808,240 815,232 820,226 825.8,217.5" fill="none" stroke="#000" stroke-width="5.5" stroke-linejoin="round" stroke-linecap="butt" /><path d="M98.9 75.1h5.5M98.9 122.7h5.5M98.9 170.3h5.5M98.9 217.9h5.5M98.9 265.5h5.5M823.4 265.5h-5.5M98.9 313.1h5.5M823.4 313.1h-5.5M98.9 360.7h5.5M823.4 360.7h-5.5M99.6 405.9v-5.5M245.9 405.9v-5.5M392.2 405.9v-5.5M538.5 405.9v-5.5M684.8 405.9v-5.5" stroke="#222" stroke-width="1" fill="none"/><path d="M245.9 27.5v5.5M392.2 27.5v5.5M538.5 27.5v5.5M684.8 27.5v5.5" stroke="#223" stroke-width="1" stroke-opacity=".55" fill="none"/><text x="84.7" y="28.3" font-size="27.6" text-anchor="end" dy=".358em">0</text><text x="84.7" y="75.9" font-size="27.6" text-anchor="end" dy=".358em">100</text><text x="84.7" y="123.5" font-size="27.6" text-anchor="end" dy=".358em">200</text><text x="84.7" y="171.1" font-size="27.6" text-anchor="end" dy=".358em">300</text><text x="84.7" y="218.7" font-size="27.6" text-anchor="end" dy=".358em">400</text><text x="84.7" y="266.3" font-size="27.6" text-anchor="end" dy=".358em">500</text><text x="84.7" y="313.9" font-size="27.6" text-anchor="end" dy=".358em">600</text><text x="84.7" y="361.5" font-size="27.6" text-anchor="end" dy=".358em">700</text><text x="84.7" y="409.1" font-size="27.6" text-anchor="end" dy=".358em">800</text><text transform="translate(27.6 217) rotate(-90)" font-size="31.2" text-anchor="middle">Pressure (dbar)</text><rect x="840.2" y="403.44" width="36.8" height="6.36" fill="#00008f"/><rect x="840.2" y="397.48" width="36.8" height="6.36" fill="#00009f"/><rect x="840.2" y="391.52" width="36.8" height="6.36" fill="#0000af"/><rect x="840.2" y="385.56" width="36.8" height="6.36" fill="#0000bf"/><rect x="840.2" y="379.60" width="36.8" height="6.36" fill="#0000cf"/><rect x="840.2" y="373.63" width="36.8" height="6.36" fill="#0000df"/><rect x="840.2" y="367.67" width="36.8" height="6.36" fill="#0000ef"/><rect x="840.2" y="361.71" width="36.8" height="6.36" fill="#0000ff"/><rect x="840.2" y="355.75" width="36.8" height="6.36" fill="#0010ff"/><rect x="840.2" y="349.79" width="36.8" height="6.36" fill="#0020ff"/><rect x="840.2" y="343.83" width="36.8" height="6.36" fill="#0030ff"/><rect x="840.2" y="337.87" width="36.8" height="6.36" fill="#0040ff"/><rect x="840.2" y="331.91" width="36.8" height="6.36" fill="#0050ff"/><rect x="840.2" y="325.95" width="36.8" height="6.36" fill="#0060ff"/><rect x="840.2" y="319.99" width="36.8" height="6.36" fill="#0070ff"/><rect x="840.2" y="314.02" width="36.8" height="6.36" fill="#0080ff"/><rect x="840.2" y="308.06" width="36.8" height="6.36" fill="#008fff"/><rect x="840.2" y="302.10" width="36.8" height="6.36" fill="#009fff"/><rect x="840.2" y="296.14" width="36.8" height="6.36" fill="#00afff"/><rect x="840.2" y="290.18" width="36.8" height="6.36" fill="#00bfff"/><rect x="840.2" y="284.22" width="36.8" height="6.36" fill="#00cfff"/><rect x="840.2" y="278.26" width="36.8" height="6.36" fill="#00dfff"/><rect x="840.2" y="272.30" width="36.8" height="6.36" fill="#00efff"/><rect x="840.2" y="266.34" width="36.8" height="6.36" fill="#00ffff"/><rect x="840.2" y="260.38" width="36.8" height="6.36" fill="#10ffef"/><rect x="840.2" y="254.42" width="36.8" height="6.36" fill="#20ffdf"/><rect x="840.2" y="248.45" width="36.8" height="6.36" fill="#30ffcf"/><rect x="840.2" y="242.49" width="36.8" height="6.36" fill="#40ffbf"/><rect x="840.2" y="236.53" width="36.8" height="6.36" fill="#50ffaf"/><rect x="840.2" y="230.57" width="36.8" height="6.36" fill="#60ff9f"/><rect x="840.2" y="224.61" width="36.8" height="6.36" fill="#70ff8f"/><rect x="840.2" y="218.65" width="36.8" height="6.36" fill="#80ff80"/><rect x="840.2" y="212.69" width="36.8" height="6.36" fill="#8fff70"/><rect x="840.2" y="206.73" width="36.8" height="6.36" fill="#9fff60"/><rect x="840.2" y="200.77" width="36.8" height="6.36" fill="#afff50"/><rect x="840.2" y="194.81" width="36.8" height="6.36" fill="#bfff40"/><rect x="840.2" y="188.85" width="36.8" height="6.36" fill="#cfff30"/><rect x="840.2" y="182.88" width="36.8" height="6.36" fill="#dfff20"/><rect x="840.2" y="176.92" width="36.8" height="6.36" fill="#efff10"/><rect x="840.2" y="170.96" width="36.8" height="6.36" fill="#ffff00"/><rect x="840.2" y="165.00" width="36.8" height="6.36" fill="#ffef00"/><rect x="840.2" y="159.04" width="36.8" height="6.36" fill="#ffdf00"/><rect x="840.2" y="153.08" width="36.8" height="6.36" fill="#ffcf00"/><rect x="840.2" y="147.12" width="36.8" height="6.36" fill="#ffbf00"/><rect x="840.2" y="141.16" width="36.8" height="6.36" fill="#ffaf00"/><rect x="840.2" y="135.20" width="36.8" height="6.36" fill="#ff9f00"/><rect x="840.2" y="129.24" width="36.8" height="6.36" fill="#ff8f00"/><rect x="840.2" y="123.27" width="36.8" height="6.36" fill="#ff8000"/><rect x="840.2" y="117.31" width="36.8" height="6.36" fill="#ff7000"/><rect x="840.2" y="111.35" width="36.8" height="6.36" fill="#ff6000"/><rect x="840.2" y="105.39" width="36.8" height="6.36" fill="#ff5000"/><rect x="840.2" y="99.43" width="36.8" height="6.36" fill="#ff4000"/><rect x="840.2" y="93.47" width="36.8" height="6.36" fill="#ff3000"/><rect x="840.2" y="87.51" width="36.8" height="6.36" fill="#ff2000"/><rect x="840.2" y="81.55" width="36.8" height="6.36" fill="#ff1000"/><rect x="840.2" y="75.59" width="36.8" height="6.36" fill="#ff0000"/><rect x="840.2" y="69.63" width="36.8" height="6.36" fill="#ef0000"/><rect x="840.2" y="63.67" width="36.8" height="6.36" fill="#df0000"/><rect x="840.2" y="57.70" width="36.8" height="6.36" fill="#cf0000"/><rect x="840.2" y="51.74" width="36.8" height="6.36" fill="#bf0000"/><rect x="840.2" y="45.78" width="36.8" height="6.36" fill="#af0000"/><rect x="840.2" y="39.82" width="36.8" height="6.36" fill="#9f0000"/><rect x="840.2" y="33.86" width="36.8" height="6.36" fill="#8f0000"/><rect x="840.2" y="27.90" width="36.8" height="6.36" fill="#800000"/><rect x="840.2" y="27.9" width="36.8" height="381.5" fill="none" stroke="#222" stroke-width=".7"/><text x="885.3" y="409.7" font-size="25.5" dy=".355em">0</text><text x="885.3" y="348.3" font-size="25.5" dy=".355em">5</text><text x="885.3" y="286.9" font-size="25.5" dy=".355em">10</text><text x="885.3" y="225.5" font-size="25.5" dy=".355em">15</text><text x="885.3" y="164" font-size="25.5" dy=".355em">20</text><text x="885.3" y="102.6" font-size="25.5" dy=".355em">25</text><text x="885.3" y="41.2" font-size="25.5" dy=".355em">30</text><path d="M877 348h-3.5M877 286.6h-3.5M877 225.2h-3.5M877 163.7h-3.5M877 102.3h-3.5M877 40.9h-3.5" stroke="#222" stroke-width="1" fill="none"/><text transform="translate(989.2 209.0) rotate(-90)" font-size="27" text-anchor="middle" textLength="207" lengthAdjust="spacingAndGlyphs">Nitrate (<tspan font-family="'Liberation Serif', serif" font-style="italic" font-size="29">&#956;</tspan>mol/kg)</text><g clip-path="url(#cpb)"><g filter="url(#bl)"><rect x="84.2" y="432" width="6.6" height="23.4" fill="url(#b0)"/><rect x="90.2" y="432" width="6.6" height="23.4" fill="url(#b1)"/><rect x="96.2" y="432" width="6.6" height="25.9" fill="url(#b2)"/><rect x="102.2" y="432" width="6.6" height="34.8" fill="url(#b3)"/><rect x="108.2" y="432" width="6.6" height="41.6" fill="url(#b4)"/><rect x="114.2" y="432" width="6.6" height="47.7" fill="url(#b5)"/><rect x="120.2" y="432" width="6.6" height="52.5" fill="url(#b6)"/><rect x="126.2" y="432" width="6.6" height="57.1" fill="url(#b7)"/><rect x="132.2" y="432" width="6.6" height="61.5" fill="url(#b8)"/><rect x="138.2" y="432" width="6.6" height="65.9" fill="url(#b9)"/><rect x="144.2" y="432" width="6.6" height="70.5" fill="url(#b10)"/><rect x="150.2" y="432" width="6.6" height="75" fill="url(#b11)"/><rect x="156.2" y="432" width="6.6" height="79.6" fill="url(#b12)"/><rect x="162.2" y="432" width="6.6" height="85" fill="url(#b13)"/><rect x="168.2" y="432" width="6.6" height="90.4" fill="url(#b14)"/><rect x="174.2" y="432" width="6.6" height="96" fill="url(#b15)"/><rect x="180.2" y="432" width="6.6" height="102" fill="url(#b16)"/><rect x="186.2" y="432" width="6.6" height="108" fill="url(#b17)"/><rect x="192.2" y="432" width="6.6" height="114" fill="url(#b18)"/><rect x="198.2" y="432" width="6.6" height="120" fill="url(#b19)"/><rect x="204.2" y="432" width="6.6" height="125.9" fill="url(#b20)"/><rect x="210.2" y="432" width="6.6" height="131.7" fill="url(#b21)"/><rect x="216.2" y="432" width="6.6" height="137.3" fill="url(#b22)"/><rect x="222.2" y="432" width="6.6" height="142.1" fill="url(#b23)"/><rect x="228.2" y="432" width="6.6" height="146.9" fill="url(#b24)"/><rect x="234.2" y="432" width="6.6" height="151.7" fill="url(#b25)"/><rect x="240.2" y="432" width="6.6" height="156.5" fill="url(#b26)"/><rect x="246.2" y="432" width="6.6" height="161.3" fill="url(#b27)"/><rect x="252.2" y="432" width="6.6" height="166.1" fill="url(#b28)"/><rect x="258.2" y="432" width="6.6" height="170.9" fill="url(#b29)"/><rect x="264.2" y="432" width="6.6" height="175.6" fill="url(#b30)"/><rect x="270.2" y="432" width="6.6" height="180.1" fill="url(#b31)"/><rect x="276.2" y="432" width="6.6" height="184.5" fill="url(#b32)"/><rect x="282.2" y="432" width="6.6" height="188.9" fill="url(#b33)"/><rect x="288.2" y="432" width="6.6" height="193.4" fill="url(#b34)"/><rect x="294.2" y="432" width="6.6" height="198.3" fill="url(#b35)"/><rect x="300.2" y="432" width="6.6" height="203.4" fill="url(#b36)"/><rect x="306.2" y="432" width="6.6" height="208.5" fill="url(#b37)"/><rect x="312.2" y="432" width="6.6" height="213.6" fill="url(#b38)"/><rect x="318.2" y="432" width="6.6" height="218.7" fill="url(#b39)"/><rect x="324.2" y="432" width="6.6" height="223.9" fill="url(#b40)"/><rect x="330.2" y="432" width="6.6" height="229.5" fill="url(#b41)"/><rect x="336.2" y="432" width="6.6" height="235.1" fill="url(#b42)"/><rect x="342.2" y="432" width="6.6" height="240.3" fill="url(#b43)"/><rect x="348.2" y="432" width="6.6" height="245.3" fill="url(#b44)"/><rect x="354.2" y="432" width="6.6" height="250.4" fill="url(#b45)"/><rect x="360.2" y="432" width="6.6" height="255.4" fill="url(#b46)"/><rect x="366.2" y="432" width="6.6" height="260.2" fill="url(#b47)"/><rect x="372.2" y="432" width="6.6" height="264.7" fill="url(#b48)"/><rect x="378.2" y="432" width="6.6" height="269.3" fill="url(#b49)"/><rect x="384.2" y="432" width="6.6" height="273.8" fill="url(#b50)"/><rect x="390.2" y="432" width="6.6" height="278.6" fill="url(#b51)"/><rect x="396.2" y="432" width="6.6" height="283.6" fill="url(#b52)"/><rect x="402.2" y="432" width="6.6" height="288.7" fill="url(#b53)"/><rect x="408.2" y="432" width="6.6" height="293.7" fill="url(#b54)"/><rect x="414.2" y="432" width="6.6" height="298.8" fill="url(#b55)"/><rect x="420.2" y="432" width="6.6" height="304.1" fill="url(#b56)"/><rect x="426.2" y="432" width="6.6" height="309.4" fill="url(#b57)"/><rect x="432.2" y="432" width="6.6" height="316.7" fill="url(#b58)"/><rect x="438.2" y="432" width="6.6" height="326.9" fill="url(#b59)"/><rect x="444.2" y="432" width="6.6" height="336.3" fill="url(#b60)"/><rect x="450.2" y="432" width="6.6" height="343.5" fill="url(#b61)"/><rect x="456.2" y="432" width="6.6" height="350.7" fill="url(#b62)"/><rect x="462.2" y="432" width="6.6" height="355.9" fill="url(#b63)"/><rect x="468.2" y="432" width="6.6" height="359.6" fill="url(#b64)"/><rect x="474.2" y="432" width="6.6" height="362.3" fill="url(#b65)"/><rect x="480.2" y="432" width="6.6" height="363.8" fill="url(#b66)"/><rect x="486.2" y="432" width="6.6" height="365.2" fill="url(#b67)"/><rect x="492.2" y="432" width="6.6" height="366.6" fill="url(#b68)"/><rect x="498.2" y="432" width="6.6" height="368.1" fill="url(#b69)"/><rect x="504.2" y="432" width="6.6" height="368.5" fill="url(#b70)"/><rect x="510.2" y="432" width="6.6" height="368.7" fill="url(#b71)"/><rect x="516.2" y="432" width="6.6" height="370.5" fill="url(#b72)"/><rect x="522.2" y="432" width="6.6" height="371.5" fill="url(#b73)"/><rect x="528.2" y="432" width="6.6" height="372" fill="url(#b74)"/><rect x="534.2" y="432" width="6.6" height="372.5" fill="url(#b75)"/><rect x="540.2" y="432" width="6.6" height="372.5" fill="url(#b76)"/><rect x="546.2" y="432" width="6.6" height="373" fill="url(#b77)"/><rect x="552.2" y="432" width="6.6" height="372.6" fill="url(#b78)"/><rect x="558.2" y="432" width="6.6" height="370.3" fill="url(#b79)"/><rect x="564.2" y="432" width="6.6" height="368.1" fill="url(#b80)"/><rect x="570.2" y="432" width="6.6" height="366.1" fill="url(#b81)"/><rect x="576.2" y="432" width="6.6" height="362" fill="url(#b82)"/><rect x="582.2" y="432" width="6.6" height="359.2" fill="url(#b83)"/><rect x="588.2" y="432" width="6.6" height="354.4" fill="url(#b84)"/><rect x="594.2" y="432" width="6.6" height="352.9" fill="url(#b85)"/><rect x="600.2" y="432" width="6.6" height="348.9" fill="url(#b86)"/><rect x="606.2" y="432" width="6.6" height="346.9" fill="url(#b87)"/><rect x="612.2" y="432" width="6.6" height="343.1" fill="url(#b88)"/><rect x="618.2" y="432" width="6.6" height="339.1" fill="url(#b89)"/><rect x="624.2" y="432" width="6.6" height="336" fill="url(#b90)"/><rect x="630.2" y="432" width="6.6" height="333.2" fill="url(#b91)"/><rect x="636.2" y="432" width="6.6" height="330.5" fill="url(#b92)"/><rect x="642.2" y="432" width="6.6" height="332" fill="url(#b93)"/><rect x="648.2" y="432" width="6.6" height="329" fill="url(#b94)"/><rect x="654.2" y="432" width="6.6" height="327" fill="url(#b95)"/><rect x="660.2" y="432" width="6.6" height="325.5" fill="url(#b96)"/><rect x="666.2" y="432" width="6.6" height="327" fill="url(#b97)"/><rect x="672.2" y="432" width="6.6" height="325.4" fill="url(#b98)"/><rect x="678.2" y="432" width="6.6" height="323" fill="url(#b99)"/><rect x="684.2" y="432" width="6.6" height="318.8" fill="url(#b100)"/><rect x="690.2" y="432" width="6.6" height="314.3" fill="url(#b101)"/><rect x="696.2" y="432" width="6.6" height="313.5" fill="url(#b102)"/><rect x="702.2" y="432" width="6.6" height="313.8" fill="url(#b103)"/><rect x="708.2" y="432" width="6.6" height="313.2" fill="url(#b104)"/><rect x="714.2" y="432" width="6.6" height="310.2" fill="url(#b105)"/><rect x="720.2" y="432" width="6.6" height="306.3" fill="url(#b106)"/><rect x="726.2" y="432" width="6.6" height="301.9" fill="url(#b107)"/><rect x="732.2" y="432" width="6.6" height="297.5" fill="url(#b108)"/><rect x="738.2" y="432" width="6.6" height="293.1" fill="url(#b109)"/><rect x="744.2" y="432" width="6.6" height="288.6" fill="url(#b110)"/><rect x="750.2" y="432" width="6.6" height="284.1" fill="url(#b111)"/><rect x="756.2" y="432" width="6.6" height="279.5" fill="url(#b112)"/><rect x="762.2" y="432" width="6.6" height="274.9" fill="url(#b113)"/><rect x="768.2" y="432" width="6.6" height="269.5" fill="url(#b114)"/><rect x="774.2" y="432" width="6.6" height="263.8" fill="url(#b115)"/><rect x="780.2" y="432" width="6.6" height="256.9" fill="url(#b116)"/><rect x="786.2" y="432" width="6.6" height="249.4" fill="url(#b117)"/><rect x="792.2" y="432" width="6.6" height="241.2" fill="url(#b118)"/><rect x="798.2" y="432" width="6.6" height="231.9" fill="url(#b119)"/><rect x="804.2" y="432" width="6.6" height="224.2" fill="url(#b120)"/><rect x="810.2" y="432" width="6.6" height="217.4" fill="url(#b121)"/><rect x="816.2" y="432" width="6.6" height="210.3" fill="url(#b122)"/><rect x="822.2" y="432" width="6.6" height="201.9" fill="url(#b123)"/><rect x="828.2" y="432" width="6.6" height="200.7" fill="url(#b124)"/><rect x="834.2" y="432" width="6.6" height="200.7" fill="url(#b125)"/></g></g><polyline points="98,443 121,443.5 142.6,446 152.2,449.4 170,452.5 215,457.5 245,462.5 266,469" fill="none" stroke="#000" stroke-width="3.7" stroke-linejoin="round" stroke-linecap="butt" /><polyline points="308,477.5 340,481 375,490 432,501 480,512.5 511,525" fill="none" stroke="#000" stroke-width="3.7" stroke-linejoin="round" stroke-linecap="butt" /><polyline points="552,540 590,547.5 642,562.5 695,565 731,571 755,584" fill="none" stroke="#000" stroke-width="3.7" stroke-linejoin="round" stroke-linecap="butt" /><polyline points="790,609 802,619 825,602.5" fill="none" stroke="#000" stroke-width="3.7" stroke-linejoin="round" stroke-linecap="butt" /><polyline points="100,444 112,444.5 124.6,445.8 139,451.2 155,455" fill="none" stroke="#000" stroke-width="3.7" stroke-linejoin="round" stroke-linecap="butt" /><polyline points="176,457.5 215,466 235,470 265,485 290,494 340,507 360,512.5 375,522.5 392,530" fill="none" stroke="#000" stroke-width="3.7" stroke-linejoin="round" stroke-linecap="butt" /><polyline points="414,539 432,551 490,570 540,585 590,591 633,601" fill="none" stroke="#000" stroke-width="3.7" stroke-linejoin="round" stroke-linecap="butt" /><polyline points="656,607.5 731,625 755,645 787.5,671" fill="none" stroke="#000" stroke-width="3.7" stroke-linejoin="round" stroke-linecap="butt" /><polyline points="100,446.5 106.6,448.8 116.2,449.4 135.4,456 141.4,458.4 157,468 178.6,474 195,479 215,492.5 240,502.5 272,512.5 292,537" fill="none" stroke="#000" stroke-width="3.7" stroke-linejoin="round" stroke-linecap="butt" /><polyline points="330,549 340,550 375,555 390,567.5 432,589 462,597.5 521,631" fill="none" stroke="#000" stroke-width="3.7" stroke-linejoin="round" stroke-linecap="butt" /><polyline points="562,646 590,651 640,666 731,691 740,714" fill="none" stroke="#000" stroke-width="3.7" stroke-linejoin="round" stroke-linecap="butt" /><polyline points="190,531.5 217,526 242,545 246,555 265,582.5 287,599 282,612" fill="none" stroke="#000" stroke-width="3.7" stroke-linejoin="round" stroke-linecap="butt" /><polyline points="327,635 375,632 390,637 397,655 435,684 490,701.5 524,715" fill="none" stroke="#000" stroke-width="3.7" stroke-linejoin="round" stroke-linecap="butt" /><polyline points="550,724 584,741 540,762.5 510,772.5 487,786" fill="none" stroke="#000" stroke-width="3.7" stroke-linejoin="round" stroke-linecap="butt" /><path d="M92 434h11M97.5 428.5v11M92 438h11M97.5 432.5v11M92 441.5h11M97.5 436v11M92 444.5h11M97.5 439v11M105.5 433h11M111 427.5v11M105.5 456.5h11M111 451v11M153.5 433h11M159 427.5v11M153.5 438h11M159 432.5v11M153.5 443h11M159 437.5v11M153.5 448h11M159 442.5v11M153.5 451.5h11M159 446v11M153.5 456.5h11M159 451v11M153.5 463h11M159 457.5v11M153.5 471.5h11M159 466v11M153.5 486.5h11M159 481v11M153.5 493h11M159 487.5v11M153.5 499.5h11M159 494v11M211.5 433h11M217 427.5v11M211.5 438h11M217 432.5v11M211.5 443h11M217 437.5v11M211.5 448h11M217 442.5v11M211.5 453h11M217 447.5v11M211.5 458h11M217 452.5v11M211.5 466.5h11M217 461v11M211.5 471.5h11M217 466v11M211.5 476.5h11M217 471v11M211.5 481.5h11M217 476v11M211.5 486.5h11M217 481v11M211.5 501.5h11M217 496v11M211.5 516.5h11M217 511v11M211.5 531.5h11M217 526v11M211.5 546.5h11M217 541v11M211.5 555.5h11M217 550v11M285.5 433h11M291 427.5v11M285.5 438h11M291 432.5v11M285.5 443h11M291 437.5v11M285.5 448h11M291 442.5v11M285.5 453h11M291 447.5v11M285.5 458h11M291 452.5v11M285.5 464.5h11M291 459v11M285.5 471.5h11M291 466v11M285.5 480.5h11M291 475v11M285.5 486.5h11M291 481v11M285.5 513h11M291 507.5v11M285.5 528h11M291 522.5v11M285.5 541.5h11M291 536v11M285.5 574.5h11M291 569v11M285.5 598h11M291 592.5v11M285.5 615.5h11M291 610v11M369.5 433h11M375 427.5v11M369.5 436.5h11M375 431v11M369.5 444.5h11M375 439v11M369.5 450.5h11M375 445v11M369.5 458h11M375 452.5v11M369.5 465.5h11M375 460v11M369.5 471.5h11M375 466v11M369.5 478h11M375 472.5v11M369.5 500.5h11M375 495v11M369.5 511.5h11M375 506v11M369.5 526.5h11M375 521v11M369.5 555.5h11M375 550v11M369.5 594.5h11M375 589v11M369.5 609.5h11M375 604v11M369.5 637.5h11M375 632v11M369.5 656.5h11M375 651v11M369.5 673.5h11M375 668v11M427 433h11M432.5 427.5v11M427 436.5h11M432.5 431v11M427 444.5h11M432.5 439v11M427 450.5h11M432.5 445v11M427 458h11M432.5 452.5v11M427 466.5h11M432.5 461v11M427 474.5h11M432.5 469v11M427 485.5h11M432.5 480v11M427 498h11M432.5 492.5v11M427 521.5h11M432.5 516v11M427 560.5h11M432.5 555v11M427 575.5h11M432.5 570v11M427 598h11M432.5 592.5v11M427 634.5h11M432.5 629v11M427 665.5h11M432.5 660v11M427 698h11M432.5 692.5v11M427 720.5h11M432.5 715v11M427 731.5h11M432.5 726v11M534 433h11M539.5 427.5v11M534 436.5h11M539.5 431v11M534 444.5h11M539.5 439v11M534 450.5h11M539.5 445v11M534 458h11M539.5 452.5v11M534 465.5h11M539.5 460v11M534 471.5h11M539.5 466v11M534 478h11M539.5 472.5v11M534 488h11M539.5 482.5v11M534 500.5h11M539.5 495v11M534 529.5h11M539.5 524v11M534 555.5h11M539.5 550v11M534 575.5h11M539.5 570v11M534 594.5h11M539.5 589v11M534 623h11M539.5 617.5v11M534 642.5h11M539.5 637v11M534 670.5h11M539.5 665v11M534 693h11M539.5 687.5v11M534 741.5h11M539.5 736v11M534 766.5h11M539.5 761v11M534 790.5h11M539.5 785v11M636.5 433h11M642 427.5v11M636.5 436.5h11M642 431v11M636.5 443h11M642 437.5v11M636.5 449.5h11M642 444v11M636.5 455.5h11M642 450v11M636.5 463h11M642 457.5v11M636.5 471.5h11M642 466v11M636.5 479.5h11M642 474v11M636.5 491.5h11M642 486v11M636.5 503h11M642 497.5v11M636.5 514.5h11M642 509v11M636.5 539.5h11M642 534v11M636.5 575.5h11M642 570v11M636.5 586.5h11M642 581v11M636.5 611.5h11M642 606v11M636.5 658h11M642 652.5v11M636.5 706.5h11M642 701v11M636.5 728h11M642 722.5v11M725.5 433h11M731 427.5v11M725.5 436.5h11M731 431v11M725.5 444.5h11M731 439v11M725.5 451.5h11M731 446v11M725.5 458h11M731 452.5v11M725.5 465.5h11M731 460v11M725.5 474.5h11M731 469v11M725.5 479.5h11M731 474v11M725.5 485.5h11M731 480v11M725.5 496.5h11M731 491v11M725.5 523h11M731 517.5v11M725.5 551.5h11M731 546v11M725.5 573h11M731 567.5v11M725.5 584.5h11M731 579v11M725.5 623h11M731 617.5v11M725.5 670.5h11M731 665v11M725.5 693h11M731 687.5v11M797.3 433h11M802.8 427.5v11M797.3 436.5h11M802.8 431v11M797.3 443h11M802.8 437.5v11M797.3 448h11M802.8 442.5v11M797.3 451.5h11M802.8 446v11M797.3 458h11M802.8 452.5v11M797.3 465.5h11M802.8 460v11M797.3 473h11M802.8 467.5v11M797.3 479.5h11M802.8 474v11M797.3 485.5h11M802.8 480v11M797.3 501.5h11M802.8 496v11M797.3 513h11M802.8 507.5v11M797.3 546.5h11M802.8 541v11M797.3 579.5h11M802.8 574v11M797.3 613h11M802.8 607.5v11M819.9 433h11M825.4 427.5v11M819.9 436.5h11M825.4 431v11M819.9 443h11M825.4 437.5v11M819.9 449.5h11M825.4 444v11M819.9 455.5h11M825.4 450v11M819.9 461.5h11M825.4 456v11M819.9 466.5h11M825.4 461v11M819.9 479.5h11M825.4 474v11M819.9 488h11M825.4 482.5v11M819.9 518h11M825.4 512.5v11M819.9 528h11M825.4 522.5v11M819.9 551.5h11M825.4 546v11M819.9 586.5h11M825.4 581v11M819.9 609.5h11M825.4 604v11" stroke="#000" stroke-width="1.15" stroke-opacity=".92" fill="none"/><text x="287" y="473.5" transform="rotate(12 287 473.5)" font-size="17.2" fill="#000" text-anchor="middle" dy=".355em">0.5</text><text x="531" y="534" transform="rotate(18 531 534)" font-size="17.2" fill="#000" text-anchor="middle" dy=".355em">0.5</text><text x="772" y="596" transform="rotate(32 772 596)" font-size="17.2" fill="#000" text-anchor="middle" dy=".355em">0.5</text><text x="166" y="457.5" transform="rotate(10 166 457.5)" font-size="17.2" fill="#000" text-anchor="middle" dy=".355em">1</text><text x="403" y="535" transform="rotate(25 403 535)" font-size="17.2" fill="#000" text-anchor="middle" dy=".355em">1</text><text x="644" y="605" transform="rotate(10 644 605)" font-size="17.2" fill="#000" text-anchor="middle" dy=".355em">1</text><text x="311" y="545" transform="rotate(12 311 545)" font-size="17.2" fill="#000" text-anchor="middle" dy=".355em">1.5</text><text x="541" y="641" transform="rotate(22 541 641)" font-size="17.2" fill="#000" text-anchor="middle" dy=".355em">1.5</text><text x="314" y="634" transform="rotate(0 314 634)" font-size="17.2" fill="#000" text-anchor="middle" dy=".355em">2</text><text x="537" y="719.5" transform="rotate(18 537 719.5)" font-size="17.2" fill="#000" text-anchor="middle" dy=".355em">2</text><polygon points="825.8,623 820,631.5 815,637.5 808,645.5 802,652.5 795,663.5 790,670.5 782,680.5 775,688.5 765,697.5 752,707.5 740,716.5 725,727.5 718,732.5 710,736.5 700,737 695,735.5 688,740.5 682,745.5 676,747.5 670,751 665,747.5 660,749.5 653,750.5 648,753.5 642,756 637,752.5 631,757.5 625,759.5 618,763.5 610,769.5 603,771.5 598,775.5 590,777.5 583,783.5 577,785.5 572,789.5 565,791.5 560,793.5 552,796.5 545,795.5 535,795.5 520,794 512,791.5 502,791.5 490,788.5 477,785.5 468,781.5 460,775.5 445,757.5 432,735.5 415,720.5 390,699.5 365,680.5 340,659.5 325,645.5 292,617.5 265,597.5 240,577.5 217.5,559.5 205,547.5 190,532.5 175,517.5 159,503 140,488.5 125,477.5 115,469.5 105,458.5 100,451.5 96.5,445.5 96.5,813.8 825.8,813.8 825.8,622.5" fill="#fff" stroke="#000" stroke-width="4.9" stroke-linejoin="round"/><polyline points="96.5,445.5 100,451.5 105,458.5 115,469.5 125,477.5 140,488.5 159,503 175,517.5 190,532.5 205,547.5 217.5,559.5 240,577.5 265,597.5 292,617.5 325,645.5 340,659.5 365,680.5 390,699.5 415,720.5 432,735.5 445,757.5 460,775.5 468,781.5 477,785.5 490,788.5 502,791.5 512,791.5 520,794 535,795.5 545,795.5 552,796.5 560,793.5 565,791.5 572,789.5 577,785.5 583,783.5 590,777.5 598,775.5 603,771.5 610,769.5 618,763.5 625,759.5 631,757.5 637,752.5 642,756 648,753.5 653,750.5 660,749.5 665,747.5 670,751 676,747.5 682,745.5 688,740.5 695,735.5 700,737 710,736.5 718,732.5 725,727.5 740,716.5 752,707.5 765,697.5 775,688.5 782,680.5 790,670.5 795,663.5 802,652.5 808,645.5 815,637.5 820,631.5 825.8,623" fill="none" stroke="#000" stroke-width="5.5" stroke-linejoin="round" stroke-linecap="butt" /><path d="M98.9 480.6h5.5M98.9 528.2h5.5M98.9 575.8h5.5M98.9 623.4h5.5M98.9 671h5.5M823.4 671h-5.5M98.9 718.6h5.5M823.4 718.6h-5.5M98.9 766.2h5.5M823.4 766.2h-5.5M99.6 811.4v-5.5M245.9 811.4v-5.5M392.2 811.4v-5.5M538.5 811.4v-5.5M684.8 811.4v-5.5" stroke="#222" stroke-width="1" fill="none"/><path d="M245.9 433v5.5M392.2 433v5.5M538.5 433v5.5M684.8 433v5.5" stroke="#223" stroke-width="1" stroke-opacity=".55" fill="none"/><text x="84.7" y="433.8" font-size="27.6" text-anchor="end" dy=".358em">0</text><text x="84.7" y="481.4" font-size="27.6" text-anchor="end" dy=".358em">100</text><text x="84.7" y="529" font-size="27.6" text-anchor="end" dy=".358em">200</text><text x="84.7" y="576.6" font-size="27.6" text-anchor="end" dy=".358em">300</text><text x="84.7" y="624.2" font-size="27.6" text-anchor="end" dy=".358em">400</text><text x="84.7" y="671.8" font-size="27.6" text-anchor="end" dy=".358em">500</text><text x="84.7" y="719.4" font-size="27.6" text-anchor="end" dy=".358em">600</text><text x="84.7" y="767" font-size="27.6" text-anchor="end" dy=".358em">700</text><text x="84.7" y="814.6" font-size="27.6" text-anchor="end" dy=".358em">800</text><text transform="translate(27.6 622.5) rotate(-90)" font-size="31.2" text-anchor="middle">Pressure (dbar)</text><rect x="840.2" y="808.44" width="36.8" height="6.36" fill="#00008f"/><rect x="840.2" y="802.48" width="36.8" height="6.36" fill="#00009f"/><rect x="840.2" y="796.53" width="36.8" height="6.36" fill="#0000af"/><rect x="840.2" y="790.57" width="36.8" height="6.36" fill="#0000bf"/><rect x="840.2" y="784.61" width="36.8" height="6.36" fill="#0000cf"/><rect x="840.2" y="778.65" width="36.8" height="6.36" fill="#0000df"/><rect x="840.2" y="772.70" width="36.8" height="6.36" fill="#0000ef"/><rect x="840.2" y="766.74" width="36.8" height="6.36" fill="#0000ff"/><rect x="840.2" y="760.78" width="36.8" height="6.36" fill="#0010ff"/><rect x="840.2" y="754.82" width="36.8" height="6.36" fill="#0020ff"/><rect x="840.2" y="748.86" width="36.8" height="6.36" fill="#0030ff"/><rect x="840.2" y="742.91" width="36.8" height="6.36" fill="#0040ff"/><rect x="840.2" y="736.95" width="36.8" height="6.36" fill="#0050ff"/><rect x="840.2" y="730.99" width="36.8" height="6.36" fill="#0060ff"/><rect x="840.2" y="725.03" width="36.8" height="6.36" fill="#0070ff"/><rect x="840.2" y="719.08" width="36.8" height="6.36" fill="#0080ff"/><rect x="840.2" y="713.12" width="36.8" height="6.36" fill="#008fff"/><rect x="840.2" y="707.16" width="36.8" height="6.36" fill="#009fff"/><rect x="840.2" y="701.20" width="36.8" height="6.36" fill="#00afff"/><rect x="840.2" y="695.24" width="36.8" height="6.36" fill="#00bfff"/><rect x="840.2" y="689.29" width="36.8" height="6.36" fill="#00cfff"/><rect x="840.2" y="683.33" width="36.8" height="6.36" fill="#00dfff"/><rect x="840.2" y="677.37" width="36.8" height="6.36" fill="#00efff"/><rect x="840.2" y="671.41" width="36.8" height="6.36" fill="#00ffff"/><rect x="840.2" y="665.45" width="36.8" height="6.36" fill="#10ffef"/><rect x="840.2" y="659.50" width="36.8" height="6.36" fill="#20ffdf"/><rect x="840.2" y="653.54" width="36.8" height="6.36" fill="#30ffcf"/><rect x="840.2" y="647.58" width="36.8" height="6.36" fill="#40ffbf"/><rect x="840.2" y="641.62" width="36.8" height="6.36" fill="#50ffaf"/><rect x="840.2" y="635.67" width="36.8" height="6.36" fill="#60ff9f"/><rect x="840.2" y="629.71" width="36.8" height="6.36" fill="#70ff8f"/><rect x="840.2" y="623.75" width="36.8" height="6.36" fill="#80ff80"/><rect x="840.2" y="617.79" width="36.8" height="6.36" fill="#8fff70"/><rect x="840.2" y="611.83" width="36.8" height="6.36" fill="#9fff60"/><rect x="840.2" y="605.88" width="36.8" height="6.36" fill="#afff50"/><rect x="840.2" y="599.92" width="36.8" height="6.36" fill="#bfff40"/><rect x="840.2" y="593.96" width="36.8" height="6.36" fill="#cfff30"/><rect x="840.2" y="588.00" width="36.8" height="6.36" fill="#dfff20"/><rect x="840.2" y="582.05" width="36.8" height="6.36" fill="#efff10"/><rect x="840.2" y="576.09" width="36.8" height="6.36" fill="#ffff00"/><rect x="840.2" y="570.13" width="36.8" height="6.36" fill="#ffef00"/><rect x="840.2" y="564.17" width="36.8" height="6.36" fill="#ffdf00"/><rect x="840.2" y="558.21" width="36.8" height="6.36" fill="#ffcf00"/><rect x="840.2" y="552.26" width="36.8" height="6.36" fill="#ffbf00"/><rect x="840.2" y="546.30" width="36.8" height="6.36" fill="#ffaf00"/><rect x="840.2" y="540.34" width="36.8" height="6.36" fill="#ff9f00"/><rect x="840.2" y="534.38" width="36.8" height="6.36" fill="#ff8f00"/><rect x="840.2" y="528.42" width="36.8" height="6.36" fill="#ff8000"/><rect x="840.2" y="522.47" width="36.8" height="6.36" fill="#ff7000"/><rect x="840.2" y="516.51" width="36.8" height="6.36" fill="#ff6000"/><rect x="840.2" y="510.55" width="36.8" height="6.36" fill="#ff5000"/><rect x="840.2" y="504.59" width="36.8" height="6.36" fill="#ff4000"/><rect x="840.2" y="498.64" width="36.8" height="6.36" fill="#ff3000"/><rect x="840.2" y="492.68" width="36.8" height="6.36" fill="#ff2000"/><rect x="840.2" y="486.72" width="36.8" height="6.36" fill="#ff1000"/><rect x="840.2" y="480.76" width="36.8" height="6.36" fill="#ff0000"/><rect x="840.2" y="474.80" width="36.8" height="6.36" fill="#ef0000"/><rect x="840.2" y="468.85" width="36.8" height="6.36" fill="#df0000"/><rect x="840.2" y="462.89" width="36.8" height="6.36" fill="#cf0000"/><rect x="840.2" y="456.93" width="36.8" height="6.36" fill="#bf0000"/><rect x="840.2" y="450.97" width="36.8" height="6.36" fill="#af0000"/><rect x="840.2" y="445.02" width="36.8" height="6.36" fill="#9f0000"/><rect x="840.2" y="439.06" width="36.8" height="6.36" fill="#8f0000"/><rect x="840.2" y="433.10" width="36.8" height="6.36" fill="#800000"/><rect x="840.2" y="433.1" width="36.8" height="381.3" fill="none" stroke="#222" stroke-width=".7"/><text x="885.3" y="814.7" font-size="25.5" dy=".355em">0</text><text x="885.3" y="728.2" font-size="25.5" dy=".355em">0.5</text><text x="885.3" y="641.8" font-size="25.5" dy=".355em">1</text><text x="885.3" y="555.3" font-size="25.5" dy=".355em">1.5</text><text x="885.3" y="468.8" font-size="25.5" dy=".355em">2</text><path d="M877 727.9h-3.5M877 641.5h-3.5M877 555h-3.5M877 468.5h-3.5" stroke="#222" stroke-width="1" fill="none"/><text transform="translate(989.4 613.7) rotate(-90)" font-size="27" text-anchor="middle" textLength="259" lengthAdjust="spacingAndGlyphs">Phosphate (<tspan font-family="'Liberation Serif', serif" font-style="italic" font-size="29">&#956;</tspan>mol/kg)</text><g clip-path="url(#cpc)"><g filter="url(#bl)"><rect x="84.2" y="837.8" width="6.6" height="23.3" fill="url(#c0)"/><rect x="90.2" y="837.8" width="6.6" height="23.3" fill="url(#c1)"/><rect x="96.2" y="837.8" width="6.6" height="25.9" fill="url(#c2)"/><rect x="102.2" y="837.8" width="6.6" height="34.8" fill="url(#c3)"/><rect x="108.2" y="837.8" width="6.6" height="41.6" fill="url(#c4)"/><rect x="114.2" y="837.8" width="6.6" height="47.7" fill="url(#c5)"/><rect x="120.2" y="837.8" width="6.6" height="52.5" fill="url(#c6)"/><rect x="126.2" y="837.8" width="6.6" height="57.1" fill="url(#c7)"/><rect x="132.2" y="837.8" width="6.6" height="61.6" fill="url(#c8)"/><rect x="138.2" y="837.8" width="6.6" height="66" fill="url(#c9)"/><rect x="144.2" y="837.8" width="6.6" height="70.6" fill="url(#c10)"/><rect x="150.2" y="837.8" width="6.6" height="75.2" fill="url(#c11)"/><rect x="156.2" y="837.8" width="6.6" height="79.9" fill="url(#c12)"/><rect x="162.2" y="837.8" width="6.6" height="85.3" fill="url(#c13)"/><rect x="168.2" y="837.8" width="6.6" height="90.8" fill="url(#c14)"/><rect x="174.2" y="837.8" width="6.6" height="96.5" fill="url(#c15)"/><rect x="180.2" y="837.8" width="6.6" height="102.5" fill="url(#c16)"/><rect x="186.2" y="837.8" width="6.6" height="108.5" fill="url(#c17)"/><rect x="192.2" y="837.8" width="6.6" height="114.6" fill="url(#c18)"/><rect x="198.2" y="837.8" width="6.6" height="120.6" fill="url(#c19)"/><rect x="204.2" y="837.8" width="6.6" height="126.6" fill="url(#c20)"/><rect x="210.2" y="837.8" width="6.6" height="132.4" fill="url(#c21)"/><rect x="216.2" y="837.8" width="6.6" height="137.9" fill="url(#c22)"/><rect x="222.2" y="837.8" width="6.6" height="142.7" fill="url(#c23)"/><rect x="228.2" y="837.8" width="6.6" height="147.6" fill="url(#c24)"/><rect x="234.2" y="837.8" width="6.6" height="152.4" fill="url(#c25)"/><rect x="240.2" y="837.8" width="6.6" height="157.2" fill="url(#c26)"/><rect x="246.2" y="837.8" width="6.6" height="162.1" fill="url(#c27)"/><rect x="252.2" y="837.8" width="6.6" height="166.9" fill="url(#c28)"/><rect x="258.2" y="837.8" width="6.6" height="171.7" fill="url(#c29)"/><rect x="264.2" y="837.8" width="6.6" height="176.4" fill="url(#c30)"/><rect x="270.2" y="837.8" width="6.6" height="180.9" fill="url(#c31)"/><rect x="276.2" y="837.8" width="6.6" height="185.4" fill="url(#c32)"/><rect x="282.2" y="837.8" width="6.6" height="189.8" fill="url(#c33)"/><rect x="288.2" y="837.8" width="6.6" height="194.3" fill="url(#c34)"/><rect x="294.2" y="837.8" width="6.6" height="199.4" fill="url(#c35)"/><rect x="300.2" y="837.8" width="6.6" height="204.5" fill="url(#c36)"/><rect x="306.2" y="837.8" width="6.6" height="209.7" fill="url(#c37)"/><rect x="312.2" y="837.8" width="6.6" height="214.8" fill="url(#c38)"/><rect x="318.2" y="837.8" width="6.6" height="219.9" fill="url(#c39)"/><rect x="324.2" y="837.8" width="6.6" height="225.3" fill="url(#c40)"/><rect x="330.2" y="837.8" width="6.6" height="231" fill="url(#c41)"/><rect x="336.2" y="837.8" width="6.6" height="236.6" fill="url(#c42)"/><rect x="342.2" y="837.8" width="6.6" height="241.6" fill="url(#c43)"/><rect x="348.2" y="837.8" width="6.6" height="246.7" fill="url(#c44)"/><rect x="354.2" y="837.8" width="6.6" height="251.8" fill="url(#c45)"/><rect x="360.2" y="837.8" width="6.6" height="256.9" fill="url(#c46)"/><rect x="366.2" y="837.8" width="6.6" height="261.5" fill="url(#c47)"/><rect x="372.2" y="837.8" width="6.6" height="266.1" fill="url(#c48)"/><rect x="378.2" y="837.8" width="6.6" height="270.7" fill="url(#c49)"/><rect x="384.2" y="837.8" width="6.6" height="275.3" fill="url(#c50)"/><rect x="390.2" y="837.8" width="6.6" height="280.3" fill="url(#c51)"/><rect x="396.2" y="837.8" width="6.6" height="285.3" fill="url(#c52)"/><rect x="402.2" y="837.8" width="6.6" height="290.4" fill="url(#c53)"/><rect x="408.2" y="837.8" width="6.6" height="295.5" fill="url(#c54)"/><rect x="414.2" y="837.8" width="6.6" height="300.7" fill="url(#c55)"/><rect x="420.2" y="837.8" width="6.6" height="306" fill="url(#c56)"/><rect x="426.2" y="837.8" width="6.6" height="311.4" fill="url(#c57)"/><rect x="432.2" y="837.8" width="6.6" height="320.7" fill="url(#c58)"/><rect x="438.2" y="837.8" width="6.6" height="330.9" fill="url(#c59)"/><rect x="444.2" y="837.8" width="6.6" height="339.2" fill="url(#c60)"/><rect x="450.2" y="837.8" width="6.6" height="346.4" fill="url(#c61)"/><rect x="456.2" y="837.8" width="6.6" height="353.2" fill="url(#c62)"/><rect x="462.2" y="837.8" width="6.6" height="357.7" fill="url(#c63)"/><rect x="468.2" y="837.8" width="6.6" height="360.7" fill="url(#c64)"/><rect x="474.2" y="837.8" width="6.6" height="362.9" fill="url(#c65)"/><rect x="480.2" y="837.8" width="6.6" height="364.3" fill="url(#c66)"/><rect x="486.2" y="837.8" width="6.6" height="365.7" fill="url(#c67)"/><rect x="492.2" y="837.8" width="6.6" height="367.2" fill="url(#c68)"/><rect x="498.2" y="837.8" width="6.6" height="368.4" fill="url(#c69)"/><rect x="504.2" y="837.8" width="6.6" height="368.4" fill="url(#c70)"/><rect x="510.2" y="837.8" width="6.6" height="369.5" fill="url(#c71)"/><rect x="516.2" y="837.8" width="6.6" height="371" fill="url(#c72)"/><rect x="522.2" y="837.8" width="6.6" height="371.7" fill="url(#c73)"/><rect x="528.2" y="837.8" width="6.6" height="372.3" fill="url(#c74)"/><rect x="534.2" y="837.8" width="6.6" height="372.4" fill="url(#c75)"/><rect x="540.2" y="837.8" width="6.6" height="372.5" fill="url(#c76)"/><rect x="546.2" y="837.8" width="6.6" height="373.4" fill="url(#c77)"/><rect x="552.2" y="837.8" width="6.6" height="371.3" fill="url(#c78)"/><rect x="558.2" y="837.8" width="6.6" height="368.9" fill="url(#c79)"/><rect x="564.2" y="837.8" width="6.6" height="367" fill="url(#c80)"/><rect x="570.2" y="837.8" width="6.6" height="363.3" fill="url(#c81)"/><rect x="576.2" y="837.8" width="6.6" height="360.8" fill="url(#c82)"/><rect x="582.2" y="837.8" width="6.6" height="356.2" fill="url(#c83)"/><rect x="588.2" y="837.8" width="6.6" height="353.4" fill="url(#c84)"/><rect x="594.2" y="837.8" width="6.6" height="350.8" fill="url(#c85)"/><rect x="600.2" y="837.8" width="6.6" height="347.5" fill="url(#c86)"/><rect x="606.2" y="837.8" width="6.6" height="344.8" fill="url(#c87)"/><rect x="612.2" y="837.8" width="6.6" height="340.3" fill="url(#c88)"/><rect x="618.2" y="837.8" width="6.6" height="336.9" fill="url(#c89)"/><rect x="624.2" y="837.8" width="6.6" height="334.7" fill="url(#c90)"/><rect x="630.2" y="837.8" width="6.6" height="330" fill="url(#c91)"/><rect x="636.2" y="837.8" width="6.6" height="332.8" fill="url(#c92)"/><rect x="642.2" y="837.8" width="6.6" height="330.2" fill="url(#c93)"/><rect x="648.2" y="837.8" width="6.6" height="327.2" fill="url(#c94)"/><rect x="654.2" y="837.8" width="6.6" height="326.2" fill="url(#c95)"/><rect x="660.2" y="837.8" width="6.6" height="325.4" fill="url(#c96)"/><rect x="666.2" y="837.8" width="6.6" height="326.4" fill="url(#c97)"/><rect x="672.2" y="837.8" width="6.6" height="323.5" fill="url(#c98)"/><rect x="678.2" y="837.8" width="6.6" height="320.2" fill="url(#c99)"/><rect x="684.2" y="837.8" width="6.6" height="315.5" fill="url(#c100)"/><rect x="690.2" y="837.8" width="6.6" height="312.9" fill="url(#c101)"/><rect x="696.2" y="837.8" width="6.6" height="313.8" fill="url(#c102)"/><rect x="702.2" y="837.8" width="6.6" height="313.5" fill="url(#c103)"/><rect x="708.2" y="837.8" width="6.6" height="311" fill="url(#c104)"/><rect x="714.2" y="837.8" width="6.6" height="307.3" fill="url(#c105)"/><rect x="720.2" y="837.8" width="6.6" height="303" fill="url(#c106)"/><rect x="726.2" y="837.8" width="6.6" height="298.6" fill="url(#c107)"/><rect x="732.2" y="837.8" width="6.6" height="294.1" fill="url(#c108)"/><rect x="738.2" y="837.8" width="6.6" height="289.6" fill="url(#c109)"/><rect x="744.2" y="837.8" width="6.6" height="285.1" fill="url(#c110)"/><rect x="750.2" y="837.8" width="6.6" height="280.5" fill="url(#c111)"/><rect x="756.2" y="837.8" width="6.6" height="275.8" fill="url(#c112)"/><rect x="762.2" y="837.8" width="6.6" height="270.6" fill="url(#c113)"/><rect x="768.2" y="837.8" width="6.6" height="265.1" fill="url(#c114)"/><rect x="774.2" y="837.8" width="6.6" height="258.2" fill="url(#c115)"/><rect x="780.2" y="837.8" width="6.6" height="250.7" fill="url(#c116)"/><rect x="786.2" y="837.8" width="6.6" height="242.7" fill="url(#c117)"/><rect x="792.2" y="837.8" width="6.6" height="233.5" fill="url(#c118)"/><rect x="798.2" y="837.8" width="6.6" height="225.4" fill="url(#c119)"/><rect x="804.2" y="837.8" width="6.6" height="218.4" fill="url(#c120)"/><rect x="810.2" y="837.8" width="6.6" height="211.3" fill="url(#c121)"/><rect x="816.2" y="837.8" width="6.6" height="203.1" fill="url(#c122)"/><rect x="822.2" y="837.8" width="6.6" height="200.5" fill="url(#c123)"/><rect x="828.2" y="837.8" width="6.6" height="200.5" fill="url(#c124)"/></g></g><polyline points="98,848.5 115,849.5 130,851.5 138,853" fill="none" stroke="#000" stroke-width="3.7" stroke-linejoin="round" stroke-linecap="butt" /><polyline points="157,862.5 190,865 215,870 252,874 290,892.5 340,912 372,931" fill="none" stroke="#000" stroke-width="3.7" stroke-linejoin="round" stroke-linecap="butt" /><polyline points="394,941 415,952.5 430,966 490,975 537,991 590,999 610,1002.5" fill="none" stroke="#000" stroke-width="3.7" stroke-linejoin="round" stroke-linecap="butt" /><polyline points="634,1007.5 690,1021 726,1030 765,1048 790,1067.5 795,1073" fill="none" stroke="#000" stroke-width="3.7" stroke-linejoin="round" stroke-linecap="butt" /><polyline points="98,849.5 115,852.5 130,855.6" fill="none" stroke="#000" stroke-width="3.7" stroke-linejoin="round" stroke-linecap="butt" /><polyline points="150,867.5 160,876 190,877.5 207,885 217,896 245,907.5 270,917.5 290,937.5 340,959 347,962.5" fill="none" stroke="#000" stroke-width="3.7" stroke-linejoin="round" stroke-linecap="butt" /><polyline points="369,977.5 375,982.5 430,996 490,1019 537,1037.5 582,1050" fill="none" stroke="#000" stroke-width="3.7" stroke-linejoin="round" stroke-linecap="butt" /><polyline points="605,1060 637,1070 690,1077.5 726,1079 750,1087.5 765,1097" fill="none" stroke="#000" stroke-width="3.7" stroke-linejoin="round" stroke-linecap="butt" /><polyline points="98,850.5 105,852.5 117.4,856.8 129.4,864.6 133,873 142.6,881.4 159.4,886.2 187,892 197.8,903 205,911 217,920 245,930 265,947.5 292,972.5" fill="none" stroke="#000" stroke-width="3.7" stroke-linejoin="round" stroke-linecap="butt" /><polyline points="322,987.5 340,996 355,1015 372,1025 430,1039 490,1062.5 520,1075" fill="none" stroke="#000" stroke-width="3.7" stroke-linejoin="round" stroke-linecap="butt" /><polyline points="552,1085 602,1099 637,1107.5 690,1100 727,1096 736,1118" fill="none" stroke="#000" stroke-width="3.7" stroke-linejoin="round" stroke-linecap="butt" /><polyline points="140,895.5 162,894 172,905 181,922.5" fill="none" stroke="#000" stroke-width="3.7" stroke-linejoin="round" stroke-linecap="butt" /><polyline points="210,934 220,937.5 240,952.5 250,972.5 270,987.5 290,995 307,1005 320,1020 340,1035 352,1045 377,1056" fill="none" stroke="#000" stroke-width="3.7" stroke-linejoin="round" stroke-linecap="butt" /><polyline points="410,1074 430,1089 490,1110 540,1127.5 572,1135 597,1145 612,1155 622,1159" fill="none" stroke="#000" stroke-width="3.7" stroke-linejoin="round" stroke-linecap="butt" /><polyline points="367,1086 372,1084 379,1088 381,1098" fill="none" stroke="#000" stroke-width="3.7" stroke-linejoin="round" stroke-linecap="butt" /><polyline points="425,1136 431,1133 438,1138 441,1150" fill="none" stroke="#000" stroke-width="3.7" stroke-linejoin="round" stroke-linecap="butt" /><path d="M92 839.7h11M97.5 834.2v11M92 843.7h11M97.5 838.2v11M92 847.2h11M97.5 841.7v11M92 850.2h11M97.5 844.7v11M105.4 838.7h11M110.9 833.2v11M105.4 862.2h11M110.9 856.7v11M153.1 838.7h11M158.6 833.2v11M153.1 843.7h11M158.6 838.2v11M153.1 848.7h11M158.6 843.2v11M153.1 853.7h11M158.6 848.2v11M153.1 857.2h11M158.6 851.7v11M153.1 862.2h11M158.6 856.7v11M153.1 868.7h11M158.6 863.2v11M153.1 877.2h11M158.6 871.7v11M153.1 892.2h11M158.6 886.7v11M153.1 898.7h11M158.6 893.2v11M153.1 905.2h11M158.6 899.7v11M210.7 838.7h11M216.2 833.2v11M210.7 843.7h11M216.2 838.2v11M210.7 848.7h11M216.2 843.2v11M210.7 853.7h11M216.2 848.2v11M210.7 858.7h11M216.2 853.2v11M210.7 863.7h11M216.2 858.2v11M210.7 872.2h11M216.2 866.7v11M210.7 877.2h11M216.2 871.7v11M210.7 882.2h11M216.2 876.7v11M210.7 887.2h11M216.2 881.7v11M210.7 892.2h11M216.2 886.7v11M210.7 907.2h11M216.2 901.7v11M210.7 922.2h11M216.2 916.7v11M210.7 937.2h11M216.2 931.7v11M210.7 952.2h11M216.2 946.7v11M210.7 961.2h11M216.2 955.7v11M284.1 838.7h11M289.6 833.2v11M284.1 843.7h11M289.6 838.2v11M284.1 848.7h11M289.6 843.2v11M284.1 853.7h11M289.6 848.2v11M284.1 858.7h11M289.6 853.2v11M284.1 863.7h11M289.6 858.2v11M284.1 870.2h11M289.6 864.7v11M284.1 877.2h11M289.6 871.7v11M284.1 886.2h11M289.6 880.7v11M284.1 892.2h11M289.6 886.7v11M284.1 918.7h11M289.6 913.2v11M284.1 933.7h11M289.6 928.2v11M284.1 947.2h11M289.6 941.7v11M284.1 980.2h11M289.6 974.7v11M284.1 1003.7h11M289.6 998.2v11M284.1 1021.2h11M289.6 1015.7v11M367.6 838.7h11M373.1 833.2v11M367.6 842.2h11M373.1 836.7v11M367.6 850.2h11M373.1 844.7v11M367.6 856.2h11M373.1 850.7v11M367.6 863.7h11M373.1 858.2v11M367.6 871.2h11M373.1 865.7v11M367.6 877.2h11M373.1 871.7v11M367.6 883.7h11M373.1 878.2v11M367.6 906.2h11M373.1 900.7v11M367.6 917.2h11M373.1 911.7v11M367.6 932.2h11M373.1 926.7v11M367.6 961.2h11M373.1 955.7v11M367.6 1000.2h11M373.1 994.7v11M367.6 1015.2h11M373.1 1009.7v11M367.6 1043.2h11M373.1 1037.7v11M367.6 1062.2h11M373.1 1056.7v11M367.6 1079.2h11M373.1 1073.7v11M424.6 838.7h11M430.1 833.2v11M424.6 842.2h11M430.1 836.7v11M424.6 850.2h11M430.1 844.7v11M424.6 856.2h11M430.1 850.7v11M424.6 863.7h11M430.1 858.2v11M424.6 872.2h11M430.1 866.7v11M424.6 880.2h11M430.1 874.7v11M424.6 891.2h11M430.1 885.7v11M424.6 903.7h11M430.1 898.2v11M424.6 927.2h11M430.1 921.7v11M424.6 966.2h11M430.1 960.7v11M424.6 981.2h11M430.1 975.7v11M424.6 1003.7h11M430.1 998.2v11M424.6 1040.2h11M430.1 1034.7v11M424.6 1071.2h11M430.1 1065.7v11M424.6 1103.7h11M430.1 1098.2v11M424.6 1126.2h11M430.1 1120.7v11M424.6 1137.2h11M430.1 1131.7v11M530.9 838.7h11M536.4 833.2v11M530.9 842.2h11M536.4 836.7v11M530.9 850.2h11M536.4 844.7v11M530.9 856.2h11M536.4 850.7v11M530.9 863.7h11M536.4 858.2v11M530.9 871.2h11M536.4 865.7v11M530.9 877.2h11M536.4 871.7v11M530.9 883.7h11M536.4 878.2v11M530.9 893.7h11M536.4 888.2v11M530.9 906.2h11M536.4 900.7v11M530.9 935.2h11M536.4 929.7v11M530.9 961.2h11M536.4 955.7v11M530.9 981.2h11M536.4 975.7v11M530.9 1000.2h11M536.4 994.7v11M530.9 1028.7h11M536.4 1023.2v11M530.9 1048.2h11M536.4 1042.7v11M530.9 1076.2h11M536.4 1070.7v11M530.9 1098.7h11M536.4 1093.2v11M530.9 1147.2h11M536.4 1141.7v11M530.9 1172.2h11M536.4 1166.7v11M530.9 1196.2h11M536.4 1190.7v11M632.7 838.7h11M638.2 833.2v11M632.7 842.2h11M638.2 836.7v11M632.7 848.7h11M638.2 843.2v11M632.7 855.2h11M638.2 849.7v11M632.7 861.2h11M638.2 855.7v11M632.7 868.7h11M638.2 863.2v11M632.7 877.2h11M638.2 871.7v11M632.7 885.2h11M638.2 879.7v11M632.7 897.2h11M638.2 891.7v11M632.7 908.7h11M638.2 903.2v11M632.7 920.2h11M638.2 914.7v11M632.7 945.2h11M638.2 939.7v11M632.7 981.2h11M638.2 975.7v11M632.7 992.2h11M638.2 986.7v11M632.7 1017.2h11M638.2 1011.7v11M632.7 1063.7h11M638.2 1058.2v11M632.7 1112.2h11M638.2 1106.7v11M632.7 1133.7h11M638.2 1128.2v11M721.1 838.7h11M726.6 833.2v11M721.1 842.2h11M726.6 836.7v11M721.1 850.2h11M726.6 844.7v11M721.1 857.2h11M726.6 851.7v11M721.1 863.7h11M726.6 858.2v11M721.1 871.2h11M726.6 865.7v11M721.1 880.2h11M726.6 874.7v11M721.1 885.2h11M726.6 879.7v11M721.1 891.2h11M726.6 885.7v11M721.1 902.2h11M726.6 896.7v11M721.1 928.7h11M726.6 923.2v11M721.1 957.2h11M726.6 951.7v11M721.1 978.7h11M726.6 973.2v11M721.1 990.2h11M726.6 984.7v11M721.1 1028.7h11M726.6 1023.2v11M721.1 1076.2h11M726.6 1070.7v11M721.1 1098.7h11M726.6 1093.2v11M792.4 838.7h11M797.9 833.2v11M792.4 842.2h11M797.9 836.7v11M792.4 848.7h11M797.9 843.2v11M792.4 853.7h11M797.9 848.2v11M792.4 857.2h11M797.9 851.7v11M792.4 863.7h11M797.9 858.2v11M792.4 871.2h11M797.9 865.7v11M792.4 878.7h11M797.9 873.2v11M792.4 885.2h11M797.9 879.7v11M792.4 891.2h11M797.9 885.7v11M792.4 907.2h11M797.9 901.7v11M792.4 918.7h11M797.9 913.2v11M792.4 952.2h11M797.9 946.7v11M792.4 985.2h11M797.9 979.7v11M792.4 1018.7h11M797.9 1013.2v11M814.8 838.7h11M820.3 833.2v11M814.8 842.2h11M820.3 836.7v11M814.8 848.7h11M820.3 843.2v11M814.8 855.2h11M820.3 849.7v11M814.8 861.2h11M820.3 855.7v11M814.8 867.2h11M820.3 861.7v11M814.8 872.2h11M820.3 866.7v11M814.8 885.2h11M820.3 879.7v11M814.8 893.7h11M820.3 888.2v11M814.8 923.7h11M820.3 918.2v11M814.8 933.7h11M820.3 928.2v11M814.8 957.2h11M820.3 951.7v11M814.8 992.2h11M820.3 986.7v11M814.8 1015.2h11M820.3 1009.7v11" stroke="#000" stroke-width="1.15" stroke-opacity=".92" fill="none"/><text x="148" y="857" transform="rotate(30 148 857)" font-size="17.2" fill="#000" text-anchor="middle" dy=".355em">4</text><text x="383" y="937.5" transform="rotate(25 383 937.5)" font-size="17.2" fill="#000" text-anchor="middle" dy=".355em">4</text><text x="622" y="1005" transform="rotate(8 622 1005)" font-size="17.2" fill="#000" text-anchor="middle" dy=".355em">4</text><text x="140" y="862" transform="rotate(35 140 862)" font-size="17.2" fill="#000" text-anchor="middle" dy=".355em">8</text><text x="358" y="971" transform="rotate(28 358 971)" font-size="17.2" fill="#000" text-anchor="middle" dy=".355em">8</text><text x="594" y="1056" transform="rotate(14 594 1056)" font-size="17.2" fill="#000" text-anchor="middle" dy=".355em">8</text><text x="110.5" y="860" transform="rotate(42 110.5 860)" font-size="17.2" fill="#000" text-anchor="middle" dy=".355em">12</text><text x="308" y="982" transform="rotate(22 308 982)" font-size="17.2" fill="#000" text-anchor="middle" dy=".355em">12</text><text x="536" y="1080" transform="rotate(16 536 1080)" font-size="17.2" fill="#000" text-anchor="middle" dy=".355em">12</text><text x="195" y="930" transform="rotate(15 195 930)" font-size="17.2" fill="#000" text-anchor="middle" dy=".355em">16</text><text x="395" y="1066" transform="rotate(20 395 1066)" font-size="17.2" fill="#000" text-anchor="middle" dy=".355em">16</text><polygon points="820.7,1028.7 814.9,1037.2 810,1043.2 803,1051.2 797.1,1058.2 790.1,1069.2 785.1,1076.2 777.2,1086.2 770.3,1094.2 760.3,1103.2 747.4,1113.2 735.5,1122.2 720.6,1133.2 713.6,1138.2 705.7,1142.2 695.8,1142.7 690.8,1141.2 683.9,1146.2 677.9,1151.2 671.9,1153.2 666,1156.7 661,1153.2 656.1,1155.2 649.1,1156.2 644.1,1159.2 638.2,1161.7 633.2,1158.2 627.3,1163.2 621.3,1165.2 614.3,1169.2 606.4,1175.2 599.5,1177.2 594.5,1181.2 586.5,1183.2 579.6,1189.2 573.6,1191.2 568.7,1195.2 561.7,1197.2 556.8,1199.2 548.8,1202.2 541.9,1201.2 531.9,1201.2 517,1199.7 509.1,1197.2 499.2,1197.2 487.2,1194.2 474.3,1191.2 465.4,1187.2 457.5,1181.2 442.6,1163.2 429.7,1141.2 412.8,1126.2 387.9,1105.2 363.1,1086.2 338.3,1065.2 323.4,1051.2 290.6,1023.2 263.8,1003.2 239,983.2 216.7,965.2 204.2,953.2 189.3,938.2 174.5,923.2 158.6,908.7 139.7,894.2 124.8,883.2 114.9,875.2 104.9,864.2 100,857.2 96.5,851.2 96.5,1219.5 820.8,1219.5 820.8,1028.2" fill="#fff" stroke="#000" stroke-width="4.9" stroke-linejoin="round"/><polyline points="96.5,851.2 100,857.2 104.9,864.2 114.9,875.2 124.8,883.2 139.7,894.2 158.6,908.7 174.5,923.2 189.3,938.2 204.2,953.2 216.7,965.2 239,983.2 263.8,1003.2 290.6,1023.2 323.4,1051.2 338.3,1065.2 363.1,1086.2 387.9,1105.2 412.8,1126.2 429.7,1141.2 442.6,1163.2 457.5,1181.2 465.4,1187.2 474.3,1191.2 487.2,1194.2 499.2,1197.2 509.1,1197.2 517,1199.7 531.9,1201.2 541.9,1201.2 548.8,1202.2 556.8,1199.2 561.7,1197.2 568.7,1195.2 573.6,1191.2 579.6,1189.2 586.5,1183.2 594.5,1181.2 599.5,1177.2 606.4,1175.2 614.3,1169.2 621.3,1165.2 627.3,1163.2 633.2,1158.2 638.2,1161.7 644.1,1159.2 649.1,1156.2 656.1,1155.2 661,1153.2 666,1156.7 671.9,1153.2 677.9,1151.2 683.9,1146.2 690.8,1141.2 695.8,1142.7 705.7,1142.2 713.6,1138.2 720.6,1133.2 735.5,1122.2 747.4,1113.2 760.3,1103.2 770.3,1094.2 777.2,1086.2 785.1,1076.2 790.1,1069.2 797.1,1058.2 803,1051.2 810,1043.2 814.9,1037.2 820.7,1028.7" fill="none" stroke="#000" stroke-width="5.5" stroke-linejoin="round" stroke-linecap="butt" /><path d="M98.9 886.4h5.5M98.9 934h5.5M98.9 981.6h5.5M98.9 1029.2h5.5M98.9 1076.7h5.5M818.4 1076.7h-5.5M98.9 1124.3h5.5M818.4 1124.3h-5.5M98.9 1171.9h5.5M818.4 1171.9h-5.5M99.6 1217.1v-5.5M244.9 1217.1v-5.5M390.1 1217.1v-5.5M535.4 1217.1v-5.5M680.7 1217.1v-5.5" stroke="#222" stroke-width="1" fill="none"/><path d="M244.9 838.8v5.5M390.1 838.8v5.5M535.4 838.8v5.5M680.7 838.8v5.5" stroke="#223" stroke-width="1" stroke-opacity=".55" fill="none"/><text x="84.7" y="839.6" font-size="27.6" text-anchor="end" dy=".358em">0</text><text x="84.7" y="887.2" font-size="27.6" text-anchor="end" dy=".358em">100</text><text x="84.7" y="934.8" font-size="27.6" text-anchor="end" dy=".358em">200</text><text x="84.7" y="982.4" font-size="27.6" text-anchor="end" dy=".358em">300</text><text x="84.7" y="1030" font-size="27.6" text-anchor="end" dy=".358em">400</text><text x="84.7" y="1077.5" font-size="27.6" text-anchor="end" dy=".358em">500</text><text x="84.7" y="1125.1" font-size="27.6" text-anchor="end" dy=".358em">600</text><text x="84.7" y="1172.7" font-size="27.6" text-anchor="end" dy=".358em">700</text><text x="84.7" y="1220.3" font-size="27.6" text-anchor="end" dy=".358em">800</text><text transform="translate(27.6 1028.2) rotate(-90)" font-size="31.2" text-anchor="middle">Pressure (dbar)</text><rect x="840.2" y="1212.78" width="36.8" height="6.32" fill="#00008f"/><rect x="840.2" y="1206.87" width="36.8" height="6.32" fill="#00009f"/><rect x="840.2" y="1200.95" width="36.8" height="6.32" fill="#0000af"/><rect x="840.2" y="1195.03" width="36.8" height="6.32" fill="#0000bf"/><rect x="840.2" y="1189.11" width="36.8" height="6.32" fill="#0000cf"/><rect x="840.2" y="1183.20" width="36.8" height="6.32" fill="#0000df"/><rect x="840.2" y="1177.28" width="36.8" height="6.32" fill="#0000ef"/><rect x="840.2" y="1171.36" width="36.8" height="6.32" fill="#0000ff"/><rect x="840.2" y="1165.45" width="36.8" height="6.32" fill="#0010ff"/><rect x="840.2" y="1159.53" width="36.8" height="6.32" fill="#0020ff"/><rect x="840.2" y="1153.61" width="36.8" height="6.32" fill="#0030ff"/><rect x="840.2" y="1147.69" width="36.8" height="6.32" fill="#0040ff"/><rect x="840.2" y="1141.78" width="36.8" height="6.32" fill="#0050ff"/><rect x="840.2" y="1135.86" width="36.8" height="6.32" fill="#0060ff"/><rect x="840.2" y="1129.94" width="36.8" height="6.32" fill="#0070ff"/><rect x="840.2" y="1124.03" width="36.8" height="6.32" fill="#0080ff"/><rect x="840.2" y="1118.11" width="36.8" height="6.32" fill="#008fff"/><rect x="840.2" y="1112.19" width="36.8" height="6.32" fill="#009fff"/><rect x="840.2" y="1106.27" width="36.8" height="6.32" fill="#00afff"/><rect x="840.2" y="1100.36" width="36.8" height="6.32" fill="#00bfff"/><rect x="840.2" y="1094.44" width="36.8" height="6.32" fill="#00cfff"/><rect x="840.2" y="1088.52" width="36.8" height="6.32" fill="#00dfff"/><rect x="840.2" y="1082.60" width="36.8" height="6.32" fill="#00efff"/><rect x="840.2" y="1076.69" width="36.8" height="6.32" fill="#00ffff"/><rect x="840.2" y="1070.77" width="36.8" height="6.32" fill="#10ffef"/><rect x="840.2" y="1064.85" width="36.8" height="6.32" fill="#20ffdf"/><rect x="840.2" y="1058.94" width="36.8" height="6.32" fill="#30ffcf"/><rect x="840.2" y="1053.02" width="36.8" height="6.32" fill="#40ffbf"/><rect x="840.2" y="1047.10" width="36.8" height="6.32" fill="#50ffaf"/><rect x="840.2" y="1041.18" width="36.8" height="6.32" fill="#60ff9f"/><rect x="840.2" y="1035.27" width="36.8" height="6.32" fill="#70ff8f"/><rect x="840.2" y="1029.35" width="36.8" height="6.32" fill="#80ff80"/><rect x="840.2" y="1023.43" width="36.8" height="6.32" fill="#8fff70"/><rect x="840.2" y="1017.52" width="36.8" height="6.32" fill="#9fff60"/><rect x="840.2" y="1011.60" width="36.8" height="6.32" fill="#afff50"/><rect x="840.2" y="1005.68" width="36.8" height="6.32" fill="#bfff40"/><rect x="840.2" y="999.76" width="36.8" height="6.32" fill="#cfff30"/><rect x="840.2" y="993.85" width="36.8" height="6.32" fill="#dfff20"/><rect x="840.2" y="987.93" width="36.8" height="6.32" fill="#efff10"/><rect x="840.2" y="982.01" width="36.8" height="6.32" fill="#ffff00"/><rect x="840.2" y="976.10" width="36.8" height="6.32" fill="#ffef00"/><rect x="840.2" y="970.18" width="36.8" height="6.32" fill="#ffdf00"/><rect x="840.2" y="964.26" width="36.8" height="6.32" fill="#ffcf00"/><rect x="840.2" y="958.34" width="36.8" height="6.32" fill="#ffbf00"/><rect x="840.2" y="952.43" width="36.8" height="6.32" fill="#ffaf00"/><rect x="840.2" y="946.51" width="36.8" height="6.32" fill="#ff9f00"/><rect x="840.2" y="940.59" width="36.8" height="6.32" fill="#ff8f00"/><rect x="840.2" y="934.67" width="36.8" height="6.32" fill="#ff8000"/><rect x="840.2" y="928.76" width="36.8" height="6.32" fill="#ff7000"/><rect x="840.2" y="922.84" width="36.8" height="6.32" fill="#ff6000"/><rect x="840.2" y="916.92" width="36.8" height="6.32" fill="#ff5000"/><rect x="840.2" y="911.01" width="36.8" height="6.32" fill="#ff4000"/><rect x="840.2" y="905.09" width="36.8" height="6.32" fill="#ff3000"/><rect x="840.2" y="899.17" width="36.8" height="6.32" fill="#ff2000"/><rect x="840.2" y="893.25" width="36.8" height="6.32" fill="#ff1000"/><rect x="840.2" y="887.34" width="36.8" height="6.32" fill="#ff0000"/><rect x="840.2" y="881.42" width="36.8" height="6.32" fill="#ef0000"/><rect x="840.2" y="875.50" width="36.8" height="6.32" fill="#df0000"/><rect x="840.2" y="869.59" width="36.8" height="6.32" fill="#cf0000"/><rect x="840.2" y="863.67" width="36.8" height="6.32" fill="#bf0000"/><rect x="840.2" y="857.75" width="36.8" height="6.32" fill="#af0000"/><rect x="840.2" y="851.83" width="36.8" height="6.32" fill="#9f0000"/><rect x="840.2" y="845.92" width="36.8" height="6.32" fill="#8f0000"/><rect x="840.2" y="840.00" width="36.8" height="6.32" fill="#800000"/><rect x="840.2" y="840" width="36.8" height="378.7" fill="none" stroke="#222" stroke-width=".7"/><text x="885.3" y="1219" font-size="25.5" dy=".355em">0</text><text x="885.3" y="1124.3" font-size="25.5" dy=".355em">5</text><text x="885.3" y="1029.6" font-size="25.5" dy=".355em">10</text><text x="885.3" y="935" font-size="25.5" dy=".355em">15</text><text x="885.3" y="840.3" font-size="25.5" dy=".355em">20</text><path d="M877 1124h-3.5M877 1029.3h-3.5M877 934.7h-3.5" stroke="#222" stroke-width="1" fill="none"/><text transform="translate(983.2 1017.2) rotate(-90)" font-size="27" text-anchor="middle" textLength="215.5" lengthAdjust="spacingAndGlyphs">Silicate (<tspan font-family="'Liberation Serif', serif" font-style="italic" font-size="29">&#956;</tspan>mol/kg)</text><g font-weight="bold" font-size="19.6"><text x="117.5" y="369" textLength="90.5" lengthAdjust="spacingAndGlyphs">a. Nitrate</text><text x="117.6" y="774.6" textLength="130.4" lengthAdjust="spacingAndGlyphs">b. Phosphate</text><text x="117" y="1179.2" textLength="95.5" lengthAdjust="spacingAndGlyphs">c. Silicate</text></g><text x="99.4" y="16.6" font-size="17.4" text-anchor="middle">22</text><text x="163.4" y="16.6" font-size="17.4" text-anchor="middle">24</text><text x="295.4" y="16.6" font-size="17.4" text-anchor="middle">26</text><text x="437.6" y="16.6" font-size="17.4" text-anchor="middle">28</text><text x="645.4" y="16.6" font-size="17.4" text-anchor="middle">30</text><text x="807.4" y="16.6" font-size="17.4" text-anchor="middle">32</text><text x="97.5" y="1262" font-size="27" text-anchor="middle">80<tspan font-size="21" dy="-12.6">o</tspan><tspan dy="12.6">W</tspan></text><text x="244.6" y="1262" font-size="27" text-anchor="middle" textLength="115.5" lengthAdjust="spacing">79<tspan font-size="21" dy="-12.6">o</tspan><tspan dy="12.6">50' W</tspan></text><text x="390" y="1262" font-size="27" text-anchor="middle" textLength="115.5" lengthAdjust="spacing">79<tspan font-size="21" dy="-12.6">o</tspan><tspan dy="12.6">40' W</tspan></text><text x="535.2" y="1262" font-size="27" text-anchor="middle" textLength="115.5" lengthAdjust="spacing">79<tspan font-size="21" dy="-12.6">o</tspan><tspan dy="12.6">30' W</tspan></text><text x="681.6" y="1262" font-size="27" text-anchor="middle" textLength="115.5" lengthAdjust="spacing">79<tspan font-size="21" dy="-12.6">o</tspan><tspan dy="12.6">20' W</tspan></text><text x="820.6" y="1262" font-size="27" text-anchor="middle" textLength="115.5" lengthAdjust="spacing">79<tspan font-size="21" dy="-12.6">o</tspan><tspan dy="12.6">10' W</tspan></text><text x="459.4" y="1300.8" font-size="31.4" text-anchor="middle" textLength="140" lengthAdjust="spacingAndGlyphs">Longitude</text></svg></body></html>
